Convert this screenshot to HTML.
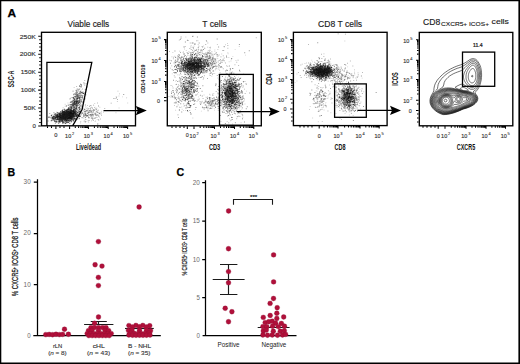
<!DOCTYPE html>
<html><head><meta charset="utf-8"><style>
html,body{margin:0;padding:0;background:#fff;width:520px;height:364px;overflow:hidden}
svg{display:block}
text{font-family:"Liberation Sans", sans-serif}
</style></head><body>
<svg width="520" height="364" viewBox="0 0 520 364" fill="#1a1a1a">
<rect width="520" height="364" fill="#fff"/>
<path fill="none" stroke="#000" stroke-width="1.3" d="M0 0.65H520M0.65 0V364"/>
<path fill="none" stroke="#000" stroke-width="1.6" d="M519.2 0V364M0 363.2H520"/>
<text x="7.50" y="16.50" font-size="10.6" stroke="#000" stroke-width="0.25" textLength="8.6" lengthAdjust="spacingAndGlyphs" font-weight="bold" fill="#000">A</text>
<text x="7.60" y="175.50" font-size="10.6" stroke="#000" stroke-width="0.25" font-weight="bold" fill="#000">B</text>
<text x="176.40" y="175.80" font-size="10.6" stroke="#000" stroke-width="0.25" font-weight="bold" fill="#000">C</text>
<path fill="#000" fill-opacity="0.2" d="M64.6 121.3h.9v.9h-.9zM76.2 95.0h.9v.9h-.9zM77.3 94.6h.9v.9h-.9zM78.0 93.0h.9v.9h-.9zM78.4 96.4h.9v.9h-.9zM69.2 115.0h.9v.9h-.9zM71.3 109.0h.9v.9h-.9zM80.4 102.3h.9v.9h-.9zM77.4 98.3h.9v.9h-.9zM68.7 114.4h.9v.9h-.9zM64.7 105.8h.9v.9h-.9zM77.1 103.2h.9v.9h-.9zM68.1 108.6h.9v.9h-.9zM68.5 114.8h.9v.9h-.9zM77.9 93.2h.9v.9h-.9zM70.3 112.4h.9v.9h-.9zM76.2 103.4h.9v.9h-.9zM82.3 98.1h.9v.9h-.9zM69.6 107.6h.9v.9h-.9zM74.8 114.2h.9v.9h-.9zM65.6 119.5h.9v.9h-.9zM73.1 102.4h.9v.9h-.9zM67.0 119.1h.9v.9h-.9zM63.0 115.9h.9v.9h-.9zM68.5 117.8h.9v.9h-.9zM62.6 113.9h.9v.9h-.9zM77.3 99.3h.9v.9h-.9zM72.9 104.5h.9v.9h-.9zM77.0 91.7h.9v.9h-.9zM70.9 103.8h.9v.9h-.9zM78.3 102.5h.9v.9h-.9zM72.9 106.6h.9v.9h-.9zM72.1 113.4h.9v.9h-.9zM81.9 96.5h.9v.9h-.9zM69.6 116.8h.9v.9h-.9zM74.5 100.7h.9v.9h-.9zM70.4 107.7h.9v.9h-.9zM77.4 99.7h.9v.9h-.9zM70.5 107.2h.9v.9h-.9zM74.8 107.6h.9v.9h-.9zM76.8 99.9h.9v.9h-.9zM71.2 109.0h.9v.9h-.9zM81.0 96.9h.9v.9h-.9zM78.7 100.4h.9v.9h-.9zM74.1 99.1h.9v.9h-.9zM70.4 113.2h.9v.9h-.9zM71.0 109.6h.9v.9h-.9zM71.1 110.3h.9v.9h-.9zM77.9 94.8h.9v.9h-.9zM64.7 103.8h.9v.9h-.9zM80.9 94.9h.9v.9h-.9zM73.1 93.5h.9v.9h-.9zM77.8 97.4h.9v.9h-.9zM72.9 113.1h.9v.9h-.9zM76.3 98.2h.9v.9h-.9zM76.5 99.5h.9v.9h-.9zM79.0 100.8h.9v.9h-.9zM74.3 106.2h.9v.9h-.9zM75.9 100.1h.9v.9h-.9zM74.3 105.6h.9v.9h-.9zM70.5 107.5h.9v.9h-.9zM81.0 96.4h.9v.9h-.9zM78.2 104.5h.9v.9h-.9zM80.7 89.6h.9v.9h-.9zM74.5 110.6h.9v.9h-.9zM71.7 106.5h.9v.9h-.9zM76.6 95.9h.9v.9h-.9zM70.6 105.3h.9v.9h-.9zM74.7 112.2h.9v.9h-.9zM80.0 93.1h.9v.9h-.9zM81.3 92.3h.9v.9h-.9zM72.9 105.9h.9v.9h-.9zM71.1 110.4h.9v.9h-.9zM67.8 114.8h.9v.9h-.9zM75.1 109.6h.9v.9h-.9zM76.9 94.5h.9v.9h-.9zM74.4 105.4h.9v.9h-.9zM70.1 109.4h.9v.9h-.9zM76.5 110.6h.9v.9h-.9zM67.3 108.8h.9v.9h-.9zM74.1 102.8h.9v.9h-.9zM73.1 115.0h.9v.9h-.9zM73.5 110.6h.9v.9h-.9zM79.6 98.6h.9v.9h-.9zM78.5 104.7h.9v.9h-.9zM68.9 112.5h.9v.9h-.9zM73.7 109.3h.9v.9h-.9zM75.4 106.1h.9v.9h-.9zM81.3 95.7h.9v.9h-.9zM83.8 82.4h.9v.9h-.9zM71.6 100.5h.9v.9h-.9zM76.8 94.0h.9v.9h-.9zM81.0 91.8h.9v.9h-.9zM82.1 92.3h.9v.9h-.9zM72.6 91.2h.9v.9h-.9zM77.2 90.5h.9v.9h-.9zM73.8 95.9h.9v.9h-.9zM81.7 95.1h.9v.9h-.9zM76.3 92.7h.9v.9h-.9zM79.9 91.9h.9v.9h-.9zM76.7 102.0h.9v.9h-.9zM77.7 100.4h.9v.9h-.9zM76.5 105.5h.9v.9h-.9zM77.6 94.2h.9v.9h-.9zM80.9 100.2h.9v.9h-.9zM81.7 99.0h.9v.9h-.9zM67.5 102.5h.9v.9h-.9zM77.9 106.7h.9v.9h-.9zM68.9 103.8h.9v.9h-.9zM79.4 93.0h.9v.9h-.9zM77.2 91.2h.9v.9h-.9zM80.7 94.8h.9v.9h-.9zM84.9 98.3h.9v.9h-.9zM79.9 95.6h.9v.9h-.9zM79.1 92.1h.9v.9h-.9zM83.1 101.2h.9v.9h-.9zM80.7 85.1h.9v.9h-.9zM79.5 88.2h.9v.9h-.9zM75.4 96.7h.9v.9h-.9zM78.0 100.4h.9v.9h-.9zM80.9 91.6h.9v.9h-.9zM76.7 97.4h.9v.9h-.9zM80.9 97.3h.9v.9h-.9zM78.9 97.1h.9v.9h-.9zM76.8 95.8h.9v.9h-.9zM71.9 103.9h.9v.9h-.9zM75.2 101.4h.9v.9h-.9zM76.5 100.9h.9v.9h-.9zM82.1 96.5h.9v.9h-.9zM81.6 95.2h.9v.9h-.9zM80.7 98.4h.9v.9h-.9zM78.5 109.1h.9v.9h-.9zM72.4 102.7h.9v.9h-.9zM87.0 115.1h.9v.9h-.9zM81.6 106.6h.9v.9h-.9zM94.7 106.7h.9v.9h-.9zM96.7 118.9h.9v.9h-.9zM98.2 114.4h.9v.9h-.9zM96.8 115.2h.9v.9h-.9zM88.0 115.6h.9v.9h-.9zM91.9 114.0h.9v.9h-.9zM91.3 109.8h.9v.9h-.9zM87.4 108.3h.9v.9h-.9zM87.9 112.4h.9v.9h-.9zM85.5 116.5h.9v.9h-.9zM88.2 121.8h.9v.9h-.9zM91.2 113.4h.9v.9h-.9zM96.2 114.5h.9v.9h-.9zM89.6 114.6h.9v.9h-.9zM75.5 110.1h.9v.9h-.9zM83.8 113.1h.9v.9h-.9zM90.5 113.8h.9v.9h-.9zM90.0 109.7h.9v.9h-.9zM86.1 109.8h.9v.9h-.9zM90.4 107.1h.9v.9h-.9zM73.0 111.7h.9v.9h-.9zM83.0 115.5h.9v.9h-.9zM87.3 107.4h.9v.9h-.9zM80.7 114.5h.9v.9h-.9zM92.5 116.8h.9v.9h-.9zM91.8 112.7h.9v.9h-.9zM84.3 111.8h.9v.9h-.9zM87.3 108.0h.9v.9h-.9zM86.7 115.8h.9v.9h-.9zM86.4 114.7h.9v.9h-.9zM80.3 102.3h.9v.9h-.9zM79.9 122.6h.9v.9h-.9zM99.4 106.8h.9v.9h-.9zM82.1 111.7h.9v.9h-.9zM90.9 116.8h.9v.9h-.9zM83.0 109.8h.9v.9h-.9zM97.1 114.1h.9v.9h-.9zM93.1 109.8h.9v.9h-.9zM96.1 109.7h.9v.9h-.9zM93.1 115.3h.9v.9h-.9zM84.5 113.7h.9v.9h-.9zM76.6 114.7h.9v.9h-.9zM90.0 108.7h.9v.9h-.9zM100.9 110.8h.9v.9h-.9zM81.7 112.6h.9v.9h-.9zM91.7 115.3h.9v.9h-.9zM92.6 116.2h.9v.9h-.9zM81.7 117.7h.9v.9h-.9zM98.3 123.5h.9v.9h-.9zM84.5 119.5h.9v.9h-.9zM91.9 108.1h.9v.9h-.9zM94.3 103.1h.9v.9h-.9zM89.4 110.1h.9v.9h-.9zM78.2 115.5h.9v.9h-.9zM85.8 108.0h.9v.9h-.9zM87.4 109.6h.9v.9h-.9zM82.2 107.5h.9v.9h-.9zM91.7 115.0h.9v.9h-.9zM95.0 120.4h.9v.9h-.9zM83.5 108.1h.9v.9h-.9zM98.6 114.6h.9v.9h-.9zM87.5 116.2h.9v.9h-.9zM94.3 113.7h.9v.9h-.9zM83.7 115.4h.9v.9h-.9zM92.4 119.1h.9v.9h-.9zM83.1 117.5h.9v.9h-.9zM82.4 112.5h.9v.9h-.9zM93.3 109.6h.9v.9h-.9zM91.0 113.9h.9v.9h-.9zM94.7 121.1h.9v.9h-.9zM83.5 115.0h.9v.9h-.9zM89.0 111.8h.9v.9h-.9zM96.6 117.0h.9v.9h-.9zM115.8 98.0h.9v.9h-.9zM115.6 96.4h.9v.9h-.9zM116.3 96.2h.9v.9h-.9zM115.0 98.2h.9v.9h-.9zM118.6 107.5h.9v.9h-.9zM115.5 112.3h.9v.9h-.9zM127.3 102.6h.9v.9h-.9zM122.0 96.4h.9v.9h-.9zM118.5 95.6h.9v.9h-.9z"/>
<path fill="#000" fill-opacity="0.3" d="M79.3 96.1h.9v.9h-.9zM75.7 100.4h.9v.9h-.9zM73.8 113.3h.9v.9h-.9zM66.8 111.5h.9v.9h-.9zM81.5 92.3h.9v.9h-.9zM71.6 101.3h.9v.9h-.9zM77.1 97.6h.9v.9h-.9zM67.8 105.0h.9v.9h-.9zM72.7 113.1h.9v.9h-.9zM77.6 96.1h.9v.9h-.9zM66.3 109.4h.9v.9h-.9zM80.7 100.8h.9v.9h-.9zM71.2 104.5h.9v.9h-.9zM71.7 105.0h.9v.9h-.9zM80.0 105.2h.9v.9h-.9zM67.0 110.4h.9v.9h-.9zM74.9 108.8h.9v.9h-.9zM75.7 100.9h.9v.9h-.9zM70.4 101.9h.9v.9h-.9zM67.8 108.1h.9v.9h-.9zM78.2 97.5h.9v.9h-.9zM70.6 101.0h.9v.9h-.9zM75.9 95.7h.9v.9h-.9zM78.8 101.7h.9v.9h-.9zM71.2 106.7h.9v.9h-.9zM73.5 97.6h.9v.9h-.9zM66.6 117.9h.9v.9h-.9zM75.1 101.7h.9v.9h-.9zM70.6 108.1h.9v.9h-.9zM72.1 113.6h.9v.9h-.9zM75.7 107.8h.9v.9h-.9zM74.1 99.6h.9v.9h-.9zM83.3 82.2h.9v.9h-.9zM72.9 110.4h.9v.9h-.9zM83.4 99.1h.9v.9h-.9zM82.2 91.9h.9v.9h-.9zM74.2 99.6h.9v.9h-.9zM77.1 98.6h.9v.9h-.9zM69.0 106.4h.9v.9h-.9zM76.8 103.2h.9v.9h-.9zM72.4 104.7h.9v.9h-.9zM70.1 109.5h.9v.9h-.9zM82.0 97.6h.9v.9h-.9zM73.7 86.9h.9v.9h-.9zM76.8 97.6h.9v.9h-.9zM79.1 104.0h.9v.9h-.9zM73.2 103.1h.9v.9h-.9zM79.5 100.0h.9v.9h-.9zM87.1 86.4h.9v.9h-.9zM77.8 103.1h.9v.9h-.9zM64.8 117.4h.9v.9h-.9zM72.3 105.6h.9v.9h-.9zM72.8 109.9h.9v.9h-.9zM76.0 102.1h.9v.9h-.9zM75.4 103.6h.9v.9h-.9zM72.9 105.2h.9v.9h-.9zM70.9 113.0h.9v.9h-.9zM65.4 109.5h.9v.9h-.9zM78.5 97.7h.9v.9h-.9zM69.3 110.3h.9v.9h-.9zM64.0 114.2h.9v.9h-.9zM74.0 100.3h.9v.9h-.9zM74.3 106.7h.9v.9h-.9zM71.6 110.6h.9v.9h-.9zM66.8 113.7h.9v.9h-.9zM78.7 96.7h.9v.9h-.9zM66.7 109.3h.9v.9h-.9zM72.8 104.3h.9v.9h-.9zM70.1 112.2h.9v.9h-.9zM74.1 98.3h.9v.9h-.9zM81.7 92.2h.9v.9h-.9zM73.2 104.8h.9v.9h-.9zM77.8 104.9h.9v.9h-.9zM77.2 104.9h.9v.9h-.9zM76.7 106.8h.9v.9h-.9zM77.0 95.1h.9v.9h-.9zM72.8 110.7h.9v.9h-.9zM75.2 102.9h.9v.9h-.9zM71.1 116.2h.9v.9h-.9zM72.1 105.5h.9v.9h-.9zM72.0 99.8h.9v.9h-.9zM80.8 84.0h.9v.9h-.9zM76.4 101.6h.9v.9h-.9zM76.2 108.0h.9v.9h-.9zM75.3 104.9h.9v.9h-.9zM75.4 100.7h.9v.9h-.9zM70.0 110.5h.9v.9h-.9zM69.5 113.0h.9v.9h-.9zM69.8 112.2h.9v.9h-.9zM69.0 104.6h.9v.9h-.9zM70.9 112.0h.9v.9h-.9zM70.5 110.5h.9v.9h-.9zM71.6 97.1h.9v.9h-.9zM78.6 102.8h.9v.9h-.9zM69.9 111.3h.9v.9h-.9zM71.6 101.1h.9v.9h-.9zM78.8 91.3h.9v.9h-.9zM81.9 101.5h.9v.9h-.9zM72.3 103.8h.9v.9h-.9zM74.6 109.0h.9v.9h-.9zM74.7 99.1h.9v.9h-.9zM81.0 84.3h.9v.9h-.9zM80.0 90.9h.9v.9h-.9zM82.2 96.7h.9v.9h-.9zM75.5 91.9h.9v.9h-.9zM78.0 93.4h.9v.9h-.9zM71.8 103.1h.9v.9h-.9zM83.3 93.0h.9v.9h-.9zM74.3 95.9h.9v.9h-.9zM80.0 83.6h.9v.9h-.9zM76.6 94.9h.9v.9h-.9zM84.1 99.0h.9v.9h-.9zM84.4 83.6h.9v.9h-.9zM75.7 103.2h.9v.9h-.9zM71.7 112.3h.9v.9h-.9zM78.8 92.9h.9v.9h-.9zM76.6 100.8h.9v.9h-.9zM82.5 91.0h.9v.9h-.9zM73.3 106.5h.9v.9h-.9zM72.6 90.5h.9v.9h-.9zM79.1 97.4h.9v.9h-.9zM81.1 84.9h.9v.9h-.9zM75.8 101.2h.9v.9h-.9zM73.9 97.6h.9v.9h-.9zM80.6 92.6h.9v.9h-.9zM69.9 97.8h.9v.9h-.9zM78.3 90.5h.9v.9h-.9zM85.5 89.1h.9v.9h-.9zM84.3 84.9h.9v.9h-.9zM78.0 97.4h.9v.9h-.9zM84.3 80.1h.9v.9h-.9zM76.1 99.4h.9v.9h-.9zM82.6 94.8h.9v.9h-.9zM77.8 113.6h.9v.9h-.9zM73.8 99.2h.9v.9h-.9zM79.7 91.8h.9v.9h-.9zM82.0 96.6h.9v.9h-.9zM77.8 101.2h.9v.9h-.9zM75.6 90.0h.9v.9h-.9zM79.8 94.2h.9v.9h-.9zM77.8 100.8h.9v.9h-.9zM78.9 94.6h.9v.9h-.9zM73.6 102.2h.9v.9h-.9zM80.0 96.9h.9v.9h-.9zM79.9 85.8h.9v.9h-.9zM83.2 91.9h.9v.9h-.9zM73.9 107.4h.9v.9h-.9zM82.0 88.6h.9v.9h-.9zM85.7 83.2h.9v.9h-.9zM77.8 96.1h.9v.9h-.9zM74.2 101.4h.9v.9h-.9zM76.4 90.5h.9v.9h-.9zM76.2 86.1h.9v.9h-.9zM76.2 92.1h.9v.9h-.9zM80.3 91.3h.9v.9h-.9zM76.6 102.1h.9v.9h-.9zM71.1 104.1h.9v.9h-.9zM75.2 98.8h.9v.9h-.9zM93.0 112.3h.9v.9h-.9zM88.2 112.6h.9v.9h-.9zM94.3 117.4h.9v.9h-.9zM88.0 116.8h.9v.9h-.9zM85.3 111.0h.9v.9h-.9zM91.1 120.4h.9v.9h-.9zM75.5 111.5h.9v.9h-.9zM92.3 118.6h.9v.9h-.9zM83.9 114.4h.9v.9h-.9zM95.6 111.8h.9v.9h-.9zM79.0 110.9h.9v.9h-.9zM85.4 121.0h.9v.9h-.9zM104.3 108.1h.9v.9h-.9zM97.9 119.2h.9v.9h-.9zM84.6 117.3h.9v.9h-.9zM91.8 112.0h.9v.9h-.9zM97.2 110.4h.9v.9h-.9zM85.7 115.9h.9v.9h-.9zM85.3 114.6h.9v.9h-.9zM89.9 108.1h.9v.9h-.9zM83.8 108.8h.9v.9h-.9zM95.1 117.2h.9v.9h-.9zM87.1 105.2h.9v.9h-.9zM93.1 111.0h.9v.9h-.9zM84.7 111.7h.9v.9h-.9zM88.7 120.1h.9v.9h-.9zM89.6 108.0h.9v.9h-.9zM89.9 114.0h.9v.9h-.9zM90.8 110.3h.9v.9h-.9zM80.3 108.2h.9v.9h-.9zM101.1 115.2h.9v.9h-.9zM78.9 113.4h.9v.9h-.9zM89.8 111.2h.9v.9h-.9zM83.7 114.5h.9v.9h-.9zM84.9 113.4h.9v.9h-.9zM84.8 109.6h.9v.9h-.9zM80.7 104.3h.9v.9h-.9zM85.3 118.9h.9v.9h-.9zM80.3 108.9h.9v.9h-.9zM95.8 114.9h.9v.9h-.9zM103.0 111.7h.9v.9h-.9zM87.0 109.8h.9v.9h-.9zM80.3 121.3h.9v.9h-.9zM99.9 118.5h.9v.9h-.9zM88.5 110.1h.9v.9h-.9zM85.8 114.7h.9v.9h-.9zM87.0 110.6h.9v.9h-.9zM97.1 102.5h.9v.9h-.9zM96.2 114.7h.9v.9h-.9zM99.1 113.2h.9v.9h-.9zM84.0 115.6h.9v.9h-.9zM88.5 117.2h.9v.9h-.9zM87.9 112.0h.9v.9h-.9zM86.1 115.8h.9v.9h-.9zM97.2 111.6h.9v.9h-.9zM85.5 119.2h.9v.9h-.9zM94.1 106.9h.9v.9h-.9zM79.7 115.8h.9v.9h-.9zM92.1 110.4h.9v.9h-.9zM85.6 112.8h.9v.9h-.9zM80.1 110.7h.9v.9h-.9zM92.6 109.6h.9v.9h-.9zM91.8 117.2h.9v.9h-.9zM85.4 106.5h.9v.9h-.9zM96.3 107.8h.9v.9h-.9zM90.1 110.7h.9v.9h-.9zM98.9 116.6h.9v.9h-.9zM100.0 118.7h.9v.9h-.9zM83.2 115.4h.9v.9h-.9zM90.2 115.8h.9v.9h-.9zM95.7 111.9h.9v.9h-.9zM87.2 115.5h.9v.9h-.9zM92.4 118.0h.9v.9h-.9zM96.3 116.7h.9v.9h-.9zM91.2 106.7h.9v.9h-.9zM100.6 113.8h.9v.9h-.9zM86.8 110.3h.9v.9h-.9zM117.5 90.7h.9v.9h-.9zM126.2 97.4h.9v.9h-.9zM119.0 93.4h.9v.9h-.9zM116.0 97.0h.9v.9h-.9zM116.9 100.9h.9v.9h-.9z"/>
<path fill="#000" fill-opacity="0.35" d="M65.8 119.3h.9v.9h-.9zM63.0 114.8h.9v.9h-.9zM66.0 113.6h.9v.9h-.9zM56.0 114.3h.9v.9h-.9zM65.3 116.3h.9v.9h-.9zM70.8 113.2h.9v.9h-.9zM66.1 116.1h.9v.9h-.9zM69.8 115.6h.9v.9h-.9zM65.9 117.4h.9v.9h-.9zM72.7 113.2h.9v.9h-.9zM66.1 113.0h.9v.9h-.9zM68.7 110.6h.9v.9h-.9zM63.9 115.3h.9v.9h-.9zM63.4 115.6h.9v.9h-.9zM63.8 118.9h.9v.9h-.9zM59.0 117.9h.9v.9h-.9zM61.3 115.1h.9v.9h-.9zM66.5 117.1h.9v.9h-.9zM54.9 119.8h.9v.9h-.9zM56.8 119.2h.9v.9h-.9zM66.2 112.1h.9v.9h-.9zM64.7 113.7h.9v.9h-.9zM71.0 113.8h.9v.9h-.9zM65.2 114.1h.9v.9h-.9zM71.8 114.6h.9v.9h-.9zM62.7 116.5h.9v.9h-.9zM63.6 115.5h.9v.9h-.9zM58.6 115.1h.9v.9h-.9zM73.8 113.0h.9v.9h-.9zM72.5 111.3h.9v.9h-.9zM64.5 114.6h.9v.9h-.9zM62.8 116.1h.9v.9h-.9zM72.2 113.7h.9v.9h-.9zM64.7 116.2h.9v.9h-.9zM63.2 120.1h.9v.9h-.9zM59.3 119.1h.9v.9h-.9zM68.0 117.8h.9v.9h-.9zM74.9 118.2h.9v.9h-.9zM65.4 118.1h.9v.9h-.9zM57.3 112.0h.9v.9h-.9zM66.8 115.9h.9v.9h-.9zM64.3 116.3h.9v.9h-.9zM60.6 115.1h.9v.9h-.9zM60.5 114.6h.9v.9h-.9zM67.3 116.6h.9v.9h-.9zM65.4 112.4h.9v.9h-.9zM64.0 119.1h.9v.9h-.9zM49.2 117.2h.9v.9h-.9zM60.3 118.1h.9v.9h-.9zM59.1 116.7h.9v.9h-.9zM65.5 112.7h.9v.9h-.9zM74.1 118.3h.9v.9h-.9zM63.2 118.3h.9v.9h-.9zM71.4 115.9h.9v.9h-.9zM65.5 119.8h.9v.9h-.9zM66.6 115.2h.9v.9h-.9zM65.2 114.6h.9v.9h-.9zM68.0 115.8h.9v.9h-.9zM63.8 113.5h.9v.9h-.9zM64.4 116.4h.9v.9h-.9zM57.5 116.7h.9v.9h-.9zM61.2 118.9h.9v.9h-.9zM62.5 116.9h.9v.9h-.9zM64.2 115.7h.9v.9h-.9zM60.3 117.6h.9v.9h-.9zM71.9 112.8h.9v.9h-.9zM68.0 120.2h.9v.9h-.9zM68.5 115.7h.9v.9h-.9zM55.8 114.0h.9v.9h-.9zM63.6 114.6h.9v.9h-.9zM68.7 121.1h.9v.9h-.9zM70.9 114.0h.9v.9h-.9zM66.6 118.3h.9v.9h-.9zM56.8 115.4h.9v.9h-.9zM63.6 118.8h.9v.9h-.9zM66.6 112.8h.9v.9h-.9zM72.2 116.4h.9v.9h-.9zM64.0 113.4h.9v.9h-.9zM78.2 113.6h.9v.9h-.9zM66.3 111.7h.9v.9h-.9zM63.6 118.7h.9v.9h-.9zM59.2 119.6h.9v.9h-.9zM57.9 117.2h.9v.9h-.9zM62.3 114.1h.9v.9h-.9zM69.8 114.0h.9v.9h-.9zM65.0 116.2h.9v.9h-.9zM65.3 111.8h.9v.9h-.9zM56.5 117.3h.9v.9h-.9zM60.1 115.0h.9v.9h-.9zM66.7 115.7h.9v.9h-.9zM66.3 116.0h.9v.9h-.9zM57.7 114.7h.9v.9h-.9zM58.8 118.9h.9v.9h-.9zM69.6 113.0h.9v.9h-.9zM72.5 107.9h.9v.9h-.9zM70.7 112.5h.9v.9h-.9zM64.1 112.5h.9v.9h-.9zM63.5 116.2h.9v.9h-.9zM65.1 115.8h.9v.9h-.9zM59.9 116.7h.9v.9h-.9zM74.8 114.2h.9v.9h-.9zM62.5 114.6h.9v.9h-.9zM68.5 115.3h.9v.9h-.9zM66.7 115.8h.9v.9h-.9zM58.8 115.5h.9v.9h-.9zM64.0 111.1h.9v.9h-.9zM66.0 116.3h.9v.9h-.9zM67.8 116.2h.9v.9h-.9zM62.2 115.9h.9v.9h-.9zM68.2 118.5h.9v.9h-.9zM57.7 119.6h.9v.9h-.9zM67.4 112.0h.9v.9h-.9zM66.9 120.1h.9v.9h-.9zM57.3 118.7h.9v.9h-.9zM57.0 116.4h.9v.9h-.9zM62.5 114.3h.9v.9h-.9zM54.2 116.9h.9v.9h-.9zM69.3 108.6h.9v.9h-.9zM70.0 120.1h.9v.9h-.9zM64.7 116.0h.9v.9h-.9zM70.7 111.4h.9v.9h-.9zM70.7 116.4h.9v.9h-.9zM66.8 113.5h.9v.9h-.9zM70.1 113.7h.9v.9h-.9zM63.3 119.3h.9v.9h-.9zM73.2 114.5h.9v.9h-.9zM57.3 113.7h.9v.9h-.9zM64.8 116.6h.9v.9h-.9zM71.2 115.1h.9v.9h-.9zM64.4 117.9h.9v.9h-.9zM57.5 114.7h.9v.9h-.9zM54.0 120.8h.9v.9h-.9zM66.8 118.6h.9v.9h-.9zM59.5 115.7h.9v.9h-.9zM65.9 111.0h.9v.9h-.9zM67.2 112.0h.9v.9h-.9zM67.0 115.5h.9v.9h-.9zM62.8 114.9h.9v.9h-.9zM65.2 115.9h.9v.9h-.9zM60.1 115.9h.9v.9h-.9zM65.9 114.6h.9v.9h-.9zM62.1 115.2h.9v.9h-.9zM67.1 119.7h.9v.9h-.9zM61.7 114.3h.9v.9h-.9zM69.0 115.2h.9v.9h-.9zM67.3 116.0h.9v.9h-.9zM67.5 116.7h.9v.9h-.9zM58.2 116.7h.9v.9h-.9zM68.3 113.8h.9v.9h-.9zM69.4 112.5h.9v.9h-.9zM69.5 116.8h.9v.9h-.9zM72.7 115.4h.9v.9h-.9zM70.2 113.8h.9v.9h-.9zM64.7 122.3h.9v.9h-.9zM65.1 116.9h.9v.9h-.9zM71.6 113.8h.9v.9h-.9zM72.1 115.8h.9v.9h-.9zM69.8 120.5h.9v.9h-.9zM64.1 116.5h.9v.9h-.9zM60.7 116.2h.9v.9h-.9zM71.2 120.9h.9v.9h-.9zM75.6 113.9h.9v.9h-.9zM69.2 115.7h.9v.9h-.9zM66.9 117.6h.9v.9h-.9zM70.7 114.1h.9v.9h-.9zM71.5 113.5h.9v.9h-.9zM60.0 120.0h.9v.9h-.9zM63.7 118.6h.9v.9h-.9zM71.5 114.0h.9v.9h-.9zM63.4 119.1h.9v.9h-.9zM74.8 118.8h.9v.9h-.9zM55.7 115.1h.9v.9h-.9zM68.8 117.4h.9v.9h-.9zM67.8 117.3h.9v.9h-.9zM54.2 119.3h.9v.9h-.9zM67.4 113.4h.9v.9h-.9zM67.8 113.6h.9v.9h-.9zM67.4 120.1h.9v.9h-.9zM70.3 113.6h.9v.9h-.9zM67.4 113.9h.9v.9h-.9zM61.9 116.0h.9v.9h-.9zM66.9 112.2h.9v.9h-.9zM56.8 114.7h.9v.9h-.9zM55.3 115.2h.9v.9h-.9zM67.0 115.0h.9v.9h-.9zM74.2 109.7h.9v.9h-.9zM64.0 118.4h.9v.9h-.9zM63.7 114.3h.9v.9h-.9zM61.1 115.7h.9v.9h-.9zM59.9 113.0h.9v.9h-.9zM62.0 111.0h.9v.9h-.9zM67.9 120.3h.9v.9h-.9zM60.0 116.2h.9v.9h-.9zM64.4 116.6h.9v.9h-.9zM65.5 114.2h.9v.9h-.9zM60.9 115.1h.9v.9h-.9zM62.1 121.6h.9v.9h-.9zM67.0 122.0h.9v.9h-.9zM69.4 115.9h.9v.9h-.9zM64.5 114.8h.9v.9h-.9zM64.4 114.8h.9v.9h-.9zM69.2 114.4h.9v.9h-.9zM67.3 117.0h.9v.9h-.9zM67.3 115.9h.9v.9h-.9zM64.9 115.3h.9v.9h-.9zM69.3 112.7h.9v.9h-.9zM72.2 115.0h.9v.9h-.9zM62.1 116.9h.9v.9h-.9zM65.3 118.7h.9v.9h-.9zM61.7 121.0h.9v.9h-.9zM67.7 118.3h.9v.9h-.9zM63.0 114.3h.9v.9h-.9zM65.7 117.2h.9v.9h-.9zM62.5 115.8h.9v.9h-.9zM63.8 116.8h.9v.9h-.9zM63.6 114.3h.9v.9h-.9zM64.8 114.0h.9v.9h-.9zM63.0 118.7h.9v.9h-.9zM58.7 117.6h.9v.9h-.9zM70.5 115.0h.9v.9h-.9zM68.5 119.9h.9v.9h-.9zM65.3 112.3h.9v.9h-.9zM61.2 113.1h.9v.9h-.9zM59.5 120.2h.9v.9h-.9zM68.8 118.6h.9v.9h-.9zM71.6 118.0h.9v.9h-.9zM57.8 116.9h.9v.9h-.9zM59.8 121.9h.9v.9h-.9zM62.3 117.3h.9v.9h-.9zM62.0 120.0h.9v.9h-.9zM66.3 112.2h.9v.9h-.9zM73.5 112.7h.9v.9h-.9zM66.8 113.5h.9v.9h-.9zM65.2 118.0h.9v.9h-.9zM57.6 120.0h.9v.9h-.9zM57.4 119.5h.9v.9h-.9zM66.9 118.0h.9v.9h-.9zM61.7 113.4h.9v.9h-.9zM63.0 111.8h.9v.9h-.9zM64.4 115.4h.9v.9h-.9zM74.0 113.8h.9v.9h-.9zM58.6 114.6h.9v.9h-.9zM64.1 118.1h.9v.9h-.9zM74.6 112.3h.9v.9h-.9zM72.8 118.8h.9v.9h-.9zM75.2 117.7h.9v.9h-.9zM65.3 119.0h.9v.9h-.9zM70.1 112.2h.9v.9h-.9zM64.1 112.9h.9v.9h-.9zM61.7 117.1h.9v.9h-.9zM61.0 113.8h.9v.9h-.9zM77.3 115.4h.9v.9h-.9zM63.8 118.2h.9v.9h-.9zM67.0 116.5h.9v.9h-.9zM64.8 113.7h.9v.9h-.9zM58.4 115.1h.9v.9h-.9zM63.8 119.9h.9v.9h-.9zM64.4 116.4h.9v.9h-.9zM67.8 116.2h.9v.9h-.9zM77.2 112.4h.9v.9h-.9zM60.8 118.1h.9v.9h-.9zM67.6 117.6h.9v.9h-.9zM62.0 115.0h.9v.9h-.9zM65.0 117.5h.9v.9h-.9zM56.0 120.0h.9v.9h-.9zM72.5 111.9h.9v.9h-.9zM68.9 115.2h.9v.9h-.9zM60.1 120.5h.9v.9h-.9zM65.2 119.2h.9v.9h-.9zM65.5 113.1h.9v.9h-.9zM69.6 114.1h.9v.9h-.9zM76.4 116.0h.9v.9h-.9zM67.6 113.5h.9v.9h-.9zM65.9 115.5h.9v.9h-.9zM63.5 115.6h.9v.9h-.9zM66.6 118.5h.9v.9h-.9zM60.3 114.0h.9v.9h-.9zM61.1 114.5h.9v.9h-.9zM66.1 116.9h.9v.9h-.9zM73.9 115.5h.9v.9h-.9zM60.8 117.4h.9v.9h-.9zM64.4 119.0h.9v.9h-.9zM63.5 115.0h.9v.9h-.9zM68.8 116.0h.9v.9h-.9zM75.8 114.9h.9v.9h-.9zM64.9 115.9h.9v.9h-.9zM64.3 110.8h.9v.9h-.9zM63.3 115.7h.9v.9h-.9zM67.0 116.1h.9v.9h-.9zM71.4 112.5h.9v.9h-.9zM63.2 118.3h.9v.9h-.9zM59.1 116.0h.9v.9h-.9zM60.5 116.8h.9v.9h-.9zM67.2 118.3h.9v.9h-.9zM72.7 115.3h.9v.9h-.9zM64.1 118.2h.9v.9h-.9zM68.7 113.6h.9v.9h-.9zM64.1 113.7h.9v.9h-.9zM69.6 118.2h.9v.9h-.9zM61.2 116.3h.9v.9h-.9zM70.4 113.6h.9v.9h-.9zM63.6 114.4h.9v.9h-.9zM71.3 116.9h.9v.9h-.9zM70.0 116.4h.9v.9h-.9zM70.7 113.8h.9v.9h-.9zM64.0 112.8h.9v.9h-.9zM58.9 114.2h.9v.9h-.9zM54.0 119.7h.9v.9h-.9zM59.6 114.3h.9v.9h-.9zM57.8 121.8h.9v.9h-.9zM66.5 119.3h.9v.9h-.9zM63.2 118.9h.9v.9h-.9zM75.0 115.3h.9v.9h-.9zM66.0 121.5h.9v.9h-.9zM71.1 118.1h.9v.9h-.9zM66.4 115.9h.9v.9h-.9zM60.6 118.2h.9v.9h-.9zM55.3 116.5h.9v.9h-.9zM62.2 113.1h.9v.9h-.9zM73.3 114.0h.9v.9h-.9zM60.1 119.4h.9v.9h-.9zM66.7 116.4h.9v.9h-.9zM64.3 121.2h.9v.9h-.9zM64.0 113.1h.9v.9h-.9zM70.2 112.8h.9v.9h-.9zM67.3 117.4h.9v.9h-.9zM68.5 116.9h.9v.9h-.9zM63.3 113.0h.9v.9h-.9zM72.9 115.5h.9v.9h-.9zM65.1 116.1h.9v.9h-.9zM71.1 115.4h.9v.9h-.9zM64.7 115.4h.9v.9h-.9zM67.2 113.5h.9v.9h-.9zM63.0 116.3h.9v.9h-.9zM62.7 116.1h.9v.9h-.9zM76.0 112.2h.9v.9h-.9zM74.6 113.8h.9v.9h-.9zM65.2 118.3h.9v.9h-.9zM66.2 115.6h.9v.9h-.9zM63.8 114.6h.9v.9h-.9zM63.6 114.4h.9v.9h-.9zM63.4 117.5h.9v.9h-.9zM60.7 116.4h.9v.9h-.9zM57.7 118.7h.9v.9h-.9zM66.9 115.4h.9v.9h-.9zM70.4 118.3h.9v.9h-.9zM61.8 113.6h.9v.9h-.9zM62.3 115.3h.9v.9h-.9zM70.1 113.6h.9v.9h-.9zM69.6 114.5h.9v.9h-.9zM69.1 116.6h.9v.9h-.9zM59.1 117.6h.9v.9h-.9zM64.7 113.9h.9v.9h-.9zM69.4 114.0h.9v.9h-.9zM63.0 113.0h.9v.9h-.9zM66.7 113.0h.9v.9h-.9zM72.1 117.7h.9v.9h-.9zM66.7 111.5h.9v.9h-.9zM60.3 119.2h.9v.9h-.9zM74.1 115.4h.9v.9h-.9zM71.7 113.5h.9v.9h-.9zM67.6 111.9h.9v.9h-.9zM59.8 113.5h.9v.9h-.9zM76.1 114.7h.9v.9h-.9zM63.2 120.5h.9v.9h-.9zM66.1 116.0h.9v.9h-.9zM58.6 121.7h.9v.9h-.9zM58.8 120.9h.9v.9h-.9zM68.5 114.6h.9v.9h-.9zM64.0 118.8h.9v.9h-.9zM62.6 117.8h.9v.9h-.9zM64.9 115.8h.9v.9h-.9zM65.4 117.5h.9v.9h-.9zM73.4 114.6h.9v.9h-.9zM71.4 117.5h.9v.9h-.9zM64.4 117.3h.9v.9h-.9zM69.0 108.5h.9v.9h-.9zM70.8 121.3h.9v.9h-.9zM62.9 116.6h.9v.9h-.9zM64.2 117.1h.9v.9h-.9zM60.8 117.4h.9v.9h-.9zM71.2 111.9h.9v.9h-.9zM69.8 116.7h.9v.9h-.9zM74.5 109.9h.9v.9h-.9zM62.0 114.6h.9v.9h-.9zM59.8 115.5h.9v.9h-.9zM65.5 115.6h.9v.9h-.9zM58.4 116.4h.9v.9h-.9zM63.9 112.2h.9v.9h-.9zM69.1 113.5h.9v.9h-.9zM60.4 114.0h.9v.9h-.9zM66.8 113.1h.9v.9h-.9zM64.1 115.6h.9v.9h-.9zM56.0 118.4h.9v.9h-.9zM69.0 110.4h.9v.9h-.9zM70.3 113.3h.9v.9h-.9zM62.0 114.8h.9v.9h-.9zM71.5 120.3h.9v.9h-.9zM67.2 114.0h.9v.9h-.9zM63.4 119.0h.9v.9h-.9zM60.9 120.3h.9v.9h-.9zM57.0 116.3h.9v.9h-.9zM63.2 115.1h.9v.9h-.9zM69.4 115.8h.9v.9h-.9zM59.7 120.2h.9v.9h-.9zM66.4 116.0h.9v.9h-.9zM62.7 107.4h.9v.9h-.9zM66.7 118.6h.9v.9h-.9zM66.9 114.8h.9v.9h-.9zM65.4 118.4h.9v.9h-.9zM64.2 116.4h.9v.9h-.9zM62.1 114.6h.9v.9h-.9zM73.8 114.0h.9v.9h-.9zM64.0 119.9h.9v.9h-.9zM63.5 122.1h.9v.9h-.9zM58.8 118.1h.9v.9h-.9zM63.9 112.6h.9v.9h-.9zM70.0 118.2h.9v.9h-.9zM64.6 118.5h.9v.9h-.9zM66.6 117.5h.9v.9h-.9zM72.7 112.2h.9v.9h-.9zM63.2 112.9h.9v.9h-.9zM69.3 112.4h.9v.9h-.9zM69.8 115.9h.9v.9h-.9zM64.0 116.0h.9v.9h-.9zM70.0 112.7h.9v.9h-.9zM57.2 114.9h.9v.9h-.9zM62.9 114.4h.9v.9h-.9zM61.7 116.5h.9v.9h-.9zM72.4 114.3h.9v.9h-.9zM66.9 118.7h.9v.9h-.9zM70.6 119.3h.9v.9h-.9zM67.0 116.3h.9v.9h-.9zM65.8 116.0h.9v.9h-.9zM73.8 119.3h.9v.9h-.9zM67.7 116.7h.9v.9h-.9zM58.2 114.5h.9v.9h-.9zM65.7 114.5h.9v.9h-.9zM66.3 116.0h.9v.9h-.9zM64.5 114.0h.9v.9h-.9zM57.7 118.6h.9v.9h-.9zM56.0 120.4h.9v.9h-.9zM62.7 122.3h.9v.9h-.9zM62.5 117.3h.9v.9h-.9zM68.5 112.8h.9v.9h-.9zM66.6 113.5h.9v.9h-.9zM70.8 116.3h.9v.9h-.9zM65.6 112.7h.9v.9h-.9zM66.1 114.0h.9v.9h-.9zM69.0 115.2h.9v.9h-.9zM61.4 118.9h.9v.9h-.9zM64.0 116.5h.9v.9h-.9zM73.0 114.2h.9v.9h-.9zM67.4 117.9h.9v.9h-.9zM66.7 112.8h.9v.9h-.9zM70.5 117.2h.9v.9h-.9zM74.0 114.6h.9v.9h-.9zM68.6 117.1h.9v.9h-.9zM67.4 114.2h.9v.9h-.9zM67.5 116.0h.9v.9h-.9zM69.7 112.2h.9v.9h-.9zM67.5 112.2h.9v.9h-.9zM65.2 117.1h.9v.9h-.9zM66.9 118.4h.9v.9h-.9zM66.7 116.9h.9v.9h-.9zM61.1 118.7h.9v.9h-.9zM69.1 116.8h.9v.9h-.9zM74.6 115.3h.9v.9h-.9zM71.6 112.5h.9v.9h-.9zM68.0 117.5h.9v.9h-.9zM69.5 123.2h.9v.9h-.9zM61.0 115.1h.9v.9h-.9zM60.0 115.2h.9v.9h-.9zM64.5 113.7h.9v.9h-.9zM63.8 117.9h.9v.9h-.9zM56.1 115.5h.9v.9h-.9zM69.2 115.6h.9v.9h-.9zM67.8 113.2h.9v.9h-.9zM75.0 113.1h.9v.9h-.9zM68.5 112.6h.9v.9h-.9zM71.4 113.1h.9v.9h-.9zM67.8 115.7h.9v.9h-.9zM64.1 113.1h.9v.9h-.9zM66.1 114.3h.9v.9h-.9zM68.0 115.1h.9v.9h-.9zM64.6 119.3h.9v.9h-.9zM69.5 117.1h.9v.9h-.9zM71.0 112.5h.9v.9h-.9zM57.6 115.5h.9v.9h-.9zM61.6 116.5h.9v.9h-.9zM70.7 113.6h.9v.9h-.9zM61.8 118.6h.9v.9h-.9zM73.3 111.9h.9v.9h-.9zM63.4 114.4h.9v.9h-.9zM65.2 115.5h.9v.9h-.9zM65.5 111.0h.9v.9h-.9zM72.5 115.4h.9v.9h-.9zM69.3 114.4h.9v.9h-.9zM72.9 117.4h.9v.9h-.9zM60.2 115.2h.9v.9h-.9zM56.0 119.2h.9v.9h-.9zM64.5 116.8h.9v.9h-.9zM65.0 115.9h.9v.9h-.9zM62.4 120.3h.9v.9h-.9zM69.5 112.6h.9v.9h-.9zM59.9 116.0h.9v.9h-.9zM71.3 115.9h.9v.9h-.9zM57.9 117.1h.9v.9h-.9zM65.9 114.2h.9v.9h-.9zM70.3 113.5h.9v.9h-.9zM70.4 115.1h.9v.9h-.9zM67.4 115.6h.9v.9h-.9zM72.8 117.2h.9v.9h-.9zM61.3 114.9h.9v.9h-.9zM72.3 115.7h.9v.9h-.9zM59.6 121.4h.9v.9h-.9zM66.8 112.3h.9v.9h-.9zM67.2 114.8h.9v.9h-.9zM56.3 111.8h.9v.9h-.9zM55.0 116.9h.9v.9h-.9zM61.4 113.6h.9v.9h-.9zM60.2 112.6h.9v.9h-.9zM66.8 111.3h.9v.9h-.9zM70.0 111.5h.9v.9h-.9zM72.2 111.6h.9v.9h-.9zM71.5 116.4h.9v.9h-.9zM59.1 116.5h.9v.9h-.9zM66.3 115.2h.9v.9h-.9zM67.3 116.0h.9v.9h-.9zM67.9 109.2h.9v.9h-.9zM71.4 114.2h.9v.9h-.9zM67.7 113.5h.9v.9h-.9zM74.1 110.5h.9v.9h-.9zM68.0 113.5h.9v.9h-.9zM72.7 113.0h.9v.9h-.9zM63.3 111.1h.9v.9h-.9zM75.0 110.9h.9v.9h-.9zM70.0 114.8h.9v.9h-.9zM68.4 113.0h.9v.9h-.9zM68.0 118.7h.9v.9h-.9zM77.3 108.5h.9v.9h-.9zM69.1 114.2h.9v.9h-.9zM64.8 117.5h.9v.9h-.9zM62.8 116.3h.9v.9h-.9zM78.4 111.8h.9v.9h-.9zM70.8 114.4h.9v.9h-.9zM70.2 117.6h.9v.9h-.9zM62.0 112.0h.9v.9h-.9zM73.7 109.6h.9v.9h-.9zM74.9 112.3h.9v.9h-.9zM66.8 115.9h.9v.9h-.9zM67.1 116.7h.9v.9h-.9zM68.1 117.0h.9v.9h-.9zM70.2 116.4h.9v.9h-.9zM69.2 115.2h.9v.9h-.9zM64.2 114.9h.9v.9h-.9zM63.4 110.5h.9v.9h-.9zM75.2 113.7h.9v.9h-.9zM71.2 114.1h.9v.9h-.9zM69.1 114.5h.9v.9h-.9zM65.4 114.9h.9v.9h-.9zM69.4 112.4h.9v.9h-.9zM70.4 116.0h.9v.9h-.9zM79.4 115.2h.9v.9h-.9zM68.7 111.4h.9v.9h-.9zM67.2 110.1h.9v.9h-.9zM74.1 108.2h.9v.9h-.9zM69.9 110.1h.9v.9h-.9zM72.9 120.2h.9v.9h-.9zM65.4 113.5h.9v.9h-.9zM67.4 116.1h.9v.9h-.9zM76.1 114.3h.9v.9h-.9zM73.2 109.7h.9v.9h-.9zM72.3 110.5h.9v.9h-.9zM69.3 117.6h.9v.9h-.9zM77.3 112.8h.9v.9h-.9zM73.5 112.0h.9v.9h-.9zM62.6 115.3h.9v.9h-.9zM70.2 109.4h.9v.9h-.9zM68.1 110.3h.9v.9h-.9zM60.6 115.1h.9v.9h-.9zM75.6 111.3h.9v.9h-.9zM77.1 113.9h.9v.9h-.9zM65.8 117.0h.9v.9h-.9zM70.4 117.8h.9v.9h-.9zM63.6 116.3h.9v.9h-.9zM65.7 113.4h.9v.9h-.9zM74.2 112.1h.9v.9h-.9zM72.5 114.4h.9v.9h-.9zM73.9 113.1h.9v.9h-.9zM66.5 117.3h.9v.9h-.9zM72.3 112.9h.9v.9h-.9zM68.8 114.9h.9v.9h-.9zM70.6 107.1h.9v.9h-.9zM72.8 107.4h.9v.9h-.9zM73.4 114.0h.9v.9h-.9zM63.5 111.5h.9v.9h-.9zM73.4 110.7h.9v.9h-.9zM69.3 113.7h.9v.9h-.9zM75.0 114.8h.9v.9h-.9zM70.3 115.4h.9v.9h-.9zM68.1 108.8h.9v.9h-.9zM68.1 111.0h.9v.9h-.9zM65.4 114.7h.9v.9h-.9zM63.1 113.6h.9v.9h-.9zM67.8 115.5h.9v.9h-.9zM69.6 112.6h.9v.9h-.9zM71.4 116.2h.9v.9h-.9zM69.3 116.7h.9v.9h-.9zM72.8 111.4h.9v.9h-.9zM75.8 113.9h.9v.9h-.9zM69.8 112.9h.9v.9h-.9zM65.9 109.8h.9v.9h-.9zM66.6 115.7h.9v.9h-.9zM71.4 111.3h.9v.9h-.9zM66.4 118.2h.9v.9h-.9zM69.6 111.7h.9v.9h-.9zM69.7 115.3h.9v.9h-.9zM74.5 113.3h.9v.9h-.9zM71.4 113.6h.9v.9h-.9zM66.4 120.3h.9v.9h-.9zM71.1 116.3h.9v.9h-.9zM67.3 118.3h.9v.9h-.9zM64.3 114.3h.9v.9h-.9zM65.1 114.8h.9v.9h-.9zM69.9 114.9h.9v.9h-.9zM68.4 115.1h.9v.9h-.9zM64.6 116.0h.9v.9h-.9zM67.2 114.5h.9v.9h-.9zM67.5 114.4h.9v.9h-.9zM63.3 112.4h.9v.9h-.9zM71.9 110.9h.9v.9h-.9zM76.1 103.7h.9v.9h-.9zM75.5 108.5h.9v.9h-.9zM73.7 101.6h.9v.9h-.9zM81.6 102.0h.9v.9h-.9zM77.4 102.1h.9v.9h-.9zM70.7 109.4h.9v.9h-.9zM72.9 104.5h.9v.9h-.9zM69.4 98.5h.9v.9h-.9zM80.2 96.1h.9v.9h-.9zM80.7 105.7h.9v.9h-.9zM77.2 97.7h.9v.9h-.9zM76.8 99.3h.9v.9h-.9zM75.5 101.5h.9v.9h-.9zM67.6 108.8h.9v.9h-.9zM80.8 99.1h.9v.9h-.9zM70.3 105.5h.9v.9h-.9zM75.4 104.3h.9v.9h-.9zM76.4 96.4h.9v.9h-.9zM68.9 116.5h.9v.9h-.9zM82.4 95.7h.9v.9h-.9zM77.0 101.3h.9v.9h-.9zM76.2 100.9h.9v.9h-.9zM73.4 97.4h.9v.9h-.9zM73.6 96.4h.9v.9h-.9zM71.8 104.8h.9v.9h-.9zM74.6 112.9h.9v.9h-.9zM74.5 101.0h.9v.9h-.9zM76.3 106.6h.9v.9h-.9zM69.1 111.3h.9v.9h-.9zM73.0 109.7h.9v.9h-.9zM71.5 117.6h.9v.9h-.9zM75.4 102.4h.9v.9h-.9zM78.6 103.8h.9v.9h-.9zM76.2 109.0h.9v.9h-.9zM76.7 101.8h.9v.9h-.9zM79.5 93.2h.9v.9h-.9zM78.0 101.4h.9v.9h-.9zM75.1 103.8h.9v.9h-.9zM69.9 112.2h.9v.9h-.9zM76.7 100.4h.9v.9h-.9zM80.1 95.6h.9v.9h-.9zM71.5 108.4h.9v.9h-.9zM69.6 98.6h.9v.9h-.9zM73.6 101.5h.9v.9h-.9zM76.4 101.0h.9v.9h-.9zM51.7 117.9h.9v.9h-.9zM57.0 115.1h.9v.9h-.9zM53.1 118.5h.9v.9h-.9zM49.3 113.0h.9v.9h-.9zM53.4 119.4h.9v.9h-.9zM58.7 118.4h.9v.9h-.9zM58.9 116.0h.9v.9h-.9zM57.7 118.1h.9v.9h-.9zM52.0 117.3h.9v.9h-.9zM53.4 116.2h.9v.9h-.9zM55.2 119.9h.9v.9h-.9zM54.0 117.8h.9v.9h-.9zM58.8 116.5h.9v.9h-.9zM56.5 114.0h.9v.9h-.9zM52.6 118.2h.9v.9h-.9zM54.0 117.2h.9v.9h-.9zM54.5 119.1h.9v.9h-.9zM50.8 115.1h.9v.9h-.9zM55.9 113.8h.9v.9h-.9zM54.9 116.9h.9v.9h-.9zM57.8 116.6h.9v.9h-.9zM53.5 119.4h.9v.9h-.9zM54.5 117.9h.9v.9h-.9zM61.6 118.6h.9v.9h-.9zM51.8 119.4h.9v.9h-.9zM60.7 120.5h.9v.9h-.9zM53.1 117.4h.9v.9h-.9zM51.8 120.1h.9v.9h-.9zM55.8 118.6h.9v.9h-.9zM56.3 116.3h.9v.9h-.9zM51.6 117.4h.9v.9h-.9zM57.6 115.1h.9v.9h-.9zM52.3 117.4h.9v.9h-.9zM54.8 118.9h.9v.9h-.9zM55.2 118.4h.9v.9h-.9zM55.9 120.9h.9v.9h-.9z"/>
<path fill="#000" fill-opacity="0.45" d="M75.6 104.6h.9v.9h-.9zM73.0 108.5h.9v.9h-.9zM74.0 101.3h.9v.9h-.9zM77.0 104.6h.9v.9h-.9zM66.6 120.0h.9v.9h-.9zM67.7 110.8h.9v.9h-.9zM72.1 101.1h.9v.9h-.9zM74.1 103.6h.9v.9h-.9zM77.3 102.8h.9v.9h-.9zM72.5 107.2h.9v.9h-.9zM69.0 109.7h.9v.9h-.9zM78.7 118.3h.9v.9h-.9zM77.0 100.5h.9v.9h-.9zM75.4 96.0h.9v.9h-.9zM67.8 104.5h.9v.9h-.9zM75.8 104.6h.9v.9h-.9zM75.4 103.4h.9v.9h-.9zM67.1 112.4h.9v.9h-.9zM70.0 112.0h.9v.9h-.9zM72.4 117.6h.9v.9h-.9zM72.3 111.2h.9v.9h-.9zM76.9 94.8h.9v.9h-.9zM74.8 96.1h.9v.9h-.9zM69.4 112.2h.9v.9h-.9zM76.4 97.0h.9v.9h-.9zM68.9 107.3h.9v.9h-.9zM76.3 95.1h.9v.9h-.9zM73.0 94.3h.9v.9h-.9zM68.1 113.2h.9v.9h-.9zM72.0 103.5h.9v.9h-.9zM76.1 102.1h.9v.9h-.9zM69.4 114.4h.9v.9h-.9zM79.3 95.2h.9v.9h-.9zM72.8 104.1h.9v.9h-.9zM75.8 98.1h.9v.9h-.9zM74.0 108.8h.9v.9h-.9zM76.4 106.2h.9v.9h-.9zM76.9 103.8h.9v.9h-.9zM68.2 110.0h.9v.9h-.9zM69.9 116.1h.9v.9h-.9zM79.2 101.2h.9v.9h-.9zM75.6 103.1h.9v.9h-.9zM69.9 106.4h.9v.9h-.9zM77.2 100.6h.9v.9h-.9zM75.1 104.4h.9v.9h-.9zM80.6 92.3h.9v.9h-.9zM75.8 99.8h.9v.9h-.9zM71.8 117.3h.9v.9h-.9zM73.9 100.5h.9v.9h-.9zM79.3 97.5h.9v.9h-.9zM79.4 108.9h.9v.9h-.9zM67.7 112.0h.9v.9h-.9zM78.8 101.8h.9v.9h-.9zM77.9 97.1h.9v.9h-.9zM71.4 113.0h.9v.9h-.9zM73.0 107.4h.9v.9h-.9zM72.6 107.8h.9v.9h-.9zM77.8 103.0h.9v.9h-.9zM60.1 116.9h.9v.9h-.9zM74.1 112.6h.9v.9h-.9zM72.5 103.6h.9v.9h-.9zM68.3 117.5h.9v.9h-.9zM73.4 104.9h.9v.9h-.9zM74.1 104.2h.9v.9h-.9zM81.2 92.0h.9v.9h-.9zM71.1 103.9h.9v.9h-.9zM69.1 116.9h.9v.9h-.9zM73.6 113.4h.9v.9h-.9zM72.8 111.2h.9v.9h-.9zM79.5 101.9h.9v.9h-.9zM78.0 97.8h.9v.9h-.9zM76.8 95.8h.9v.9h-.9zM74.5 105.5h.9v.9h-.9zM70.5 106.4h.9v.9h-.9zM70.8 110.2h.9v.9h-.9zM80.9 97.2h.9v.9h-.9zM75.9 100.3h.9v.9h-.9zM71.7 105.6h.9v.9h-.9zM75.3 94.3h.9v.9h-.9zM72.3 106.6h.9v.9h-.9zM69.7 117.9h.9v.9h-.9zM70.2 112.9h.9v.9h-.9zM75.9 99.0h.9v.9h-.9zM84.4 94.0h.9v.9h-.9zM73.0 106.3h.9v.9h-.9zM71.9 102.1h.9v.9h-.9zM75.5 93.2h.9v.9h-.9zM77.6 101.3h.9v.9h-.9zM72.7 112.6h.9v.9h-.9zM70.2 104.0h.9v.9h-.9zM72.3 110.5h.9v.9h-.9zM79.7 92.7h.9v.9h-.9zM75.0 97.3h.9v.9h-.9zM67.6 118.7h.9v.9h-.9zM74.4 93.0h.9v.9h-.9zM80.2 90.8h.9v.9h-.9zM64.3 111.5h.9v.9h-.9zM70.3 111.4h.9v.9h-.9zM69.8 120.3h.9v.9h-.9zM77.1 92.3h.9v.9h-.9zM69.8 102.2h.9v.9h-.9zM74.5 106.1h.9v.9h-.9zM68.2 108.6h.9v.9h-.9zM77.9 102.6h.9v.9h-.9zM81.9 92.2h.9v.9h-.9zM74.3 100.2h.9v.9h-.9zM73.0 97.5h.9v.9h-.9zM84.3 98.6h.9v.9h-.9zM72.3 100.7h.9v.9h-.9zM75.6 91.8h.9v.9h-.9zM76.2 104.8h.9v.9h-.9zM75.2 93.8h.9v.9h-.9zM78.0 96.7h.9v.9h-.9zM80.6 105.2h.9v.9h-.9zM78.9 100.0h.9v.9h-.9zM84.8 89.3h.9v.9h-.9zM81.5 95.0h.9v.9h-.9zM75.9 101.8h.9v.9h-.9zM80.6 94.4h.9v.9h-.9zM75.5 105.2h.9v.9h-.9zM70.1 106.4h.9v.9h-.9zM78.4 88.8h.9v.9h-.9zM76.4 93.1h.9v.9h-.9zM80.4 84.1h.9v.9h-.9zM75.9 99.7h.9v.9h-.9zM71.2 106.3h.9v.9h-.9zM73.2 100.5h.9v.9h-.9zM76.1 100.9h.9v.9h-.9zM79.7 85.9h.9v.9h-.9zM80.6 86.8h.9v.9h-.9zM76.5 98.4h.9v.9h-.9zM74.6 104.4h.9v.9h-.9zM80.0 103.3h.9v.9h-.9zM71.8 102.0h.9v.9h-.9zM81.0 85.8h.9v.9h-.9zM78.9 93.4h.9v.9h-.9zM76.9 96.5h.9v.9h-.9zM74.5 101.0h.9v.9h-.9zM79.7 99.2h.9v.9h-.9zM71.8 97.3h.9v.9h-.9zM79.1 101.6h.9v.9h-.9zM70.1 109.0h.9v.9h-.9zM74.1 94.2h.9v.9h-.9zM83.5 83.4h.9v.9h-.9zM85.5 94.4h.9v.9h-.9zM75.8 89.8h.9v.9h-.9zM76.9 100.3h.9v.9h-.9zM76.3 97.7h.9v.9h-.9zM70.8 101.6h.9v.9h-.9zM77.6 89.5h.9v.9h-.9zM76.8 88.6h.9v.9h-.9zM77.7 94.4h.9v.9h-.9zM79.4 95.0h.9v.9h-.9zM78.0 94.6h.9v.9h-.9zM76.7 97.0h.9v.9h-.9zM78.9 88.8h.9v.9h-.9zM78.5 102.0h.9v.9h-.9zM83.8 92.6h.9v.9h-.9zM76.1 91.2h.9v.9h-.9zM99.1 112.8h.9v.9h-.9zM91.9 113.8h.9v.9h-.9zM98.1 115.6h.9v.9h-.9zM89.2 105.8h.9v.9h-.9zM80.0 110.5h.9v.9h-.9zM84.7 112.8h.9v.9h-.9zM90.9 117.8h.9v.9h-.9zM95.2 114.5h.9v.9h-.9zM83.3 115.8h.9v.9h-.9zM92.8 120.2h.9v.9h-.9zM89.2 117.4h.9v.9h-.9zM84.8 114.3h.9v.9h-.9zM79.2 106.1h.9v.9h-.9zM94.7 114.2h.9v.9h-.9zM100.5 112.6h.9v.9h-.9zM93.2 104.7h.9v.9h-.9zM91.8 107.4h.9v.9h-.9zM91.2 114.8h.9v.9h-.9zM85.5 114.2h.9v.9h-.9zM83.7 120.7h.9v.9h-.9zM98.7 112.8h.9v.9h-.9zM98.3 119.7h.9v.9h-.9zM82.5 112.7h.9v.9h-.9zM96.8 114.7h.9v.9h-.9zM85.0 117.2h.9v.9h-.9zM88.5 114.1h.9v.9h-.9zM86.9 115.0h.9v.9h-.9zM83.0 113.9h.9v.9h-.9zM90.8 111.6h.9v.9h-.9zM84.8 121.6h.9v.9h-.9zM92.8 114.0h.9v.9h-.9zM90.4 114.1h.9v.9h-.9zM84.1 109.1h.9v.9h-.9zM94.5 118.1h.9v.9h-.9zM87.0 113.1h.9v.9h-.9zM93.1 109.6h.9v.9h-.9zM91.0 111.6h.9v.9h-.9zM94.0 109.8h.9v.9h-.9zM91.3 115.5h.9v.9h-.9zM87.9 111.4h.9v.9h-.9zM80.5 113.8h.9v.9h-.9zM90.4 105.1h.9v.9h-.9zM94.4 112.8h.9v.9h-.9zM80.5 106.3h.9v.9h-.9zM94.9 108.4h.9v.9h-.9zM85.9 115.1h.9v.9h-.9zM87.7 114.7h.9v.9h-.9zM98.0 105.6h.9v.9h-.9zM96.0 109.2h.9v.9h-.9zM88.1 108.4h.9v.9h-.9zM94.4 109.4h.9v.9h-.9zM80.4 112.7h.9v.9h-.9zM84.9 104.5h.9v.9h-.9zM90.4 111.9h.9v.9h-.9zM95.9 110.9h.9v.9h-.9zM87.5 112.4h.9v.9h-.9zM81.4 112.3h.9v.9h-.9zM80.8 109.2h.9v.9h-.9zM97.0 123.6h.9v.9h-.9zM81.7 113.2h.9v.9h-.9zM84.9 115.1h.9v.9h-.9zM88.1 117.4h.9v.9h-.9zM77.9 106.9h.9v.9h-.9zM88.7 111.5h.9v.9h-.9zM92.4 117.9h.9v.9h-.9zM92.7 114.6h.9v.9h-.9zM95.4 113.6h.9v.9h-.9zM85.8 110.5h.9v.9h-.9zM86.3 110.3h.9v.9h-.9zM89.4 110.1h.9v.9h-.9zM89.7 109.7h.9v.9h-.9zM97.4 112.1h.9v.9h-.9zM84.8 110.9h.9v.9h-.9zM91.3 110.9h.9v.9h-.9zM79.9 111.3h.9v.9h-.9zM84.8 113.5h.9v.9h-.9zM89.2 111.7h.9v.9h-.9zM84.3 109.4h.9v.9h-.9zM97.8 109.7h.9v.9h-.9zM89.6 115.0h.9v.9h-.9zM83.8 111.1h.9v.9h-.9zM94.9 112.9h.9v.9h-.9zM90.8 114.4h.9v.9h-.9zM87.7 120.4h.9v.9h-.9zM81.6 117.0h.9v.9h-.9zM91.4 115.1h.9v.9h-.9zM123.3 94.1h.9v.9h-.9zM110.7 102.7h.9v.9h-.9zM113.5 98.0h.9v.9h-.9zM117.0 99.2h.9v.9h-.9z"/>
<path fill="#000" fill-opacity="0.5" d="M64.1 114.0h.9v.9h-.9zM63.2 113.9h.9v.9h-.9zM67.9 116.5h.9v.9h-.9zM65.4 117.7h.9v.9h-.9zM56.3 116.9h.9v.9h-.9zM66.3 115.4h.9v.9h-.9zM65.3 118.2h.9v.9h-.9zM72.3 111.1h.9v.9h-.9zM69.3 112.4h.9v.9h-.9zM64.6 117.8h.9v.9h-.9zM65.2 117.7h.9v.9h-.9zM62.6 116.0h.9v.9h-.9zM71.8 116.7h.9v.9h-.9zM64.2 120.0h.9v.9h-.9zM64.5 113.4h.9v.9h-.9zM65.4 114.9h.9v.9h-.9zM71.3 116.7h.9v.9h-.9zM65.4 117.7h.9v.9h-.9zM57.1 112.3h.9v.9h-.9zM64.0 114.0h.9v.9h-.9zM60.3 116.6h.9v.9h-.9zM66.8 113.7h.9v.9h-.9zM64.9 111.1h.9v.9h-.9zM61.3 118.6h.9v.9h-.9zM62.4 113.3h.9v.9h-.9zM61.7 117.7h.9v.9h-.9zM68.7 114.8h.9v.9h-.9zM58.6 119.4h.9v.9h-.9zM70.3 114.9h.9v.9h-.9zM68.2 117.5h.9v.9h-.9zM59.8 112.7h.9v.9h-.9zM57.3 118.5h.9v.9h-.9zM65.2 117.1h.9v.9h-.9zM66.5 113.9h.9v.9h-.9zM75.6 111.0h.9v.9h-.9zM69.9 115.1h.9v.9h-.9zM63.2 118.2h.9v.9h-.9zM65.1 116.3h.9v.9h-.9zM65.4 110.6h.9v.9h-.9zM72.2 115.1h.9v.9h-.9zM65.7 118.0h.9v.9h-.9zM68.3 116.1h.9v.9h-.9zM65.9 113.3h.9v.9h-.9zM64.2 115.8h.9v.9h-.9zM62.7 115.5h.9v.9h-.9zM56.4 121.3h.9v.9h-.9zM70.3 117.5h.9v.9h-.9zM64.5 116.3h.9v.9h-.9zM62.3 120.5h.9v.9h-.9zM65.2 118.2h.9v.9h-.9zM63.5 115.7h.9v.9h-.9zM73.1 114.0h.9v.9h-.9zM65.5 113.5h.9v.9h-.9zM67.8 120.6h.9v.9h-.9zM70.9 118.9h.9v.9h-.9zM66.8 117.2h.9v.9h-.9zM65.7 119.6h.9v.9h-.9zM61.2 115.4h.9v.9h-.9zM67.0 115.3h.9v.9h-.9zM66.6 116.6h.9v.9h-.9zM64.0 116.1h.9v.9h-.9zM57.1 118.3h.9v.9h-.9zM69.8 117.1h.9v.9h-.9zM59.6 116.8h.9v.9h-.9zM64.6 113.3h.9v.9h-.9zM68.1 115.3h.9v.9h-.9zM63.6 115.5h.9v.9h-.9zM66.4 116.8h.9v.9h-.9zM72.2 114.0h.9v.9h-.9zM63.0 115.3h.9v.9h-.9zM61.4 115.9h.9v.9h-.9zM65.3 118.2h.9v.9h-.9zM65.3 113.3h.9v.9h-.9zM70.3 113.0h.9v.9h-.9zM59.9 117.8h.9v.9h-.9zM61.5 114.8h.9v.9h-.9zM67.7 113.3h.9v.9h-.9zM74.8 113.8h.9v.9h-.9zM75.0 111.9h.9v.9h-.9zM69.6 114.4h.9v.9h-.9zM61.1 112.0h.9v.9h-.9zM65.3 119.2h.9v.9h-.9zM66.8 115.4h.9v.9h-.9zM61.9 114.2h.9v.9h-.9zM64.3 114.8h.9v.9h-.9zM58.7 117.2h.9v.9h-.9zM63.6 113.9h.9v.9h-.9zM66.0 112.9h.9v.9h-.9zM66.7 116.2h.9v.9h-.9zM66.9 116.7h.9v.9h-.9zM66.5 112.1h.9v.9h-.9zM70.5 115.8h.9v.9h-.9zM64.3 113.1h.9v.9h-.9zM67.5 116.0h.9v.9h-.9zM67.5 114.9h.9v.9h-.9zM67.3 113.2h.9v.9h-.9zM70.0 116.2h.9v.9h-.9zM62.5 116.4h.9v.9h-.9zM64.9 117.4h.9v.9h-.9zM71.2 115.9h.9v.9h-.9zM62.8 116.3h.9v.9h-.9zM65.3 119.7h.9v.9h-.9zM60.9 117.5h.9v.9h-.9zM62.2 112.7h.9v.9h-.9zM68.0 114.4h.9v.9h-.9zM70.6 114.6h.9v.9h-.9zM71.0 112.9h.9v.9h-.9zM61.2 117.2h.9v.9h-.9zM76.7 119.2h.9v.9h-.9zM65.8 116.5h.9v.9h-.9zM60.6 117.1h.9v.9h-.9zM68.0 113.4h.9v.9h-.9zM63.7 113.7h.9v.9h-.9zM61.8 115.7h.9v.9h-.9zM64.3 115.3h.9v.9h-.9zM71.6 116.3h.9v.9h-.9zM75.1 118.7h.9v.9h-.9zM61.8 115.8h.9v.9h-.9zM62.5 115.6h.9v.9h-.9zM56.5 115.2h.9v.9h-.9zM63.9 116.1h.9v.9h-.9zM57.1 117.2h.9v.9h-.9zM76.9 114.0h.9v.9h-.9zM64.3 117.5h.9v.9h-.9zM66.8 116.1h.9v.9h-.9zM73.3 113.1h.9v.9h-.9zM73.0 110.0h.9v.9h-.9zM72.5 111.0h.9v.9h-.9zM69.3 114.7h.9v.9h-.9zM62.2 117.9h.9v.9h-.9zM60.9 111.6h.9v.9h-.9zM63.6 112.6h.9v.9h-.9zM64.5 112.4h.9v.9h-.9zM62.3 111.6h.9v.9h-.9zM64.2 116.7h.9v.9h-.9zM66.0 112.9h.9v.9h-.9zM66.0 114.3h.9v.9h-.9zM78.4 111.5h.9v.9h-.9zM63.2 114.3h.9v.9h-.9zM63.1 116.3h.9v.9h-.9zM58.3 116.1h.9v.9h-.9zM59.7 114.9h.9v.9h-.9zM69.3 114.2h.9v.9h-.9zM65.6 116.3h.9v.9h-.9zM69.6 112.6h.9v.9h-.9zM69.4 116.0h.9v.9h-.9zM64.8 113.3h.9v.9h-.9zM68.8 112.8h.9v.9h-.9zM66.4 113.2h.9v.9h-.9zM66.0 119.8h.9v.9h-.9zM58.9 119.6h.9v.9h-.9zM65.7 117.2h.9v.9h-.9zM62.0 116.1h.9v.9h-.9zM71.4 111.6h.9v.9h-.9zM65.0 112.9h.9v.9h-.9zM67.5 117.5h.9v.9h-.9zM63.0 116.6h.9v.9h-.9zM66.6 118.0h.9v.9h-.9zM76.9 112.2h.9v.9h-.9zM69.5 114.6h.9v.9h-.9zM69.2 115.2h.9v.9h-.9zM65.1 118.6h.9v.9h-.9zM65.4 117.3h.9v.9h-.9zM70.8 114.3h.9v.9h-.9zM64.3 115.8h.9v.9h-.9zM70.6 114.2h.9v.9h-.9zM67.3 116.7h.9v.9h-.9zM63.4 121.3h.9v.9h-.9zM63.6 117.4h.9v.9h-.9zM64.1 111.7h.9v.9h-.9zM64.4 110.7h.9v.9h-.9zM73.5 112.1h.9v.9h-.9zM68.8 112.1h.9v.9h-.9zM74.3 115.1h.9v.9h-.9zM69.7 115.2h.9v.9h-.9zM64.2 112.8h.9v.9h-.9zM66.1 122.0h.9v.9h-.9zM71.2 112.4h.9v.9h-.9zM69.8 114.4h.9v.9h-.9zM71.4 112.2h.9v.9h-.9zM65.0 112.1h.9v.9h-.9zM66.9 115.3h.9v.9h-.9zM69.5 116.2h.9v.9h-.9zM77.0 110.6h.9v.9h-.9zM61.8 115.4h.9v.9h-.9zM61.9 119.4h.9v.9h-.9zM61.6 111.0h.9v.9h-.9zM61.8 111.6h.9v.9h-.9zM67.3 117.3h.9v.9h-.9zM62.4 113.9h.9v.9h-.9zM57.3 115.0h.9v.9h-.9zM68.2 115.7h.9v.9h-.9zM65.1 111.4h.9v.9h-.9zM62.8 117.0h.9v.9h-.9zM68.7 117.7h.9v.9h-.9zM72.4 114.6h.9v.9h-.9zM65.4 118.2h.9v.9h-.9zM72.3 116.6h.9v.9h-.9zM67.1 114.8h.9v.9h-.9zM70.1 114.4h.9v.9h-.9zM70.1 117.9h.9v.9h-.9zM62.1 115.4h.9v.9h-.9zM63.2 113.3h.9v.9h-.9zM66.7 116.9h.9v.9h-.9zM72.5 115.9h.9v.9h-.9zM70.8 118.9h.9v.9h-.9zM59.6 113.4h.9v.9h-.9zM74.1 117.2h.9v.9h-.9zM62.8 116.3h.9v.9h-.9zM66.4 117.9h.9v.9h-.9zM62.5 118.0h.9v.9h-.9zM65.6 115.4h.9v.9h-.9zM79.0 115.7h.9v.9h-.9zM60.6 120.1h.9v.9h-.9zM67.6 116.6h.9v.9h-.9zM59.0 113.9h.9v.9h-.9zM58.8 113.0h.9v.9h-.9zM66.4 116.9h.9v.9h-.9zM67.2 116.5h.9v.9h-.9zM68.2 117.0h.9v.9h-.9zM62.3 118.0h.9v.9h-.9zM70.3 118.3h.9v.9h-.9zM59.7 118.5h.9v.9h-.9zM79.6 115.5h.9v.9h-.9zM73.3 114.7h.9v.9h-.9zM68.5 114.1h.9v.9h-.9zM63.5 112.0h.9v.9h-.9zM63.3 112.8h.9v.9h-.9zM74.0 116.8h.9v.9h-.9zM57.9 120.9h.9v.9h-.9zM78.8 117.8h.9v.9h-.9zM66.8 111.0h.9v.9h-.9zM63.1 118.2h.9v.9h-.9zM68.8 114.1h.9v.9h-.9zM65.0 118.6h.9v.9h-.9zM61.2 114.4h.9v.9h-.9zM63.4 118.2h.9v.9h-.9zM59.4 121.0h.9v.9h-.9zM68.0 120.0h.9v.9h-.9zM69.5 119.1h.9v.9h-.9zM64.3 118.0h.9v.9h-.9zM79.0 110.9h.9v.9h-.9zM71.9 113.3h.9v.9h-.9zM67.6 113.5h.9v.9h-.9zM75.6 117.4h.9v.9h-.9zM69.3 122.8h.9v.9h-.9zM60.0 115.7h.9v.9h-.9zM73.4 111.9h.9v.9h-.9zM66.1 119.8h.9v.9h-.9zM67.2 113.5h.9v.9h-.9zM62.5 121.4h.9v.9h-.9zM68.8 115.1h.9v.9h-.9zM67.4 118.8h.9v.9h-.9zM63.7 118.2h.9v.9h-.9zM64.0 115.1h.9v.9h-.9zM65.3 116.3h.9v.9h-.9zM61.8 116.9h.9v.9h-.9zM62.2 116.3h.9v.9h-.9zM69.9 113.2h.9v.9h-.9zM62.9 121.8h.9v.9h-.9zM62.7 116.0h.9v.9h-.9zM64.4 117.2h.9v.9h-.9zM59.1 114.7h.9v.9h-.9zM66.0 110.6h.9v.9h-.9zM59.7 113.5h.9v.9h-.9zM68.4 116.9h.9v.9h-.9zM60.5 114.8h.9v.9h-.9zM55.3 120.7h.9v.9h-.9zM67.2 118.3h.9v.9h-.9zM66.2 118.9h.9v.9h-.9zM65.9 113.6h.9v.9h-.9zM68.9 113.8h.9v.9h-.9zM69.9 110.7h.9v.9h-.9zM69.0 114.9h.9v.9h-.9zM69.5 113.1h.9v.9h-.9zM62.4 122.0h.9v.9h-.9zM61.4 114.9h.9v.9h-.9zM71.5 119.3h.9v.9h-.9zM58.6 113.6h.9v.9h-.9zM59.4 117.9h.9v.9h-.9zM66.2 113.2h.9v.9h-.9zM60.7 119.0h.9v.9h-.9zM63.7 117.2h.9v.9h-.9zM68.9 115.3h.9v.9h-.9zM61.2 117.3h.9v.9h-.9zM63.5 115.6h.9v.9h-.9zM59.6 117.8h.9v.9h-.9zM65.6 119.0h.9v.9h-.9zM68.0 116.6h.9v.9h-.9zM74.2 114.4h.9v.9h-.9zM70.4 115.0h.9v.9h-.9zM61.9 115.8h.9v.9h-.9zM76.3 114.8h.9v.9h-.9zM68.5 116.3h.9v.9h-.9zM60.4 116.7h.9v.9h-.9zM64.3 116.0h.9v.9h-.9zM62.4 121.4h.9v.9h-.9zM65.2 121.5h.9v.9h-.9zM67.0 116.5h.9v.9h-.9zM63.8 112.8h.9v.9h-.9zM68.1 119.3h.9v.9h-.9zM55.8 117.2h.9v.9h-.9zM60.3 118.5h.9v.9h-.9zM67.4 115.1h.9v.9h-.9zM73.2 118.3h.9v.9h-.9zM57.6 117.3h.9v.9h-.9zM65.1 117.6h.9v.9h-.9zM65.7 113.9h.9v.9h-.9zM74.2 116.2h.9v.9h-.9zM60.0 116.9h.9v.9h-.9zM62.8 116.2h.9v.9h-.9zM66.3 122.6h.9v.9h-.9zM63.7 117.1h.9v.9h-.9zM61.6 118.2h.9v.9h-.9zM64.6 116.2h.9v.9h-.9zM66.3 114.7h.9v.9h-.9zM61.7 116.8h.9v.9h-.9zM60.3 114.9h.9v.9h-.9zM69.8 117.3h.9v.9h-.9zM74.8 112.2h.9v.9h-.9zM63.8 117.6h.9v.9h-.9zM65.5 115.1h.9v.9h-.9zM59.7 119.5h.9v.9h-.9zM59.2 122.2h.9v.9h-.9zM61.8 111.1h.9v.9h-.9zM70.7 116.5h.9v.9h-.9zM64.0 116.4h.9v.9h-.9zM65.6 113.7h.9v.9h-.9zM71.6 111.6h.9v.9h-.9zM65.0 114.2h.9v.9h-.9zM69.2 116.1h.9v.9h-.9zM70.5 113.8h.9v.9h-.9zM66.7 111.9h.9v.9h-.9zM63.4 119.2h.9v.9h-.9zM65.7 112.4h.9v.9h-.9zM60.6 120.7h.9v.9h-.9zM71.3 116.9h.9v.9h-.9zM60.8 115.0h.9v.9h-.9zM63.2 116.2h.9v.9h-.9zM73.1 116.0h.9v.9h-.9zM71.9 114.4h.9v.9h-.9zM58.1 120.7h.9v.9h-.9zM74.8 116.1h.9v.9h-.9zM65.8 114.4h.9v.9h-.9zM66.0 119.4h.9v.9h-.9zM62.1 115.7h.9v.9h-.9zM58.6 113.6h.9v.9h-.9zM60.5 119.1h.9v.9h-.9zM62.0 121.3h.9v.9h-.9zM66.2 118.1h.9v.9h-.9zM58.5 116.8h.9v.9h-.9zM61.4 115.2h.9v.9h-.9zM64.8 111.4h.9v.9h-.9zM74.9 111.5h.9v.9h-.9zM60.2 114.8h.9v.9h-.9zM68.7 117.4h.9v.9h-.9zM71.4 114.1h.9v.9h-.9zM61.7 116.9h.9v.9h-.9zM57.5 114.9h.9v.9h-.9zM72.8 119.7h.9v.9h-.9zM68.8 118.4h.9v.9h-.9zM62.9 116.2h.9v.9h-.9zM63.9 113.6h.9v.9h-.9zM67.4 115.0h.9v.9h-.9zM63.4 116.7h.9v.9h-.9zM69.7 113.5h.9v.9h-.9zM61.5 115.7h.9v.9h-.9zM64.6 115.8h.9v.9h-.9zM62.8 115.0h.9v.9h-.9zM69.6 115.9h.9v.9h-.9zM67.5 117.1h.9v.9h-.9zM62.5 114.3h.9v.9h-.9zM66.4 115.3h.9v.9h-.9zM65.9 115.5h.9v.9h-.9zM68.1 114.6h.9v.9h-.9zM64.1 116.9h.9v.9h-.9zM68.9 116.5h.9v.9h-.9zM59.6 118.8h.9v.9h-.9zM63.2 113.7h.9v.9h-.9zM66.3 116.7h.9v.9h-.9zM64.2 114.3h.9v.9h-.9zM64.0 117.1h.9v.9h-.9zM67.4 109.3h.9v.9h-.9zM66.1 114.2h.9v.9h-.9zM61.6 116.1h.9v.9h-.9zM65.2 112.7h.9v.9h-.9zM64.4 118.1h.9v.9h-.9zM75.3 116.2h.9v.9h-.9zM70.9 114.9h.9v.9h-.9zM66.8 116.2h.9v.9h-.9zM61.6 111.4h.9v.9h-.9zM62.1 111.5h.9v.9h-.9zM57.1 119.0h.9v.9h-.9zM69.8 115.6h.9v.9h-.9zM59.5 119.5h.9v.9h-.9zM70.2 113.5h.9v.9h-.9zM62.5 114.4h.9v.9h-.9zM61.6 115.2h.9v.9h-.9zM70.2 115.1h.9v.9h-.9zM71.8 115.0h.9v.9h-.9zM66.0 113.0h.9v.9h-.9zM63.5 121.1h.9v.9h-.9zM60.2 111.2h.9v.9h-.9zM63.4 111.0h.9v.9h-.9zM67.7 115.2h.9v.9h-.9zM71.0 116.4h.9v.9h-.9zM75.7 113.5h.9v.9h-.9zM57.7 113.9h.9v.9h-.9zM63.0 115.1h.9v.9h-.9zM65.9 118.7h.9v.9h-.9zM69.1 114.0h.9v.9h-.9zM64.7 119.9h.9v.9h-.9zM67.0 121.8h.9v.9h-.9zM72.0 114.0h.9v.9h-.9zM69.5 117.8h.9v.9h-.9zM70.2 113.4h.9v.9h-.9zM67.3 115.3h.9v.9h-.9zM59.9 121.3h.9v.9h-.9zM57.9 117.7h.9v.9h-.9zM59.4 116.2h.9v.9h-.9zM62.3 113.6h.9v.9h-.9zM60.0 117.4h.9v.9h-.9zM65.7 115.0h.9v.9h-.9zM78.5 114.8h.9v.9h-.9zM58.5 120.6h.9v.9h-.9zM72.9 116.1h.9v.9h-.9zM66.6 116.2h.9v.9h-.9zM62.1 120.4h.9v.9h-.9zM67.4 118.3h.9v.9h-.9zM59.7 118.2h.9v.9h-.9zM70.3 116.8h.9v.9h-.9zM68.2 114.8h.9v.9h-.9zM69.4 117.2h.9v.9h-.9zM67.8 115.8h.9v.9h-.9zM70.6 117.8h.9v.9h-.9zM71.5 114.5h.9v.9h-.9zM60.3 117.5h.9v.9h-.9zM75.4 111.7h.9v.9h-.9zM68.9 112.3h.9v.9h-.9zM63.4 113.8h.9v.9h-.9zM57.0 113.9h.9v.9h-.9zM68.2 114.7h.9v.9h-.9zM59.8 115.6h.9v.9h-.9zM64.4 117.1h.9v.9h-.9zM68.3 116.1h.9v.9h-.9zM54.7 116.4h.9v.9h-.9zM60.7 115.1h.9v.9h-.9zM59.9 116.6h.9v.9h-.9zM71.3 118.5h.9v.9h-.9zM75.6 114.7h.9v.9h-.9zM64.2 115.6h.9v.9h-.9zM70.9 116.4h.9v.9h-.9zM61.9 118.7h.9v.9h-.9zM70.4 117.7h.9v.9h-.9zM52.5 114.4h.9v.9h-.9zM60.4 116.4h.9v.9h-.9zM68.6 115.2h.9v.9h-.9zM60.7 116.6h.9v.9h-.9zM62.3 123.1h.9v.9h-.9zM61.8 118.8h.9v.9h-.9zM58.8 114.1h.9v.9h-.9zM71.2 113.6h.9v.9h-.9zM70.8 115.8h.9v.9h-.9zM59.0 118.8h.9v.9h-.9zM70.4 116.1h.9v.9h-.9zM64.3 115.4h.9v.9h-.9zM61.3 114.2h.9v.9h-.9zM67.3 117.9h.9v.9h-.9zM66.3 114.7h.9v.9h-.9zM78.5 107.6h.9v.9h-.9zM70.1 114.7h.9v.9h-.9zM64.1 118.7h.9v.9h-.9zM69.8 114.0h.9v.9h-.9zM63.0 113.5h.9v.9h-.9zM68.4 117.9h.9v.9h-.9zM76.1 117.5h.9v.9h-.9zM64.3 119.1h.9v.9h-.9zM63.2 111.5h.9v.9h-.9zM69.8 112.3h.9v.9h-.9zM65.6 111.8h.9v.9h-.9zM65.4 121.1h.9v.9h-.9zM70.3 118.0h.9v.9h-.9zM59.0 119.6h.9v.9h-.9zM68.1 118.0h.9v.9h-.9zM57.5 117.9h.9v.9h-.9zM66.9 117.3h.9v.9h-.9zM62.8 116.1h.9v.9h-.9zM64.2 112.6h.9v.9h-.9zM63.1 121.4h.9v.9h-.9zM68.2 117.3h.9v.9h-.9zM66.8 114.4h.9v.9h-.9zM73.0 115.7h.9v.9h-.9zM68.5 110.8h.9v.9h-.9zM70.9 109.3h.9v.9h-.9zM76.9 115.0h.9v.9h-.9zM68.3 110.7h.9v.9h-.9zM71.5 111.7h.9v.9h-.9zM68.8 113.1h.9v.9h-.9zM72.5 110.9h.9v.9h-.9zM68.7 107.9h.9v.9h-.9zM76.1 112.4h.9v.9h-.9zM67.9 112.6h.9v.9h-.9zM69.7 110.0h.9v.9h-.9zM66.8 110.6h.9v.9h-.9zM70.9 115.7h.9v.9h-.9zM78.5 112.2h.9v.9h-.9zM73.5 111.5h.9v.9h-.9zM70.2 108.6h.9v.9h-.9zM72.5 110.7h.9v.9h-.9zM73.7 109.8h.9v.9h-.9zM62.9 112.2h.9v.9h-.9zM75.3 113.4h.9v.9h-.9zM73.9 116.7h.9v.9h-.9zM73.1 116.4h.9v.9h-.9zM69.2 110.9h.9v.9h-.9zM68.2 112.5h.9v.9h-.9zM76.5 109.1h.9v.9h-.9zM65.9 121.8h.9v.9h-.9zM65.4 113.2h.9v.9h-.9zM69.0 115.3h.9v.9h-.9zM75.2 109.6h.9v.9h-.9zM73.6 110.3h.9v.9h-.9zM73.5 110.8h.9v.9h-.9zM66.7 114.8h.9v.9h-.9zM66.6 109.2h.9v.9h-.9zM74.3 106.5h.9v.9h-.9zM60.2 117.8h.9v.9h-.9zM69.6 112.0h.9v.9h-.9zM71.4 114.0h.9v.9h-.9zM72.6 114.3h.9v.9h-.9zM64.7 116.2h.9v.9h-.9zM74.1 116.6h.9v.9h-.9zM65.9 114.9h.9v.9h-.9zM67.3 114.6h.9v.9h-.9zM73.0 115.9h.9v.9h-.9zM66.0 118.0h.9v.9h-.9zM68.1 111.0h.9v.9h-.9zM69.3 109.5h.9v.9h-.9zM70.0 114.3h.9v.9h-.9zM69.6 114.1h.9v.9h-.9zM66.2 113.0h.9v.9h-.9zM71.1 113.9h.9v.9h-.9zM70.0 113.1h.9v.9h-.9zM72.5 114.6h.9v.9h-.9zM71.3 115.1h.9v.9h-.9zM61.9 118.7h.9v.9h-.9zM71.1 110.4h.9v.9h-.9zM72.9 111.3h.9v.9h-.9zM73.8 116.5h.9v.9h-.9zM72.1 114.1h.9v.9h-.9zM68.7 118.8h.9v.9h-.9zM74.9 110.0h.9v.9h-.9zM70.5 111.0h.9v.9h-.9zM73.9 112.2h.9v.9h-.9zM71.4 117.9h.9v.9h-.9zM67.1 117.5h.9v.9h-.9zM68.3 115.2h.9v.9h-.9zM68.4 115.8h.9v.9h-.9zM74.1 111.4h.9v.9h-.9zM71.2 115.7h.9v.9h-.9zM67.8 117.2h.9v.9h-.9zM69.7 115.6h.9v.9h-.9zM71.0 116.4h.9v.9h-.9zM64.2 115.9h.9v.9h-.9zM70.9 120.2h.9v.9h-.9zM67.7 114.2h.9v.9h-.9zM63.4 108.9h.9v.9h-.9zM70.5 115.6h.9v.9h-.9zM68.5 117.7h.9v.9h-.9zM68.4 113.4h.9v.9h-.9zM67.7 108.4h.9v.9h-.9zM62.7 117.4h.9v.9h-.9zM66.9 116.3h.9v.9h-.9zM70.8 112.4h.9v.9h-.9zM64.8 113.2h.9v.9h-.9zM67.6 114.1h.9v.9h-.9zM75.4 110.4h.9v.9h-.9zM64.3 114.7h.9v.9h-.9zM71.8 110.1h.9v.9h-.9zM65.6 116.4h.9v.9h-.9zM68.0 115.1h.9v.9h-.9zM73.2 113.2h.9v.9h-.9zM64.7 114.4h.9v.9h-.9zM69.2 118.4h.9v.9h-.9zM70.7 111.7h.9v.9h-.9zM71.1 117.2h.9v.9h-.9zM71.3 108.3h.9v.9h-.9zM64.5 118.2h.9v.9h-.9zM71.2 109.9h.9v.9h-.9zM65.9 111.8h.9v.9h-.9zM70.9 107.6h.9v.9h-.9zM66.6 109.8h.9v.9h-.9zM72.1 111.5h.9v.9h-.9zM72.9 113.3h.9v.9h-.9zM69.7 109.9h.9v.9h-.9zM71.0 116.4h.9v.9h-.9zM73.9 114.7h.9v.9h-.9zM62.6 114.7h.9v.9h-.9zM71.7 114.1h.9v.9h-.9zM81.1 100.7h.9v.9h-.9zM76.2 106.3h.9v.9h-.9zM79.7 96.9h.9v.9h-.9zM73.2 103.5h.9v.9h-.9zM74.9 103.5h.9v.9h-.9zM76.2 105.1h.9v.9h-.9zM70.5 101.7h.9v.9h-.9zM74.9 100.2h.9v.9h-.9zM73.6 99.0h.9v.9h-.9zM70.1 104.4h.9v.9h-.9zM76.1 111.2h.9v.9h-.9zM73.7 109.6h.9v.9h-.9zM82.0 93.2h.9v.9h-.9zM73.8 103.6h.9v.9h-.9zM76.1 107.2h.9v.9h-.9zM68.2 112.8h.9v.9h-.9zM72.2 104.8h.9v.9h-.9zM75.1 103.3h.9v.9h-.9zM76.6 96.2h.9v.9h-.9zM74.2 102.9h.9v.9h-.9zM80.0 100.5h.9v.9h-.9zM82.0 96.7h.9v.9h-.9zM73.0 97.1h.9v.9h-.9zM79.3 102.2h.9v.9h-.9zM71.0 106.6h.9v.9h-.9zM76.7 105.5h.9v.9h-.9zM73.8 104.3h.9v.9h-.9zM73.1 105.3h.9v.9h-.9zM76.1 105.0h.9v.9h-.9zM75.8 102.3h.9v.9h-.9zM78.1 100.3h.9v.9h-.9zM79.0 99.6h.9v.9h-.9zM71.9 110.9h.9v.9h-.9zM75.8 103.0h.9v.9h-.9zM71.2 107.8h.9v.9h-.9zM74.2 101.6h.9v.9h-.9zM55.3 113.0h.9v.9h-.9zM53.5 112.3h.9v.9h-.9zM50.6 117.7h.9v.9h-.9zM57.8 115.4h.9v.9h-.9zM59.4 116.1h.9v.9h-.9zM57.6 117.7h.9v.9h-.9zM48.5 115.9h.9v.9h-.9zM49.6 116.8h.9v.9h-.9zM56.6 115.4h.9v.9h-.9zM52.9 115.5h.9v.9h-.9zM63.1 112.6h.9v.9h-.9zM47.6 120.5h.9v.9h-.9zM51.7 117.3h.9v.9h-.9zM50.9 115.0h.9v.9h-.9zM57.4 116.1h.9v.9h-.9zM56.4 116.6h.9v.9h-.9zM55.3 117.8h.9v.9h-.9zM60.1 116.4h.9v.9h-.9zM57.2 117.9h.9v.9h-.9zM58.6 112.4h.9v.9h-.9zM61.0 116.9h.9v.9h-.9zM51.2 117.7h.9v.9h-.9zM51.2 116.4h.9v.9h-.9zM61.4 116.8h.9v.9h-.9zM58.8 115.9h.9v.9h-.9zM52.5 119.7h.9v.9h-.9zM56.8 118.9h.9v.9h-.9zM53.1 117.9h.9v.9h-.9zM59.0 118.7h.9v.9h-.9zM53.7 115.9h.9v.9h-.9zM53.7 118.8h.9v.9h-.9zM54.9 116.5h.9v.9h-.9zM52.7 118.3h.9v.9h-.9zM58.0 119.0h.9v.9h-.9z"/>
<path fill="#000" fill-opacity="0.7" d="M65.5 116.7h.9v.9h-.9zM58.8 115.9h.9v.9h-.9zM59.2 117.7h.9v.9h-.9zM52.9 116.6h.9v.9h-.9zM57.8 116.0h.9v.9h-.9zM60.6 114.8h.9v.9h-.9zM62.6 116.2h.9v.9h-.9zM59.4 117.1h.9v.9h-.9zM62.3 121.5h.9v.9h-.9zM66.5 114.7h.9v.9h-.9zM70.0 118.1h.9v.9h-.9zM58.9 115.1h.9v.9h-.9zM63.2 116.1h.9v.9h-.9zM67.3 115.4h.9v.9h-.9zM65.5 117.5h.9v.9h-.9zM66.3 121.4h.9v.9h-.9zM64.6 115.6h.9v.9h-.9zM69.0 116.7h.9v.9h-.9zM65.7 113.4h.9v.9h-.9zM70.4 115.7h.9v.9h-.9zM65.9 114.5h.9v.9h-.9zM59.8 117.8h.9v.9h-.9zM71.7 118.6h.9v.9h-.9zM65.2 115.4h.9v.9h-.9zM70.3 115.3h.9v.9h-.9zM62.0 115.7h.9v.9h-.9zM60.2 117.7h.9v.9h-.9zM56.7 119.2h.9v.9h-.9zM65.4 116.2h.9v.9h-.9zM60.0 113.8h.9v.9h-.9zM67.0 115.7h.9v.9h-.9zM63.3 115.1h.9v.9h-.9zM71.4 116.8h.9v.9h-.9zM67.4 114.3h.9v.9h-.9zM69.7 117.6h.9v.9h-.9zM69.6 112.8h.9v.9h-.9zM61.2 112.9h.9v.9h-.9zM64.7 113.7h.9v.9h-.9zM62.0 111.7h.9v.9h-.9zM59.6 114.6h.9v.9h-.9zM71.2 115.5h.9v.9h-.9zM65.7 115.8h.9v.9h-.9zM62.1 119.2h.9v.9h-.9zM67.4 109.2h.9v.9h-.9zM66.8 115.7h.9v.9h-.9zM68.8 115.8h.9v.9h-.9zM73.1 116.2h.9v.9h-.9zM61.6 118.0h.9v.9h-.9zM59.3 114.2h.9v.9h-.9zM75.3 114.0h.9v.9h-.9zM62.5 113.1h.9v.9h-.9zM70.3 112.9h.9v.9h-.9zM66.5 115.6h.9v.9h-.9zM64.8 111.9h.9v.9h-.9zM66.6 113.9h.9v.9h-.9zM66.1 113.1h.9v.9h-.9zM71.1 117.8h.9v.9h-.9zM59.0 113.4h.9v.9h-.9zM69.5 114.9h.9v.9h-.9zM60.8 118.7h.9v.9h-.9zM67.8 110.9h.9v.9h-.9zM73.4 113.2h.9v.9h-.9zM67.2 113.1h.9v.9h-.9zM65.3 114.7h.9v.9h-.9zM60.4 113.6h.9v.9h-.9zM73.0 112.9h.9v.9h-.9zM67.4 115.1h.9v.9h-.9zM61.7 118.0h.9v.9h-.9zM64.7 117.6h.9v.9h-.9zM68.8 112.8h.9v.9h-.9zM71.0 111.4h.9v.9h-.9zM68.4 113.7h.9v.9h-.9zM59.4 112.4h.9v.9h-.9zM58.5 116.2h.9v.9h-.9zM68.1 112.9h.9v.9h-.9zM60.6 120.2h.9v.9h-.9zM61.7 116.4h.9v.9h-.9zM65.2 113.5h.9v.9h-.9zM64.7 115.1h.9v.9h-.9zM64.2 114.8h.9v.9h-.9zM64.8 115.0h.9v.9h-.9zM68.3 111.4h.9v.9h-.9zM68.7 116.6h.9v.9h-.9zM64.8 109.8h.9v.9h-.9zM59.0 115.4h.9v.9h-.9zM71.9 114.1h.9v.9h-.9zM73.5 114.5h.9v.9h-.9zM62.0 117.6h.9v.9h-.9zM70.5 113.3h.9v.9h-.9zM65.2 117.9h.9v.9h-.9zM68.4 118.2h.9v.9h-.9zM65.2 116.8h.9v.9h-.9zM68.9 119.7h.9v.9h-.9zM67.0 117.7h.9v.9h-.9zM66.5 119.2h.9v.9h-.9zM60.7 116.3h.9v.9h-.9zM64.5 118.1h.9v.9h-.9zM62.0 118.2h.9v.9h-.9zM65.9 115.1h.9v.9h-.9zM67.8 113.6h.9v.9h-.9zM68.8 113.6h.9v.9h-.9zM68.6 114.7h.9v.9h-.9zM63.6 122.6h.9v.9h-.9zM70.3 115.0h.9v.9h-.9zM69.1 120.5h.9v.9h-.9zM68.9 114.2h.9v.9h-.9zM68.3 117.3h.9v.9h-.9zM55.4 119.2h.9v.9h-.9zM64.5 117.2h.9v.9h-.9zM68.9 114.6h.9v.9h-.9zM57.0 118.2h.9v.9h-.9zM75.4 114.5h.9v.9h-.9zM74.7 119.5h.9v.9h-.9zM72.1 116.7h.9v.9h-.9zM62.1 120.1h.9v.9h-.9zM64.0 116.5h.9v.9h-.9zM63.3 116.1h.9v.9h-.9zM69.0 112.7h.9v.9h-.9zM64.5 118.4h.9v.9h-.9zM68.8 117.0h.9v.9h-.9zM62.3 117.4h.9v.9h-.9zM59.4 118.0h.9v.9h-.9zM68.7 115.6h.9v.9h-.9zM71.7 116.1h.9v.9h-.9zM58.7 121.1h.9v.9h-.9zM57.0 116.6h.9v.9h-.9zM65.1 114.3h.9v.9h-.9zM65.3 118.5h.9v.9h-.9zM60.6 114.4h.9v.9h-.9zM63.1 111.2h.9v.9h-.9zM66.2 115.4h.9v.9h-.9zM56.6 116.2h.9v.9h-.9zM65.1 113.9h.9v.9h-.9zM68.7 114.1h.9v.9h-.9zM71.3 113.9h.9v.9h-.9zM56.8 116.7h.9v.9h-.9zM66.3 120.3h.9v.9h-.9zM60.9 116.4h.9v.9h-.9zM67.8 117.5h.9v.9h-.9zM63.3 117.1h.9v.9h-.9zM65.4 118.2h.9v.9h-.9zM65.3 119.5h.9v.9h-.9zM66.4 114.2h.9v.9h-.9zM62.9 111.1h.9v.9h-.9zM70.0 117.0h.9v.9h-.9zM66.2 116.1h.9v.9h-.9zM62.3 117.4h.9v.9h-.9zM65.3 114.7h.9v.9h-.9zM65.6 114.6h.9v.9h-.9zM71.5 116.5h.9v.9h-.9zM60.3 119.2h.9v.9h-.9zM64.4 114.0h.9v.9h-.9zM60.9 112.8h.9v.9h-.9zM70.6 114.9h.9v.9h-.9zM70.7 115.2h.9v.9h-.9zM65.0 117.5h.9v.9h-.9zM65.9 113.7h.9v.9h-.9zM65.8 116.1h.9v.9h-.9zM65.2 117.5h.9v.9h-.9zM66.1 113.5h.9v.9h-.9zM68.4 114.9h.9v.9h-.9zM70.5 113.2h.9v.9h-.9zM62.0 118.7h.9v.9h-.9zM69.2 113.9h.9v.9h-.9zM69.8 118.2h.9v.9h-.9zM61.8 114.2h.9v.9h-.9zM72.9 108.9h.9v.9h-.9zM71.2 109.8h.9v.9h-.9zM66.2 116.4h.9v.9h-.9zM63.3 113.4h.9v.9h-.9zM65.3 113.8h.9v.9h-.9zM64.6 118.7h.9v.9h-.9zM68.7 112.2h.9v.9h-.9zM67.1 115.8h.9v.9h-.9zM70.8 121.3h.9v.9h-.9zM72.0 115.3h.9v.9h-.9zM65.8 113.6h.9v.9h-.9zM65.2 116.3h.9v.9h-.9zM77.2 112.1h.9v.9h-.9zM64.9 115.7h.9v.9h-.9zM60.4 115.9h.9v.9h-.9zM56.4 114.6h.9v.9h-.9zM73.6 109.3h.9v.9h-.9zM65.2 116.0h.9v.9h-.9zM71.4 117.9h.9v.9h-.9zM64.6 118.2h.9v.9h-.9zM62.8 115.5h.9v.9h-.9zM56.8 115.1h.9v.9h-.9zM64.6 114.1h.9v.9h-.9zM67.5 115.1h.9v.9h-.9zM66.6 112.1h.9v.9h-.9zM63.7 114.6h.9v.9h-.9zM63.8 117.0h.9v.9h-.9zM68.7 118.4h.9v.9h-.9zM60.9 120.3h.9v.9h-.9zM68.8 116.0h.9v.9h-.9zM67.2 109.6h.9v.9h-.9zM60.6 117.3h.9v.9h-.9zM71.5 113.9h.9v.9h-.9zM62.0 118.5h.9v.9h-.9zM63.1 114.1h.9v.9h-.9zM66.4 117.8h.9v.9h-.9zM65.0 123.1h.9v.9h-.9zM65.2 115.7h.9v.9h-.9zM69.1 117.7h.9v.9h-.9zM71.8 115.8h.9v.9h-.9zM62.5 115.1h.9v.9h-.9zM68.0 117.0h.9v.9h-.9zM71.7 116.5h.9v.9h-.9zM65.0 115.6h.9v.9h-.9zM65.9 116.4h.9v.9h-.9zM73.5 110.5h.9v.9h-.9zM66.4 109.4h.9v.9h-.9zM61.7 117.1h.9v.9h-.9zM73.3 115.5h.9v.9h-.9zM66.8 112.3h.9v.9h-.9zM72.7 119.4h.9v.9h-.9zM71.8 116.4h.9v.9h-.9zM59.3 116.4h.9v.9h-.9zM65.8 114.2h.9v.9h-.9zM75.5 110.7h.9v.9h-.9zM62.1 118.8h.9v.9h-.9zM59.7 113.6h.9v.9h-.9zM68.4 111.1h.9v.9h-.9zM63.9 117.3h.9v.9h-.9zM62.6 111.1h.9v.9h-.9zM73.4 109.3h.9v.9h-.9zM78.6 111.2h.9v.9h-.9zM70.4 115.6h.9v.9h-.9zM61.9 110.3h.9v.9h-.9zM59.5 116.5h.9v.9h-.9zM54.5 113.5h.9v.9h-.9zM66.0 113.5h.9v.9h-.9zM64.7 115.9h.9v.9h-.9zM61.6 115.8h.9v.9h-.9zM66.1 120.0h.9v.9h-.9zM59.3 120.6h.9v.9h-.9zM61.9 118.3h.9v.9h-.9zM66.0 117.0h.9v.9h-.9zM60.8 118.6h.9v.9h-.9zM62.2 109.6h.9v.9h-.9zM60.3 117.2h.9v.9h-.9zM58.1 115.5h.9v.9h-.9zM71.5 115.3h.9v.9h-.9zM59.2 120.3h.9v.9h-.9zM65.2 113.5h.9v.9h-.9zM63.8 115.0h.9v.9h-.9zM61.0 117.4h.9v.9h-.9zM78.8 116.0h.9v.9h-.9zM65.3 115.6h.9v.9h-.9zM60.5 115.8h.9v.9h-.9zM63.5 115.8h.9v.9h-.9zM71.4 119.3h.9v.9h-.9zM64.8 116.5h.9v.9h-.9zM67.8 112.0h.9v.9h-.9zM69.2 114.5h.9v.9h-.9zM67.6 111.4h.9v.9h-.9zM67.4 115.4h.9v.9h-.9zM66.3 119.6h.9v.9h-.9zM64.5 115.1h.9v.9h-.9zM66.1 114.8h.9v.9h-.9zM73.4 112.4h.9v.9h-.9zM70.0 112.1h.9v.9h-.9zM52.2 118.1h.9v.9h-.9zM70.3 115.2h.9v.9h-.9zM65.8 115.7h.9v.9h-.9zM63.0 118.2h.9v.9h-.9zM62.1 116.6h.9v.9h-.9zM56.9 114.0h.9v.9h-.9zM68.8 115.5h.9v.9h-.9zM55.4 117.1h.9v.9h-.9zM57.0 116.4h.9v.9h-.9zM59.7 118.5h.9v.9h-.9zM59.3 116.4h.9v.9h-.9zM72.2 113.2h.9v.9h-.9zM62.9 119.1h.9v.9h-.9zM54.2 115.7h.9v.9h-.9zM67.0 113.5h.9v.9h-.9zM63.0 116.9h.9v.9h-.9zM60.3 114.7h.9v.9h-.9zM72.7 115.6h.9v.9h-.9zM68.5 111.9h.9v.9h-.9zM69.9 114.4h.9v.9h-.9zM63.6 114.9h.9v.9h-.9zM61.3 116.5h.9v.9h-.9zM73.1 116.9h.9v.9h-.9zM58.2 112.8h.9v.9h-.9zM63.9 115.0h.9v.9h-.9zM68.0 112.1h.9v.9h-.9zM62.2 115.5h.9v.9h-.9zM60.9 117.8h.9v.9h-.9zM63.1 114.4h.9v.9h-.9zM71.7 114.8h.9v.9h-.9zM58.9 118.6h.9v.9h-.9zM67.2 116.4h.9v.9h-.9zM54.5 117.5h.9v.9h-.9zM66.0 110.0h.9v.9h-.9zM62.0 112.3h.9v.9h-.9zM71.4 117.8h.9v.9h-.9zM76.9 114.4h.9v.9h-.9zM62.3 118.5h.9v.9h-.9zM74.5 115.8h.9v.9h-.9zM72.4 113.7h.9v.9h-.9zM61.6 119.1h.9v.9h-.9zM67.0 116.0h.9v.9h-.9zM57.7 118.2h.9v.9h-.9zM60.2 111.5h.9v.9h-.9zM70.6 113.4h.9v.9h-.9zM61.8 119.4h.9v.9h-.9zM61.7 115.7h.9v.9h-.9zM67.3 113.7h.9v.9h-.9zM69.2 112.5h.9v.9h-.9zM62.6 114.9h.9v.9h-.9zM67.0 112.7h.9v.9h-.9zM68.4 115.1h.9v.9h-.9zM60.7 116.9h.9v.9h-.9zM70.8 117.7h.9v.9h-.9zM67.0 118.5h.9v.9h-.9zM69.7 117.1h.9v.9h-.9zM70.5 114.0h.9v.9h-.9zM74.5 112.9h.9v.9h-.9zM64.2 110.4h.9v.9h-.9zM70.6 118.7h.9v.9h-.9zM62.9 118.4h.9v.9h-.9zM72.1 116.1h.9v.9h-.9zM67.1 115.5h.9v.9h-.9zM72.6 114.9h.9v.9h-.9zM69.0 113.0h.9v.9h-.9zM71.8 112.3h.9v.9h-.9zM66.0 115.5h.9v.9h-.9zM60.0 114.9h.9v.9h-.9zM59.1 114.0h.9v.9h-.9zM74.6 118.0h.9v.9h-.9zM66.0 110.7h.9v.9h-.9zM62.1 116.8h.9v.9h-.9zM59.2 114.8h.9v.9h-.9zM57.4 117.1h.9v.9h-.9zM69.1 114.5h.9v.9h-.9zM70.2 118.5h.9v.9h-.9zM67.3 114.1h.9v.9h-.9zM53.6 119.9h.9v.9h-.9zM67.4 114.3h.9v.9h-.9zM68.1 116.8h.9v.9h-.9zM72.8 114.8h.9v.9h-.9zM64.2 112.8h.9v.9h-.9zM72.8 113.2h.9v.9h-.9zM61.8 113.6h.9v.9h-.9zM65.8 111.7h.9v.9h-.9zM62.2 114.0h.9v.9h-.9zM74.1 112.3h.9v.9h-.9zM67.2 120.7h.9v.9h-.9zM75.1 113.7h.9v.9h-.9zM69.3 115.8h.9v.9h-.9zM68.7 118.7h.9v.9h-.9zM67.8 117.1h.9v.9h-.9zM68.3 116.7h.9v.9h-.9zM64.1 113.8h.9v.9h-.9zM56.2 116.5h.9v.9h-.9zM62.1 117.8h.9v.9h-.9zM66.9 115.2h.9v.9h-.9zM61.0 117.1h.9v.9h-.9zM58.4 112.9h.9v.9h-.9zM61.5 118.8h.9v.9h-.9zM67.9 122.0h.9v.9h-.9zM67.2 114.3h.9v.9h-.9zM66.3 116.9h.9v.9h-.9zM72.9 120.5h.9v.9h-.9zM70.4 117.7h.9v.9h-.9zM64.7 116.3h.9v.9h-.9zM72.6 115.1h.9v.9h-.9zM73.3 112.2h.9v.9h-.9zM64.4 113.7h.9v.9h-.9zM66.9 113.1h.9v.9h-.9zM60.6 117.0h.9v.9h-.9zM70.6 115.2h.9v.9h-.9zM64.0 116.6h.9v.9h-.9zM64.6 114.5h.9v.9h-.9zM63.5 118.2h.9v.9h-.9zM68.7 118.7h.9v.9h-.9zM70.5 113.8h.9v.9h-.9zM71.1 114.6h.9v.9h-.9zM61.7 117.1h.9v.9h-.9zM66.0 111.2h.9v.9h-.9zM60.9 119.7h.9v.9h-.9zM64.6 117.3h.9v.9h-.9zM70.9 116.5h.9v.9h-.9zM64.6 112.6h.9v.9h-.9zM67.5 115.1h.9v.9h-.9zM59.6 113.3h.9v.9h-.9zM79.6 116.0h.9v.9h-.9zM48.2 117.2h.9v.9h-.9zM68.6 117.0h.9v.9h-.9zM73.6 118.0h.9v.9h-.9zM63.3 118.4h.9v.9h-.9zM63.5 112.6h.9v.9h-.9zM64.3 117.1h.9v.9h-.9zM63.3 117.1h.9v.9h-.9zM68.4 115.7h.9v.9h-.9zM68.2 121.7h.9v.9h-.9zM66.3 114.5h.9v.9h-.9zM61.7 116.3h.9v.9h-.9zM68.4 115.4h.9v.9h-.9zM67.4 111.0h.9v.9h-.9zM65.6 116.0h.9v.9h-.9zM69.0 114.3h.9v.9h-.9zM71.1 116.3h.9v.9h-.9zM68.1 118.1h.9v.9h-.9zM70.2 116.2h.9v.9h-.9zM69.9 115.6h.9v.9h-.9zM55.1 120.9h.9v.9h-.9zM76.0 115.6h.9v.9h-.9zM65.8 115.1h.9v.9h-.9zM67.6 119.8h.9v.9h-.9zM62.5 118.2h.9v.9h-.9zM62.9 112.0h.9v.9h-.9zM63.1 117.6h.9v.9h-.9zM71.3 114.4h.9v.9h-.9zM61.7 115.5h.9v.9h-.9zM73.6 114.6h.9v.9h-.9zM64.0 108.8h.9v.9h-.9zM63.7 118.9h.9v.9h-.9zM67.5 112.4h.9v.9h-.9zM61.4 117.7h.9v.9h-.9zM63.5 112.4h.9v.9h-.9zM66.2 117.9h.9v.9h-.9zM70.5 118.0h.9v.9h-.9zM66.1 115.5h.9v.9h-.9zM59.5 113.2h.9v.9h-.9zM76.1 115.9h.9v.9h-.9zM61.3 113.0h.9v.9h-.9zM68.8 116.7h.9v.9h-.9zM76.4 113.0h.9v.9h-.9zM64.9 118.3h.9v.9h-.9zM57.4 118.5h.9v.9h-.9zM59.6 114.9h.9v.9h-.9zM60.2 115.5h.9v.9h-.9zM58.4 113.7h.9v.9h-.9zM58.3 122.8h.9v.9h-.9zM59.7 117.8h.9v.9h-.9zM63.0 118.7h.9v.9h-.9zM63.0 114.3h.9v.9h-.9zM58.8 117.4h.9v.9h-.9zM66.2 116.8h.9v.9h-.9zM68.5 111.1h.9v.9h-.9zM73.6 116.1h.9v.9h-.9zM73.3 114.0h.9v.9h-.9zM62.6 119.8h.9v.9h-.9zM62.5 112.6h.9v.9h-.9zM59.6 115.7h.9v.9h-.9zM66.6 113.3h.9v.9h-.9zM60.4 116.9h.9v.9h-.9zM74.9 112.9h.9v.9h-.9zM73.0 112.8h.9v.9h-.9zM68.5 115.7h.9v.9h-.9zM61.9 114.0h.9v.9h-.9zM74.3 111.5h.9v.9h-.9zM66.6 115.1h.9v.9h-.9zM71.1 114.0h.9v.9h-.9zM62.0 116.9h.9v.9h-.9zM69.6 113.3h.9v.9h-.9zM60.5 115.7h.9v.9h-.9zM57.3 115.5h.9v.9h-.9zM63.6 114.6h.9v.9h-.9zM68.3 116.4h.9v.9h-.9zM61.3 120.9h.9v.9h-.9zM66.8 115.8h.9v.9h-.9zM65.1 117.4h.9v.9h-.9zM54.2 120.8h.9v.9h-.9zM68.6 119.9h.9v.9h-.9zM62.5 118.2h.9v.9h-.9zM66.5 116.8h.9v.9h-.9zM63.0 114.6h.9v.9h-.9zM69.2 111.2h.9v.9h-.9zM52.0 116.4h.9v.9h-.9zM68.9 111.4h.9v.9h-.9zM72.7 118.7h.9v.9h-.9zM67.3 113.5h.9v.9h-.9zM66.3 112.5h.9v.9h-.9zM61.6 115.0h.9v.9h-.9zM66.7 115.3h.9v.9h-.9zM63.6 115.6h.9v.9h-.9zM62.7 114.6h.9v.9h-.9zM69.1 115.3h.9v.9h-.9zM65.1 112.4h.9v.9h-.9zM67.0 116.7h.9v.9h-.9zM68.1 117.1h.9v.9h-.9zM66.2 115.4h.9v.9h-.9zM67.8 112.6h.9v.9h-.9zM65.3 115.4h.9v.9h-.9zM68.1 107.3h.9v.9h-.9zM71.2 114.5h.9v.9h-.9zM65.6 116.1h.9v.9h-.9zM79.2 107.0h.9v.9h-.9zM62.1 110.3h.9v.9h-.9zM73.4 109.3h.9v.9h-.9zM68.4 112.3h.9v.9h-.9zM71.7 113.8h.9v.9h-.9zM75.2 112.9h.9v.9h-.9zM59.0 114.1h.9v.9h-.9zM69.8 116.3h.9v.9h-.9zM68.2 112.2h.9v.9h-.9zM67.0 115.8h.9v.9h-.9zM74.8 115.4h.9v.9h-.9zM64.8 119.5h.9v.9h-.9zM71.8 117.1h.9v.9h-.9zM70.5 113.5h.9v.9h-.9zM72.6 114.4h.9v.9h-.9zM63.6 118.0h.9v.9h-.9zM76.9 114.6h.9v.9h-.9zM68.6 108.5h.9v.9h-.9zM70.6 114.9h.9v.9h-.9zM70.9 114.9h.9v.9h-.9zM69.9 116.9h.9v.9h-.9zM78.4 115.0h.9v.9h-.9zM67.6 113.6h.9v.9h-.9zM74.5 111.9h.9v.9h-.9zM70.9 116.6h.9v.9h-.9zM64.3 112.5h.9v.9h-.9zM69.6 115.3h.9v.9h-.9zM68.5 113.5h.9v.9h-.9zM71.3 112.4h.9v.9h-.9zM71.9 118.3h.9v.9h-.9zM70.3 117.0h.9v.9h-.9zM67.2 113.7h.9v.9h-.9zM69.1 116.1h.9v.9h-.9zM72.5 113.7h.9v.9h-.9zM63.4 116.0h.9v.9h-.9zM67.3 112.7h.9v.9h-.9zM65.4 113.3h.9v.9h-.9zM76.0 116.0h.9v.9h-.9zM68.1 113.3h.9v.9h-.9zM74.6 108.3h.9v.9h-.9zM73.7 108.9h.9v.9h-.9zM71.0 111.3h.9v.9h-.9zM70.1 119.8h.9v.9h-.9zM68.5 113.9h.9v.9h-.9zM72.7 110.6h.9v.9h-.9zM70.1 116.2h.9v.9h-.9zM68.6 114.7h.9v.9h-.9zM72.9 112.2h.9v.9h-.9zM73.0 110.2h.9v.9h-.9zM68.2 114.5h.9v.9h-.9zM76.5 115.1h.9v.9h-.9zM69.6 109.6h.9v.9h-.9zM66.6 113.3h.9v.9h-.9zM79.4 107.9h.9v.9h-.9zM69.4 111.3h.9v.9h-.9zM68.7 113.8h.9v.9h-.9zM66.6 113.0h.9v.9h-.9zM68.8 115.1h.9v.9h-.9zM71.4 115.7h.9v.9h-.9zM69.9 110.6h.9v.9h-.9zM72.5 113.5h.9v.9h-.9zM67.8 111.0h.9v.9h-.9zM72.0 114.3h.9v.9h-.9zM69.1 112.5h.9v.9h-.9zM79.1 109.3h.9v.9h-.9zM77.2 114.6h.9v.9h-.9zM70.4 116.1h.9v.9h-.9zM61.9 116.2h.9v.9h-.9zM67.5 113.4h.9v.9h-.9zM74.2 118.3h.9v.9h-.9zM72.4 114.5h.9v.9h-.9zM72.9 114.1h.9v.9h-.9zM76.2 108.2h.9v.9h-.9zM68.5 115.6h.9v.9h-.9zM71.4 115.2h.9v.9h-.9zM70.9 117.8h.9v.9h-.9zM73.7 113.8h.9v.9h-.9zM64.2 119.9h.9v.9h-.9zM71.7 115.0h.9v.9h-.9zM75.6 108.0h.9v.9h-.9zM69.5 113.6h.9v.9h-.9zM61.7 110.1h.9v.9h-.9zM64.4 113.4h.9v.9h-.9zM70.1 113.3h.9v.9h-.9zM65.0 120.7h.9v.9h-.9zM75.8 113.6h.9v.9h-.9zM66.7 114.3h.9v.9h-.9zM73.5 116.2h.9v.9h-.9zM66.4 116.5h.9v.9h-.9zM66.3 112.8h.9v.9h-.9zM68.2 115.1h.9v.9h-.9zM68.6 109.4h.9v.9h-.9zM73.9 106.9h.9v.9h-.9zM67.6 112.7h.9v.9h-.9zM74.5 111.7h.9v.9h-.9zM65.9 105.5h.9v.9h-.9zM64.2 111.6h.9v.9h-.9zM73.5 108.9h.9v.9h-.9zM65.4 111.8h.9v.9h-.9zM70.1 110.8h.9v.9h-.9zM71.1 118.4h.9v.9h-.9zM66.6 111.1h.9v.9h-.9zM71.5 114.6h.9v.9h-.9zM69.0 111.8h.9v.9h-.9zM69.8 111.8h.9v.9h-.9zM70.6 112.8h.9v.9h-.9zM72.0 115.1h.9v.9h-.9zM71.1 111.9h.9v.9h-.9zM73.2 111.6h.9v.9h-.9zM68.3 113.2h.9v.9h-.9zM70.9 110.4h.9v.9h-.9zM72.0 113.1h.9v.9h-.9zM70.9 111.0h.9v.9h-.9zM64.1 110.7h.9v.9h-.9zM75.1 111.7h.9v.9h-.9zM69.8 116.2h.9v.9h-.9zM71.1 112.9h.9v.9h-.9zM65.9 113.9h.9v.9h-.9zM73.0 116.1h.9v.9h-.9zM74.2 111.0h.9v.9h-.9zM72.8 115.2h.9v.9h-.9zM67.1 117.9h.9v.9h-.9zM71.9 110.6h.9v.9h-.9zM70.8 107.6h.9v.9h-.9zM71.4 115.0h.9v.9h-.9zM65.1 110.4h.9v.9h-.9zM72.0 112.7h.9v.9h-.9zM69.8 117.8h.9v.9h-.9zM81.4 100.7h.9v.9h-.9zM76.9 98.1h.9v.9h-.9zM76.7 104.6h.9v.9h-.9zM72.5 103.5h.9v.9h-.9zM78.6 104.7h.9v.9h-.9zM74.5 101.4h.9v.9h-.9zM68.2 116.2h.9v.9h-.9zM68.6 111.1h.9v.9h-.9zM78.3 110.3h.9v.9h-.9zM83.1 93.0h.9v.9h-.9zM78.7 107.6h.9v.9h-.9zM76.7 101.0h.9v.9h-.9zM70.4 107.4h.9v.9h-.9zM79.0 97.6h.9v.9h-.9zM73.9 98.7h.9v.9h-.9zM74.7 95.7h.9v.9h-.9zM78.3 95.5h.9v.9h-.9zM74.1 102.0h.9v.9h-.9zM73.1 100.3h.9v.9h-.9zM76.0 103.4h.9v.9h-.9zM79.3 101.3h.9v.9h-.9zM67.8 109.3h.9v.9h-.9zM73.6 103.1h.9v.9h-.9zM73.0 102.2h.9v.9h-.9zM72.1 113.1h.9v.9h-.9zM75.3 101.4h.9v.9h-.9zM79.0 85.6h.9v.9h-.9zM70.1 113.6h.9v.9h-.9zM75.7 94.2h.9v.9h-.9zM73.4 98.1h.9v.9h-.9zM74.3 104.2h.9v.9h-.9zM77.8 102.5h.9v.9h-.9zM76.8 93.9h.9v.9h-.9zM75.5 107.2h.9v.9h-.9zM69.7 106.4h.9v.9h-.9zM75.5 110.6h.9v.9h-.9zM76.5 101.4h.9v.9h-.9zM79.4 98.6h.9v.9h-.9zM58.6 118.9h.9v.9h-.9zM54.3 118.0h.9v.9h-.9zM55.0 114.4h.9v.9h-.9zM56.9 117.2h.9v.9h-.9zM55.7 118.9h.9v.9h-.9zM58.4 119.3h.9v.9h-.9zM56.4 116.3h.9v.9h-.9zM52.1 117.3h.9v.9h-.9zM51.0 114.7h.9v.9h-.9zM60.3 114.2h.9v.9h-.9zM56.2 114.8h.9v.9h-.9zM55.5 115.1h.9v.9h-.9zM55.1 117.1h.9v.9h-.9zM53.6 118.6h.9v.9h-.9zM54.9 122.5h.9v.9h-.9zM56.0 121.6h.9v.9h-.9zM56.4 121.3h.9v.9h-.9zM55.5 117.9h.9v.9h-.9zM55.3 117.8h.9v.9h-.9zM55.8 116.0h.9v.9h-.9zM52.5 118.9h.9v.9h-.9zM52.9 117.6h.9v.9h-.9zM56.8 116.0h.9v.9h-.9zM55.2 115.6h.9v.9h-.9zM58.9 114.2h.9v.9h-.9zM54.4 116.8h.9v.9h-.9zM56.8 113.5h.9v.9h-.9zM55.7 116.3h.9v.9h-.9zM53.2 115.9h.9v.9h-.9zM54.1 114.4h.9v.9h-.9zM54.8 114.0h.9v.9h-.9zM55.1 117.2h.9v.9h-.9zM50.8 120.3h.9v.9h-.9zM55.6 117.3h.9v.9h-.9zM60.5 115.0h.9v.9h-.9zM56.5 114.2h.9v.9h-.9zM53.4 116.6h.9v.9h-.9zM56.9 114.5h.9v.9h-.9zM50.9 119.8h.9v.9h-.9z"/>
<path fill="#000" fill-opacity="0.2" d="M211.2 54.3h.9v.9h-.9zM210.1 62.2h.9v.9h-.9zM200.8 58.3h.9v.9h-.9zM203.4 63.2h.9v.9h-.9zM217.8 61.9h.9v.9h-.9zM203.9 61.6h.9v.9h-.9zM205.2 57.2h.9v.9h-.9zM197.5 58.6h.9v.9h-.9zM192.9 51.6h.9v.9h-.9zM206.4 62.1h.9v.9h-.9zM205.8 57.0h.9v.9h-.9zM197.8 53.2h.9v.9h-.9zM198.8 60.0h.9v.9h-.9zM210.0 67.8h.9v.9h-.9zM214.5 53.9h.9v.9h-.9zM202.7 70.0h.9v.9h-.9zM211.2 59.0h.9v.9h-.9zM204.5 55.0h.9v.9h-.9zM213.5 63.5h.9v.9h-.9zM217.8 61.7h.9v.9h-.9zM203.0 62.5h.9v.9h-.9zM199.4 62.1h.9v.9h-.9zM201.9 63.0h.9v.9h-.9zM203.4 63.4h.9v.9h-.9zM214.5 58.7h.9v.9h-.9zM213.4 59.3h.9v.9h-.9zM204.1 60.1h.9v.9h-.9zM208.6 59.4h.9v.9h-.9zM208.4 63.7h.9v.9h-.9zM200.6 59.7h.9v.9h-.9zM203.6 64.0h.9v.9h-.9zM201.1 61.7h.9v.9h-.9zM206.7 59.3h.9v.9h-.9zM212.3 63.9h.9v.9h-.9zM198.9 67.5h.9v.9h-.9zM205.6 56.7h.9v.9h-.9zM206.5 59.0h.9v.9h-.9zM208.2 66.4h.9v.9h-.9zM205.0 56.9h.9v.9h-.9zM202.9 59.3h.9v.9h-.9zM219.7 60.1h.9v.9h-.9zM216.7 68.4h.9v.9h-.9zM205.9 62.8h.9v.9h-.9zM207.3 59.7h.9v.9h-.9zM197.3 62.9h.9v.9h-.9zM199.3 57.0h.9v.9h-.9zM220.2 66.6h.9v.9h-.9zM194.9 52.8h.9v.9h-.9zM206.4 63.4h.9v.9h-.9zM214.8 59.6h.9v.9h-.9zM199.2 61.0h.9v.9h-.9zM205.5 59.2h.9v.9h-.9zM205.0 60.1h.9v.9h-.9zM207.7 57.7h.9v.9h-.9zM204.7 59.5h.9v.9h-.9zM217.3 58.1h.9v.9h-.9zM215.0 61.3h.9v.9h-.9zM205.7 67.9h.9v.9h-.9zM208.4 53.2h.9v.9h-.9zM215.7 67.8h.9v.9h-.9zM206.7 55.9h.9v.9h-.9zM204.0 60.0h.9v.9h-.9zM211.6 58.3h.9v.9h-.9zM210.3 60.3h.9v.9h-.9zM206.1 57.5h.9v.9h-.9zM209.2 57.2h.9v.9h-.9zM217.7 60.9h.9v.9h-.9zM206.5 61.4h.9v.9h-.9zM211.3 69.1h.9v.9h-.9zM201.3 63.2h.9v.9h-.9zM213.1 60.8h.9v.9h-.9zM199.2 60.2h.9v.9h-.9zM200.6 57.8h.9v.9h-.9zM207.3 59.0h.9v.9h-.9zM208.7 54.8h.9v.9h-.9zM221.2 66.2h.9v.9h-.9zM211.4 55.7h.9v.9h-.9zM213.1 55.5h.9v.9h-.9zM218.4 55.1h.9v.9h-.9zM208.4 65.3h.9v.9h-.9zM215.1 61.4h.9v.9h-.9zM207.8 68.4h.9v.9h-.9zM201.7 63.2h.9v.9h-.9zM217.8 66.3h.9v.9h-.9zM209.0 57.4h.9v.9h-.9zM202.6 60.4h.9v.9h-.9zM198.1 58.0h.9v.9h-.9zM196.7 58.7h.9v.9h-.9zM228.7 61.3h.9v.9h-.9zM204.9 58.6h.9v.9h-.9zM199.6 53.4h.9v.9h-.9zM191.8 62.1h.9v.9h-.9zM197.3 58.1h.9v.9h-.9zM178.5 74.4h.9v.9h-.9zM187.9 72.0h.9v.9h-.9zM197.9 76.8h.9v.9h-.9zM195.8 67.2h.9v.9h-.9zM192.4 71.0h.9v.9h-.9zM189.1 57.8h.9v.9h-.9zM193.3 64.5h.9v.9h-.9zM174.3 73.1h.9v.9h-.9zM212.5 65.5h.9v.9h-.9zM216.0 62.6h.9v.9h-.9zM195.9 57.5h.9v.9h-.9zM196.2 62.1h.9v.9h-.9zM221.3 53.5h.9v.9h-.9zM191.8 66.5h.9v.9h-.9zM209.4 53.1h.9v.9h-.9zM200.8 48.9h.9v.9h-.9zM170.4 60.2h.9v.9h-.9zM176.1 61.0h.9v.9h-.9zM193.0 64.0h.9v.9h-.9zM207.3 52.9h.9v.9h-.9zM196.4 60.7h.9v.9h-.9zM191.1 63.3h.9v.9h-.9zM201.4 65.0h.9v.9h-.9zM185.4 68.4h.9v.9h-.9zM203.6 61.5h.9v.9h-.9zM175.1 59.3h.9v.9h-.9zM183.7 72.0h.9v.9h-.9zM216.3 59.7h.9v.9h-.9zM205.5 69.5h.9v.9h-.9zM191.1 59.7h.9v.9h-.9zM175.4 64.9h.9v.9h-.9zM189.4 62.5h.9v.9h-.9zM183.0 58.0h.9v.9h-.9zM204.1 72.6h.9v.9h-.9zM198.4 65.4h.9v.9h-.9zM196.0 49.7h.9v.9h-.9zM176.7 65.9h.9v.9h-.9zM207.5 60.1h.9v.9h-.9zM193.8 60.6h.9v.9h-.9zM192.3 63.2h.9v.9h-.9zM199.7 59.0h.9v.9h-.9zM187.0 65.6h.9v.9h-.9zM198.9 58.2h.9v.9h-.9zM200.2 68.7h.9v.9h-.9zM206.0 63.4h.9v.9h-.9zM192.0 60.7h.9v.9h-.9zM199.8 63.1h.9v.9h-.9zM189.9 66.8h.9v.9h-.9zM171.8 73.4h.9v.9h-.9zM204.4 53.0h.9v.9h-.9zM200.3 55.0h.9v.9h-.9zM195.7 56.7h.9v.9h-.9zM220.4 61.0h.9v.9h-.9zM204.2 69.3h.9v.9h-.9zM203.1 60.9h.9v.9h-.9zM209.6 62.2h.9v.9h-.9zM189.3 61.4h.9v.9h-.9zM194.3 63.1h.9v.9h-.9zM191.7 61.5h.9v.9h-.9zM225.4 71.6h.9v.9h-.9zM197.6 64.7h.9v.9h-.9zM191.6 56.8h.9v.9h-.9zM205.3 72.3h.9v.9h-.9zM200.7 54.4h.9v.9h-.9zM219.2 70.1h.9v.9h-.9zM205.0 71.3h.9v.9h-.9zM181.2 59.9h.9v.9h-.9zM179.4 65.2h.9v.9h-.9zM192.5 65.6h.9v.9h-.9zM187.2 64.8h.9v.9h-.9zM209.8 47.8h.9v.9h-.9zM184.0 56.1h.9v.9h-.9zM180.6 73.9h.9v.9h-.9zM174.3 55.8h.9v.9h-.9zM185.8 50.0h.9v.9h-.9zM194.9 61.7h.9v.9h-.9zM204.9 64.0h.9v.9h-.9zM174.6 56.0h.9v.9h-.9zM190.5 58.3h.9v.9h-.9zM184.1 48.7h.9v.9h-.9zM192.5 73.9h.9v.9h-.9zM202.1 57.2h.9v.9h-.9zM183.4 76.7h.9v.9h-.9zM187.5 66.4h.9v.9h-.9zM191.8 57.4h.9v.9h-.9zM213.5 64.4h.9v.9h-.9zM184.2 53.6h.9v.9h-.9zM202.4 65.2h.9v.9h-.9zM189.7 64.2h.9v.9h-.9zM211.3 57.3h.9v.9h-.9zM215.5 57.9h.9v.9h-.9zM210.8 64.8h.9v.9h-.9zM201.8 58.7h.9v.9h-.9zM186.5 82.0h.9v.9h-.9zM196.8 64.4h.9v.9h-.9zM191.8 51.8h.9v.9h-.9zM176.7 64.0h.9v.9h-.9zM194.0 43.6h.9v.9h-.9zM194.2 66.2h.9v.9h-.9zM180.2 66.1h.9v.9h-.9zM193.3 68.9h.9v.9h-.9zM181.1 58.1h.9v.9h-.9zM204.1 62.9h.9v.9h-.9zM218.5 64.7h.9v.9h-.9zM200.3 60.8h.9v.9h-.9zM189.5 82.1h.9v.9h-.9zM196.3 54.7h.9v.9h-.9zM185.0 59.2h.9v.9h-.9zM197.1 56.1h.9v.9h-.9zM208.9 65.1h.9v.9h-.9zM194.6 65.9h.9v.9h-.9zM207.7 63.6h.9v.9h-.9zM204.2 70.5h.9v.9h-.9zM189.7 63.6h.9v.9h-.9zM197.4 61.2h.9v.9h-.9zM208.6 61.2h.9v.9h-.9zM199.5 59.9h.9v.9h-.9zM198.9 65.3h.9v.9h-.9zM192.8 57.4h.9v.9h-.9zM195.4 62.2h.9v.9h-.9zM217.6 61.2h.9v.9h-.9zM188.7 78.2h.9v.9h-.9zM182.2 59.1h.9v.9h-.9zM191.9 72.2h.9v.9h-.9zM197.9 63.2h.9v.9h-.9zM185.5 68.8h.9v.9h-.9zM200.9 58.7h.9v.9h-.9zM179.1 57.1h.9v.9h-.9zM190.2 54.1h.9v.9h-.9zM186.2 56.1h.9v.9h-.9zM198.3 49.0h.9v.9h-.9zM193.1 64.2h.9v.9h-.9zM198.3 69.6h.9v.9h-.9zM214.7 60.1h.9v.9h-.9zM207.7 64.1h.9v.9h-.9zM192.4 60.6h.9v.9h-.9zM206.7 63.9h.9v.9h-.9zM201.1 53.7h.9v.9h-.9zM195.3 70.6h.9v.9h-.9zM189.0 57.8h.9v.9h-.9zM191.6 70.5h.9v.9h-.9zM211.8 59.0h.9v.9h-.9zM188.9 60.2h.9v.9h-.9zM196.6 54.9h.9v.9h-.9zM198.0 47.1h.9v.9h-.9zM189.3 51.8h.9v.9h-.9zM197.7 40.4h.9v.9h-.9zM182.9 51.2h.9v.9h-.9zM190.7 45.0h.9v.9h-.9zM203.2 45.5h.9v.9h-.9zM198.1 47.7h.9v.9h-.9zM179.1 54.6h.9v.9h-.9zM196.5 48.7h.9v.9h-.9zM209.9 49.8h.9v.9h-.9zM184.0 48.4h.9v.9h-.9zM196.3 40.6h.9v.9h-.9zM185.4 36.5h.9v.9h-.9zM172.4 52.1h.9v.9h-.9zM191.1 82.6h.9v.9h-.9zM183.0 110.2h.9v.9h-.9zM194.9 109.1h.9v.9h-.9zM188.4 86.4h.9v.9h-.9zM181.7 87.6h.9v.9h-.9zM189.7 98.3h.9v.9h-.9zM185.1 99.0h.9v.9h-.9zM186.1 76.8h.9v.9h-.9zM188.0 95.5h.9v.9h-.9zM190.9 81.6h.9v.9h-.9zM187.5 88.9h.9v.9h-.9zM178.2 97.3h.9v.9h-.9zM176.3 102.8h.9v.9h-.9zM187.2 91.3h.9v.9h-.9zM191.0 95.3h.9v.9h-.9zM190.3 79.0h.9v.9h-.9zM194.9 90.7h.9v.9h-.9zM187.4 87.7h.9v.9h-.9zM180.5 86.9h.9v.9h-.9zM183.0 93.0h.9v.9h-.9zM192.2 97.8h.9v.9h-.9zM185.3 110.0h.9v.9h-.9zM181.9 90.3h.9v.9h-.9zM178.5 98.7h.9v.9h-.9zM185.9 74.3h.9v.9h-.9zM181.7 108.8h.9v.9h-.9zM190.9 92.1h.9v.9h-.9zM191.8 75.1h.9v.9h-.9zM181.7 77.8h.9v.9h-.9zM189.7 101.0h.9v.9h-.9zM192.4 117.6h.9v.9h-.9zM181.3 95.6h.9v.9h-.9zM173.0 91.8h.9v.9h-.9zM180.4 92.6h.9v.9h-.9zM183.9 93.9h.9v.9h-.9zM184.4 79.3h.9v.9h-.9zM171.7 69.3h.9v.9h-.9zM182.5 84.9h.9v.9h-.9zM176.9 74.4h.9v.9h-.9zM176.2 96.9h.9v.9h-.9zM181.0 95.9h.9v.9h-.9zM185.5 90.3h.9v.9h-.9zM188.6 85.5h.9v.9h-.9zM181.5 83.2h.9v.9h-.9zM191.4 86.9h.9v.9h-.9zM193.8 103.7h.9v.9h-.9zM178.3 88.7h.9v.9h-.9zM180.7 87.7h.9v.9h-.9zM198.0 96.4h.9v.9h-.9zM184.5 85.5h.9v.9h-.9zM178.7 85.1h.9v.9h-.9zM183.6 92.9h.9v.9h-.9zM184.5 71.8h.9v.9h-.9zM189.0 72.5h.9v.9h-.9zM183.5 91.3h.9v.9h-.9zM187.1 91.0h.9v.9h-.9zM175.9 91.4h.9v.9h-.9zM185.0 94.4h.9v.9h-.9zM178.7 80.2h.9v.9h-.9zM174.2 96.3h.9v.9h-.9zM185.6 81.3h.9v.9h-.9zM181.2 97.0h.9v.9h-.9zM185.3 85.1h.9v.9h-.9zM182.3 91.4h.9v.9h-.9zM190.3 85.1h.9v.9h-.9zM191.7 97.2h.9v.9h-.9zM202.7 79.1h.9v.9h-.9zM179.3 74.6h.9v.9h-.9zM192.1 80.2h.9v.9h-.9zM186.6 87.6h.9v.9h-.9zM176.6 105.8h.9v.9h-.9zM175.9 66.4h.9v.9h-.9zM175.1 80.7h.9v.9h-.9zM175.2 90.1h.9v.9h-.9zM179.2 99.3h.9v.9h-.9zM176.1 83.7h.9v.9h-.9zM180.6 80.6h.9v.9h-.9zM181.8 83.8h.9v.9h-.9zM181.3 106.5h.9v.9h-.9zM177.7 104.7h.9v.9h-.9zM168.7 89.4h.9v.9h-.9zM179.3 88.5h.9v.9h-.9zM180.0 84.0h.9v.9h-.9zM173.7 102.5h.9v.9h-.9zM176.4 92.5h.9v.9h-.9zM177.4 86.9h.9v.9h-.9zM175.2 97.8h.9v.9h-.9zM177.7 104.0h.9v.9h-.9zM180.1 106.9h.9v.9h-.9zM170.2 96.7h.9v.9h-.9zM180.4 99.8h.9v.9h-.9zM172.1 85.8h.9v.9h-.9zM175.2 109.8h.9v.9h-.9zM244.5 103.6h.9v.9h-.9zM226.9 106.7h.9v.9h-.9zM235.7 86.8h.9v.9h-.9zM237.3 89.3h.9v.9h-.9zM220.1 91.6h.9v.9h-.9zM231.0 102.8h.9v.9h-.9zM223.4 101.8h.9v.9h-.9zM217.1 89.2h.9v.9h-.9zM220.3 99.0h.9v.9h-.9zM241.4 91.8h.9v.9h-.9zM236.4 83.3h.9v.9h-.9zM226.2 105.2h.9v.9h-.9zM228.5 96.0h.9v.9h-.9zM236.8 99.3h.9v.9h-.9zM231.3 101.0h.9v.9h-.9zM232.2 96.0h.9v.9h-.9zM238.6 84.9h.9v.9h-.9zM246.1 90.7h.9v.9h-.9zM225.2 105.5h.9v.9h-.9zM238.9 110.7h.9v.9h-.9zM231.9 91.0h.9v.9h-.9zM242.4 116.9h.9v.9h-.9zM228.8 78.5h.9v.9h-.9zM243.2 73.6h.9v.9h-.9zM224.4 81.2h.9v.9h-.9zM241.8 104.3h.9v.9h-.9zM228.2 105.5h.9v.9h-.9zM226.0 94.3h.9v.9h-.9zM228.6 81.2h.9v.9h-.9zM235.0 89.9h.9v.9h-.9zM226.3 69.0h.9v.9h-.9zM233.6 97.9h.9v.9h-.9zM228.8 93.6h.9v.9h-.9zM235.7 107.0h.9v.9h-.9zM227.8 104.0h.9v.9h-.9zM232.0 123.6h.9v.9h-.9zM237.5 102.4h.9v.9h-.9zM231.9 91.8h.9v.9h-.9zM226.3 80.8h.9v.9h-.9zM237.0 102.0h.9v.9h-.9zM233.4 110.8h.9v.9h-.9zM240.6 122.3h.9v.9h-.9zM226.3 92.4h.9v.9h-.9zM244.1 100.4h.9v.9h-.9zM236.7 104.1h.9v.9h-.9zM228.3 108.5h.9v.9h-.9zM221.0 105.5h.9v.9h-.9zM225.6 100.9h.9v.9h-.9zM236.9 87.9h.9v.9h-.9zM227.2 103.3h.9v.9h-.9zM242.1 119.2h.9v.9h-.9zM235.7 89.1h.9v.9h-.9zM230.9 108.1h.9v.9h-.9zM237.1 90.7h.9v.9h-.9zM232.8 90.6h.9v.9h-.9zM232.9 88.9h.9v.9h-.9zM237.1 113.3h.9v.9h-.9zM236.2 74.7h.9v.9h-.9zM233.7 96.1h.9v.9h-.9zM229.2 104.5h.9v.9h-.9zM231.4 91.5h.9v.9h-.9zM240.2 98.1h.9v.9h-.9zM219.5 86.6h.9v.9h-.9zM235.2 102.7h.9v.9h-.9zM233.9 100.7h.9v.9h-.9zM224.8 88.7h.9v.9h-.9zM226.6 88.6h.9v.9h-.9zM229.4 114.2h.9v.9h-.9zM238.0 82.3h.9v.9h-.9zM225.9 73.6h.9v.9h-.9zM232.2 100.0h.9v.9h-.9zM232.7 84.6h.9v.9h-.9zM231.1 98.9h.9v.9h-.9zM231.8 86.8h.9v.9h-.9zM234.4 104.1h.9v.9h-.9zM232.4 109.4h.9v.9h-.9zM236.8 100.9h.9v.9h-.9zM239.4 83.4h.9v.9h-.9zM237.2 92.1h.9v.9h-.9zM221.7 109.4h.9v.9h-.9zM228.3 110.2h.9v.9h-.9zM236.8 107.4h.9v.9h-.9zM231.4 77.0h.9v.9h-.9zM233.4 93.3h.9v.9h-.9zM238.0 76.7h.9v.9h-.9zM232.1 92.4h.9v.9h-.9zM236.1 95.7h.9v.9h-.9zM233.2 110.3h.9v.9h-.9zM232.9 93.0h.9v.9h-.9zM231.2 97.2h.9v.9h-.9zM230.8 96.7h.9v.9h-.9zM227.2 98.9h.9v.9h-.9zM231.4 79.4h.9v.9h-.9zM236.3 86.5h.9v.9h-.9zM229.5 94.0h.9v.9h-.9zM238.5 100.8h.9v.9h-.9zM228.2 100.0h.9v.9h-.9zM229.8 95.1h.9v.9h-.9zM242.9 95.2h.9v.9h-.9zM222.1 98.4h.9v.9h-.9zM233.9 91.6h.9v.9h-.9zM228.8 95.1h.9v.9h-.9zM231.1 116.8h.9v.9h-.9zM223.8 91.6h.9v.9h-.9zM238.9 105.8h.9v.9h-.9zM227.3 116.1h.9v.9h-.9zM217.3 77.5h.9v.9h-.9zM237.2 98.7h.9v.9h-.9zM213.3 92.9h.9v.9h-.9zM220.0 91.5h.9v.9h-.9zM226.3 94.1h.9v.9h-.9zM237.2 87.7h.9v.9h-.9zM231.2 104.1h.9v.9h-.9zM234.9 113.5h.9v.9h-.9zM228.4 103.7h.9v.9h-.9zM231.6 88.7h.9v.9h-.9zM228.6 111.1h.9v.9h-.9zM226.2 90.3h.9v.9h-.9zM237.0 89.1h.9v.9h-.9zM233.4 94.9h.9v.9h-.9zM238.9 89.3h.9v.9h-.9zM230.1 89.7h.9v.9h-.9zM228.8 103.9h.9v.9h-.9zM238.5 97.6h.9v.9h-.9zM242.7 95.4h.9v.9h-.9zM239.8 98.7h.9v.9h-.9zM245.5 83.1h.9v.9h-.9zM235.0 96.9h.9v.9h-.9zM230.8 106.4h.9v.9h-.9zM227.7 109.8h.9v.9h-.9zM236.0 98.9h.9v.9h-.9zM236.8 99.0h.9v.9h-.9zM235.4 101.8h.9v.9h-.9zM231.0 116.8h.9v.9h-.9zM239.8 102.5h.9v.9h-.9zM238.4 115.2h.9v.9h-.9zM229.7 102.7h.9v.9h-.9zM230.0 120.3h.9v.9h-.9zM239.4 83.8h.9v.9h-.9zM239.5 112.0h.9v.9h-.9zM235.8 108.7h.9v.9h-.9zM234.3 99.3h.9v.9h-.9zM229.8 103.4h.9v.9h-.9zM228.8 82.8h.9v.9h-.9zM240.0 95.0h.9v.9h-.9zM239.2 104.6h.9v.9h-.9zM236.4 80.6h.9v.9h-.9zM220.0 82.0h.9v.9h-.9zM233.9 81.6h.9v.9h-.9zM237.1 107.0h.9v.9h-.9zM230.6 90.9h.9v.9h-.9zM238.6 104.3h.9v.9h-.9zM241.3 108.7h.9v.9h-.9zM232.0 87.0h.9v.9h-.9zM210.3 107.9h.9v.9h-.9zM220.2 102.4h.9v.9h-.9zM214.8 102.7h.9v.9h-.9zM206.8 98.5h.9v.9h-.9zM214.1 97.2h.9v.9h-.9zM209.3 101.7h.9v.9h-.9zM205.4 104.5h.9v.9h-.9zM214.0 109.7h.9v.9h-.9zM218.0 100.5h.9v.9h-.9zM200.9 110.7h.9v.9h-.9zM211.2 102.7h.9v.9h-.9zM214.3 105.3h.9v.9h-.9zM219.7 99.1h.9v.9h-.9zM213.7 107.9h.9v.9h-.9zM216.0 97.1h.9v.9h-.9zM217.9 106.9h.9v.9h-.9zM209.1 97.6h.9v.9h-.9zM221.7 105.6h.9v.9h-.9zM205.5 107.5h.9v.9h-.9zM207.5 101.5h.9v.9h-.9zM205.3 104.0h.9v.9h-.9zM216.1 100.9h.9v.9h-.9zM218.5 99.9h.9v.9h-.9zM205.4 101.8h.9v.9h-.9zM205.2 100.9h.9v.9h-.9zM221.3 102.2h.9v.9h-.9zM203.6 94.5h.9v.9h-.9zM210.7 99.9h.9v.9h-.9zM210.5 101.0h.9v.9h-.9zM205.4 96.7h.9v.9h-.9zM208.4 102.3h.9v.9h-.9zM217.6 93.5h.9v.9h-.9zM213.1 97.6h.9v.9h-.9zM218.7 101.6h.9v.9h-.9zM209.1 108.2h.9v.9h-.9zM208.9 99.4h.9v.9h-.9zM211.6 100.5h.9v.9h-.9zM208.0 107.3h.9v.9h-.9zM210.7 102.4h.9v.9h-.9zM201.8 100.7h.9v.9h-.9zM211.3 101.9h.9v.9h-.9zM209.0 93.8h.9v.9h-.9zM222.8 106.5h.9v.9h-.9zM203.2 107.0h.9v.9h-.9zM212.1 105.6h.9v.9h-.9zM208.9 103.0h.9v.9h-.9zM214.1 104.1h.9v.9h-.9zM208.5 100.3h.9v.9h-.9zM216.9 97.3h.9v.9h-.9zM201.9 107.0h.9v.9h-.9zM213.2 97.0h.9v.9h-.9zM217.8 95.3h.9v.9h-.9zM221.4 100.1h.9v.9h-.9zM212.7 105.3h.9v.9h-.9zM214.7 103.9h.9v.9h-.9zM209.7 94.5h.9v.9h-.9zM218.1 102.8h.9v.9h-.9zM199.7 103.1h.9v.9h-.9zM219.6 101.1h.9v.9h-.9zM205.9 100.6h.9v.9h-.9zM215.2 103.7h.9v.9h-.9zM208.6 101.4h.9v.9h-.9zM209.0 108.4h.9v.9h-.9zM206.1 106.6h.9v.9h-.9zM208.6 101.8h.9v.9h-.9zM205.1 101.6h.9v.9h-.9zM216.9 100.6h.9v.9h-.9zM216.9 97.7h.9v.9h-.9zM206.9 95.9h.9v.9h-.9zM205.5 101.8h.9v.9h-.9zM209.7 105.0h.9v.9h-.9zM226.4 57.0h.9v.9h-.9zM224.8 61.9h.9v.9h-.9zM214.3 73.0h.9v.9h-.9zM215.4 85.4h.9v.9h-.9zM225.1 62.8h.9v.9h-.9zM232.0 68.0h.9v.9h-.9zM219.1 65.9h.9v.9h-.9zM235.5 60.0h.9v.9h-.9zM229.4 68.3h.9v.9h-.9zM245.0 54.7h.9v.9h-.9zM218.7 54.3h.9v.9h-.9zM223.5 59.9h.9v.9h-.9zM227.0 43.0h.9v.9h-.9zM214.4 49.5h.9v.9h-.9zM216.6 56.3h.9v.9h-.9zM228.4 57.1h.9v.9h-.9zM232.4 55.9h.9v.9h-.9zM238.8 46.0h.9v.9h-.9zM227.7 53.4h.9v.9h-.9zM231.8 71.2h.9v.9h-.9zM231.7 72.1h.9v.9h-.9zM227.3 66.0h.9v.9h-.9zM214.4 50.9h.9v.9h-.9zM230.5 60.6h.9v.9h-.9zM218.5 69.0h.9v.9h-.9zM234.7 48.9h.9v.9h-.9zM225.1 44.3h.9v.9h-.9zM230.6 76.4h.9v.9h-.9zM238.9 79.3h.9v.9h-.9zM173.3 62.6h.9v.9h-.9zM187.7 92.9h.9v.9h-.9z"/>
<path fill="#000" fill-opacity="0.3" d="M207.3 69.1h.9v.9h-.9zM199.9 61.2h.9v.9h-.9zM190.2 63.8h.9v.9h-.9zM205.8 61.0h.9v.9h-.9zM193.0 64.0h.9v.9h-.9zM201.2 67.3h.9v.9h-.9zM200.6 64.5h.9v.9h-.9zM194.1 67.3h.9v.9h-.9zM210.7 63.1h.9v.9h-.9zM207.0 60.2h.9v.9h-.9zM214.8 64.9h.9v.9h-.9zM204.2 66.2h.9v.9h-.9zM210.3 64.6h.9v.9h-.9zM211.6 61.6h.9v.9h-.9zM207.8 65.5h.9v.9h-.9zM207.6 52.1h.9v.9h-.9zM202.1 65.9h.9v.9h-.9zM210.1 64.2h.9v.9h-.9zM212.1 64.3h.9v.9h-.9zM207.9 58.5h.9v.9h-.9zM210.4 63.6h.9v.9h-.9zM209.2 49.8h.9v.9h-.9zM211.4 61.5h.9v.9h-.9zM195.4 63.8h.9v.9h-.9zM202.9 59.0h.9v.9h-.9zM211.5 63.5h.9v.9h-.9zM198.2 54.4h.9v.9h-.9zM198.7 54.5h.9v.9h-.9zM202.9 61.0h.9v.9h-.9zM210.5 59.8h.9v.9h-.9zM212.4 57.7h.9v.9h-.9zM204.2 56.4h.9v.9h-.9zM205.8 61.0h.9v.9h-.9zM207.9 65.9h.9v.9h-.9zM197.9 59.0h.9v.9h-.9zM207.5 62.1h.9v.9h-.9zM200.2 65.4h.9v.9h-.9zM196.4 52.8h.9v.9h-.9zM210.5 66.9h.9v.9h-.9zM206.8 68.3h.9v.9h-.9zM210.6 53.3h.9v.9h-.9zM199.9 63.3h.9v.9h-.9zM198.2 66.6h.9v.9h-.9zM204.2 63.2h.9v.9h-.9zM206.1 63.8h.9v.9h-.9zM211.1 63.8h.9v.9h-.9zM197.9 63.0h.9v.9h-.9zM206.9 54.5h.9v.9h-.9zM208.1 61.7h.9v.9h-.9zM199.7 60.4h.9v.9h-.9zM214.6 62.8h.9v.9h-.9zM207.5 60.9h.9v.9h-.9zM205.6 64.2h.9v.9h-.9zM206.7 58.0h.9v.9h-.9zM201.3 58.1h.9v.9h-.9zM204.5 59.2h.9v.9h-.9zM212.1 61.9h.9v.9h-.9zM212.2 65.8h.9v.9h-.9zM203.8 63.6h.9v.9h-.9zM215.3 53.2h.9v.9h-.9zM193.8 57.5h.9v.9h-.9zM205.6 70.1h.9v.9h-.9zM207.1 66.0h.9v.9h-.9zM209.0 58.3h.9v.9h-.9zM197.1 63.2h.9v.9h-.9zM190.3 68.5h.9v.9h-.9zM204.3 64.0h.9v.9h-.9zM200.6 70.2h.9v.9h-.9zM204.9 60.9h.9v.9h-.9zM208.9 60.0h.9v.9h-.9zM210.2 64.4h.9v.9h-.9zM198.4 59.5h.9v.9h-.9zM216.1 54.3h.9v.9h-.9zM209.7 66.5h.9v.9h-.9zM197.1 63.1h.9v.9h-.9zM190.6 49.2h.9v.9h-.9zM175.3 59.9h.9v.9h-.9zM199.9 64.6h.9v.9h-.9zM212.1 74.1h.9v.9h-.9zM179.1 54.8h.9v.9h-.9zM173.8 75.3h.9v.9h-.9zM193.1 63.2h.9v.9h-.9zM171.8 68.9h.9v.9h-.9zM186.3 59.0h.9v.9h-.9zM195.0 70.8h.9v.9h-.9zM191.2 63.5h.9v.9h-.9zM170.1 67.7h.9v.9h-.9zM191.8 55.0h.9v.9h-.9zM192.9 48.3h.9v.9h-.9zM192.2 72.5h.9v.9h-.9zM198.0 49.5h.9v.9h-.9zM214.8 69.4h.9v.9h-.9zM187.9 53.0h.9v.9h-.9zM183.8 70.9h.9v.9h-.9zM184.1 80.3h.9v.9h-.9zM193.5 54.8h.9v.9h-.9zM202.1 49.8h.9v.9h-.9zM190.7 64.4h.9v.9h-.9zM201.3 56.9h.9v.9h-.9zM205.7 70.2h.9v.9h-.9zM210.1 73.1h.9v.9h-.9zM185.7 69.4h.9v.9h-.9zM198.2 64.4h.9v.9h-.9zM194.0 54.8h.9v.9h-.9zM200.3 59.6h.9v.9h-.9zM190.4 72.1h.9v.9h-.9zM176.8 58.4h.9v.9h-.9zM201.6 68.3h.9v.9h-.9zM196.1 59.8h.9v.9h-.9zM205.4 62.2h.9v.9h-.9zM217.5 56.2h.9v.9h-.9zM196.4 60.6h.9v.9h-.9zM201.8 69.4h.9v.9h-.9zM171.5 56.4h.9v.9h-.9zM212.0 53.8h.9v.9h-.9zM215.5 68.3h.9v.9h-.9zM191.4 54.8h.9v.9h-.9zM207.3 63.0h.9v.9h-.9zM197.9 59.5h.9v.9h-.9zM185.1 58.6h.9v.9h-.9zM192.5 58.3h.9v.9h-.9zM186.2 62.4h.9v.9h-.9zM175.4 72.4h.9v.9h-.9zM174.4 61.6h.9v.9h-.9zM185.2 73.7h.9v.9h-.9zM197.2 60.1h.9v.9h-.9zM208.0 62.7h.9v.9h-.9zM218.1 73.9h.9v.9h-.9zM197.3 63.2h.9v.9h-.9zM189.6 63.9h.9v.9h-.9zM177.8 68.5h.9v.9h-.9zM210.7 53.1h.9v.9h-.9zM183.5 68.1h.9v.9h-.9zM194.8 57.4h.9v.9h-.9zM195.4 60.7h.9v.9h-.9zM205.6 63.1h.9v.9h-.9zM190.6 56.3h.9v.9h-.9zM189.5 60.5h.9v.9h-.9zM169.0 51.1h.9v.9h-.9zM186.7 72.4h.9v.9h-.9zM192.7 64.9h.9v.9h-.9zM190.5 63.8h.9v.9h-.9zM197.3 66.0h.9v.9h-.9zM189.1 70.3h.9v.9h-.9zM190.6 75.1h.9v.9h-.9zM197.7 53.0h.9v.9h-.9zM196.6 66.4h.9v.9h-.9zM202.7 56.4h.9v.9h-.9zM187.6 73.9h.9v.9h-.9zM199.6 56.8h.9v.9h-.9zM195.1 59.6h.9v.9h-.9zM186.4 68.8h.9v.9h-.9zM183.1 57.8h.9v.9h-.9zM210.4 72.5h.9v.9h-.9zM202.0 65.4h.9v.9h-.9zM201.9 51.6h.9v.9h-.9zM192.8 66.0h.9v.9h-.9zM212.3 58.8h.9v.9h-.9zM195.2 72.4h.9v.9h-.9zM187.0 64.7h.9v.9h-.9zM188.1 58.7h.9v.9h-.9zM172.9 58.3h.9v.9h-.9zM209.3 47.2h.9v.9h-.9zM184.5 55.0h.9v.9h-.9zM194.6 43.1h.9v.9h-.9zM205.8 56.3h.9v.9h-.9zM186.1 62.4h.9v.9h-.9zM169.3 59.8h.9v.9h-.9zM191.3 58.5h.9v.9h-.9zM186.8 60.0h.9v.9h-.9zM190.2 58.7h.9v.9h-.9zM207.9 62.8h.9v.9h-.9zM206.6 65.5h.9v.9h-.9zM179.7 57.1h.9v.9h-.9zM204.8 53.7h.9v.9h-.9zM203.3 67.9h.9v.9h-.9zM196.5 66.5h.9v.9h-.9zM189.1 76.6h.9v.9h-.9zM195.5 60.7h.9v.9h-.9zM182.1 70.0h.9v.9h-.9zM209.6 68.0h.9v.9h-.9zM193.0 52.9h.9v.9h-.9zM215.7 66.1h.9v.9h-.9zM192.0 50.1h.9v.9h-.9zM192.8 52.0h.9v.9h-.9zM190.4 52.2h.9v.9h-.9zM206.9 63.2h.9v.9h-.9zM191.8 52.0h.9v.9h-.9zM193.7 51.0h.9v.9h-.9zM193.4 66.0h.9v.9h-.9zM191.0 61.1h.9v.9h-.9zM179.3 50.7h.9v.9h-.9zM191.5 53.9h.9v.9h-.9zM215.6 64.8h.9v.9h-.9zM187.9 67.5h.9v.9h-.9zM190.2 53.5h.9v.9h-.9zM181.2 56.0h.9v.9h-.9zM207.8 50.2h.9v.9h-.9zM192.4 64.8h.9v.9h-.9zM183.5 63.8h.9v.9h-.9zM208.5 52.3h.9v.9h-.9zM207.1 59.1h.9v.9h-.9zM211.7 55.2h.9v.9h-.9zM188.9 61.5h.9v.9h-.9zM196.9 51.2h.9v.9h-.9zM216.8 54.2h.9v.9h-.9zM200.4 72.0h.9v.9h-.9zM182.4 66.7h.9v.9h-.9zM202.1 55.5h.9v.9h-.9zM184.8 67.6h.9v.9h-.9zM191.7 63.6h.9v.9h-.9zM205.2 63.7h.9v.9h-.9zM194.2 58.1h.9v.9h-.9zM173.2 56.8h.9v.9h-.9zM183.5 46.4h.9v.9h-.9zM191.3 49.2h.9v.9h-.9zM185.0 46.2h.9v.9h-.9zM191.7 46.8h.9v.9h-.9zM178.8 39.7h.9v.9h-.9zM189.8 42.5h.9v.9h-.9zM207.0 56.3h.9v.9h-.9zM188.3 51.4h.9v.9h-.9zM197.7 52.6h.9v.9h-.9zM209.9 46.8h.9v.9h-.9zM201.5 46.2h.9v.9h-.9zM200.7 50.1h.9v.9h-.9zM193.5 45.7h.9v.9h-.9zM208.9 50.9h.9v.9h-.9zM206.3 41.0h.9v.9h-.9zM197.7 43.9h.9v.9h-.9zM195.5 54.2h.9v.9h-.9zM197.6 46.9h.9v.9h-.9zM207.9 52.8h.9v.9h-.9zM216.9 44.2h.9v.9h-.9zM190.3 46.6h.9v.9h-.9zM196.5 39.9h.9v.9h-.9zM207.4 42.6h.9v.9h-.9zM217.4 48.9h.9v.9h-.9zM207.3 46.7h.9v.9h-.9zM185.7 79.7h.9v.9h-.9zM179.0 97.8h.9v.9h-.9zM191.5 83.6h.9v.9h-.9zM175.9 101.8h.9v.9h-.9zM168.5 96.1h.9v.9h-.9zM188.2 60.1h.9v.9h-.9zM187.4 89.8h.9v.9h-.9zM191.6 100.1h.9v.9h-.9zM180.6 97.2h.9v.9h-.9zM197.2 93.5h.9v.9h-.9zM196.6 101.2h.9v.9h-.9zM187.9 94.5h.9v.9h-.9zM184.6 90.5h.9v.9h-.9zM192.9 95.7h.9v.9h-.9zM186.3 107.6h.9v.9h-.9zM191.6 86.7h.9v.9h-.9zM182.4 83.9h.9v.9h-.9zM187.2 96.2h.9v.9h-.9zM185.0 65.4h.9v.9h-.9zM176.8 87.0h.9v.9h-.9zM198.1 91.9h.9v.9h-.9zM186.7 83.4h.9v.9h-.9zM178.9 88.7h.9v.9h-.9zM181.7 87.2h.9v.9h-.9zM183.6 90.8h.9v.9h-.9zM184.9 95.0h.9v.9h-.9zM193.9 79.9h.9v.9h-.9zM193.4 82.6h.9v.9h-.9zM180.4 86.0h.9v.9h-.9zM181.6 96.9h.9v.9h-.9zM187.5 95.1h.9v.9h-.9zM181.1 86.0h.9v.9h-.9zM181.8 95.9h.9v.9h-.9zM189.9 88.8h.9v.9h-.9zM189.7 105.1h.9v.9h-.9zM183.4 91.1h.9v.9h-.9zM185.7 79.3h.9v.9h-.9zM186.3 78.3h.9v.9h-.9zM189.7 79.6h.9v.9h-.9zM179.7 88.5h.9v.9h-.9zM188.3 82.1h.9v.9h-.9zM186.4 88.0h.9v.9h-.9zM182.1 90.3h.9v.9h-.9zM189.6 90.8h.9v.9h-.9zM180.9 89.1h.9v.9h-.9zM185.4 88.5h.9v.9h-.9zM192.5 97.8h.9v.9h-.9zM188.4 88.5h.9v.9h-.9zM183.3 84.7h.9v.9h-.9zM182.5 86.0h.9v.9h-.9zM175.9 79.9h.9v.9h-.9zM172.6 87.6h.9v.9h-.9zM174.3 102.2h.9v.9h-.9zM174.2 95.7h.9v.9h-.9zM177.2 94.7h.9v.9h-.9zM178.4 80.9h.9v.9h-.9zM176.1 99.6h.9v.9h-.9zM179.2 106.8h.9v.9h-.9zM181.7 87.5h.9v.9h-.9zM170.6 85.1h.9v.9h-.9zM174.5 97.1h.9v.9h-.9zM187.6 102.6h.9v.9h-.9zM182.9 95.5h.9v.9h-.9zM171.2 96.4h.9v.9h-.9zM174.8 102.9h.9v.9h-.9zM177.0 90.4h.9v.9h-.9zM178.3 96.2h.9v.9h-.9zM174.3 98.4h.9v.9h-.9zM180.1 97.2h.9v.9h-.9zM183.4 95.1h.9v.9h-.9zM178.7 91.7h.9v.9h-.9zM176.5 91.6h.9v.9h-.9zM177.4 101.2h.9v.9h-.9zM174.2 94.0h.9v.9h-.9zM177.9 84.3h.9v.9h-.9zM172.9 96.7h.9v.9h-.9zM170.8 95.3h.9v.9h-.9zM176.0 89.4h.9v.9h-.9zM174.0 93.1h.9v.9h-.9zM174.1 104.9h.9v.9h-.9zM236.5 104.1h.9v.9h-.9zM230.3 106.2h.9v.9h-.9zM232.9 105.5h.9v.9h-.9zM227.1 112.7h.9v.9h-.9zM238.0 88.9h.9v.9h-.9zM226.1 81.1h.9v.9h-.9zM228.6 86.6h.9v.9h-.9zM240.6 96.3h.9v.9h-.9zM239.9 84.2h.9v.9h-.9zM226.1 96.6h.9v.9h-.9zM229.3 105.1h.9v.9h-.9zM227.8 84.1h.9v.9h-.9zM235.9 100.8h.9v.9h-.9zM236.6 97.3h.9v.9h-.9zM231.9 90.8h.9v.9h-.9zM233.3 101.5h.9v.9h-.9zM224.1 109.3h.9v.9h-.9zM221.0 99.9h.9v.9h-.9zM236.2 110.3h.9v.9h-.9zM231.1 91.8h.9v.9h-.9zM229.2 99.6h.9v.9h-.9zM232.1 109.8h.9v.9h-.9zM222.5 96.1h.9v.9h-.9zM231.9 86.0h.9v.9h-.9zM219.6 104.2h.9v.9h-.9zM237.8 94.5h.9v.9h-.9zM229.9 98.6h.9v.9h-.9zM232.4 93.4h.9v.9h-.9zM237.8 112.2h.9v.9h-.9zM234.2 87.5h.9v.9h-.9zM239.4 116.0h.9v.9h-.9zM229.2 91.8h.9v.9h-.9zM237.5 90.9h.9v.9h-.9zM223.1 88.5h.9v.9h-.9zM219.1 115.6h.9v.9h-.9zM226.1 101.1h.9v.9h-.9zM227.6 102.1h.9v.9h-.9zM233.2 77.5h.9v.9h-.9zM227.0 110.8h.9v.9h-.9zM242.6 101.4h.9v.9h-.9zM237.2 92.1h.9v.9h-.9zM230.4 87.9h.9v.9h-.9zM229.1 118.4h.9v.9h-.9zM238.2 115.9h.9v.9h-.9zM234.1 106.6h.9v.9h-.9zM224.5 102.3h.9v.9h-.9zM231.4 95.3h.9v.9h-.9zM231.3 112.0h.9v.9h-.9zM227.0 107.7h.9v.9h-.9zM231.0 106.9h.9v.9h-.9zM240.5 91.2h.9v.9h-.9zM231.0 105.3h.9v.9h-.9zM232.1 81.3h.9v.9h-.9zM234.0 91.1h.9v.9h-.9zM234.2 101.9h.9v.9h-.9zM234.9 82.8h.9v.9h-.9zM229.2 87.7h.9v.9h-.9zM232.0 101.9h.9v.9h-.9zM232.3 88.9h.9v.9h-.9zM234.8 81.7h.9v.9h-.9zM229.9 86.9h.9v.9h-.9zM230.2 95.2h.9v.9h-.9zM227.2 109.3h.9v.9h-.9zM241.5 101.0h.9v.9h-.9zM230.6 102.5h.9v.9h-.9zM220.5 88.7h.9v.9h-.9zM220.5 120.9h.9v.9h-.9zM234.0 82.3h.9v.9h-.9zM231.8 91.8h.9v.9h-.9zM223.8 91.8h.9v.9h-.9zM224.8 106.5h.9v.9h-.9zM236.3 118.3h.9v.9h-.9zM229.2 92.4h.9v.9h-.9zM229.9 80.7h.9v.9h-.9zM226.0 94.8h.9v.9h-.9zM236.4 97.8h.9v.9h-.9zM237.3 91.2h.9v.9h-.9zM239.8 103.3h.9v.9h-.9zM241.4 113.7h.9v.9h-.9zM223.9 100.4h.9v.9h-.9zM229.2 79.5h.9v.9h-.9zM221.8 89.1h.9v.9h-.9zM228.8 100.0h.9v.9h-.9zM238.6 108.4h.9v.9h-.9zM232.5 108.1h.9v.9h-.9zM221.2 82.2h.9v.9h-.9zM244.5 81.1h.9v.9h-.9zM235.7 100.3h.9v.9h-.9zM240.3 77.6h.9v.9h-.9zM235.3 108.7h.9v.9h-.9zM222.8 111.8h.9v.9h-.9zM236.5 89.6h.9v.9h-.9zM234.3 85.4h.9v.9h-.9zM235.7 98.1h.9v.9h-.9zM233.2 81.9h.9v.9h-.9zM232.0 93.3h.9v.9h-.9zM244.0 98.5h.9v.9h-.9zM240.3 112.3h.9v.9h-.9zM226.7 121.2h.9v.9h-.9zM227.6 89.6h.9v.9h-.9zM231.5 104.8h.9v.9h-.9zM227.9 82.6h.9v.9h-.9zM233.6 91.5h.9v.9h-.9zM227.2 101.8h.9v.9h-.9zM229.4 101.0h.9v.9h-.9zM232.1 100.2h.9v.9h-.9zM236.5 98.4h.9v.9h-.9zM229.5 90.7h.9v.9h-.9zM234.1 96.9h.9v.9h-.9zM231.9 99.3h.9v.9h-.9zM227.7 115.1h.9v.9h-.9zM236.0 105.9h.9v.9h-.9zM223.5 104.3h.9v.9h-.9zM234.7 107.8h.9v.9h-.9zM242.9 100.7h.9v.9h-.9zM238.3 100.7h.9v.9h-.9zM226.2 91.0h.9v.9h-.9zM230.9 98.8h.9v.9h-.9zM237.1 116.1h.9v.9h-.9zM242.4 87.2h.9v.9h-.9zM228.6 78.9h.9v.9h-.9zM231.7 92.6h.9v.9h-.9zM242.6 97.6h.9v.9h-.9zM224.9 100.7h.9v.9h-.9zM233.9 104.2h.9v.9h-.9zM233.7 86.9h.9v.9h-.9zM231.3 105.4h.9v.9h-.9zM230.8 119.5h.9v.9h-.9zM225.1 93.1h.9v.9h-.9zM234.6 113.1h.9v.9h-.9zM225.4 92.7h.9v.9h-.9zM224.4 84.3h.9v.9h-.9zM237.9 111.3h.9v.9h-.9zM226.7 83.9h.9v.9h-.9zM238.2 102.5h.9v.9h-.9zM241.2 96.9h.9v.9h-.9zM239.5 102.7h.9v.9h-.9zM233.0 93.1h.9v.9h-.9zM205.3 99.2h.9v.9h-.9zM206.6 107.7h.9v.9h-.9zM209.5 99.7h.9v.9h-.9zM204.9 100.3h.9v.9h-.9zM213.1 105.5h.9v.9h-.9zM205.7 106.9h.9v.9h-.9zM207.0 103.2h.9v.9h-.9zM210.7 102.0h.9v.9h-.9zM198.8 98.6h.9v.9h-.9zM213.2 100.8h.9v.9h-.9zM210.0 103.8h.9v.9h-.9zM212.6 101.2h.9v.9h-.9zM220.5 105.1h.9v.9h-.9zM213.7 103.4h.9v.9h-.9zM223.6 104.7h.9v.9h-.9zM210.5 103.7h.9v.9h-.9zM206.4 104.9h.9v.9h-.9zM217.5 106.1h.9v.9h-.9zM219.3 109.1h.9v.9h-.9zM212.5 100.4h.9v.9h-.9zM216.8 103.6h.9v.9h-.9zM204.6 100.8h.9v.9h-.9zM194.3 103.3h.9v.9h-.9zM220.2 100.7h.9v.9h-.9zM211.3 103.5h.9v.9h-.9zM206.4 101.1h.9v.9h-.9zM211.7 99.4h.9v.9h-.9zM215.4 98.9h.9v.9h-.9zM205.0 100.8h.9v.9h-.9zM215.8 104.2h.9v.9h-.9zM209.8 101.5h.9v.9h-.9zM210.4 100.8h.9v.9h-.9zM208.1 105.3h.9v.9h-.9zM219.1 102.1h.9v.9h-.9zM214.4 100.6h.9v.9h-.9zM205.0 101.1h.9v.9h-.9zM216.3 99.1h.9v.9h-.9zM205.4 99.4h.9v.9h-.9zM218.3 97.9h.9v.9h-.9zM206.4 102.2h.9v.9h-.9zM212.0 100.9h.9v.9h-.9zM211.6 107.6h.9v.9h-.9zM218.8 104.7h.9v.9h-.9zM217.6 93.1h.9v.9h-.9zM211.3 105.3h.9v.9h-.9zM211.6 106.0h.9v.9h-.9zM210.5 101.3h.9v.9h-.9zM202.0 106.6h.9v.9h-.9zM217.3 103.6h.9v.9h-.9zM207.8 103.1h.9v.9h-.9zM212.4 100.0h.9v.9h-.9zM211.8 100.0h.9v.9h-.9zM211.4 103.9h.9v.9h-.9zM210.1 107.4h.9v.9h-.9zM207.4 108.5h.9v.9h-.9zM212.2 101.7h.9v.9h-.9zM211.7 99.5h.9v.9h-.9zM209.4 97.0h.9v.9h-.9zM207.9 101.0h.9v.9h-.9zM204.1 107.1h.9v.9h-.9zM209.1 96.9h.9v.9h-.9zM217.0 101.3h.9v.9h-.9zM211.1 105.4h.9v.9h-.9zM214.3 99.8h.9v.9h-.9zM209.8 102.7h.9v.9h-.9zM215.0 103.0h.9v.9h-.9zM216.5 98.9h.9v.9h-.9zM214.0 98.3h.9v.9h-.9zM206.8 103.2h.9v.9h-.9zM214.2 105.1h.9v.9h-.9zM220.5 61.9h.9v.9h-.9zM229.6 70.3h.9v.9h-.9zM229.7 72.3h.9v.9h-.9zM219.6 71.9h.9v.9h-.9zM222.8 68.3h.9v.9h-.9zM218.9 63.1h.9v.9h-.9zM222.3 50.1h.9v.9h-.9zM223.8 57.5h.9v.9h-.9zM212.5 70.9h.9v.9h-.9zM214.3 61.8h.9v.9h-.9zM227.4 52.4h.9v.9h-.9zM211.4 75.7h.9v.9h-.9zM230.2 73.7h.9v.9h-.9zM236.3 61.8h.9v.9h-.9zM231.1 58.5h.9v.9h-.9zM220.1 81.0h.9v.9h-.9zM234.5 64.3h.9v.9h-.9zM227.4 47.8h.9v.9h-.9zM212.9 63.0h.9v.9h-.9zM221.5 67.1h.9v.9h-.9zM238.2 65.0h.9v.9h-.9zM226.0 56.6h.9v.9h-.9zM216.2 61.8h.9v.9h-.9zM213.2 70.8h.9v.9h-.9zM219.9 66.7h.9v.9h-.9zM236.7 116.3h.9v.9h-.9zM185.4 95.3h.9v.9h-.9zM233.4 109.6h.9v.9h-.9zM215.5 83.0h.9v.9h-.9zM255.8 37.3h.9v.9h-.9z"/>
<path fill="#000" fill-opacity="0.35" d="M198.9 60.1h.9v.9h-.9zM183.6 63.2h.9v.9h-.9zM194.5 72.2h.9v.9h-.9zM183.4 57.6h.9v.9h-.9zM186.3 62.3h.9v.9h-.9zM192.8 71.4h.9v.9h-.9zM201.2 72.0h.9v.9h-.9zM193.9 68.5h.9v.9h-.9zM191.4 63.5h.9v.9h-.9zM200.6 69.1h.9v.9h-.9zM179.2 57.6h.9v.9h-.9zM194.8 60.2h.9v.9h-.9zM190.4 63.6h.9v.9h-.9zM196.8 60.6h.9v.9h-.9zM190.2 68.8h.9v.9h-.9zM199.8 60.6h.9v.9h-.9zM194.3 61.1h.9v.9h-.9zM192.7 64.9h.9v.9h-.9zM194.5 63.8h.9v.9h-.9zM192.0 68.3h.9v.9h-.9zM199.6 71.3h.9v.9h-.9zM205.3 61.1h.9v.9h-.9zM190.0 60.1h.9v.9h-.9zM201.5 69.3h.9v.9h-.9zM182.3 63.5h.9v.9h-.9zM194.9 66.1h.9v.9h-.9zM189.5 64.8h.9v.9h-.9zM191.5 69.8h.9v.9h-.9zM193.4 68.7h.9v.9h-.9zM203.8 62.7h.9v.9h-.9zM193.4 64.1h.9v.9h-.9zM191.5 63.7h.9v.9h-.9zM186.9 63.8h.9v.9h-.9zM196.1 73.3h.9v.9h-.9zM194.8 57.5h.9v.9h-.9zM193.1 73.1h.9v.9h-.9zM200.0 59.1h.9v.9h-.9zM188.6 61.8h.9v.9h-.9zM201.1 65.1h.9v.9h-.9zM187.3 67.7h.9v.9h-.9zM182.5 69.3h.9v.9h-.9zM185.3 69.6h.9v.9h-.9zM194.1 64.3h.9v.9h-.9zM188.0 64.4h.9v.9h-.9zM189.8 59.4h.9v.9h-.9zM191.9 66.9h.9v.9h-.9zM200.0 59.5h.9v.9h-.9zM194.7 65.7h.9v.9h-.9zM182.7 52.2h.9v.9h-.9zM196.8 71.0h.9v.9h-.9zM201.1 67.6h.9v.9h-.9zM184.8 67.6h.9v.9h-.9zM196.6 64.5h.9v.9h-.9zM193.1 67.2h.9v.9h-.9zM180.6 60.2h.9v.9h-.9zM194.8 73.2h.9v.9h-.9zM191.7 58.1h.9v.9h-.9zM191.5 69.4h.9v.9h-.9zM197.2 67.8h.9v.9h-.9zM185.8 59.5h.9v.9h-.9zM193.3 63.0h.9v.9h-.9zM193.4 63.7h.9v.9h-.9zM205.8 63.0h.9v.9h-.9zM192.3 65.2h.9v.9h-.9zM192.0 64.3h.9v.9h-.9zM189.2 59.0h.9v.9h-.9zM192.0 62.3h.9v.9h-.9zM186.3 64.1h.9v.9h-.9zM194.5 67.2h.9v.9h-.9zM182.6 67.8h.9v.9h-.9zM192.4 66.0h.9v.9h-.9zM174.7 64.6h.9v.9h-.9zM187.5 59.5h.9v.9h-.9zM186.7 65.1h.9v.9h-.9zM184.8 55.0h.9v.9h-.9zM192.3 61.7h.9v.9h-.9zM200.3 71.9h.9v.9h-.9zM198.1 63.3h.9v.9h-.9zM202.9 70.1h.9v.9h-.9zM183.5 69.0h.9v.9h-.9zM189.5 70.4h.9v.9h-.9zM197.2 62.4h.9v.9h-.9zM183.8 67.1h.9v.9h-.9zM187.1 70.6h.9v.9h-.9zM185.8 65.8h.9v.9h-.9zM179.3 67.6h.9v.9h-.9zM189.7 60.8h.9v.9h-.9zM192.3 61.5h.9v.9h-.9zM194.8 70.8h.9v.9h-.9zM190.0 72.9h.9v.9h-.9zM204.3 69.6h.9v.9h-.9zM200.5 69.7h.9v.9h-.9zM191.5 62.8h.9v.9h-.9zM186.4 64.8h.9v.9h-.9zM182.6 64.6h.9v.9h-.9zM190.3 66.8h.9v.9h-.9zM186.0 65.5h.9v.9h-.9zM187.0 66.1h.9v.9h-.9zM187.0 68.0h.9v.9h-.9zM201.1 61.4h.9v.9h-.9zM186.8 73.2h.9v.9h-.9zM196.0 62.7h.9v.9h-.9zM187.0 67.1h.9v.9h-.9zM205.4 66.1h.9v.9h-.9zM195.4 62.7h.9v.9h-.9zM194.9 66.1h.9v.9h-.9zM193.2 61.9h.9v.9h-.9zM180.1 73.0h.9v.9h-.9zM196.9 65.2h.9v.9h-.9zM193.4 60.7h.9v.9h-.9zM204.5 66.0h.9v.9h-.9zM207.7 69.1h.9v.9h-.9zM208.8 62.1h.9v.9h-.9zM198.5 65.4h.9v.9h-.9zM186.5 63.9h.9v.9h-.9zM190.0 64.4h.9v.9h-.9zM192.2 62.0h.9v.9h-.9zM203.2 68.3h.9v.9h-.9zM188.1 58.7h.9v.9h-.9zM189.6 57.1h.9v.9h-.9zM194.8 62.9h.9v.9h-.9zM206.2 63.5h.9v.9h-.9zM188.6 63.8h.9v.9h-.9zM184.3 64.1h.9v.9h-.9zM187.7 58.1h.9v.9h-.9zM183.4 60.5h.9v.9h-.9zM195.6 61.5h.9v.9h-.9zM185.8 69.3h.9v.9h-.9zM195.9 71.1h.9v.9h-.9zM174.5 62.5h.9v.9h-.9zM185.3 65.2h.9v.9h-.9zM193.7 59.7h.9v.9h-.9zM184.7 63.6h.9v.9h-.9zM192.9 66.3h.9v.9h-.9zM187.0 70.6h.9v.9h-.9zM196.8 63.3h.9v.9h-.9zM182.3 56.4h.9v.9h-.9zM206.8 66.6h.9v.9h-.9zM200.5 63.2h.9v.9h-.9zM182.5 67.0h.9v.9h-.9zM183.7 68.6h.9v.9h-.9zM198.0 63.1h.9v.9h-.9zM180.1 58.0h.9v.9h-.9zM200.5 68.8h.9v.9h-.9zM196.7 64.0h.9v.9h-.9zM186.9 73.0h.9v.9h-.9zM184.6 66.8h.9v.9h-.9zM176.5 69.0h.9v.9h-.9zM176.4 61.5h.9v.9h-.9zM203.0 62.3h.9v.9h-.9zM182.1 60.2h.9v.9h-.9zM196.4 63.5h.9v.9h-.9zM207.5 65.0h.9v.9h-.9zM201.1 61.1h.9v.9h-.9zM201.3 62.4h.9v.9h-.9zM196.8 70.4h.9v.9h-.9zM205.3 70.7h.9v.9h-.9zM199.3 68.8h.9v.9h-.9zM200.7 69.3h.9v.9h-.9zM198.4 59.1h.9v.9h-.9zM183.1 67.5h.9v.9h-.9zM193.2 70.0h.9v.9h-.9zM197.1 62.9h.9v.9h-.9zM199.0 70.8h.9v.9h-.9zM195.8 71.1h.9v.9h-.9zM189.6 57.1h.9v.9h-.9zM194.3 70.5h.9v.9h-.9zM207.9 63.0h.9v.9h-.9zM195.5 62.8h.9v.9h-.9zM188.6 57.4h.9v.9h-.9zM178.6 61.5h.9v.9h-.9zM198.1 68.6h.9v.9h-.9zM196.4 64.1h.9v.9h-.9zM192.5 63.8h.9v.9h-.9zM190.3 64.9h.9v.9h-.9zM188.0 61.8h.9v.9h-.9zM186.5 62.3h.9v.9h-.9zM189.7 64.3h.9v.9h-.9zM191.3 65.5h.9v.9h-.9zM212.7 70.1h.9v.9h-.9zM200.8 63.6h.9v.9h-.9zM202.4 68.2h.9v.9h-.9zM194.0 71.2h.9v.9h-.9zM189.5 69.1h.9v.9h-.9zM184.6 67.1h.9v.9h-.9zM183.9 65.7h.9v.9h-.9zM193.6 62.6h.9v.9h-.9zM191.7 69.2h.9v.9h-.9zM217.3 65.7h.9v.9h-.9zM197.6 64.3h.9v.9h-.9zM201.8 57.6h.9v.9h-.9zM188.6 69.5h.9v.9h-.9zM192.9 69.3h.9v.9h-.9zM195.0 66.4h.9v.9h-.9zM197.9 61.6h.9v.9h-.9zM192.4 62.1h.9v.9h-.9zM196.4 68.9h.9v.9h-.9zM188.0 66.1h.9v.9h-.9zM177.8 66.3h.9v.9h-.9zM201.8 64.9h.9v.9h-.9zM187.9 63.0h.9v.9h-.9zM203.4 71.8h.9v.9h-.9zM203.9 75.3h.9v.9h-.9zM196.5 63.8h.9v.9h-.9zM187.5 55.2h.9v.9h-.9zM197.7 69.3h.9v.9h-.9zM194.5 64.1h.9v.9h-.9zM192.1 57.4h.9v.9h-.9zM190.5 62.1h.9v.9h-.9zM186.4 64.3h.9v.9h-.9zM185.0 66.5h.9v.9h-.9zM196.4 69.9h.9v.9h-.9zM192.4 67.8h.9v.9h-.9zM201.8 65.9h.9v.9h-.9zM193.0 64.5h.9v.9h-.9zM189.8 69.1h.9v.9h-.9zM185.1 70.4h.9v.9h-.9zM212.5 73.0h.9v.9h-.9zM186.7 65.4h.9v.9h-.9zM187.2 70.9h.9v.9h-.9zM193.2 57.8h.9v.9h-.9zM186.4 58.6h.9v.9h-.9zM202.4 57.8h.9v.9h-.9zM191.1 57.5h.9v.9h-.9zM195.6 73.9h.9v.9h-.9zM182.3 61.6h.9v.9h-.9zM180.0 62.9h.9v.9h-.9zM183.2 65.1h.9v.9h-.9zM191.8 56.6h.9v.9h-.9zM198.2 68.4h.9v.9h-.9zM198.1 63.9h.9v.9h-.9zM200.7 66.0h.9v.9h-.9zM189.7 61.5h.9v.9h-.9zM190.2 62.4h.9v.9h-.9zM188.4 58.9h.9v.9h-.9zM196.5 63.4h.9v.9h-.9zM175.7 65.3h.9v.9h-.9zM189.6 62.9h.9v.9h-.9zM208.9 73.4h.9v.9h-.9zM187.8 60.4h.9v.9h-.9zM181.5 56.9h.9v.9h-.9zM181.1 65.5h.9v.9h-.9zM192.4 60.0h.9v.9h-.9zM199.8 67.1h.9v.9h-.9zM185.5 65.6h.9v.9h-.9zM191.8 72.0h.9v.9h-.9zM181.5 63.8h.9v.9h-.9zM191.6 78.8h.9v.9h-.9zM189.8 73.4h.9v.9h-.9zM190.0 64.4h.9v.9h-.9zM184.0 62.9h.9v.9h-.9zM201.5 65.6h.9v.9h-.9zM178.8 66.7h.9v.9h-.9zM171.3 65.4h.9v.9h-.9zM189.8 58.6h.9v.9h-.9zM202.6 64.5h.9v.9h-.9zM183.8 62.9h.9v.9h-.9zM185.6 57.8h.9v.9h-.9zM204.8 64.9h.9v.9h-.9zM202.9 66.6h.9v.9h-.9zM189.2 63.0h.9v.9h-.9zM188.2 60.6h.9v.9h-.9zM193.4 60.7h.9v.9h-.9zM205.7 63.1h.9v.9h-.9zM193.5 68.3h.9v.9h-.9zM186.9 67.2h.9v.9h-.9zM190.0 62.1h.9v.9h-.9zM186.2 72.0h.9v.9h-.9zM196.2 65.4h.9v.9h-.9zM198.3 65.0h.9v.9h-.9zM193.9 65.8h.9v.9h-.9zM191.9 70.7h.9v.9h-.9zM186.4 65.8h.9v.9h-.9zM193.1 59.2h.9v.9h-.9zM196.8 65.3h.9v.9h-.9zM189.3 66.5h.9v.9h-.9zM188.3 60.2h.9v.9h-.9zM194.8 60.8h.9v.9h-.9zM190.4 58.4h.9v.9h-.9zM188.4 64.9h.9v.9h-.9zM193.5 61.9h.9v.9h-.9zM203.4 69.0h.9v.9h-.9zM197.3 66.5h.9v.9h-.9zM198.3 61.3h.9v.9h-.9zM191.2 59.3h.9v.9h-.9zM196.6 66.4h.9v.9h-.9zM192.0 64.4h.9v.9h-.9zM193.9 68.3h.9v.9h-.9zM187.1 65.3h.9v.9h-.9zM192.3 63.5h.9v.9h-.9zM193.1 64.7h.9v.9h-.9zM194.5 68.9h.9v.9h-.9zM196.7 62.3h.9v.9h-.9zM197.8 68.6h.9v.9h-.9zM194.5 70.2h.9v.9h-.9zM197.3 63.4h.9v.9h-.9zM193.3 67.6h.9v.9h-.9zM194.6 66.1h.9v.9h-.9zM191.5 62.6h.9v.9h-.9zM191.1 68.1h.9v.9h-.9zM197.9 70.8h.9v.9h-.9zM190.0 62.9h.9v.9h-.9zM189.7 67.3h.9v.9h-.9zM192.4 64.1h.9v.9h-.9zM196.3 60.9h.9v.9h-.9zM188.9 67.4h.9v.9h-.9zM182.9 63.6h.9v.9h-.9zM194.6 63.7h.9v.9h-.9zM196.1 65.6h.9v.9h-.9zM196.4 63.5h.9v.9h-.9zM193.1 62.3h.9v.9h-.9zM187.1 69.6h.9v.9h-.9zM188.3 71.3h.9v.9h-.9zM187.5 65.7h.9v.9h-.9zM191.6 60.1h.9v.9h-.9zM198.9 70.9h.9v.9h-.9zM188.8 68.3h.9v.9h-.9zM197.3 68.9h.9v.9h-.9zM186.1 60.1h.9v.9h-.9zM192.4 65.3h.9v.9h-.9zM194.9 65.7h.9v.9h-.9zM196.3 64.3h.9v.9h-.9zM193.4 67.5h.9v.9h-.9zM192.3 60.1h.9v.9h-.9zM194.9 64.7h.9v.9h-.9zM201.0 62.9h.9v.9h-.9zM196.0 64.5h.9v.9h-.9zM189.1 65.0h.9v.9h-.9zM187.5 65.8h.9v.9h-.9zM200.6 64.7h.9v.9h-.9zM192.7 62.6h.9v.9h-.9zM198.9 66.0h.9v.9h-.9zM198.9 58.6h.9v.9h-.9zM185.5 66.2h.9v.9h-.9zM196.3 66.5h.9v.9h-.9zM195.3 71.7h.9v.9h-.9zM192.8 67.7h.9v.9h-.9zM195.6 69.4h.9v.9h-.9zM196.1 66.7h.9v.9h-.9zM188.5 67.4h.9v.9h-.9zM192.7 64.2h.9v.9h-.9zM194.0 61.4h.9v.9h-.9zM196.6 65.1h.9v.9h-.9zM199.2 66.7h.9v.9h-.9zM193.3 69.6h.9v.9h-.9zM189.4 69.7h.9v.9h-.9zM195.3 70.5h.9v.9h-.9zM191.6 62.7h.9v.9h-.9zM197.6 67.8h.9v.9h-.9zM192.0 70.4h.9v.9h-.9zM194.0 60.2h.9v.9h-.9zM201.4 66.4h.9v.9h-.9zM192.0 67.1h.9v.9h-.9zM186.0 59.5h.9v.9h-.9zM190.4 71.7h.9v.9h-.9zM193.0 69.3h.9v.9h-.9zM187.7 62.7h.9v.9h-.9zM187.3 64.6h.9v.9h-.9zM192.1 67.7h.9v.9h-.9zM189.4 64.9h.9v.9h-.9zM196.2 66.4h.9v.9h-.9zM198.5 68.2h.9v.9h-.9zM192.7 67.2h.9v.9h-.9zM184.4 64.2h.9v.9h-.9zM187.5 67.2h.9v.9h-.9zM195.5 71.3h.9v.9h-.9zM195.7 62.1h.9v.9h-.9zM190.6 63.4h.9v.9h-.9zM194.1 70.7h.9v.9h-.9zM195.9 60.6h.9v.9h-.9zM199.5 60.4h.9v.9h-.9zM187.3 63.4h.9v.9h-.9zM187.0 65.9h.9v.9h-.9zM197.5 66.3h.9v.9h-.9zM197.8 66.9h.9v.9h-.9zM185.7 88.9h.9v.9h-.9zM186.1 86.0h.9v.9h-.9zM188.9 94.3h.9v.9h-.9zM185.0 86.7h.9v.9h-.9zM179.2 77.1h.9v.9h-.9zM181.8 91.3h.9v.9h-.9zM191.7 73.8h.9v.9h-.9zM191.5 95.2h.9v.9h-.9zM191.6 70.8h.9v.9h-.9zM180.3 93.8h.9v.9h-.9zM185.5 81.8h.9v.9h-.9zM186.7 81.6h.9v.9h-.9zM182.4 92.8h.9v.9h-.9zM189.2 90.4h.9v.9h-.9zM190.0 70.5h.9v.9h-.9zM194.3 100.9h.9v.9h-.9zM186.3 92.3h.9v.9h-.9zM186.1 99.1h.9v.9h-.9zM188.1 96.3h.9v.9h-.9zM195.0 69.9h.9v.9h-.9zM186.6 71.2h.9v.9h-.9zM192.3 98.0h.9v.9h-.9zM183.4 85.5h.9v.9h-.9zM186.3 94.0h.9v.9h-.9zM184.3 99.9h.9v.9h-.9zM195.3 89.7h.9v.9h-.9zM189.9 82.1h.9v.9h-.9zM187.1 99.5h.9v.9h-.9zM185.0 89.9h.9v.9h-.9zM186.8 82.6h.9v.9h-.9zM186.0 92.6h.9v.9h-.9zM193.7 97.8h.9v.9h-.9zM188.8 88.1h.9v.9h-.9zM189.2 95.9h.9v.9h-.9zM193.2 87.2h.9v.9h-.9zM185.9 83.6h.9v.9h-.9zM193.3 88.9h.9v.9h-.9zM187.8 86.8h.9v.9h-.9zM194.9 76.4h.9v.9h-.9zM197.3 84.4h.9v.9h-.9zM184.7 84.0h.9v.9h-.9zM187.1 102.7h.9v.9h-.9zM189.2 97.5h.9v.9h-.9zM184.2 94.9h.9v.9h-.9zM190.2 86.5h.9v.9h-.9zM188.5 91.7h.9v.9h-.9zM188.9 91.0h.9v.9h-.9zM192.4 85.7h.9v.9h-.9zM189.8 82.1h.9v.9h-.9zM186.4 82.1h.9v.9h-.9zM183.4 77.3h.9v.9h-.9zM189.3 110.1h.9v.9h-.9zM190.2 88.1h.9v.9h-.9zM189.4 96.5h.9v.9h-.9zM186.6 77.2h.9v.9h-.9zM190.3 74.0h.9v.9h-.9zM188.4 87.1h.9v.9h-.9zM181.6 79.4h.9v.9h-.9zM179.6 80.4h.9v.9h-.9zM177.1 81.1h.9v.9h-.9zM184.2 81.1h.9v.9h-.9zM198.3 85.8h.9v.9h-.9zM187.4 97.8h.9v.9h-.9zM187.2 80.6h.9v.9h-.9zM196.1 82.3h.9v.9h-.9zM195.6 94.1h.9v.9h-.9zM184.6 77.9h.9v.9h-.9zM188.6 96.1h.9v.9h-.9zM189.2 89.0h.9v.9h-.9zM188.9 84.4h.9v.9h-.9zM190.6 98.0h.9v.9h-.9zM185.9 90.8h.9v.9h-.9zM189.2 78.2h.9v.9h-.9zM186.4 84.9h.9v.9h-.9zM187.9 107.2h.9v.9h-.9zM184.8 82.5h.9v.9h-.9zM184.4 86.0h.9v.9h-.9zM193.8 90.9h.9v.9h-.9zM180.4 100.3h.9v.9h-.9zM193.2 81.7h.9v.9h-.9zM185.1 89.6h.9v.9h-.9zM193.2 87.0h.9v.9h-.9zM188.3 96.8h.9v.9h-.9zM192.2 96.2h.9v.9h-.9zM189.8 92.4h.9v.9h-.9zM185.3 92.9h.9v.9h-.9zM187.8 87.2h.9v.9h-.9zM188.8 88.3h.9v.9h-.9zM186.8 77.7h.9v.9h-.9zM183.3 85.5h.9v.9h-.9zM191.0 86.3h.9v.9h-.9zM184.5 105.1h.9v.9h-.9zM181.3 101.0h.9v.9h-.9zM184.2 73.6h.9v.9h-.9zM185.5 88.4h.9v.9h-.9zM181.2 93.9h.9v.9h-.9zM182.9 91.8h.9v.9h-.9zM186.7 84.7h.9v.9h-.9zM188.1 107.0h.9v.9h-.9zM188.9 97.6h.9v.9h-.9zM186.5 77.0h.9v.9h-.9zM184.8 82.0h.9v.9h-.9zM181.7 98.4h.9v.9h-.9zM189.6 96.4h.9v.9h-.9zM185.4 77.6h.9v.9h-.9zM184.7 82.5h.9v.9h-.9zM182.5 90.1h.9v.9h-.9zM192.7 99.8h.9v.9h-.9zM188.0 84.8h.9v.9h-.9zM187.7 86.4h.9v.9h-.9zM182.5 89.1h.9v.9h-.9zM191.1 82.3h.9v.9h-.9zM183.6 105.7h.9v.9h-.9zM190.7 76.6h.9v.9h-.9zM190.2 86.1h.9v.9h-.9zM188.0 95.0h.9v.9h-.9zM195.3 77.2h.9v.9h-.9zM180.4 79.7h.9v.9h-.9zM187.0 88.2h.9v.9h-.9zM179.0 77.7h.9v.9h-.9zM185.1 86.2h.9v.9h-.9zM186.7 95.6h.9v.9h-.9zM189.9 96.9h.9v.9h-.9zM229.0 86.7h.9v.9h-.9zM229.8 83.5h.9v.9h-.9zM234.3 99.0h.9v.9h-.9zM230.6 88.1h.9v.9h-.9zM236.9 79.1h.9v.9h-.9zM224.5 88.7h.9v.9h-.9zM235.2 107.3h.9v.9h-.9zM235.3 92.6h.9v.9h-.9zM238.6 91.5h.9v.9h-.9zM229.5 100.1h.9v.9h-.9zM225.5 87.8h.9v.9h-.9zM230.9 103.1h.9v.9h-.9zM239.1 96.5h.9v.9h-.9zM234.5 103.8h.9v.9h-.9zM226.6 88.9h.9v.9h-.9zM225.0 107.9h.9v.9h-.9zM229.6 101.6h.9v.9h-.9zM227.7 82.0h.9v.9h-.9zM226.8 92.4h.9v.9h-.9zM228.5 91.1h.9v.9h-.9zM233.8 78.2h.9v.9h-.9zM233.7 98.0h.9v.9h-.9zM230.5 93.6h.9v.9h-.9zM230.8 86.9h.9v.9h-.9zM231.4 89.4h.9v.9h-.9zM228.5 79.4h.9v.9h-.9zM231.1 96.4h.9v.9h-.9zM233.5 92.7h.9v.9h-.9zM226.9 105.5h.9v.9h-.9zM230.8 87.5h.9v.9h-.9zM233.4 92.3h.9v.9h-.9zM229.0 94.7h.9v.9h-.9zM228.3 99.6h.9v.9h-.9zM221.4 97.3h.9v.9h-.9zM235.8 96.3h.9v.9h-.9zM234.6 95.8h.9v.9h-.9zM230.7 87.6h.9v.9h-.9zM219.2 97.6h.9v.9h-.9zM230.0 107.2h.9v.9h-.9zM222.0 99.0h.9v.9h-.9zM230.4 99.3h.9v.9h-.9zM231.1 96.5h.9v.9h-.9zM236.0 96.7h.9v.9h-.9zM229.1 88.3h.9v.9h-.9zM217.7 98.0h.9v.9h-.9zM234.3 92.4h.9v.9h-.9zM230.7 94.2h.9v.9h-.9zM240.0 92.3h.9v.9h-.9zM228.1 92.3h.9v.9h-.9zM230.7 93.1h.9v.9h-.9zM228.1 92.6h.9v.9h-.9zM227.8 92.1h.9v.9h-.9zM233.6 101.0h.9v.9h-.9zM230.4 106.7h.9v.9h-.9zM230.7 83.4h.9v.9h-.9zM233.8 92.8h.9v.9h-.9zM228.3 105.6h.9v.9h-.9zM227.6 95.4h.9v.9h-.9zM228.7 82.9h.9v.9h-.9zM230.4 91.1h.9v.9h-.9zM236.0 93.2h.9v.9h-.9zM229.5 99.7h.9v.9h-.9zM229.3 99.4h.9v.9h-.9zM222.5 96.7h.9v.9h-.9zM229.8 109.4h.9v.9h-.9zM233.5 96.5h.9v.9h-.9zM228.5 92.3h.9v.9h-.9zM234.9 84.7h.9v.9h-.9zM232.6 98.5h.9v.9h-.9zM231.8 95.5h.9v.9h-.9zM232.8 98.4h.9v.9h-.9zM241.1 90.0h.9v.9h-.9zM238.0 100.9h.9v.9h-.9zM225.4 85.6h.9v.9h-.9zM223.7 92.6h.9v.9h-.9zM235.8 81.3h.9v.9h-.9zM227.1 99.5h.9v.9h-.9zM229.5 82.2h.9v.9h-.9zM229.2 90.1h.9v.9h-.9zM228.0 92.6h.9v.9h-.9zM229.6 81.7h.9v.9h-.9zM227.9 100.4h.9v.9h-.9zM236.9 92.2h.9v.9h-.9zM228.3 103.0h.9v.9h-.9zM229.8 84.5h.9v.9h-.9zM235.5 95.0h.9v.9h-.9zM231.7 85.9h.9v.9h-.9zM229.1 90.7h.9v.9h-.9zM231.6 83.5h.9v.9h-.9zM230.7 82.2h.9v.9h-.9zM234.3 90.6h.9v.9h-.9zM228.2 101.9h.9v.9h-.9zM233.4 100.3h.9v.9h-.9zM234.4 97.3h.9v.9h-.9zM234.8 86.9h.9v.9h-.9zM227.1 85.7h.9v.9h-.9zM231.1 101.2h.9v.9h-.9zM237.8 98.6h.9v.9h-.9zM230.6 98.8h.9v.9h-.9zM233.3 92.8h.9v.9h-.9zM231.2 77.4h.9v.9h-.9zM231.9 114.1h.9v.9h-.9zM227.1 96.0h.9v.9h-.9zM229.4 93.0h.9v.9h-.9zM227.4 87.0h.9v.9h-.9zM232.9 96.5h.9v.9h-.9zM233.9 87.9h.9v.9h-.9zM218.1 96.5h.9v.9h-.9zM230.4 109.4h.9v.9h-.9zM229.8 98.1h.9v.9h-.9zM234.7 93.1h.9v.9h-.9zM229.7 93.9h.9v.9h-.9zM225.5 96.6h.9v.9h-.9zM227.1 97.6h.9v.9h-.9zM227.3 94.4h.9v.9h-.9zM228.3 91.2h.9v.9h-.9zM228.6 85.6h.9v.9h-.9zM229.9 99.0h.9v.9h-.9zM235.3 102.1h.9v.9h-.9zM233.6 89.5h.9v.9h-.9zM227.5 101.8h.9v.9h-.9zM224.4 97.8h.9v.9h-.9zM234.6 97.3h.9v.9h-.9zM222.7 106.9h.9v.9h-.9zM233.9 100.0h.9v.9h-.9zM224.5 84.2h.9v.9h-.9zM230.2 96.6h.9v.9h-.9zM227.3 77.5h.9v.9h-.9zM232.1 95.0h.9v.9h-.9zM228.8 89.9h.9v.9h-.9zM231.3 92.5h.9v.9h-.9zM232.7 104.6h.9v.9h-.9zM227.8 90.5h.9v.9h-.9zM221.5 86.8h.9v.9h-.9zM230.9 96.0h.9v.9h-.9zM226.5 96.9h.9v.9h-.9zM234.3 79.9h.9v.9h-.9zM227.8 95.2h.9v.9h-.9zM229.3 88.0h.9v.9h-.9zM225.0 96.3h.9v.9h-.9zM240.6 104.7h.9v.9h-.9zM226.6 82.8h.9v.9h-.9zM228.8 93.0h.9v.9h-.9zM232.7 83.4h.9v.9h-.9zM229.6 88.2h.9v.9h-.9zM227.9 83.4h.9v.9h-.9zM235.3 99.9h.9v.9h-.9zM229.3 89.4h.9v.9h-.9zM230.4 81.2h.9v.9h-.9zM228.6 79.3h.9v.9h-.9zM227.8 87.9h.9v.9h-.9zM232.7 89.9h.9v.9h-.9zM234.1 87.2h.9v.9h-.9zM226.8 88.6h.9v.9h-.9zM223.9 86.9h.9v.9h-.9zM233.6 98.2h.9v.9h-.9zM229.2 88.3h.9v.9h-.9zM229.2 97.0h.9v.9h-.9zM228.4 108.1h.9v.9h-.9zM224.0 111.8h.9v.9h-.9zM224.3 90.5h.9v.9h-.9zM234.9 101.4h.9v.9h-.9zM230.8 88.4h.9v.9h-.9zM225.2 98.1h.9v.9h-.9zM232.7 94.6h.9v.9h-.9zM229.9 76.5h.9v.9h-.9zM229.8 91.0h.9v.9h-.9zM233.4 96.2h.9v.9h-.9zM224.5 103.5h.9v.9h-.9zM228.0 96.6h.9v.9h-.9zM230.5 98.6h.9v.9h-.9zM233.1 97.2h.9v.9h-.9zM231.6 95.4h.9v.9h-.9zM230.4 95.5h.9v.9h-.9zM229.4 87.2h.9v.9h-.9zM229.0 102.2h.9v.9h-.9zM231.5 102.6h.9v.9h-.9zM232.5 92.5h.9v.9h-.9zM239.2 93.4h.9v.9h-.9zM222.2 90.4h.9v.9h-.9zM223.3 101.5h.9v.9h-.9zM231.2 96.6h.9v.9h-.9zM230.8 84.6h.9v.9h-.9zM227.2 87.7h.9v.9h-.9zM232.7 92.5h.9v.9h-.9zM227.5 93.2h.9v.9h-.9zM217.6 92.2h.9v.9h-.9zM228.3 86.8h.9v.9h-.9zM228.9 80.5h.9v.9h-.9zM230.9 93.0h.9v.9h-.9zM232.0 98.5h.9v.9h-.9zM234.0 100.3h.9v.9h-.9zM225.8 86.9h.9v.9h-.9zM233.2 82.9h.9v.9h-.9zM233.7 94.9h.9v.9h-.9zM235.2 90.6h.9v.9h-.9zM219.0 97.4h.9v.9h-.9zM231.8 86.7h.9v.9h-.9zM225.2 95.1h.9v.9h-.9zM227.8 94.5h.9v.9h-.9zM233.9 94.8h.9v.9h-.9zM217.9 93.6h.9v.9h-.9zM232.8 88.2h.9v.9h-.9zM223.0 86.8h.9v.9h-.9zM223.0 109.6h.9v.9h-.9zM217.8 109.8h.9v.9h-.9zM230.1 93.4h.9v.9h-.9zM232.2 92.3h.9v.9h-.9zM233.0 95.8h.9v.9h-.9zM223.2 88.8h.9v.9h-.9zM228.4 94.2h.9v.9h-.9zM239.2 87.6h.9v.9h-.9zM232.5 98.6h.9v.9h-.9zM223.8 93.3h.9v.9h-.9zM234.2 104.9h.9v.9h-.9zM228.1 94.5h.9v.9h-.9zM228.8 91.6h.9v.9h-.9zM231.8 84.7h.9v.9h-.9zM234.6 91.4h.9v.9h-.9zM237.3 93.1h.9v.9h-.9zM235.2 102.6h.9v.9h-.9zM234.2 82.6h.9v.9h-.9zM233.3 95.3h.9v.9h-.9zM236.1 88.4h.9v.9h-.9zM234.3 95.9h.9v.9h-.9zM239.5 70.8h.9v.9h-.9zM234.8 86.8h.9v.9h-.9zM234.4 87.7h.9v.9h-.9zM237.5 85.4h.9v.9h-.9zM226.2 93.7h.9v.9h-.9zM225.9 96.4h.9v.9h-.9zM231.4 91.3h.9v.9h-.9zM228.5 99.0h.9v.9h-.9zM236.5 92.4h.9v.9h-.9zM234.2 89.9h.9v.9h-.9zM224.7 85.9h.9v.9h-.9zM233.0 92.0h.9v.9h-.9zM233.8 103.4h.9v.9h-.9zM227.8 97.1h.9v.9h-.9zM231.0 86.1h.9v.9h-.9zM229.5 96.1h.9v.9h-.9zM226.9 93.7h.9v.9h-.9zM233.2 95.4h.9v.9h-.9zM225.8 105.9h.9v.9h-.9zM226.5 83.1h.9v.9h-.9zM229.3 93.5h.9v.9h-.9zM225.2 84.2h.9v.9h-.9zM222.7 83.6h.9v.9h-.9zM235.0 98.4h.9v.9h-.9zM221.8 90.4h.9v.9h-.9zM233.1 102.4h.9v.9h-.9zM230.1 96.4h.9v.9h-.9zM238.3 102.7h.9v.9h-.9zM231.9 91.5h.9v.9h-.9zM222.3 95.6h.9v.9h-.9zM227.3 91.6h.9v.9h-.9zM234.3 92.1h.9v.9h-.9zM231.1 83.3h.9v.9h-.9zM235.6 96.1h.9v.9h-.9zM231.9 86.7h.9v.9h-.9zM226.2 92.8h.9v.9h-.9zM236.5 79.4h.9v.9h-.9zM225.2 76.5h.9v.9h-.9zM234.5 101.2h.9v.9h-.9zM232.7 102.4h.9v.9h-.9zM231.1 90.7h.9v.9h-.9zM226.7 93.9h.9v.9h-.9zM222.6 91.8h.9v.9h-.9zM227.4 96.1h.9v.9h-.9zM231.2 111.3h.9v.9h-.9zM229.6 92.6h.9v.9h-.9zM237.7 86.4h.9v.9h-.9zM226.9 93.7h.9v.9h-.9zM221.6 93.8h.9v.9h-.9zM238.2 96.1h.9v.9h-.9zM228.6 85.3h.9v.9h-.9zM228.0 100.0h.9v.9h-.9zM231.4 86.9h.9v.9h-.9zM232.5 95.2h.9v.9h-.9zM235.7 88.9h.9v.9h-.9zM231.0 100.3h.9v.9h-.9zM234.4 98.3h.9v.9h-.9zM220.3 88.2h.9v.9h-.9zM225.7 99.2h.9v.9h-.9zM228.9 98.4h.9v.9h-.9zM234.9 97.4h.9v.9h-.9zM232.1 94.7h.9v.9h-.9zM238.3 86.3h.9v.9h-.9zM229.7 90.6h.9v.9h-.9zM231.3 94.8h.9v.9h-.9zM238.2 91.9h.9v.9h-.9zM231.1 99.5h.9v.9h-.9zM231.5 89.2h.9v.9h-.9zM227.7 99.1h.9v.9h-.9zM232.3 100.8h.9v.9h-.9zM236.4 97.2h.9v.9h-.9zM236.4 102.5h.9v.9h-.9zM226.8 90.8h.9v.9h-.9zM230.8 93.2h.9v.9h-.9zM229.7 99.1h.9v.9h-.9zM228.5 111.9h.9v.9h-.9zM235.6 86.3h.9v.9h-.9zM219.5 102.4h.9v.9h-.9zM222.3 112.1h.9v.9h-.9zM237.7 89.0h.9v.9h-.9zM225.9 93.4h.9v.9h-.9zM230.6 94.0h.9v.9h-.9zM233.3 105.9h.9v.9h-.9zM227.9 92.5h.9v.9h-.9zM229.1 91.2h.9v.9h-.9zM237.6 90.9h.9v.9h-.9zM230.0 94.3h.9v.9h-.9zM228.7 90.2h.9v.9h-.9zM227.9 91.9h.9v.9h-.9zM229.7 79.5h.9v.9h-.9zM231.0 86.9h.9v.9h-.9zM222.1 91.9h.9v.9h-.9zM228.7 98.6h.9v.9h-.9zM230.9 105.0h.9v.9h-.9zM233.1 84.7h.9v.9h-.9zM230.5 88.8h.9v.9h-.9zM239.5 78.0h.9v.9h-.9zM230.1 87.6h.9v.9h-.9zM236.7 93.7h.9v.9h-.9zM235.4 90.5h.9v.9h-.9zM230.7 96.8h.9v.9h-.9zM224.9 94.7h.9v.9h-.9zM228.9 106.4h.9v.9h-.9zM229.9 86.6h.9v.9h-.9zM233.1 83.6h.9v.9h-.9zM228.2 95.6h.9v.9h-.9zM238.7 85.6h.9v.9h-.9zM236.8 87.9h.9v.9h-.9zM226.3 94.7h.9v.9h-.9zM227.3 91.1h.9v.9h-.9zM232.1 89.9h.9v.9h-.9zM235.7 87.9h.9v.9h-.9zM234.0 81.6h.9v.9h-.9zM230.3 93.3h.9v.9h-.9zM235.1 93.8h.9v.9h-.9zM230.9 90.6h.9v.9h-.9zM236.0 96.4h.9v.9h-.9zM235.6 106.0h.9v.9h-.9zM234.2 88.5h.9v.9h-.9zM235.5 83.4h.9v.9h-.9zM231.4 96.0h.9v.9h-.9zM238.1 79.6h.9v.9h-.9zM230.7 86.9h.9v.9h-.9zM230.1 91.0h.9v.9h-.9zM232.9 92.8h.9v.9h-.9zM234.4 97.3h.9v.9h-.9zM235.7 97.7h.9v.9h-.9zM242.3 115.4h.9v.9h-.9zM230.3 99.1h.9v.9h-.9zM238.1 93.6h.9v.9h-.9zM231.6 89.8h.9v.9h-.9zM233.7 100.7h.9v.9h-.9zM230.9 97.7h.9v.9h-.9zM228.4 87.3h.9v.9h-.9zM232.3 97.0h.9v.9h-.9zM234.6 91.8h.9v.9h-.9zM225.9 92.0h.9v.9h-.9zM230.2 81.2h.9v.9h-.9zM228.3 86.4h.9v.9h-.9zM244.1 88.7h.9v.9h-.9zM231.8 90.0h.9v.9h-.9z"/>
<path fill="#000" fill-opacity="0.45" d="M203.7 65.2h.9v.9h-.9zM218.6 59.9h.9v.9h-.9zM209.7 52.2h.9v.9h-.9zM196.0 62.0h.9v.9h-.9zM192.0 57.0h.9v.9h-.9zM215.7 66.4h.9v.9h-.9zM213.1 61.0h.9v.9h-.9zM208.6 63.8h.9v.9h-.9zM203.1 64.2h.9v.9h-.9zM211.9 62.7h.9v.9h-.9zM206.8 53.2h.9v.9h-.9zM203.5 61.9h.9v.9h-.9zM202.6 61.0h.9v.9h-.9zM212.6 62.0h.9v.9h-.9zM201.2 64.8h.9v.9h-.9zM206.7 64.7h.9v.9h-.9zM212.4 58.7h.9v.9h-.9zM210.0 57.8h.9v.9h-.9zM203.9 62.8h.9v.9h-.9zM205.3 65.1h.9v.9h-.9zM221.5 60.2h.9v.9h-.9zM206.6 61.7h.9v.9h-.9zM205.7 62.5h.9v.9h-.9zM203.3 61.5h.9v.9h-.9zM207.2 56.5h.9v.9h-.9zM203.9 69.4h.9v.9h-.9zM212.6 56.7h.9v.9h-.9zM202.5 53.1h.9v.9h-.9zM208.7 55.7h.9v.9h-.9zM203.3 68.4h.9v.9h-.9zM203.2 66.2h.9v.9h-.9zM199.8 60.1h.9v.9h-.9zM203.5 58.4h.9v.9h-.9zM196.5 63.2h.9v.9h-.9zM203.8 66.0h.9v.9h-.9zM204.8 61.9h.9v.9h-.9zM204.5 66.2h.9v.9h-.9zM204.6 65.6h.9v.9h-.9zM211.7 63.5h.9v.9h-.9zM214.8 60.4h.9v.9h-.9zM199.3 63.3h.9v.9h-.9zM199.4 57.9h.9v.9h-.9zM210.9 60.9h.9v.9h-.9zM203.8 61.2h.9v.9h-.9zM200.1 65.3h.9v.9h-.9zM198.6 67.2h.9v.9h-.9zM206.6 62.7h.9v.9h-.9zM222.8 55.4h.9v.9h-.9zM214.7 58.6h.9v.9h-.9zM208.7 64.6h.9v.9h-.9zM210.4 62.7h.9v.9h-.9zM202.1 65.5h.9v.9h-.9zM199.7 61.3h.9v.9h-.9zM200.0 62.8h.9v.9h-.9zM214.8 63.4h.9v.9h-.9zM212.4 60.4h.9v.9h-.9zM213.6 60.7h.9v.9h-.9zM209.5 62.6h.9v.9h-.9zM203.4 64.1h.9v.9h-.9zM199.2 61.5h.9v.9h-.9zM207.7 62.6h.9v.9h-.9zM202.9 62.8h.9v.9h-.9zM200.7 65.7h.9v.9h-.9zM207.0 66.2h.9v.9h-.9zM204.0 61.2h.9v.9h-.9zM210.1 56.9h.9v.9h-.9zM211.4 59.8h.9v.9h-.9zM201.3 68.3h.9v.9h-.9zM202.6 58.3h.9v.9h-.9zM204.3 60.4h.9v.9h-.9zM198.8 59.2h.9v.9h-.9zM214.0 58.4h.9v.9h-.9zM207.7 59.8h.9v.9h-.9zM210.1 55.8h.9v.9h-.9zM200.9 67.5h.9v.9h-.9zM198.1 59.9h.9v.9h-.9zM207.1 60.5h.9v.9h-.9zM215.0 58.9h.9v.9h-.9zM214.4 66.0h.9v.9h-.9zM199.8 60.5h.9v.9h-.9zM205.3 60.5h.9v.9h-.9zM208.9 66.4h.9v.9h-.9zM206.7 59.9h.9v.9h-.9zM195.0 63.7h.9v.9h-.9zM172.8 70.2h.9v.9h-.9zM208.2 58.1h.9v.9h-.9zM188.5 70.8h.9v.9h-.9zM199.2 61.2h.9v.9h-.9zM198.3 63.0h.9v.9h-.9zM209.4 57.5h.9v.9h-.9zM197.5 64.3h.9v.9h-.9zM186.7 51.9h.9v.9h-.9zM202.7 56.1h.9v.9h-.9zM213.7 53.8h.9v.9h-.9zM202.7 60.7h.9v.9h-.9zM183.8 61.9h.9v.9h-.9zM208.7 58.1h.9v.9h-.9zM182.7 68.9h.9v.9h-.9zM205.8 67.9h.9v.9h-.9zM194.0 80.0h.9v.9h-.9zM195.5 55.9h.9v.9h-.9zM190.6 66.7h.9v.9h-.9zM202.1 76.2h.9v.9h-.9zM200.6 59.1h.9v.9h-.9zM192.3 58.2h.9v.9h-.9zM180.3 59.3h.9v.9h-.9zM195.2 62.2h.9v.9h-.9zM177.0 68.0h.9v.9h-.9zM190.0 71.1h.9v.9h-.9zM199.2 52.1h.9v.9h-.9zM202.1 55.0h.9v.9h-.9zM198.7 71.1h.9v.9h-.9zM221.6 61.8h.9v.9h-.9zM204.1 64.5h.9v.9h-.9zM205.3 43.9h.9v.9h-.9zM189.7 55.6h.9v.9h-.9zM187.9 63.2h.9v.9h-.9zM189.8 63.9h.9v.9h-.9zM191.6 56.1h.9v.9h-.9zM181.4 59.3h.9v.9h-.9zM194.1 65.8h.9v.9h-.9zM196.4 65.2h.9v.9h-.9zM192.2 71.3h.9v.9h-.9zM198.2 64.6h.9v.9h-.9zM199.9 67.2h.9v.9h-.9zM187.5 65.6h.9v.9h-.9zM206.4 54.0h.9v.9h-.9zM185.9 58.6h.9v.9h-.9zM205.2 59.3h.9v.9h-.9zM213.0 60.5h.9v.9h-.9zM201.3 61.1h.9v.9h-.9zM220.1 62.8h.9v.9h-.9zM200.4 50.7h.9v.9h-.9zM199.8 59.0h.9v.9h-.9zM186.4 63.8h.9v.9h-.9zM187.3 53.3h.9v.9h-.9zM180.7 62.2h.9v.9h-.9zM179.8 39.1h.9v.9h-.9zM210.0 70.5h.9v.9h-.9zM177.6 57.2h.9v.9h-.9zM197.9 60.6h.9v.9h-.9zM199.4 65.1h.9v.9h-.9zM198.5 71.1h.9v.9h-.9zM181.8 61.7h.9v.9h-.9zM197.1 58.7h.9v.9h-.9zM188.2 71.2h.9v.9h-.9zM186.8 58.8h.9v.9h-.9zM197.3 60.7h.9v.9h-.9zM201.1 71.8h.9v.9h-.9zM186.2 56.7h.9v.9h-.9zM203.8 63.9h.9v.9h-.9zM197.0 72.9h.9v.9h-.9zM217.2 54.6h.9v.9h-.9zM191.9 64.3h.9v.9h-.9zM193.1 69.9h.9v.9h-.9zM206.6 55.0h.9v.9h-.9zM195.1 50.2h.9v.9h-.9zM193.7 64.1h.9v.9h-.9zM194.7 63.1h.9v.9h-.9zM181.0 65.4h.9v.9h-.9zM209.0 54.9h.9v.9h-.9zM208.8 64.8h.9v.9h-.9zM178.3 54.3h.9v.9h-.9zM192.9 47.3h.9v.9h-.9zM196.7 54.6h.9v.9h-.9zM199.3 54.1h.9v.9h-.9zM191.3 58.2h.9v.9h-.9zM213.4 66.1h.9v.9h-.9zM177.5 59.5h.9v.9h-.9zM213.2 66.6h.9v.9h-.9zM191.9 56.3h.9v.9h-.9zM201.4 59.9h.9v.9h-.9zM206.1 59.0h.9v.9h-.9zM178.3 56.0h.9v.9h-.9zM209.5 53.3h.9v.9h-.9zM218.4 67.4h.9v.9h-.9zM193.0 67.6h.9v.9h-.9zM182.5 68.2h.9v.9h-.9zM189.4 62.8h.9v.9h-.9zM181.8 62.0h.9v.9h-.9zM204.1 64.1h.9v.9h-.9zM209.1 70.2h.9v.9h-.9zM197.9 59.9h.9v.9h-.9zM196.8 58.9h.9v.9h-.9zM207.5 63.9h.9v.9h-.9zM171.0 60.4h.9v.9h-.9zM195.4 56.5h.9v.9h-.9zM205.5 52.6h.9v.9h-.9zM186.1 59.2h.9v.9h-.9zM182.9 65.2h.9v.9h-.9zM204.3 47.8h.9v.9h-.9zM196.4 65.9h.9v.9h-.9zM197.1 67.7h.9v.9h-.9zM174.8 60.6h.9v.9h-.9zM196.1 67.3h.9v.9h-.9zM201.7 68.2h.9v.9h-.9zM203.6 65.0h.9v.9h-.9zM203.8 61.5h.9v.9h-.9zM180.1 51.9h.9v.9h-.9zM181.6 61.6h.9v.9h-.9zM194.4 54.1h.9v.9h-.9zM190.9 58.6h.9v.9h-.9zM199.9 72.3h.9v.9h-.9zM205.7 54.0h.9v.9h-.9zM201.0 57.9h.9v.9h-.9zM210.4 59.2h.9v.9h-.9zM198.8 59.0h.9v.9h-.9zM189.0 69.6h.9v.9h-.9zM197.6 51.5h.9v.9h-.9zM195.6 60.3h.9v.9h-.9zM186.5 58.2h.9v.9h-.9zM218.6 78.7h.9v.9h-.9zM199.9 71.6h.9v.9h-.9zM203.2 77.5h.9v.9h-.9zM188.0 63.5h.9v.9h-.9zM190.0 56.9h.9v.9h-.9zM198.0 70.5h.9v.9h-.9zM187.6 74.6h.9v.9h-.9zM185.3 70.3h.9v.9h-.9zM192.1 67.2h.9v.9h-.9zM190.1 76.8h.9v.9h-.9zM221.6 61.9h.9v.9h-.9zM203.0 49.0h.9v.9h-.9zM211.9 68.0h.9v.9h-.9zM208.6 56.8h.9v.9h-.9zM190.5 61.6h.9v.9h-.9zM191.7 57.6h.9v.9h-.9zM174.5 50.5h.9v.9h-.9zM186.9 60.4h.9v.9h-.9zM207.0 78.2h.9v.9h-.9zM200.6 63.7h.9v.9h-.9zM200.8 57.8h.9v.9h-.9zM197.6 62.7h.9v.9h-.9zM183.8 55.9h.9v.9h-.9zM210.0 67.9h.9v.9h-.9zM185.7 62.1h.9v.9h-.9zM197.9 67.1h.9v.9h-.9zM205.9 64.5h.9v.9h-.9zM195.7 71.2h.9v.9h-.9zM183.2 63.4h.9v.9h-.9zM186.3 59.0h.9v.9h-.9zM177.3 55.6h.9v.9h-.9zM212.8 57.8h.9v.9h-.9zM188.1 62.8h.9v.9h-.9zM190.5 65.8h.9v.9h-.9zM211.4 51.4h.9v.9h-.9zM208.0 57.9h.9v.9h-.9zM205.9 39.9h.9v.9h-.9zM192.2 36.1h.9v.9h-.9zM184.9 41.6h.9v.9h-.9zM194.5 49.8h.9v.9h-.9zM192.5 35.8h.9v.9h-.9zM193.3 59.0h.9v.9h-.9zM196.9 36.6h.9v.9h-.9zM187.7 40.2h.9v.9h-.9zM200.4 52.2h.9v.9h-.9zM186.9 39.8h.9v.9h-.9zM189.4 48.2h.9v.9h-.9zM191.7 42.5h.9v.9h-.9zM196.2 49.6h.9v.9h-.9zM192.6 42.5h.9v.9h-.9zM215.8 52.3h.9v.9h-.9zM202.2 46.5h.9v.9h-.9zM223.7 46.0h.9v.9h-.9zM190.5 52.5h.9v.9h-.9zM194.5 44.0h.9v.9h-.9zM216.7 38.5h.9v.9h-.9zM198.4 45.7h.9v.9h-.9zM180.6 36.6h.9v.9h-.9zM183.7 46.5h.9v.9h-.9zM180.5 37.9h.9v.9h-.9zM200.6 49.6h.9v.9h-.9zM198.7 42.6h.9v.9h-.9zM218.2 46.5h.9v.9h-.9zM192.5 100.2h.9v.9h-.9zM185.8 92.5h.9v.9h-.9zM171.9 96.6h.9v.9h-.9zM182.4 94.7h.9v.9h-.9zM181.8 89.5h.9v.9h-.9zM194.7 82.0h.9v.9h-.9zM178.1 101.6h.9v.9h-.9zM193.0 91.4h.9v.9h-.9zM189.8 85.0h.9v.9h-.9zM190.8 94.0h.9v.9h-.9zM181.8 93.8h.9v.9h-.9zM183.6 89.8h.9v.9h-.9zM191.9 94.5h.9v.9h-.9zM201.6 90.8h.9v.9h-.9zM185.9 103.7h.9v.9h-.9zM183.3 86.1h.9v.9h-.9zM178.1 93.3h.9v.9h-.9zM185.4 91.6h.9v.9h-.9zM192.7 98.7h.9v.9h-.9zM194.1 89.5h.9v.9h-.9zM187.4 110.9h.9v.9h-.9zM189.0 93.4h.9v.9h-.9zM186.8 106.8h.9v.9h-.9zM178.3 62.3h.9v.9h-.9zM195.5 95.2h.9v.9h-.9zM189.9 112.1h.9v.9h-.9zM188.6 81.6h.9v.9h-.9zM180.7 77.7h.9v.9h-.9zM195.5 107.1h.9v.9h-.9zM191.9 87.6h.9v.9h-.9zM179.6 81.4h.9v.9h-.9zM189.6 82.7h.9v.9h-.9zM193.3 99.0h.9v.9h-.9zM181.8 91.8h.9v.9h-.9zM174.6 97.3h.9v.9h-.9zM187.7 98.0h.9v.9h-.9zM192.7 71.9h.9v.9h-.9zM174.6 76.7h.9v.9h-.9zM192.0 81.3h.9v.9h-.9zM184.8 95.4h.9v.9h-.9zM186.3 95.1h.9v.9h-.9zM173.3 72.2h.9v.9h-.9zM186.8 91.9h.9v.9h-.9zM189.5 85.1h.9v.9h-.9zM190.6 96.8h.9v.9h-.9zM181.2 68.4h.9v.9h-.9zM190.8 97.2h.9v.9h-.9zM202.4 85.3h.9v.9h-.9zM188.9 83.8h.9v.9h-.9zM191.5 80.6h.9v.9h-.9zM183.2 77.4h.9v.9h-.9zM194.8 88.6h.9v.9h-.9zM178.5 88.1h.9v.9h-.9zM177.8 101.1h.9v.9h-.9zM187.7 88.3h.9v.9h-.9zM190.5 83.1h.9v.9h-.9zM188.0 101.6h.9v.9h-.9zM183.9 90.3h.9v.9h-.9zM189.9 87.3h.9v.9h-.9zM186.1 105.3h.9v.9h-.9zM187.8 89.6h.9v.9h-.9zM193.9 91.8h.9v.9h-.9zM177.6 97.5h.9v.9h-.9zM175.8 88.3h.9v.9h-.9zM177.6 86.0h.9v.9h-.9zM192.6 99.0h.9v.9h-.9zM183.9 92.9h.9v.9h-.9zM183.0 86.3h.9v.9h-.9zM185.3 107.6h.9v.9h-.9zM189.0 86.0h.9v.9h-.9zM187.5 96.6h.9v.9h-.9zM180.1 82.6h.9v.9h-.9zM187.6 99.1h.9v.9h-.9zM184.6 91.9h.9v.9h-.9zM185.5 99.4h.9v.9h-.9zM183.3 84.4h.9v.9h-.9zM183.3 103.4h.9v.9h-.9zM187.5 86.4h.9v.9h-.9zM193.1 84.4h.9v.9h-.9zM185.8 88.8h.9v.9h-.9zM173.1 79.8h.9v.9h-.9zM179.4 99.7h.9v.9h-.9zM175.9 98.9h.9v.9h-.9zM176.6 89.2h.9v.9h-.9zM183.3 96.9h.9v.9h-.9zM173.5 94.7h.9v.9h-.9zM175.7 84.0h.9v.9h-.9zM180.3 103.3h.9v.9h-.9zM175.3 101.8h.9v.9h-.9zM174.9 97.8h.9v.9h-.9zM176.2 91.7h.9v.9h-.9zM177.0 70.3h.9v.9h-.9zM177.5 114.4h.9v.9h-.9zM171.0 93.0h.9v.9h-.9zM171.2 91.5h.9v.9h-.9zM179.1 91.9h.9v.9h-.9zM176.8 89.8h.9v.9h-.9zM172.9 90.3h.9v.9h-.9zM172.1 95.8h.9v.9h-.9zM177.8 97.9h.9v.9h-.9zM172.8 91.9h.9v.9h-.9zM172.3 90.0h.9v.9h-.9zM176.4 106.4h.9v.9h-.9zM181.3 111.5h.9v.9h-.9zM178.1 117.2h.9v.9h-.9zM224.9 123.0h.9v.9h-.9zM235.1 82.2h.9v.9h-.9zM246.8 106.3h.9v.9h-.9zM226.9 94.2h.9v.9h-.9zM234.1 110.9h.9v.9h-.9zM232.0 117.2h.9v.9h-.9zM227.6 97.3h.9v.9h-.9zM228.3 95.4h.9v.9h-.9zM236.7 99.3h.9v.9h-.9zM232.2 94.3h.9v.9h-.9zM231.8 119.1h.9v.9h-.9zM224.7 93.6h.9v.9h-.9zM244.0 121.6h.9v.9h-.9zM236.5 90.1h.9v.9h-.9zM238.7 102.4h.9v.9h-.9zM236.9 97.2h.9v.9h-.9zM225.4 82.4h.9v.9h-.9zM227.8 83.2h.9v.9h-.9zM229.1 88.4h.9v.9h-.9zM222.6 106.8h.9v.9h-.9zM217.9 106.1h.9v.9h-.9zM229.9 95.9h.9v.9h-.9zM241.4 102.2h.9v.9h-.9zM232.4 101.1h.9v.9h-.9zM232.0 94.4h.9v.9h-.9zM227.6 91.3h.9v.9h-.9zM231.1 106.4h.9v.9h-.9zM232.2 94.5h.9v.9h-.9zM227.9 115.1h.9v.9h-.9zM231.6 93.5h.9v.9h-.9zM241.7 110.9h.9v.9h-.9zM242.3 104.4h.9v.9h-.9zM234.7 97.5h.9v.9h-.9zM235.2 77.4h.9v.9h-.9zM240.6 102.6h.9v.9h-.9zM245.8 108.3h.9v.9h-.9zM220.1 95.0h.9v.9h-.9zM231.1 98.4h.9v.9h-.9zM239.3 96.4h.9v.9h-.9zM242.1 117.9h.9v.9h-.9zM228.2 87.5h.9v.9h-.9zM225.5 113.2h.9v.9h-.9zM233.8 106.9h.9v.9h-.9zM224.5 92.0h.9v.9h-.9zM227.5 107.4h.9v.9h-.9zM235.7 111.2h.9v.9h-.9zM226.4 101.6h.9v.9h-.9zM227.0 98.9h.9v.9h-.9zM221.5 96.6h.9v.9h-.9zM236.3 101.1h.9v.9h-.9zM236.3 102.4h.9v.9h-.9zM232.8 84.3h.9v.9h-.9zM233.4 72.8h.9v.9h-.9zM240.6 106.3h.9v.9h-.9zM236.3 94.5h.9v.9h-.9zM240.4 98.8h.9v.9h-.9zM241.0 99.4h.9v.9h-.9zM228.4 91.6h.9v.9h-.9zM233.5 99.9h.9v.9h-.9zM228.3 122.4h.9v.9h-.9zM233.5 96.5h.9v.9h-.9zM226.7 96.8h.9v.9h-.9zM238.7 84.3h.9v.9h-.9zM229.6 82.6h.9v.9h-.9zM239.2 83.7h.9v.9h-.9zM230.5 104.9h.9v.9h-.9zM226.1 103.3h.9v.9h-.9zM224.3 99.0h.9v.9h-.9zM224.7 94.8h.9v.9h-.9zM235.8 110.4h.9v.9h-.9zM225.7 110.1h.9v.9h-.9zM226.4 104.6h.9v.9h-.9zM228.7 81.3h.9v.9h-.9zM236.6 105.9h.9v.9h-.9zM240.5 85.9h.9v.9h-.9zM242.0 107.4h.9v.9h-.9zM242.7 85.6h.9v.9h-.9zM235.9 87.9h.9v.9h-.9zM231.7 77.6h.9v.9h-.9zM227.8 95.8h.9v.9h-.9zM231.1 102.5h.9v.9h-.9zM226.3 80.6h.9v.9h-.9zM227.4 100.1h.9v.9h-.9zM224.3 92.9h.9v.9h-.9zM236.5 101.1h.9v.9h-.9zM235.2 81.7h.9v.9h-.9zM233.1 101.7h.9v.9h-.9zM238.6 91.2h.9v.9h-.9zM229.6 114.6h.9v.9h-.9zM239.7 103.1h.9v.9h-.9zM231.2 97.1h.9v.9h-.9zM236.0 88.2h.9v.9h-.9zM239.2 93.1h.9v.9h-.9zM225.1 91.6h.9v.9h-.9zM242.7 98.0h.9v.9h-.9zM236.1 96.0h.9v.9h-.9zM232.6 106.6h.9v.9h-.9zM229.7 104.2h.9v.9h-.9zM227.6 100.7h.9v.9h-.9zM231.3 87.2h.9v.9h-.9zM234.2 82.2h.9v.9h-.9zM233.8 112.5h.9v.9h-.9zM225.3 100.6h.9v.9h-.9zM239.9 110.6h.9v.9h-.9zM231.2 117.1h.9v.9h-.9zM225.3 89.0h.9v.9h-.9zM230.2 110.1h.9v.9h-.9zM238.8 105.3h.9v.9h-.9zM229.4 110.8h.9v.9h-.9zM239.2 100.7h.9v.9h-.9zM227.1 91.3h.9v.9h-.9zM230.3 106.3h.9v.9h-.9zM241.5 98.5h.9v.9h-.9zM222.9 98.0h.9v.9h-.9zM228.9 112.8h.9v.9h-.9zM234.8 107.1h.9v.9h-.9zM218.3 96.8h.9v.9h-.9zM229.3 110.1h.9v.9h-.9zM221.9 110.9h.9v.9h-.9zM239.2 95.6h.9v.9h-.9zM231.5 81.9h.9v.9h-.9zM228.8 98.6h.9v.9h-.9zM238.5 112.8h.9v.9h-.9zM222.7 101.9h.9v.9h-.9zM226.2 95.9h.9v.9h-.9zM231.0 89.0h.9v.9h-.9zM238.0 111.7h.9v.9h-.9zM219.9 115.0h.9v.9h-.9zM234.9 122.3h.9v.9h-.9zM218.4 90.0h.9v.9h-.9zM236.3 95.6h.9v.9h-.9zM242.0 103.8h.9v.9h-.9zM233.1 84.1h.9v.9h-.9zM239.1 95.6h.9v.9h-.9zM226.7 87.9h.9v.9h-.9zM244.7 93.2h.9v.9h-.9zM231.2 108.1h.9v.9h-.9zM234.3 98.2h.9v.9h-.9zM231.6 108.1h.9v.9h-.9zM227.8 99.0h.9v.9h-.9zM233.7 86.2h.9v.9h-.9zM225.0 104.7h.9v.9h-.9zM236.6 99.1h.9v.9h-.9zM222.4 94.6h.9v.9h-.9zM217.8 108.1h.9v.9h-.9zM226.7 102.2h.9v.9h-.9zM227.6 103.5h.9v.9h-.9zM226.3 101.9h.9v.9h-.9zM241.4 91.8h.9v.9h-.9zM230.9 79.3h.9v.9h-.9zM231.2 80.8h.9v.9h-.9zM245.8 83.8h.9v.9h-.9zM237.3 96.8h.9v.9h-.9zM225.5 97.7h.9v.9h-.9zM231.0 78.7h.9v.9h-.9zM234.5 96.2h.9v.9h-.9zM216.1 96.5h.9v.9h-.9zM213.2 99.8h.9v.9h-.9zM221.4 103.8h.9v.9h-.9zM218.3 99.1h.9v.9h-.9zM207.0 102.3h.9v.9h-.9zM201.5 101.4h.9v.9h-.9zM215.3 103.3h.9v.9h-.9zM214.1 99.7h.9v.9h-.9zM209.5 99.1h.9v.9h-.9zM212.4 100.9h.9v.9h-.9zM221.8 103.6h.9v.9h-.9zM210.5 97.7h.9v.9h-.9zM215.5 103.5h.9v.9h-.9zM208.8 97.2h.9v.9h-.9zM211.2 103.2h.9v.9h-.9zM215.5 101.6h.9v.9h-.9zM208.3 101.1h.9v.9h-.9zM208.7 97.4h.9v.9h-.9zM221.9 98.3h.9v.9h-.9zM216.8 103.3h.9v.9h-.9zM219.0 99.0h.9v.9h-.9zM212.8 103.4h.9v.9h-.9zM212.4 94.9h.9v.9h-.9zM210.4 104.6h.9v.9h-.9zM211.8 100.7h.9v.9h-.9zM215.1 107.0h.9v.9h-.9zM211.4 103.9h.9v.9h-.9zM223.5 106.5h.9v.9h-.9zM212.6 102.4h.9v.9h-.9zM204.2 102.3h.9v.9h-.9zM210.2 105.2h.9v.9h-.9zM209.5 97.4h.9v.9h-.9zM203.3 102.6h.9v.9h-.9zM209.1 103.5h.9v.9h-.9zM208.3 103.6h.9v.9h-.9zM207.2 106.7h.9v.9h-.9zM208.7 102.0h.9v.9h-.9zM200.7 102.5h.9v.9h-.9zM221.4 96.1h.9v.9h-.9zM223.0 98.9h.9v.9h-.9zM210.7 107.9h.9v.9h-.9zM202.5 107.4h.9v.9h-.9zM217.6 99.7h.9v.9h-.9zM220.7 102.6h.9v.9h-.9zM207.6 110.3h.9v.9h-.9zM218.6 101.9h.9v.9h-.9zM215.1 102.4h.9v.9h-.9zM229.4 100.4h.9v.9h-.9zM201.8 95.5h.9v.9h-.9zM218.1 100.1h.9v.9h-.9zM221.5 100.5h.9v.9h-.9zM205.8 107.0h.9v.9h-.9zM206.0 106.4h.9v.9h-.9zM215.7 91.2h.9v.9h-.9zM207.1 98.1h.9v.9h-.9zM216.9 104.4h.9v.9h-.9zM214.5 106.2h.9v.9h-.9zM209.1 98.3h.9v.9h-.9zM206.6 97.2h.9v.9h-.9zM212.2 102.2h.9v.9h-.9zM212.3 98.1h.9v.9h-.9zM219.1 107.7h.9v.9h-.9zM208.6 103.3h.9v.9h-.9zM217.0 100.3h.9v.9h-.9zM202.6 98.2h.9v.9h-.9zM200.2 104.1h.9v.9h-.9zM207.2 101.5h.9v.9h-.9zM212.5 100.0h.9v.9h-.9zM216.6 99.1h.9v.9h-.9zM220.7 94.2h.9v.9h-.9zM212.4 102.9h.9v.9h-.9zM217.9 102.1h.9v.9h-.9zM204.8 104.5h.9v.9h-.9zM210.5 100.5h.9v.9h-.9zM203.7 108.5h.9v.9h-.9zM212.3 93.7h.9v.9h-.9zM209.7 107.8h.9v.9h-.9zM209.6 105.3h.9v.9h-.9zM218.4 103.3h.9v.9h-.9zM226.9 73.6h.9v.9h-.9zM223.8 46.4h.9v.9h-.9zM211.8 67.4h.9v.9h-.9zM226.3 65.4h.9v.9h-.9zM244.3 52.3h.9v.9h-.9zM222.7 58.7h.9v.9h-.9zM231.1 71.9h.9v.9h-.9zM231.3 58.0h.9v.9h-.9zM215.5 84.1h.9v.9h-.9zM227.4 44.9h.9v.9h-.9zM228.9 65.5h.9v.9h-.9zM237.6 59.7h.9v.9h-.9zM223.7 60.4h.9v.9h-.9zM212.1 57.5h.9v.9h-.9zM214.1 63.1h.9v.9h-.9zM207.4 51.8h.9v.9h-.9zM220.5 66.6h.9v.9h-.9zM218.8 65.2h.9v.9h-.9zM219.9 58.9h.9v.9h-.9zM238.9 44.0h.9v.9h-.9zM232.4 68.1h.9v.9h-.9zM220.5 56.4h.9v.9h-.9zM225.0 70.4h.9v.9h-.9zM226.1 55.6h.9v.9h-.9zM220.7 66.0h.9v.9h-.9zM218.2 64.3h.9v.9h-.9zM223.3 49.9h.9v.9h-.9zM222.5 59.7h.9v.9h-.9zM197.9 71.0h.9v.9h-.9zM199.9 94.8h.9v.9h-.9zM187.2 72.6h.9v.9h-.9zM215.2 84.9h.9v.9h-.9zM192.2 96.1h.9v.9h-.9zM242.0 114.4h.9v.9h-.9zM231.8 88.0h.9v.9h-.9zM199.6 101.3h.9v.9h-.9zM204.6 58.9h.9v.9h-.9zM249.3 92.5h.9v.9h-.9zM248.8 50.3h.9v.9h-.9z"/>
<path fill="#000" fill-opacity="0.5" d="M199.8 77.0h.9v.9h-.9zM187.8 62.7h.9v.9h-.9zM192.4 62.9h.9v.9h-.9zM192.6 65.1h.9v.9h-.9zM197.0 61.5h.9v.9h-.9zM201.3 63.0h.9v.9h-.9zM204.0 62.2h.9v.9h-.9zM183.0 65.8h.9v.9h-.9zM196.0 65.6h.9v.9h-.9zM197.6 73.1h.9v.9h-.9zM186.3 67.4h.9v.9h-.9zM203.6 53.8h.9v.9h-.9zM203.4 65.1h.9v.9h-.9zM179.0 67.9h.9v.9h-.9zM200.5 70.4h.9v.9h-.9zM192.5 66.6h.9v.9h-.9zM189.2 65.0h.9v.9h-.9zM209.7 74.9h.9v.9h-.9zM198.7 63.5h.9v.9h-.9zM200.3 68.7h.9v.9h-.9zM184.5 63.3h.9v.9h-.9zM179.0 65.8h.9v.9h-.9zM203.7 71.6h.9v.9h-.9zM200.8 71.0h.9v.9h-.9zM197.6 69.3h.9v.9h-.9zM181.2 67.5h.9v.9h-.9zM195.4 59.2h.9v.9h-.9zM198.4 58.5h.9v.9h-.9zM198.1 70.4h.9v.9h-.9zM187.8 68.0h.9v.9h-.9zM192.0 68.8h.9v.9h-.9zM191.4 69.4h.9v.9h-.9zM194.3 57.7h.9v.9h-.9zM181.3 70.7h.9v.9h-.9zM186.3 59.5h.9v.9h-.9zM186.6 70.5h.9v.9h-.9zM183.6 67.1h.9v.9h-.9zM185.9 62.0h.9v.9h-.9zM190.3 59.8h.9v.9h-.9zM180.4 60.3h.9v.9h-.9zM190.3 63.5h.9v.9h-.9zM189.9 61.7h.9v.9h-.9zM185.9 67.9h.9v.9h-.9zM181.5 67.2h.9v.9h-.9zM197.2 71.8h.9v.9h-.9zM177.3 65.3h.9v.9h-.9zM186.7 63.0h.9v.9h-.9zM182.0 64.9h.9v.9h-.9zM185.5 62.3h.9v.9h-.9zM191.6 64.8h.9v.9h-.9zM181.9 61.3h.9v.9h-.9zM197.1 70.3h.9v.9h-.9zM199.5 63.0h.9v.9h-.9zM195.2 53.1h.9v.9h-.9zM189.0 65.2h.9v.9h-.9zM195.3 66.1h.9v.9h-.9zM202.6 65.8h.9v.9h-.9zM181.4 63.1h.9v.9h-.9zM201.7 67.3h.9v.9h-.9zM189.2 67.1h.9v.9h-.9zM197.1 63.7h.9v.9h-.9zM176.8 70.1h.9v.9h-.9zM183.4 69.6h.9v.9h-.9zM204.5 63.4h.9v.9h-.9zM196.8 64.9h.9v.9h-.9zM195.3 60.9h.9v.9h-.9zM180.8 60.5h.9v.9h-.9zM197.0 62.0h.9v.9h-.9zM177.9 64.6h.9v.9h-.9zM193.2 60.6h.9v.9h-.9zM195.3 59.9h.9v.9h-.9zM188.0 65.1h.9v.9h-.9zM191.8 70.6h.9v.9h-.9zM199.9 67.2h.9v.9h-.9zM195.4 66.4h.9v.9h-.9zM192.1 65.7h.9v.9h-.9zM196.4 63.2h.9v.9h-.9zM204.1 66.2h.9v.9h-.9zM192.7 65.8h.9v.9h-.9zM198.5 64.6h.9v.9h-.9zM185.3 66.8h.9v.9h-.9zM189.1 68.8h.9v.9h-.9zM189.9 68.6h.9v.9h-.9zM195.8 59.7h.9v.9h-.9zM185.8 67.8h.9v.9h-.9zM194.3 67.5h.9v.9h-.9zM185.9 62.0h.9v.9h-.9zM190.6 63.1h.9v.9h-.9zM209.3 70.3h.9v.9h-.9zM198.2 61.2h.9v.9h-.9zM196.3 63.4h.9v.9h-.9zM194.3 56.8h.9v.9h-.9zM198.5 60.5h.9v.9h-.9zM196.6 59.5h.9v.9h-.9zM199.4 62.8h.9v.9h-.9zM196.8 66.0h.9v.9h-.9zM187.5 71.7h.9v.9h-.9zM198.5 62.7h.9v.9h-.9zM199.1 66.6h.9v.9h-.9zM199.6 57.8h.9v.9h-.9zM201.0 65.6h.9v.9h-.9zM191.8 65.6h.9v.9h-.9zM195.7 65.2h.9v.9h-.9zM196.6 60.4h.9v.9h-.9zM189.6 68.0h.9v.9h-.9zM195.7 58.4h.9v.9h-.9zM191.2 64.5h.9v.9h-.9zM198.7 68.3h.9v.9h-.9zM189.7 62.8h.9v.9h-.9zM197.6 71.9h.9v.9h-.9zM184.7 67.5h.9v.9h-.9zM185.4 63.3h.9v.9h-.9zM186.7 65.0h.9v.9h-.9zM188.8 61.5h.9v.9h-.9zM198.9 64.8h.9v.9h-.9zM193.9 61.3h.9v.9h-.9zM184.4 70.5h.9v.9h-.9zM197.8 64.0h.9v.9h-.9zM182.5 68.5h.9v.9h-.9zM193.6 65.4h.9v.9h-.9zM192.6 66.1h.9v.9h-.9zM198.4 65.1h.9v.9h-.9zM202.6 68.4h.9v.9h-.9zM196.6 72.9h.9v.9h-.9zM192.8 63.5h.9v.9h-.9zM188.4 63.6h.9v.9h-.9zM181.3 71.0h.9v.9h-.9zM184.9 61.9h.9v.9h-.9zM199.5 69.2h.9v.9h-.9zM184.0 62.3h.9v.9h-.9zM181.4 67.8h.9v.9h-.9zM197.0 61.9h.9v.9h-.9zM194.7 64.9h.9v.9h-.9zM199.3 67.0h.9v.9h-.9zM207.2 60.5h.9v.9h-.9zM186.4 63.4h.9v.9h-.9zM198.5 67.7h.9v.9h-.9zM192.3 70.8h.9v.9h-.9zM213.2 66.4h.9v.9h-.9zM191.6 53.7h.9v.9h-.9zM200.0 65.3h.9v.9h-.9zM185.6 64.6h.9v.9h-.9zM200.5 69.9h.9v.9h-.9zM196.3 63.9h.9v.9h-.9zM179.0 70.0h.9v.9h-.9zM192.0 59.6h.9v.9h-.9zM203.9 62.6h.9v.9h-.9zM196.7 72.0h.9v.9h-.9zM199.6 62.3h.9v.9h-.9zM199.6 67.4h.9v.9h-.9zM190.7 61.1h.9v.9h-.9zM194.9 63.2h.9v.9h-.9zM200.1 68.4h.9v.9h-.9zM202.1 71.7h.9v.9h-.9zM200.4 64.4h.9v.9h-.9zM199.8 58.1h.9v.9h-.9zM170.1 62.8h.9v.9h-.9zM185.4 66.7h.9v.9h-.9zM187.6 61.0h.9v.9h-.9zM207.7 65.3h.9v.9h-.9zM200.2 69.0h.9v.9h-.9zM196.7 69.6h.9v.9h-.9zM188.8 64.5h.9v.9h-.9zM191.4 55.6h.9v.9h-.9zM191.2 61.2h.9v.9h-.9zM182.8 68.4h.9v.9h-.9zM203.4 66.2h.9v.9h-.9zM192.6 68.6h.9v.9h-.9zM196.4 60.3h.9v.9h-.9zM194.7 62.3h.9v.9h-.9zM204.0 59.3h.9v.9h-.9zM202.9 66.2h.9v.9h-.9zM189.2 64.9h.9v.9h-.9zM194.2 70.5h.9v.9h-.9zM189.4 64.3h.9v.9h-.9zM192.4 64.9h.9v.9h-.9zM204.8 65.6h.9v.9h-.9zM192.8 75.3h.9v.9h-.9zM192.1 62.7h.9v.9h-.9zM191.5 68.3h.9v.9h-.9zM197.5 62.1h.9v.9h-.9zM193.6 60.6h.9v.9h-.9zM196.3 64.4h.9v.9h-.9zM186.9 71.2h.9v.9h-.9zM196.3 69.9h.9v.9h-.9zM204.7 66.5h.9v.9h-.9zM196.8 62.5h.9v.9h-.9zM212.4 67.0h.9v.9h-.9zM189.7 65.0h.9v.9h-.9zM187.5 65.1h.9v.9h-.9zM190.4 67.4h.9v.9h-.9zM191.1 64.5h.9v.9h-.9zM198.1 65.9h.9v.9h-.9zM187.2 61.9h.9v.9h-.9zM208.1 64.4h.9v.9h-.9zM191.1 65.8h.9v.9h-.9zM200.4 60.2h.9v.9h-.9zM195.3 65.1h.9v.9h-.9zM189.4 61.3h.9v.9h-.9zM205.2 63.7h.9v.9h-.9zM189.5 70.9h.9v.9h-.9zM185.2 68.3h.9v.9h-.9zM181.2 63.0h.9v.9h-.9zM192.8 64.7h.9v.9h-.9zM194.1 70.6h.9v.9h-.9zM190.7 63.7h.9v.9h-.9zM199.7 67.3h.9v.9h-.9zM198.6 62.9h.9v.9h-.9zM208.9 68.7h.9v.9h-.9zM199.9 67.5h.9v.9h-.9zM193.7 69.8h.9v.9h-.9zM199.5 67.0h.9v.9h-.9zM188.6 66.5h.9v.9h-.9zM187.0 63.9h.9v.9h-.9zM202.3 68.8h.9v.9h-.9zM183.1 58.7h.9v.9h-.9zM193.0 65.6h.9v.9h-.9zM194.3 68.2h.9v.9h-.9zM185.1 63.4h.9v.9h-.9zM187.6 59.9h.9v.9h-.9zM191.8 69.0h.9v.9h-.9zM185.3 62.1h.9v.9h-.9zM191.4 74.0h.9v.9h-.9zM182.6 66.0h.9v.9h-.9zM192.9 64.6h.9v.9h-.9zM183.7 67.1h.9v.9h-.9zM198.6 62.2h.9v.9h-.9zM188.9 63.9h.9v.9h-.9zM178.2 68.0h.9v.9h-.9zM196.3 66.0h.9v.9h-.9zM188.0 73.5h.9v.9h-.9zM206.1 62.7h.9v.9h-.9zM193.7 61.5h.9v.9h-.9zM193.4 68.2h.9v.9h-.9zM193.6 58.7h.9v.9h-.9zM199.4 62.4h.9v.9h-.9zM177.0 71.0h.9v.9h-.9zM196.4 62.0h.9v.9h-.9zM194.9 67.6h.9v.9h-.9zM191.1 61.5h.9v.9h-.9zM199.2 61.1h.9v.9h-.9zM199.5 58.0h.9v.9h-.9zM194.6 74.5h.9v.9h-.9zM191.7 59.1h.9v.9h-.9zM186.3 61.2h.9v.9h-.9zM200.6 67.1h.9v.9h-.9zM194.5 59.4h.9v.9h-.9zM200.6 68.5h.9v.9h-.9zM199.1 66.0h.9v.9h-.9zM191.8 67.1h.9v.9h-.9zM198.6 66.2h.9v.9h-.9zM201.6 62.7h.9v.9h-.9zM195.9 63.6h.9v.9h-.9zM175.1 65.3h.9v.9h-.9zM197.6 64.9h.9v.9h-.9zM189.8 60.1h.9v.9h-.9zM195.2 67.4h.9v.9h-.9zM186.8 65.7h.9v.9h-.9zM196.8 63.5h.9v.9h-.9zM197.2 65.0h.9v.9h-.9zM193.5 59.2h.9v.9h-.9zM182.4 64.3h.9v.9h-.9zM198.2 60.7h.9v.9h-.9zM209.4 69.0h.9v.9h-.9zM198.2 69.4h.9v.9h-.9zM208.8 56.2h.9v.9h-.9zM183.2 67.6h.9v.9h-.9zM207.2 71.4h.9v.9h-.9zM188.2 61.1h.9v.9h-.9zM190.6 72.7h.9v.9h-.9zM193.3 66.1h.9v.9h-.9zM197.4 63.7h.9v.9h-.9zM188.1 68.1h.9v.9h-.9zM190.8 63.8h.9v.9h-.9zM190.3 62.9h.9v.9h-.9zM194.2 68.5h.9v.9h-.9zM191.6 64.4h.9v.9h-.9zM195.0 64.9h.9v.9h-.9zM196.0 63.4h.9v.9h-.9zM198.1 60.0h.9v.9h-.9zM192.2 64.8h.9v.9h-.9zM196.8 63.5h.9v.9h-.9zM194.3 70.0h.9v.9h-.9zM190.0 63.3h.9v.9h-.9zM193.6 63.9h.9v.9h-.9zM194.6 65.6h.9v.9h-.9zM191.3 65.8h.9v.9h-.9zM185.3 66.0h.9v.9h-.9zM187.4 66.5h.9v.9h-.9zM194.0 69.1h.9v.9h-.9zM195.9 68.6h.9v.9h-.9zM193.5 62.0h.9v.9h-.9zM198.9 69.7h.9v.9h-.9zM189.5 70.8h.9v.9h-.9zM185.5 67.3h.9v.9h-.9zM199.2 67.6h.9v.9h-.9zM187.0 63.1h.9v.9h-.9zM196.3 71.4h.9v.9h-.9zM183.8 65.7h.9v.9h-.9zM191.9 60.6h.9v.9h-.9zM194.9 68.2h.9v.9h-.9zM196.9 62.3h.9v.9h-.9zM205.6 70.8h.9v.9h-.9zM205.7 70.0h.9v.9h-.9zM193.8 66.5h.9v.9h-.9zM193.9 58.3h.9v.9h-.9zM200.1 60.8h.9v.9h-.9zM189.4 71.5h.9v.9h-.9zM193.0 70.3h.9v.9h-.9zM189.9 67.1h.9v.9h-.9zM194.1 63.4h.9v.9h-.9zM192.3 64.4h.9v.9h-.9zM192.3 62.8h.9v.9h-.9zM190.9 68.7h.9v.9h-.9zM193.1 64.1h.9v.9h-.9zM193.7 61.9h.9v.9h-.9zM189.6 58.8h.9v.9h-.9zM197.0 63.6h.9v.9h-.9zM196.8 67.1h.9v.9h-.9zM200.3 65.8h.9v.9h-.9zM193.4 70.5h.9v.9h-.9zM184.0 63.9h.9v.9h-.9zM187.0 67.7h.9v.9h-.9zM189.4 66.6h.9v.9h-.9zM197.1 68.7h.9v.9h-.9zM184.0 65.7h.9v.9h-.9zM195.7 67.4h.9v.9h-.9zM201.0 68.8h.9v.9h-.9zM200.1 66.1h.9v.9h-.9zM187.6 65.4h.9v.9h-.9zM183.8 64.6h.9v.9h-.9zM197.3 67.8h.9v.9h-.9zM189.9 63.5h.9v.9h-.9zM194.9 67.1h.9v.9h-.9zM199.8 68.8h.9v.9h-.9zM183.8 63.8h.9v.9h-.9zM189.6 63.0h.9v.9h-.9zM196.5 66.1h.9v.9h-.9zM189.2 64.7h.9v.9h-.9zM191.8 65.9h.9v.9h-.9zM190.1 67.6h.9v.9h-.9zM192.0 60.5h.9v.9h-.9zM193.8 64.8h.9v.9h-.9zM191.4 73.3h.9v.9h-.9zM198.3 69.2h.9v.9h-.9zM193.9 66.5h.9v.9h-.9zM194.8 65.1h.9v.9h-.9zM186.2 66.8h.9v.9h-.9zM193.9 62.8h.9v.9h-.9zM202.1 61.5h.9v.9h-.9zM194.8 65.1h.9v.9h-.9zM191.2 68.7h.9v.9h-.9zM191.6 66.6h.9v.9h-.9zM193.4 64.8h.9v.9h-.9zM187.9 62.4h.9v.9h-.9zM189.1 63.5h.9v.9h-.9zM197.9 70.4h.9v.9h-.9zM186.0 60.1h.9v.9h-.9zM193.5 69.3h.9v.9h-.9zM197.5 66.8h.9v.9h-.9zM196.0 67.1h.9v.9h-.9zM192.9 62.3h.9v.9h-.9zM190.8 60.8h.9v.9h-.9zM187.5 71.4h.9v.9h-.9zM197.7 69.0h.9v.9h-.9zM190.0 71.2h.9v.9h-.9zM191.4 71.5h.9v.9h-.9zM190.9 71.6h.9v.9h-.9zM197.4 65.7h.9v.9h-.9zM193.8 66.5h.9v.9h-.9zM190.0 64.3h.9v.9h-.9zM195.0 62.9h.9v.9h-.9zM196.1 65.5h.9v.9h-.9zM195.5 63.1h.9v.9h-.9zM191.8 68.1h.9v.9h-.9zM192.8 68.8h.9v.9h-.9zM199.4 59.2h.9v.9h-.9zM193.1 72.6h.9v.9h-.9zM195.2 59.1h.9v.9h-.9zM194.6 63.2h.9v.9h-.9zM186.8 61.9h.9v.9h-.9zM192.4 64.1h.9v.9h-.9zM191.2 66.5h.9v.9h-.9zM193.2 61.9h.9v.9h-.9zM196.5 61.7h.9v.9h-.9zM193.5 85.4h.9v.9h-.9zM183.8 92.8h.9v.9h-.9zM189.1 94.9h.9v.9h-.9zM184.7 72.2h.9v.9h-.9zM189.3 92.6h.9v.9h-.9zM185.3 88.2h.9v.9h-.9zM189.3 107.0h.9v.9h-.9zM185.2 79.5h.9v.9h-.9zM183.8 97.3h.9v.9h-.9zM191.2 80.9h.9v.9h-.9zM185.2 91.9h.9v.9h-.9zM183.1 97.5h.9v.9h-.9zM191.6 87.8h.9v.9h-.9zM181.0 82.6h.9v.9h-.9zM197.0 88.2h.9v.9h-.9zM191.4 84.8h.9v.9h-.9zM186.7 67.9h.9v.9h-.9zM191.1 74.7h.9v.9h-.9zM187.9 77.3h.9v.9h-.9zM182.4 82.8h.9v.9h-.9zM187.0 91.3h.9v.9h-.9zM183.7 77.1h.9v.9h-.9zM189.9 86.5h.9v.9h-.9zM178.7 101.8h.9v.9h-.9zM190.4 84.1h.9v.9h-.9zM190.8 89.8h.9v.9h-.9zM193.6 89.7h.9v.9h-.9zM191.6 88.4h.9v.9h-.9zM185.6 79.7h.9v.9h-.9zM187.3 92.7h.9v.9h-.9zM182.6 89.0h.9v.9h-.9zM188.5 93.6h.9v.9h-.9zM189.1 103.5h.9v.9h-.9zM179.2 69.1h.9v.9h-.9zM191.7 94.7h.9v.9h-.9zM184.4 88.4h.9v.9h-.9zM190.6 74.3h.9v.9h-.9zM187.9 94.1h.9v.9h-.9zM182.3 99.3h.9v.9h-.9zM187.9 80.3h.9v.9h-.9zM185.0 88.6h.9v.9h-.9zM190.3 84.1h.9v.9h-.9zM181.3 92.4h.9v.9h-.9zM188.8 91.0h.9v.9h-.9zM191.2 91.5h.9v.9h-.9zM190.8 86.8h.9v.9h-.9zM192.0 80.6h.9v.9h-.9zM181.6 76.0h.9v.9h-.9zM185.4 97.8h.9v.9h-.9zM191.1 95.8h.9v.9h-.9zM190.8 83.2h.9v.9h-.9zM186.1 88.0h.9v.9h-.9zM187.6 97.5h.9v.9h-.9zM191.5 63.0h.9v.9h-.9zM189.6 73.3h.9v.9h-.9zM190.7 79.2h.9v.9h-.9zM191.0 89.2h.9v.9h-.9zM193.1 90.6h.9v.9h-.9zM184.8 100.7h.9v.9h-.9zM182.5 82.4h.9v.9h-.9zM184.8 89.2h.9v.9h-.9zM192.3 83.2h.9v.9h-.9zM187.3 89.6h.9v.9h-.9zM187.1 93.6h.9v.9h-.9zM186.4 88.5h.9v.9h-.9zM182.6 96.4h.9v.9h-.9zM187.6 78.4h.9v.9h-.9zM183.5 83.1h.9v.9h-.9zM185.2 92.1h.9v.9h-.9zM191.8 75.7h.9v.9h-.9zM190.8 89.5h.9v.9h-.9zM184.7 74.1h.9v.9h-.9zM196.1 91.2h.9v.9h-.9zM193.8 100.6h.9v.9h-.9zM190.3 93.0h.9v.9h-.9zM185.0 87.3h.9v.9h-.9zM191.6 87.4h.9v.9h-.9zM190.3 72.3h.9v.9h-.9zM186.7 87.9h.9v.9h-.9zM197.6 99.6h.9v.9h-.9zM193.4 87.3h.9v.9h-.9zM191.3 91.1h.9v.9h-.9zM185.8 77.3h.9v.9h-.9zM192.3 79.5h.9v.9h-.9zM190.5 85.6h.9v.9h-.9zM183.3 90.8h.9v.9h-.9zM193.7 78.1h.9v.9h-.9zM190.5 96.0h.9v.9h-.9zM193.7 77.1h.9v.9h-.9zM184.6 79.4h.9v.9h-.9zM191.6 66.2h.9v.9h-.9zM187.8 95.3h.9v.9h-.9zM189.6 84.0h.9v.9h-.9zM189.7 82.6h.9v.9h-.9zM187.1 85.9h.9v.9h-.9zM193.3 104.0h.9v.9h-.9zM193.9 91.6h.9v.9h-.9zM194.0 82.9h.9v.9h-.9zM191.7 85.6h.9v.9h-.9zM184.4 90.3h.9v.9h-.9zM188.4 91.9h.9v.9h-.9zM184.6 86.6h.9v.9h-.9zM188.1 94.1h.9v.9h-.9zM227.5 94.6h.9v.9h-.9zM237.3 88.7h.9v.9h-.9zM231.8 89.9h.9v.9h-.9zM235.9 84.5h.9v.9h-.9zM228.3 96.3h.9v.9h-.9zM230.9 88.1h.9v.9h-.9zM231.2 102.6h.9v.9h-.9zM228.6 96.4h.9v.9h-.9zM228.7 92.2h.9v.9h-.9zM234.1 86.0h.9v.9h-.9zM230.3 88.2h.9v.9h-.9zM224.5 85.8h.9v.9h-.9zM230.3 83.2h.9v.9h-.9zM221.3 84.5h.9v.9h-.9zM234.7 93.3h.9v.9h-.9zM235.2 87.2h.9v.9h-.9zM230.4 95.8h.9v.9h-.9zM223.0 104.2h.9v.9h-.9zM229.7 100.5h.9v.9h-.9zM232.2 81.9h.9v.9h-.9zM234.8 89.6h.9v.9h-.9zM242.3 95.8h.9v.9h-.9zM224.3 96.5h.9v.9h-.9zM226.9 101.9h.9v.9h-.9zM229.6 98.0h.9v.9h-.9zM228.8 86.5h.9v.9h-.9zM234.4 94.2h.9v.9h-.9zM231.3 101.6h.9v.9h-.9zM224.4 102.4h.9v.9h-.9zM229.9 107.4h.9v.9h-.9zM231.7 90.5h.9v.9h-.9zM228.6 86.1h.9v.9h-.9zM228.5 80.5h.9v.9h-.9zM226.5 93.0h.9v.9h-.9zM232.5 84.5h.9v.9h-.9zM236.7 108.4h.9v.9h-.9zM231.9 90.5h.9v.9h-.9zM232.5 98.1h.9v.9h-.9zM238.6 104.5h.9v.9h-.9zM232.5 95.0h.9v.9h-.9zM228.4 94.0h.9v.9h-.9zM230.9 89.8h.9v.9h-.9zM234.5 86.3h.9v.9h-.9zM230.3 89.3h.9v.9h-.9zM229.0 81.1h.9v.9h-.9zM226.2 86.6h.9v.9h-.9zM229.4 85.7h.9v.9h-.9zM238.7 103.9h.9v.9h-.9zM225.1 96.7h.9v.9h-.9zM230.6 99.1h.9v.9h-.9zM231.6 92.4h.9v.9h-.9zM226.4 107.1h.9v.9h-.9zM229.5 73.4h.9v.9h-.9zM229.0 94.2h.9v.9h-.9zM235.8 90.1h.9v.9h-.9zM229.6 94.9h.9v.9h-.9zM231.5 89.6h.9v.9h-.9zM235.1 99.0h.9v.9h-.9zM237.6 95.7h.9v.9h-.9zM229.5 83.3h.9v.9h-.9zM236.9 98.2h.9v.9h-.9zM231.8 92.8h.9v.9h-.9zM229.5 94.1h.9v.9h-.9zM232.9 102.0h.9v.9h-.9zM237.4 89.5h.9v.9h-.9zM231.1 93.9h.9v.9h-.9zM228.2 88.9h.9v.9h-.9zM232.1 88.2h.9v.9h-.9zM228.2 74.8h.9v.9h-.9zM224.6 83.4h.9v.9h-.9zM229.8 94.3h.9v.9h-.9zM230.6 87.4h.9v.9h-.9zM226.1 89.9h.9v.9h-.9zM234.2 85.8h.9v.9h-.9zM227.7 97.2h.9v.9h-.9zM234.6 82.2h.9v.9h-.9zM225.5 102.3h.9v.9h-.9zM232.3 88.6h.9v.9h-.9zM231.8 99.0h.9v.9h-.9zM230.4 99.4h.9v.9h-.9zM234.2 87.0h.9v.9h-.9zM234.3 97.6h.9v.9h-.9zM224.1 96.3h.9v.9h-.9zM230.0 91.1h.9v.9h-.9zM234.1 101.7h.9v.9h-.9zM229.6 91.4h.9v.9h-.9zM232.8 88.0h.9v.9h-.9zM232.9 95.4h.9v.9h-.9zM227.2 94.1h.9v.9h-.9zM228.9 75.8h.9v.9h-.9zM226.6 97.8h.9v.9h-.9zM230.5 87.4h.9v.9h-.9zM221.8 101.2h.9v.9h-.9zM231.2 102.1h.9v.9h-.9zM229.5 100.3h.9v.9h-.9zM231.4 99.6h.9v.9h-.9zM235.5 95.3h.9v.9h-.9zM235.4 85.9h.9v.9h-.9zM237.4 98.5h.9v.9h-.9zM231.1 87.6h.9v.9h-.9zM227.1 97.5h.9v.9h-.9zM227.3 85.3h.9v.9h-.9zM226.2 81.6h.9v.9h-.9zM229.8 93.2h.9v.9h-.9zM232.4 91.5h.9v.9h-.9zM234.2 108.5h.9v.9h-.9zM231.0 97.5h.9v.9h-.9zM226.6 99.9h.9v.9h-.9zM237.6 79.9h.9v.9h-.9zM230.2 109.3h.9v.9h-.9zM228.0 90.2h.9v.9h-.9zM226.9 87.2h.9v.9h-.9zM231.4 93.4h.9v.9h-.9zM232.7 93.3h.9v.9h-.9zM231.7 88.9h.9v.9h-.9zM229.4 95.5h.9v.9h-.9zM230.9 92.2h.9v.9h-.9zM225.7 91.9h.9v.9h-.9zM232.7 99.5h.9v.9h-.9zM222.3 92.0h.9v.9h-.9zM225.6 94.0h.9v.9h-.9zM241.9 98.9h.9v.9h-.9zM231.6 96.5h.9v.9h-.9zM234.8 93.8h.9v.9h-.9zM241.6 90.9h.9v.9h-.9zM227.7 104.1h.9v.9h-.9zM229.6 91.3h.9v.9h-.9zM229.2 107.9h.9v.9h-.9zM229.5 86.5h.9v.9h-.9zM236.8 93.9h.9v.9h-.9zM231.9 94.2h.9v.9h-.9zM235.8 98.1h.9v.9h-.9zM229.5 87.5h.9v.9h-.9zM230.7 98.0h.9v.9h-.9zM224.3 105.5h.9v.9h-.9zM224.1 87.7h.9v.9h-.9zM230.8 96.1h.9v.9h-.9zM226.2 85.4h.9v.9h-.9zM229.1 88.0h.9v.9h-.9zM232.2 91.9h.9v.9h-.9zM228.2 106.3h.9v.9h-.9zM228.2 93.5h.9v.9h-.9zM228.5 93.2h.9v.9h-.9zM235.0 86.4h.9v.9h-.9zM237.7 97.0h.9v.9h-.9zM230.8 97.2h.9v.9h-.9zM234.9 80.1h.9v.9h-.9zM229.0 84.5h.9v.9h-.9zM223.6 83.9h.9v.9h-.9zM231.8 102.1h.9v.9h-.9zM235.5 90.3h.9v.9h-.9zM224.6 95.4h.9v.9h-.9zM236.6 108.7h.9v.9h-.9zM233.7 104.7h.9v.9h-.9zM239.3 105.1h.9v.9h-.9zM226.3 101.1h.9v.9h-.9zM230.0 101.0h.9v.9h-.9zM227.6 93.1h.9v.9h-.9zM230.3 90.8h.9v.9h-.9zM231.1 95.2h.9v.9h-.9zM230.3 92.5h.9v.9h-.9zM226.2 107.3h.9v.9h-.9zM235.6 99.9h.9v.9h-.9zM237.6 99.6h.9v.9h-.9zM227.1 98.5h.9v.9h-.9zM231.8 87.4h.9v.9h-.9zM232.0 91.5h.9v.9h-.9zM230.9 105.0h.9v.9h-.9zM230.0 86.0h.9v.9h-.9zM231.4 86.2h.9v.9h-.9zM226.0 95.8h.9v.9h-.9zM235.0 93.4h.9v.9h-.9zM223.9 103.8h.9v.9h-.9zM227.0 90.0h.9v.9h-.9zM233.1 80.2h.9v.9h-.9zM230.0 91.7h.9v.9h-.9zM230.8 104.2h.9v.9h-.9zM238.1 104.9h.9v.9h-.9zM227.7 87.4h.9v.9h-.9zM238.6 83.7h.9v.9h-.9zM234.1 81.9h.9v.9h-.9zM236.8 104.8h.9v.9h-.9zM232.2 83.9h.9v.9h-.9zM237.8 95.7h.9v.9h-.9zM224.7 93.3h.9v.9h-.9zM229.5 96.2h.9v.9h-.9zM234.7 78.0h.9v.9h-.9zM225.1 107.3h.9v.9h-.9zM227.3 98.7h.9v.9h-.9zM231.4 96.5h.9v.9h-.9zM235.3 85.5h.9v.9h-.9zM225.1 87.3h.9v.9h-.9zM239.1 69.8h.9v.9h-.9zM234.3 104.6h.9v.9h-.9zM228.4 95.2h.9v.9h-.9zM227.5 93.6h.9v.9h-.9zM233.5 82.6h.9v.9h-.9zM234.2 75.9h.9v.9h-.9zM225.5 102.8h.9v.9h-.9zM225.4 99.1h.9v.9h-.9zM227.7 90.5h.9v.9h-.9zM229.9 106.1h.9v.9h-.9zM233.3 102.0h.9v.9h-.9zM231.3 92.0h.9v.9h-.9zM227.1 85.3h.9v.9h-.9zM233.0 90.0h.9v.9h-.9zM226.2 98.7h.9v.9h-.9zM234.0 100.0h.9v.9h-.9zM228.8 93.4h.9v.9h-.9zM232.9 92.4h.9v.9h-.9zM227.0 96.2h.9v.9h-.9zM231.2 93.7h.9v.9h-.9zM229.3 86.9h.9v.9h-.9zM232.1 83.5h.9v.9h-.9zM228.6 87.8h.9v.9h-.9zM220.9 86.8h.9v.9h-.9zM231.6 85.1h.9v.9h-.9zM229.2 93.9h.9v.9h-.9zM225.2 79.7h.9v.9h-.9zM228.8 100.3h.9v.9h-.9zM233.9 79.0h.9v.9h-.9zM221.7 91.3h.9v.9h-.9zM228.2 95.1h.9v.9h-.9zM229.9 91.4h.9v.9h-.9zM230.5 84.0h.9v.9h-.9zM234.0 92.7h.9v.9h-.9zM229.3 95.9h.9v.9h-.9zM239.0 88.3h.9v.9h-.9zM241.3 90.6h.9v.9h-.9zM231.8 95.8h.9v.9h-.9zM233.2 96.9h.9v.9h-.9zM228.0 81.7h.9v.9h-.9zM233.7 85.9h.9v.9h-.9zM226.6 89.1h.9v.9h-.9zM235.0 103.2h.9v.9h-.9zM237.8 94.2h.9v.9h-.9zM239.5 87.3h.9v.9h-.9zM235.8 87.6h.9v.9h-.9zM236.3 98.2h.9v.9h-.9zM229.5 108.0h.9v.9h-.9zM226.3 91.2h.9v.9h-.9zM232.6 94.5h.9v.9h-.9zM241.2 84.6h.9v.9h-.9zM229.3 87.7h.9v.9h-.9zM238.8 89.1h.9v.9h-.9zM230.8 91.1h.9v.9h-.9zM229.3 98.1h.9v.9h-.9zM233.1 99.1h.9v.9h-.9zM232.9 92.8h.9v.9h-.9zM236.7 92.5h.9v.9h-.9zM231.8 100.1h.9v.9h-.9zM225.5 80.7h.9v.9h-.9zM228.4 85.6h.9v.9h-.9zM225.5 104.7h.9v.9h-.9zM229.9 95.0h.9v.9h-.9zM238.9 90.9h.9v.9h-.9zM231.8 96.4h.9v.9h-.9zM233.7 104.7h.9v.9h-.9zM229.2 89.9h.9v.9h-.9zM230.9 96.0h.9v.9h-.9zM232.9 107.5h.9v.9h-.9zM232.1 96.7h.9v.9h-.9zM229.0 84.9h.9v.9h-.9zM238.3 99.6h.9v.9h-.9zM228.5 96.9h.9v.9h-.9zM227.6 89.0h.9v.9h-.9zM235.6 96.9h.9v.9h-.9zM232.4 100.3h.9v.9h-.9zM235.2 89.8h.9v.9h-.9zM230.0 89.0h.9v.9h-.9zM231.9 97.9h.9v.9h-.9zM216.8 75.2h.9v.9h-.9zM233.9 91.6h.9v.9h-.9zM227.0 100.2h.9v.9h-.9zM240.4 103.0h.9v.9h-.9zM229.0 89.4h.9v.9h-.9zM225.3 103.7h.9v.9h-.9zM229.0 87.7h.9v.9h-.9zM228.1 93.2h.9v.9h-.9zM231.3 103.0h.9v.9h-.9zM230.4 101.3h.9v.9h-.9zM228.4 96.7h.9v.9h-.9zM229.6 93.1h.9v.9h-.9zM227.8 90.2h.9v.9h-.9zM232.2 87.5h.9v.9h-.9zM230.2 89.9h.9v.9h-.9zM234.5 100.6h.9v.9h-.9zM226.9 96.4h.9v.9h-.9zM232.9 86.1h.9v.9h-.9zM234.7 91.6h.9v.9h-.9zM231.3 87.3h.9v.9h-.9zM228.1 98.3h.9v.9h-.9zM234.5 98.4h.9v.9h-.9zM231.9 92.0h.9v.9h-.9zM227.3 99.0h.9v.9h-.9zM226.8 92.7h.9v.9h-.9zM230.4 94.9h.9v.9h-.9zM231.7 93.7h.9v.9h-.9zM226.7 89.7h.9v.9h-.9zM236.4 100.4h.9v.9h-.9zM220.1 102.4h.9v.9h-.9zM235.0 105.2h.9v.9h-.9zM224.3 98.4h.9v.9h-.9zM226.2 83.9h.9v.9h-.9zM230.6 83.4h.9v.9h-.9zM229.4 104.1h.9v.9h-.9zM237.9 101.1h.9v.9h-.9zM224.5 88.4h.9v.9h-.9zM229.8 95.7h.9v.9h-.9zM225.3 93.1h.9v.9h-.9zM225.2 84.2h.9v.9h-.9zM226.8 79.7h.9v.9h-.9zM220.1 99.8h.9v.9h-.9zM232.7 93.9h.9v.9h-.9zM232.3 87.4h.9v.9h-.9zM231.0 94.5h.9v.9h-.9zM225.9 104.1h.9v.9h-.9zM233.0 87.3h.9v.9h-.9zM226.5 91.1h.9v.9h-.9zM227.7 104.2h.9v.9h-.9zM232.4 95.1h.9v.9h-.9zM241.7 92.9h.9v.9h-.9zM224.1 83.7h.9v.9h-.9zM225.0 87.9h.9v.9h-.9zM237.1 91.1h.9v.9h-.9zM235.1 87.6h.9v.9h-.9zM227.3 94.4h.9v.9h-.9zM227.0 108.3h.9v.9h-.9zM237.3 93.5h.9v.9h-.9zM228.2 98.1h.9v.9h-.9zM231.9 102.6h.9v.9h-.9zM231.3 87.8h.9v.9h-.9zM224.5 88.7h.9v.9h-.9zM227.9 95.9h.9v.9h-.9zM226.4 99.8h.9v.9h-.9zM231.5 90.1h.9v.9h-.9zM230.5 100.5h.9v.9h-.9zM232.5 92.9h.9v.9h-.9zM230.0 94.6h.9v.9h-.9zM225.8 73.6h.9v.9h-.9zM230.0 91.2h.9v.9h-.9zM233.0 101.2h.9v.9h-.9zM220.1 105.0h.9v.9h-.9zM236.7 84.6h.9v.9h-.9zM232.1 97.1h.9v.9h-.9zM237.0 78.7h.9v.9h-.9zM225.4 79.9h.9v.9h-.9zM229.5 92.7h.9v.9h-.9zM231.3 89.9h.9v.9h-.9zM236.7 89.5h.9v.9h-.9zM224.9 91.9h.9v.9h-.9zM233.7 87.0h.9v.9h-.9zM233.0 101.2h.9v.9h-.9zM235.4 88.1h.9v.9h-.9zM232.6 102.6h.9v.9h-.9zM222.7 95.4h.9v.9h-.9zM233.3 93.9h.9v.9h-.9zM235.7 85.4h.9v.9h-.9zM230.0 106.1h.9v.9h-.9zM232.5 103.3h.9v.9h-.9zM239.3 101.5h.9v.9h-.9zM234.7 84.7h.9v.9h-.9zM221.5 91.9h.9v.9h-.9zM234.5 104.0h.9v.9h-.9z"/>
<path fill="#000" fill-opacity="0.7" d="M210.2 62.7h.9v.9h-.9zM183.5 66.6h.9v.9h-.9zM190.5 66.5h.9v.9h-.9zM195.4 69.7h.9v.9h-.9zM181.8 60.9h.9v.9h-.9zM191.8 68.5h.9v.9h-.9zM196.3 63.1h.9v.9h-.9zM185.3 68.5h.9v.9h-.9zM191.5 72.0h.9v.9h-.9zM183.9 62.2h.9v.9h-.9zM197.6 64.6h.9v.9h-.9zM195.1 65.6h.9v.9h-.9zM181.1 62.6h.9v.9h-.9zM188.7 60.6h.9v.9h-.9zM195.8 63.2h.9v.9h-.9zM181.4 57.2h.9v.9h-.9zM185.9 64.2h.9v.9h-.9zM208.3 65.6h.9v.9h-.9zM201.6 65.0h.9v.9h-.9zM187.3 62.7h.9v.9h-.9zM199.2 66.5h.9v.9h-.9zM184.3 62.1h.9v.9h-.9zM183.2 59.4h.9v.9h-.9zM185.1 63.4h.9v.9h-.9zM196.3 67.0h.9v.9h-.9zM194.4 62.1h.9v.9h-.9zM185.1 70.5h.9v.9h-.9zM184.2 69.8h.9v.9h-.9zM192.6 61.7h.9v.9h-.9zM196.9 58.8h.9v.9h-.9zM183.5 53.5h.9v.9h-.9zM188.2 63.7h.9v.9h-.9zM199.5 62.9h.9v.9h-.9zM195.4 62.5h.9v.9h-.9zM193.5 68.1h.9v.9h-.9zM190.5 66.9h.9v.9h-.9zM178.6 64.1h.9v.9h-.9zM198.8 59.2h.9v.9h-.9zM196.4 55.3h.9v.9h-.9zM191.8 68.1h.9v.9h-.9zM180.2 69.8h.9v.9h-.9zM194.4 61.8h.9v.9h-.9zM190.3 65.9h.9v.9h-.9zM197.4 59.2h.9v.9h-.9zM193.4 59.3h.9v.9h-.9zM188.6 63.3h.9v.9h-.9zM203.4 59.9h.9v.9h-.9zM180.9 62.8h.9v.9h-.9zM189.2 61.6h.9v.9h-.9zM193.7 70.4h.9v.9h-.9zM199.8 62.5h.9v.9h-.9zM179.2 62.4h.9v.9h-.9zM185.3 66.1h.9v.9h-.9zM187.8 65.0h.9v.9h-.9zM199.9 61.8h.9v.9h-.9zM197.2 64.9h.9v.9h-.9zM186.0 66.3h.9v.9h-.9zM202.7 67.5h.9v.9h-.9zM184.3 64.6h.9v.9h-.9zM196.4 57.0h.9v.9h-.9zM193.2 60.2h.9v.9h-.9zM196.3 61.8h.9v.9h-.9zM192.3 64.8h.9v.9h-.9zM194.5 68.8h.9v.9h-.9zM191.9 66.4h.9v.9h-.9zM195.3 62.7h.9v.9h-.9zM199.9 60.1h.9v.9h-.9zM180.3 71.0h.9v.9h-.9zM190.0 65.5h.9v.9h-.9zM188.2 61.7h.9v.9h-.9zM193.1 65.2h.9v.9h-.9zM185.1 65.2h.9v.9h-.9zM211.0 65.4h.9v.9h-.9zM185.5 65.8h.9v.9h-.9zM180.5 69.1h.9v.9h-.9zM180.7 66.3h.9v.9h-.9zM191.8 70.4h.9v.9h-.9zM191.3 63.5h.9v.9h-.9zM190.3 54.7h.9v.9h-.9zM195.6 62.6h.9v.9h-.9zM185.4 61.6h.9v.9h-.9zM175.7 72.3h.9v.9h-.9zM197.5 67.6h.9v.9h-.9zM190.7 64.6h.9v.9h-.9zM197.3 67.3h.9v.9h-.9zM195.5 71.7h.9v.9h-.9zM188.8 61.2h.9v.9h-.9zM192.4 61.9h.9v.9h-.9zM196.1 64.5h.9v.9h-.9zM194.8 66.4h.9v.9h-.9zM191.4 66.3h.9v.9h-.9zM195.8 67.8h.9v.9h-.9zM188.5 77.5h.9v.9h-.9zM190.9 65.3h.9v.9h-.9zM190.5 61.0h.9v.9h-.9zM188.5 63.9h.9v.9h-.9zM198.3 68.2h.9v.9h-.9zM197.5 67.4h.9v.9h-.9zM178.1 65.6h.9v.9h-.9zM195.9 65.2h.9v.9h-.9zM193.1 65.7h.9v.9h-.9zM189.4 67.5h.9v.9h-.9zM197.5 61.6h.9v.9h-.9zM189.7 62.6h.9v.9h-.9zM180.9 61.7h.9v.9h-.9zM200.1 59.4h.9v.9h-.9zM198.6 66.1h.9v.9h-.9zM191.0 65.6h.9v.9h-.9zM192.4 62.1h.9v.9h-.9zM194.2 67.5h.9v.9h-.9zM192.0 62.4h.9v.9h-.9zM191.4 64.4h.9v.9h-.9zM193.0 64.5h.9v.9h-.9zM183.9 63.2h.9v.9h-.9zM189.7 65.1h.9v.9h-.9zM196.2 62.0h.9v.9h-.9zM175.2 62.2h.9v.9h-.9zM200.4 66.1h.9v.9h-.9zM177.5 64.6h.9v.9h-.9zM194.3 60.0h.9v.9h-.9zM198.6 61.9h.9v.9h-.9zM183.6 70.3h.9v.9h-.9zM180.3 71.4h.9v.9h-.9zM203.2 60.0h.9v.9h-.9zM191.5 64.6h.9v.9h-.9zM191.1 70.9h.9v.9h-.9zM194.1 57.3h.9v.9h-.9zM195.8 66.1h.9v.9h-.9zM187.7 70.6h.9v.9h-.9zM190.8 69.2h.9v.9h-.9zM202.5 72.6h.9v.9h-.9zM197.2 65.8h.9v.9h-.9zM205.9 71.7h.9v.9h-.9zM191.5 63.2h.9v.9h-.9zM202.9 62.9h.9v.9h-.9zM202.4 62.1h.9v.9h-.9zM194.4 59.0h.9v.9h-.9zM197.0 58.2h.9v.9h-.9zM190.8 60.4h.9v.9h-.9zM202.8 65.5h.9v.9h-.9zM187.8 61.0h.9v.9h-.9zM197.1 71.5h.9v.9h-.9zM180.5 67.5h.9v.9h-.9zM194.1 74.6h.9v.9h-.9zM192.1 63.1h.9v.9h-.9zM188.0 68.5h.9v.9h-.9zM186.6 69.3h.9v.9h-.9zM196.8 72.5h.9v.9h-.9zM192.4 63.2h.9v.9h-.9zM197.6 63.0h.9v.9h-.9zM186.9 67.6h.9v.9h-.9zM188.5 67.7h.9v.9h-.9zM200.9 61.5h.9v.9h-.9zM199.5 59.5h.9v.9h-.9zM177.2 60.7h.9v.9h-.9zM194.4 61.8h.9v.9h-.9zM191.0 76.3h.9v.9h-.9zM201.9 59.4h.9v.9h-.9zM180.4 65.4h.9v.9h-.9zM210.7 72.4h.9v.9h-.9zM193.3 63.4h.9v.9h-.9zM194.5 69.6h.9v.9h-.9zM204.8 66.4h.9v.9h-.9zM203.4 69.1h.9v.9h-.9zM174.6 69.0h.9v.9h-.9zM195.9 62.7h.9v.9h-.9zM201.1 71.0h.9v.9h-.9zM192.3 63.0h.9v.9h-.9zM202.2 67.8h.9v.9h-.9zM189.5 65.3h.9v.9h-.9zM197.6 70.6h.9v.9h-.9zM189.1 68.3h.9v.9h-.9zM188.1 66.6h.9v.9h-.9zM184.8 64.2h.9v.9h-.9zM190.3 64.4h.9v.9h-.9zM194.0 64.2h.9v.9h-.9zM200.5 61.2h.9v.9h-.9zM197.6 59.8h.9v.9h-.9zM202.7 70.6h.9v.9h-.9zM193.6 62.7h.9v.9h-.9zM201.1 71.0h.9v.9h-.9zM185.3 68.9h.9v.9h-.9zM194.9 69.1h.9v.9h-.9zM195.1 70.1h.9v.9h-.9zM193.5 60.0h.9v.9h-.9zM199.8 72.8h.9v.9h-.9zM189.4 69.1h.9v.9h-.9zM196.5 68.1h.9v.9h-.9zM194.1 68.4h.9v.9h-.9zM195.2 68.2h.9v.9h-.9zM200.6 66.4h.9v.9h-.9zM207.3 65.4h.9v.9h-.9zM193.2 62.4h.9v.9h-.9zM195.1 62.7h.9v.9h-.9zM186.6 64.7h.9v.9h-.9zM187.3 70.8h.9v.9h-.9zM184.7 64.6h.9v.9h-.9zM188.2 58.9h.9v.9h-.9zM205.5 56.3h.9v.9h-.9zM193.9 75.2h.9v.9h-.9zM177.6 58.6h.9v.9h-.9zM186.2 65.5h.9v.9h-.9zM204.3 63.8h.9v.9h-.9zM188.5 63.3h.9v.9h-.9zM207.0 64.1h.9v.9h-.9zM189.7 57.9h.9v.9h-.9zM207.3 64.1h.9v.9h-.9zM199.2 69.5h.9v.9h-.9zM205.4 59.8h.9v.9h-.9zM190.4 63.6h.9v.9h-.9zM176.1 66.9h.9v.9h-.9zM193.7 61.0h.9v.9h-.9zM196.1 63.5h.9v.9h-.9zM205.8 62.0h.9v.9h-.9zM192.3 65.5h.9v.9h-.9zM194.1 64.3h.9v.9h-.9zM199.8 65.8h.9v.9h-.9zM200.2 66.8h.9v.9h-.9zM197.6 75.1h.9v.9h-.9zM192.3 62.5h.9v.9h-.9zM196.2 69.8h.9v.9h-.9zM184.3 60.1h.9v.9h-.9zM198.1 66.0h.9v.9h-.9zM175.6 68.8h.9v.9h-.9zM182.6 63.1h.9v.9h-.9zM198.2 65.4h.9v.9h-.9zM191.3 59.3h.9v.9h-.9zM190.8 67.4h.9v.9h-.9zM198.7 74.5h.9v.9h-.9zM188.6 67.8h.9v.9h-.9zM194.0 66.9h.9v.9h-.9zM188.8 63.1h.9v.9h-.9zM195.4 67.6h.9v.9h-.9zM197.8 69.6h.9v.9h-.9zM189.4 64.3h.9v.9h-.9zM198.6 64.8h.9v.9h-.9zM203.4 67.0h.9v.9h-.9zM186.4 64.9h.9v.9h-.9zM174.1 66.3h.9v.9h-.9zM200.2 65.7h.9v.9h-.9zM191.6 69.8h.9v.9h-.9zM181.6 63.6h.9v.9h-.9zM203.6 67.6h.9v.9h-.9zM197.3 71.3h.9v.9h-.9zM180.1 67.8h.9v.9h-.9zM196.4 67.4h.9v.9h-.9zM193.4 59.9h.9v.9h-.9zM201.5 63.2h.9v.9h-.9zM186.8 67.0h.9v.9h-.9zM186.1 66.5h.9v.9h-.9zM188.4 57.9h.9v.9h-.9zM190.0 69.3h.9v.9h-.9zM197.8 74.1h.9v.9h-.9zM199.1 69.7h.9v.9h-.9zM184.8 57.9h.9v.9h-.9zM183.7 65.4h.9v.9h-.9zM174.5 72.0h.9v.9h-.9zM182.3 65.2h.9v.9h-.9zM188.4 66.3h.9v.9h-.9zM197.8 65.8h.9v.9h-.9zM195.0 66.3h.9v.9h-.9zM188.9 64.0h.9v.9h-.9zM181.2 63.2h.9v.9h-.9zM187.6 63.8h.9v.9h-.9zM198.3 66.8h.9v.9h-.9zM176.0 66.4h.9v.9h-.9zM201.3 69.7h.9v.9h-.9zM199.7 73.0h.9v.9h-.9zM193.7 65.8h.9v.9h-.9zM194.7 62.9h.9v.9h-.9zM187.3 66.4h.9v.9h-.9zM200.5 63.8h.9v.9h-.9zM199.6 61.4h.9v.9h-.9zM201.5 66.1h.9v.9h-.9zM189.0 63.7h.9v.9h-.9zM201.3 64.6h.9v.9h-.9zM192.0 64.3h.9v.9h-.9zM194.1 54.2h.9v.9h-.9zM194.7 70.8h.9v.9h-.9zM181.6 69.6h.9v.9h-.9zM184.8 67.6h.9v.9h-.9zM206.2 68.0h.9v.9h-.9zM197.9 57.3h.9v.9h-.9zM186.7 63.4h.9v.9h-.9zM190.6 63.7h.9v.9h-.9zM195.1 62.1h.9v.9h-.9zM197.8 69.3h.9v.9h-.9zM195.6 67.1h.9v.9h-.9zM185.5 67.8h.9v.9h-.9zM199.0 66.0h.9v.9h-.9zM183.0 65.3h.9v.9h-.9zM194.4 65.7h.9v.9h-.9zM192.3 64.9h.9v.9h-.9zM194.2 71.8h.9v.9h-.9zM192.2 63.9h.9v.9h-.9zM201.4 61.3h.9v.9h-.9zM194.9 61.5h.9v.9h-.9zM191.2 64.4h.9v.9h-.9zM191.9 54.1h.9v.9h-.9zM194.3 66.5h.9v.9h-.9zM189.3 63.0h.9v.9h-.9zM206.8 69.9h.9v.9h-.9zM189.2 67.3h.9v.9h-.9zM201.9 55.8h.9v.9h-.9zM175.2 57.2h.9v.9h-.9zM188.8 65.3h.9v.9h-.9zM195.5 66.8h.9v.9h-.9zM201.2 68.2h.9v.9h-.9zM195.4 57.3h.9v.9h-.9zM188.0 64.3h.9v.9h-.9zM190.2 65.5h.9v.9h-.9zM187.1 64.2h.9v.9h-.9zM182.5 67.5h.9v.9h-.9zM189.7 63.4h.9v.9h-.9zM193.4 63.5h.9v.9h-.9zM207.6 63.4h.9v.9h-.9zM194.0 63.8h.9v.9h-.9zM193.8 67.2h.9v.9h-.9zM201.2 76.7h.9v.9h-.9zM191.7 65.0h.9v.9h-.9zM193.1 62.8h.9v.9h-.9zM197.5 59.1h.9v.9h-.9zM193.1 64.8h.9v.9h-.9zM189.3 63.5h.9v.9h-.9zM190.8 67.1h.9v.9h-.9zM193.6 65.9h.9v.9h-.9zM186.0 64.6h.9v.9h-.9zM199.3 64.7h.9v.9h-.9zM188.7 62.2h.9v.9h-.9zM190.6 69.4h.9v.9h-.9zM191.9 65.3h.9v.9h-.9zM194.1 67.5h.9v.9h-.9zM188.0 68.5h.9v.9h-.9zM188.0 60.9h.9v.9h-.9zM188.5 69.5h.9v.9h-.9zM193.4 67.8h.9v.9h-.9zM190.9 65.7h.9v.9h-.9zM190.9 68.3h.9v.9h-.9zM190.0 61.4h.9v.9h-.9zM195.1 68.7h.9v.9h-.9zM188.8 64.6h.9v.9h-.9zM197.4 68.3h.9v.9h-.9zM201.4 67.3h.9v.9h-.9zM198.5 68.0h.9v.9h-.9zM189.6 67.3h.9v.9h-.9zM193.1 67.4h.9v.9h-.9zM195.4 63.3h.9v.9h-.9zM191.0 64.5h.9v.9h-.9zM187.6 67.7h.9v.9h-.9zM201.1 61.9h.9v.9h-.9zM190.1 64.2h.9v.9h-.9zM188.0 62.8h.9v.9h-.9zM193.1 68.2h.9v.9h-.9zM201.0 58.4h.9v.9h-.9zM190.9 60.0h.9v.9h-.9zM190.3 70.5h.9v.9h-.9zM195.3 66.9h.9v.9h-.9zM189.4 64.0h.9v.9h-.9zM195.2 66.6h.9v.9h-.9zM195.1 66.1h.9v.9h-.9zM196.2 69.1h.9v.9h-.9zM189.5 66.4h.9v.9h-.9zM193.0 63.9h.9v.9h-.9zM196.3 65.9h.9v.9h-.9zM190.0 64.2h.9v.9h-.9zM193.6 67.8h.9v.9h-.9zM191.4 66.2h.9v.9h-.9zM188.9 69.2h.9v.9h-.9zM194.2 65.1h.9v.9h-.9zM186.6 64.1h.9v.9h-.9zM198.6 67.3h.9v.9h-.9zM186.4 66.4h.9v.9h-.9zM177.1 64.4h.9v.9h-.9zM195.4 62.7h.9v.9h-.9zM194.9 66.3h.9v.9h-.9zM204.3 67.2h.9v.9h-.9zM188.8 67.3h.9v.9h-.9zM183.3 70.9h.9v.9h-.9zM193.0 64.2h.9v.9h-.9zM187.5 70.4h.9v.9h-.9zM198.3 67.8h.9v.9h-.9zM199.8 63.7h.9v.9h-.9zM189.5 65.7h.9v.9h-.9zM194.7 65.1h.9v.9h-.9zM193.1 67.5h.9v.9h-.9zM193.9 64.3h.9v.9h-.9zM194.0 63.4h.9v.9h-.9zM191.2 66.1h.9v.9h-.9zM192.8 63.7h.9v.9h-.9zM198.3 65.1h.9v.9h-.9zM184.5 61.0h.9v.9h-.9zM197.2 63.9h.9v.9h-.9zM197.3 62.9h.9v.9h-.9zM180.9 63.6h.9v.9h-.9zM195.5 61.7h.9v.9h-.9zM191.5 70.6h.9v.9h-.9zM194.2 67.5h.9v.9h-.9zM193.9 69.1h.9v.9h-.9zM186.5 65.6h.9v.9h-.9zM183.0 69.5h.9v.9h-.9zM187.1 67.8h.9v.9h-.9zM197.7 64.0h.9v.9h-.9zM193.0 66.9h.9v.9h-.9zM187.4 70.4h.9v.9h-.9zM194.4 67.3h.9v.9h-.9zM184.5 65.3h.9v.9h-.9zM198.4 62.1h.9v.9h-.9zM191.5 71.1h.9v.9h-.9zM193.4 63.7h.9v.9h-.9zM191.9 62.4h.9v.9h-.9zM200.6 63.7h.9v.9h-.9zM188.8 72.1h.9v.9h-.9zM188.6 65.6h.9v.9h-.9zM201.0 66.1h.9v.9h-.9zM194.5 65.7h.9v.9h-.9zM194.0 61.4h.9v.9h-.9zM199.2 73.9h.9v.9h-.9zM189.8 65.8h.9v.9h-.9zM197.8 62.0h.9v.9h-.9zM187.2 69.0h.9v.9h-.9zM202.3 67.7h.9v.9h-.9zM191.4 61.6h.9v.9h-.9zM197.8 63.3h.9v.9h-.9zM196.4 68.9h.9v.9h-.9zM188.2 69.9h.9v.9h-.9zM190.3 66.9h.9v.9h-.9zM191.2 62.5h.9v.9h-.9zM187.1 66.4h.9v.9h-.9zM198.5 67.2h.9v.9h-.9zM194.4 67.6h.9v.9h-.9zM190.8 66.4h.9v.9h-.9zM189.3 64.7h.9v.9h-.9zM196.1 64.8h.9v.9h-.9zM188.0 63.2h.9v.9h-.9zM201.0 61.4h.9v.9h-.9zM190.1 69.3h.9v.9h-.9zM192.0 68.2h.9v.9h-.9zM190.3 64.6h.9v.9h-.9zM191.2 67.2h.9v.9h-.9zM190.1 68.1h.9v.9h-.9zM197.2 88.4h.9v.9h-.9zM187.0 98.9h.9v.9h-.9zM182.9 80.9h.9v.9h-.9zM188.7 82.2h.9v.9h-.9zM191.0 96.6h.9v.9h-.9zM188.7 83.1h.9v.9h-.9zM181.5 84.8h.9v.9h-.9zM194.6 72.0h.9v.9h-.9zM187.0 110.0h.9v.9h-.9zM188.0 81.2h.9v.9h-.9zM195.0 80.9h.9v.9h-.9zM182.1 79.2h.9v.9h-.9zM189.3 74.7h.9v.9h-.9zM190.7 98.2h.9v.9h-.9zM191.6 69.2h.9v.9h-.9zM188.8 104.7h.9v.9h-.9zM191.1 88.9h.9v.9h-.9zM192.7 80.1h.9v.9h-.9zM182.2 88.1h.9v.9h-.9zM185.9 89.3h.9v.9h-.9zM186.8 88.5h.9v.9h-.9zM192.1 95.3h.9v.9h-.9zM184.8 76.2h.9v.9h-.9zM178.9 109.5h.9v.9h-.9zM190.9 86.9h.9v.9h-.9zM180.7 90.8h.9v.9h-.9zM192.6 83.0h.9v.9h-.9zM192.4 92.6h.9v.9h-.9zM187.3 88.3h.9v.9h-.9zM190.4 105.0h.9v.9h-.9zM196.8 90.6h.9v.9h-.9zM188.3 86.4h.9v.9h-.9zM195.4 85.0h.9v.9h-.9zM196.4 85.7h.9v.9h-.9zM186.1 86.6h.9v.9h-.9zM187.5 102.4h.9v.9h-.9zM197.0 82.8h.9v.9h-.9zM199.8 87.9h.9v.9h-.9zM185.3 70.8h.9v.9h-.9zM189.8 91.3h.9v.9h-.9zM185.9 94.4h.9v.9h-.9zM183.3 96.6h.9v.9h-.9zM184.1 88.0h.9v.9h-.9zM196.3 88.6h.9v.9h-.9zM182.3 92.5h.9v.9h-.9zM188.2 89.9h.9v.9h-.9zM189.7 100.5h.9v.9h-.9zM181.8 69.6h.9v.9h-.9zM190.0 105.3h.9v.9h-.9zM183.1 83.1h.9v.9h-.9zM190.5 81.6h.9v.9h-.9zM184.5 89.0h.9v.9h-.9zM188.2 100.8h.9v.9h-.9zM194.6 99.9h.9v.9h-.9zM186.0 90.6h.9v.9h-.9zM190.5 78.7h.9v.9h-.9zM182.5 87.1h.9v.9h-.9zM193.8 81.6h.9v.9h-.9zM187.4 82.8h.9v.9h-.9zM190.9 77.8h.9v.9h-.9zM184.6 98.1h.9v.9h-.9zM186.6 90.1h.9v.9h-.9zM183.5 81.2h.9v.9h-.9zM187.6 103.6h.9v.9h-.9zM192.2 83.8h.9v.9h-.9zM193.6 91.6h.9v.9h-.9zM192.6 77.5h.9v.9h-.9zM191.2 81.7h.9v.9h-.9zM190.3 93.8h.9v.9h-.9zM193.0 89.5h.9v.9h-.9zM188.9 76.0h.9v.9h-.9zM189.3 82.1h.9v.9h-.9zM185.9 97.0h.9v.9h-.9zM183.5 86.3h.9v.9h-.9zM179.2 71.2h.9v.9h-.9zM190.5 88.9h.9v.9h-.9zM185.7 91.0h.9v.9h-.9zM188.9 80.2h.9v.9h-.9zM195.8 77.8h.9v.9h-.9zM189.5 106.8h.9v.9h-.9zM185.1 99.5h.9v.9h-.9zM188.4 83.2h.9v.9h-.9zM190.2 78.6h.9v.9h-.9zM186.4 80.0h.9v.9h-.9zM180.4 85.5h.9v.9h-.9zM182.1 99.2h.9v.9h-.9zM190.2 105.6h.9v.9h-.9zM190.8 96.4h.9v.9h-.9zM191.1 84.3h.9v.9h-.9zM186.3 71.8h.9v.9h-.9zM183.6 99.7h.9v.9h-.9zM193.9 84.8h.9v.9h-.9zM183.7 84.8h.9v.9h-.9zM188.0 86.4h.9v.9h-.9zM189.2 90.5h.9v.9h-.9zM187.1 83.2h.9v.9h-.9zM185.1 99.0h.9v.9h-.9zM191.1 87.1h.9v.9h-.9zM192.3 71.4h.9v.9h-.9zM188.3 103.1h.9v.9h-.9zM188.4 92.2h.9v.9h-.9zM185.3 82.7h.9v.9h-.9zM186.6 91.0h.9v.9h-.9zM188.7 98.2h.9v.9h-.9zM194.8 90.3h.9v.9h-.9zM179.8 78.6h.9v.9h-.9zM189.3 94.2h.9v.9h-.9zM187.7 84.7h.9v.9h-.9zM183.8 83.4h.9v.9h-.9zM192.6 86.0h.9v.9h-.9zM192.4 87.0h.9v.9h-.9zM187.8 73.8h.9v.9h-.9zM188.1 90.4h.9v.9h-.9zM184.8 95.2h.9v.9h-.9zM193.8 83.7h.9v.9h-.9zM185.3 90.0h.9v.9h-.9zM193.8 86.5h.9v.9h-.9zM192.7 84.0h.9v.9h-.9zM188.9 81.0h.9v.9h-.9zM181.9 90.6h.9v.9h-.9zM185.9 93.5h.9v.9h-.9zM184.2 87.0h.9v.9h-.9zM190.5 113.6h.9v.9h-.9zM188.5 97.7h.9v.9h-.9zM229.4 83.0h.9v.9h-.9zM234.4 89.8h.9v.9h-.9zM230.6 73.7h.9v.9h-.9zM230.0 68.6h.9v.9h-.9zM234.4 96.1h.9v.9h-.9zM233.4 96.3h.9v.9h-.9zM220.7 80.1h.9v.9h-.9zM232.0 102.3h.9v.9h-.9zM238.1 98.0h.9v.9h-.9zM231.2 96.9h.9v.9h-.9zM231.3 80.6h.9v.9h-.9zM235.1 93.7h.9v.9h-.9zM225.7 91.5h.9v.9h-.9zM231.6 90.1h.9v.9h-.9zM229.0 102.1h.9v.9h-.9zM231.2 99.9h.9v.9h-.9zM232.1 93.2h.9v.9h-.9zM229.7 100.1h.9v.9h-.9zM235.9 102.2h.9v.9h-.9zM224.5 91.8h.9v.9h-.9zM220.9 85.4h.9v.9h-.9zM231.9 98.8h.9v.9h-.9zM233.8 92.8h.9v.9h-.9zM226.7 95.5h.9v.9h-.9zM229.9 101.9h.9v.9h-.9zM230.0 96.0h.9v.9h-.9zM225.6 98.3h.9v.9h-.9zM238.3 83.6h.9v.9h-.9zM230.3 93.8h.9v.9h-.9zM229.6 100.4h.9v.9h-.9zM228.6 88.7h.9v.9h-.9zM231.4 91.2h.9v.9h-.9zM228.1 103.9h.9v.9h-.9zM234.8 86.9h.9v.9h-.9zM222.5 86.1h.9v.9h-.9zM233.6 93.6h.9v.9h-.9zM238.5 102.5h.9v.9h-.9zM223.5 100.8h.9v.9h-.9zM233.3 98.8h.9v.9h-.9zM226.3 106.6h.9v.9h-.9zM229.9 105.8h.9v.9h-.9zM228.0 91.2h.9v.9h-.9zM229.5 101.4h.9v.9h-.9zM228.7 96.1h.9v.9h-.9zM223.8 89.7h.9v.9h-.9zM232.5 79.1h.9v.9h-.9zM221.7 95.0h.9v.9h-.9zM226.7 95.0h.9v.9h-.9zM229.5 94.5h.9v.9h-.9zM235.2 84.4h.9v.9h-.9zM225.5 89.6h.9v.9h-.9zM238.2 83.4h.9v.9h-.9zM227.7 86.7h.9v.9h-.9zM225.7 93.2h.9v.9h-.9zM221.4 97.2h.9v.9h-.9zM226.5 101.4h.9v.9h-.9zM230.0 98.2h.9v.9h-.9zM232.9 90.7h.9v.9h-.9zM214.8 99.3h.9v.9h-.9zM230.5 91.6h.9v.9h-.9zM229.0 93.3h.9v.9h-.9zM229.9 83.7h.9v.9h-.9zM232.1 102.7h.9v.9h-.9zM226.8 87.3h.9v.9h-.9zM233.2 85.9h.9v.9h-.9zM234.5 104.0h.9v.9h-.9zM226.1 91.1h.9v.9h-.9zM234.6 91.5h.9v.9h-.9zM231.6 95.8h.9v.9h-.9zM234.5 95.8h.9v.9h-.9zM232.1 91.3h.9v.9h-.9zM232.1 90.7h.9v.9h-.9zM237.7 95.1h.9v.9h-.9zM224.2 100.7h.9v.9h-.9zM229.1 106.3h.9v.9h-.9zM238.4 84.0h.9v.9h-.9zM233.9 87.3h.9v.9h-.9zM235.7 79.9h.9v.9h-.9zM233.0 98.3h.9v.9h-.9zM228.0 101.0h.9v.9h-.9zM234.5 83.7h.9v.9h-.9zM227.4 97.3h.9v.9h-.9zM221.9 96.1h.9v.9h-.9zM227.3 80.6h.9v.9h-.9zM229.1 104.1h.9v.9h-.9zM226.5 90.1h.9v.9h-.9zM224.9 90.0h.9v.9h-.9zM235.6 84.3h.9v.9h-.9zM232.4 95.6h.9v.9h-.9zM238.2 91.3h.9v.9h-.9zM229.9 85.8h.9v.9h-.9zM224.6 98.9h.9v.9h-.9zM229.5 90.2h.9v.9h-.9zM239.7 77.9h.9v.9h-.9zM236.4 107.6h.9v.9h-.9zM222.0 88.4h.9v.9h-.9zM231.6 99.5h.9v.9h-.9zM232.2 91.9h.9v.9h-.9zM224.6 103.5h.9v.9h-.9zM229.5 89.0h.9v.9h-.9zM228.5 92.5h.9v.9h-.9zM230.6 83.1h.9v.9h-.9zM235.6 82.2h.9v.9h-.9zM231.7 100.3h.9v.9h-.9zM234.6 84.8h.9v.9h-.9zM233.1 96.5h.9v.9h-.9zM238.5 111.6h.9v.9h-.9zM231.1 87.9h.9v.9h-.9zM225.2 98.6h.9v.9h-.9zM234.0 101.0h.9v.9h-.9zM229.2 93.0h.9v.9h-.9zM227.4 94.7h.9v.9h-.9zM225.8 94.1h.9v.9h-.9zM230.7 86.5h.9v.9h-.9zM232.0 91.6h.9v.9h-.9zM233.2 89.6h.9v.9h-.9zM231.4 98.9h.9v.9h-.9zM223.3 90.1h.9v.9h-.9zM231.3 72.9h.9v.9h-.9zM233.2 100.2h.9v.9h-.9zM233.7 84.7h.9v.9h-.9zM231.6 101.6h.9v.9h-.9zM230.3 88.2h.9v.9h-.9zM224.2 93.7h.9v.9h-.9zM236.1 86.1h.9v.9h-.9zM227.0 89.9h.9v.9h-.9zM229.5 92.7h.9v.9h-.9zM225.9 94.3h.9v.9h-.9zM239.2 99.6h.9v.9h-.9zM232.3 91.6h.9v.9h-.9zM232.5 86.4h.9v.9h-.9zM230.2 90.1h.9v.9h-.9zM221.8 93.0h.9v.9h-.9zM238.4 106.8h.9v.9h-.9zM235.0 103.7h.9v.9h-.9zM229.8 101.1h.9v.9h-.9zM227.6 100.2h.9v.9h-.9zM237.1 86.0h.9v.9h-.9zM231.2 85.1h.9v.9h-.9zM222.6 99.8h.9v.9h-.9zM230.4 100.4h.9v.9h-.9zM223.5 84.0h.9v.9h-.9zM230.1 88.1h.9v.9h-.9zM236.2 90.6h.9v.9h-.9zM231.5 90.1h.9v.9h-.9zM231.4 84.5h.9v.9h-.9zM225.9 83.5h.9v.9h-.9zM230.1 101.3h.9v.9h-.9zM234.2 96.1h.9v.9h-.9zM227.5 79.0h.9v.9h-.9zM225.3 100.5h.9v.9h-.9zM230.6 85.1h.9v.9h-.9zM225.0 94.4h.9v.9h-.9zM233.6 105.9h.9v.9h-.9zM226.0 102.5h.9v.9h-.9zM231.0 100.4h.9v.9h-.9zM238.2 97.8h.9v.9h-.9zM231.3 88.7h.9v.9h-.9zM228.5 104.7h.9v.9h-.9zM232.1 94.8h.9v.9h-.9zM223.5 80.4h.9v.9h-.9zM221.9 76.2h.9v.9h-.9zM230.5 95.5h.9v.9h-.9zM226.6 96.3h.9v.9h-.9zM236.7 88.7h.9v.9h-.9zM232.0 82.6h.9v.9h-.9zM230.6 96.3h.9v.9h-.9zM221.3 88.4h.9v.9h-.9zM229.1 81.6h.9v.9h-.9zM233.3 93.0h.9v.9h-.9zM223.5 85.3h.9v.9h-.9zM226.6 70.1h.9v.9h-.9zM227.8 101.4h.9v.9h-.9zM229.0 100.6h.9v.9h-.9zM227.5 92.3h.9v.9h-.9zM227.3 111.5h.9v.9h-.9zM231.7 100.6h.9v.9h-.9zM221.7 97.1h.9v.9h-.9zM230.4 93.1h.9v.9h-.9zM227.3 89.6h.9v.9h-.9zM231.7 103.1h.9v.9h-.9zM229.7 85.4h.9v.9h-.9zM230.6 91.1h.9v.9h-.9zM232.6 95.2h.9v.9h-.9zM227.7 91.8h.9v.9h-.9zM228.6 75.9h.9v.9h-.9zM231.7 91.2h.9v.9h-.9zM232.7 93.6h.9v.9h-.9zM229.2 96.7h.9v.9h-.9zM230.6 88.5h.9v.9h-.9zM234.8 85.2h.9v.9h-.9zM221.6 91.9h.9v.9h-.9zM235.6 89.5h.9v.9h-.9zM234.4 103.6h.9v.9h-.9zM224.1 92.5h.9v.9h-.9zM233.2 86.6h.9v.9h-.9zM231.9 99.6h.9v.9h-.9zM230.0 85.5h.9v.9h-.9zM235.5 95.2h.9v.9h-.9zM227.0 86.6h.9v.9h-.9zM225.4 88.2h.9v.9h-.9zM236.7 101.8h.9v.9h-.9zM229.6 88.2h.9v.9h-.9zM233.1 99.5h.9v.9h-.9zM235.2 96.1h.9v.9h-.9zM237.0 84.7h.9v.9h-.9zM233.0 95.3h.9v.9h-.9zM232.6 98.1h.9v.9h-.9zM239.5 86.3h.9v.9h-.9zM235.3 85.6h.9v.9h-.9zM225.4 99.0h.9v.9h-.9zM220.8 94.3h.9v.9h-.9zM228.0 85.8h.9v.9h-.9zM229.2 96.5h.9v.9h-.9zM222.9 86.5h.9v.9h-.9zM227.2 95.8h.9v.9h-.9zM231.2 92.7h.9v.9h-.9zM228.8 87.6h.9v.9h-.9zM231.7 100.8h.9v.9h-.9zM225.0 92.1h.9v.9h-.9zM224.1 87.8h.9v.9h-.9zM231.8 92.2h.9v.9h-.9zM226.7 87.2h.9v.9h-.9zM228.9 85.9h.9v.9h-.9zM229.0 104.8h.9v.9h-.9zM226.2 89.5h.9v.9h-.9zM225.3 92.8h.9v.9h-.9zM231.4 91.2h.9v.9h-.9zM226.7 83.2h.9v.9h-.9zM228.3 84.9h.9v.9h-.9zM236.5 96.4h.9v.9h-.9zM230.6 91.1h.9v.9h-.9zM229.8 78.3h.9v.9h-.9zM228.5 88.5h.9v.9h-.9zM235.0 94.7h.9v.9h-.9zM228.1 91.3h.9v.9h-.9zM229.4 91.2h.9v.9h-.9zM223.8 105.9h.9v.9h-.9zM236.0 104.3h.9v.9h-.9zM229.9 93.9h.9v.9h-.9zM226.0 92.5h.9v.9h-.9zM227.5 105.7h.9v.9h-.9zM228.9 93.4h.9v.9h-.9zM230.2 100.5h.9v.9h-.9zM232.1 92.0h.9v.9h-.9zM233.6 93.5h.9v.9h-.9zM234.2 93.5h.9v.9h-.9zM239.4 95.5h.9v.9h-.9zM229.6 88.6h.9v.9h-.9zM235.3 92.9h.9v.9h-.9zM235.2 88.0h.9v.9h-.9zM224.2 93.4h.9v.9h-.9zM231.8 105.5h.9v.9h-.9zM218.5 86.1h.9v.9h-.9zM232.9 83.8h.9v.9h-.9zM220.7 90.2h.9v.9h-.9zM230.7 94.2h.9v.9h-.9zM240.1 97.1h.9v.9h-.9zM229.7 87.9h.9v.9h-.9zM234.9 97.8h.9v.9h-.9zM217.7 88.7h.9v.9h-.9zM231.2 85.4h.9v.9h-.9zM229.6 89.5h.9v.9h-.9zM233.1 79.3h.9v.9h-.9zM226.6 98.2h.9v.9h-.9zM233.5 92.1h.9v.9h-.9zM234.7 84.4h.9v.9h-.9zM226.4 88.6h.9v.9h-.9zM229.0 88.2h.9v.9h-.9zM232.8 98.6h.9v.9h-.9zM227.7 94.5h.9v.9h-.9zM225.0 95.2h.9v.9h-.9zM227.4 89.9h.9v.9h-.9zM237.7 97.7h.9v.9h-.9zM228.8 96.7h.9v.9h-.9zM229.9 88.5h.9v.9h-.9zM234.7 84.2h.9v.9h-.9zM227.5 92.5h.9v.9h-.9zM235.4 100.0h.9v.9h-.9zM227.3 99.1h.9v.9h-.9zM229.1 90.2h.9v.9h-.9zM231.7 102.3h.9v.9h-.9zM232.3 96.3h.9v.9h-.9zM224.4 78.8h.9v.9h-.9zM229.2 81.2h.9v.9h-.9zM233.6 94.9h.9v.9h-.9zM229.8 77.5h.9v.9h-.9zM232.7 103.2h.9v.9h-.9zM230.2 92.8h.9v.9h-.9zM231.5 100.9h.9v.9h-.9zM240.9 83.2h.9v.9h-.9zM229.4 93.3h.9v.9h-.9zM235.0 107.8h.9v.9h-.9zM236.0 92.8h.9v.9h-.9zM226.6 104.4h.9v.9h-.9zM227.4 98.1h.9v.9h-.9zM231.5 85.0h.9v.9h-.9zM226.2 82.4h.9v.9h-.9zM238.9 79.4h.9v.9h-.9zM233.6 98.3h.9v.9h-.9zM232.4 101.3h.9v.9h-.9zM222.6 108.1h.9v.9h-.9zM230.3 83.3h.9v.9h-.9zM228.8 88.2h.9v.9h-.9zM230.9 95.4h.9v.9h-.9zM238.2 85.3h.9v.9h-.9zM237.1 102.4h.9v.9h-.9zM226.0 110.7h.9v.9h-.9zM235.5 97.7h.9v.9h-.9zM227.3 88.8h.9v.9h-.9zM231.9 83.6h.9v.9h-.9zM236.8 92.6h.9v.9h-.9zM231.5 95.1h.9v.9h-.9zM229.9 86.6h.9v.9h-.9zM231.8 99.1h.9v.9h-.9zM225.6 98.4h.9v.9h-.9zM242.9 81.3h.9v.9h-.9zM229.4 103.3h.9v.9h-.9zM223.1 83.2h.9v.9h-.9zM231.4 80.0h.9v.9h-.9zM228.8 110.6h.9v.9h-.9zM224.9 93.9h.9v.9h-.9zM231.8 94.0h.9v.9h-.9zM242.4 96.7h.9v.9h-.9zM225.9 94.8h.9v.9h-.9zM231.8 102.5h.9v.9h-.9zM231.2 108.3h.9v.9h-.9zM225.9 89.8h.9v.9h-.9zM232.3 89.3h.9v.9h-.9zM227.1 100.4h.9v.9h-.9zM228.1 96.1h.9v.9h-.9zM228.2 91.6h.9v.9h-.9zM242.0 102.6h.9v.9h-.9zM236.9 99.7h.9v.9h-.9zM228.2 96.4h.9v.9h-.9zM227.2 89.7h.9v.9h-.9zM234.2 95.6h.9v.9h-.9zM222.2 99.1h.9v.9h-.9zM228.6 90.0h.9v.9h-.9zM228.8 75.3h.9v.9h-.9zM225.5 97.3h.9v.9h-.9zM237.2 90.0h.9v.9h-.9zM230.0 86.7h.9v.9h-.9zM229.4 103.8h.9v.9h-.9zM224.4 93.3h.9v.9h-.9zM227.3 92.0h.9v.9h-.9zM232.6 89.7h.9v.9h-.9zM229.3 100.7h.9v.9h-.9zM232.5 92.4h.9v.9h-.9zM225.6 94.2h.9v.9h-.9zM241.7 91.7h.9v.9h-.9zM230.0 80.7h.9v.9h-.9zM225.9 102.7h.9v.9h-.9zM232.8 77.9h.9v.9h-.9zM223.0 90.1h.9v.9h-.9zM234.5 92.2h.9v.9h-.9zM223.9 101.1h.9v.9h-.9zM229.7 96.5h.9v.9h-.9zM228.0 97.5h.9v.9h-.9zM228.6 83.8h.9v.9h-.9zM229.1 97.6h.9v.9h-.9zM227.5 90.8h.9v.9h-.9zM230.0 85.9h.9v.9h-.9zM223.6 101.9h.9v.9h-.9zM237.2 92.6h.9v.9h-.9zM232.6 99.6h.9v.9h-.9zM230.7 92.2h.9v.9h-.9zM229.5 94.7h.9v.9h-.9zM228.7 97.4h.9v.9h-.9zM224.8 91.2h.9v.9h-.9z"/>
<path fill="#000" fill-opacity="0.2" d="M323.5 69.4h.9v.9h-.9zM326.7 69.6h.9v.9h-.9zM329.0 84.5h.9v.9h-.9zM317.8 69.4h.9v.9h-.9zM314.4 69.4h.9v.9h-.9zM323.6 78.1h.9v.9h-.9zM341.2 72.9h.9v.9h-.9zM322.1 67.2h.9v.9h-.9zM325.8 74.5h.9v.9h-.9zM320.6 69.6h.9v.9h-.9zM322.6 65.7h.9v.9h-.9zM315.2 63.1h.9v.9h-.9zM336.6 68.9h.9v.9h-.9zM327.0 59.9h.9v.9h-.9zM339.2 73.7h.9v.9h-.9zM304.5 63.0h.9v.9h-.9zM318.3 70.4h.9v.9h-.9zM345.5 64.8h.9v.9h-.9zM328.1 67.2h.9v.9h-.9zM313.0 65.2h.9v.9h-.9zM311.3 69.7h.9v.9h-.9zM315.3 72.9h.9v.9h-.9zM330.4 63.2h.9v.9h-.9zM313.2 68.4h.9v.9h-.9zM326.2 70.4h.9v.9h-.9zM326.5 71.0h.9v.9h-.9zM327.1 72.5h.9v.9h-.9zM328.4 64.9h.9v.9h-.9zM346.9 70.6h.9v.9h-.9zM311.1 69.9h.9v.9h-.9zM318.7 73.8h.9v.9h-.9zM305.0 70.9h.9v.9h-.9zM332.8 72.5h.9v.9h-.9zM320.8 74.2h.9v.9h-.9zM310.9 67.8h.9v.9h-.9zM314.7 72.6h.9v.9h-.9zM313.3 76.1h.9v.9h-.9zM316.2 63.5h.9v.9h-.9zM336.0 75.4h.9v.9h-.9zM319.2 57.4h.9v.9h-.9zM316.6 69.6h.9v.9h-.9zM341.3 73.3h.9v.9h-.9zM341.1 74.1h.9v.9h-.9zM317.4 72.5h.9v.9h-.9zM320.5 65.6h.9v.9h-.9zM330.1 77.1h.9v.9h-.9zM336.8 70.9h.9v.9h-.9zM345.0 78.8h.9v.9h-.9zM323.1 74.9h.9v.9h-.9zM337.1 81.8h.9v.9h-.9zM327.1 75.8h.9v.9h-.9zM320.4 64.8h.9v.9h-.9zM339.2 67.5h.9v.9h-.9zM327.4 74.7h.9v.9h-.9zM322.2 71.8h.9v.9h-.9zM326.5 68.1h.9v.9h-.9zM317.2 75.3h.9v.9h-.9zM339.5 69.6h.9v.9h-.9zM325.0 65.7h.9v.9h-.9zM337.2 77.1h.9v.9h-.9zM326.9 61.8h.9v.9h-.9zM310.3 71.1h.9v.9h-.9zM309.0 69.5h.9v.9h-.9zM313.7 75.3h.9v.9h-.9zM327.6 78.1h.9v.9h-.9zM320.5 76.0h.9v.9h-.9zM318.9 72.0h.9v.9h-.9zM314.1 66.9h.9v.9h-.9zM335.0 79.4h.9v.9h-.9zM316.6 71.8h.9v.9h-.9zM324.3 59.0h.9v.9h-.9zM316.8 69.0h.9v.9h-.9zM339.6 73.1h.9v.9h-.9zM345.6 74.2h.9v.9h-.9zM333.5 69.9h.9v.9h-.9zM326.6 74.6h.9v.9h-.9zM296.5 80.5h.9v.9h-.9zM334.7 70.6h.9v.9h-.9zM306.8 67.0h.9v.9h-.9zM337.4 66.9h.9v.9h-.9zM311.3 59.7h.9v.9h-.9zM318.9 70.4h.9v.9h-.9zM314.8 67.5h.9v.9h-.9zM328.8 66.6h.9v.9h-.9zM306.0 62.6h.9v.9h-.9zM312.1 66.1h.9v.9h-.9zM319.5 78.3h.9v.9h-.9zM324.1 72.1h.9v.9h-.9zM318.9 61.4h.9v.9h-.9zM329.0 77.2h.9v.9h-.9zM328.3 71.1h.9v.9h-.9zM334.8 67.5h.9v.9h-.9zM294.7 82.2h.9v.9h-.9zM333.6 70.6h.9v.9h-.9zM312.1 61.4h.9v.9h-.9zM332.8 67.9h.9v.9h-.9zM334.6 70.7h.9v.9h-.9zM340.6 69.5h.9v.9h-.9zM334.2 67.8h.9v.9h-.9zM327.9 75.5h.9v.9h-.9zM329.3 70.8h.9v.9h-.9zM336.3 75.8h.9v.9h-.9zM328.8 71.3h.9v.9h-.9zM317.7 65.3h.9v.9h-.9zM312.7 65.8h.9v.9h-.9zM330.2 73.9h.9v.9h-.9zM313.4 74.6h.9v.9h-.9zM313.6 71.9h.9v.9h-.9zM343.2 75.0h.9v.9h-.9zM332.3 73.5h.9v.9h-.9zM318.0 67.8h.9v.9h-.9zM329.4 69.9h.9v.9h-.9zM335.3 75.8h.9v.9h-.9zM324.9 65.4h.9v.9h-.9zM328.1 77.6h.9v.9h-.9zM313.3 73.0h.9v.9h-.9zM326.6 65.5h.9v.9h-.9zM326.2 70.7h.9v.9h-.9zM330.0 68.6h.9v.9h-.9zM317.6 77.4h.9v.9h-.9zM311.1 67.6h.9v.9h-.9zM326.1 71.5h.9v.9h-.9zM336.2 68.3h.9v.9h-.9zM324.1 71.4h.9v.9h-.9zM323.7 72.9h.9v.9h-.9zM347.7 74.9h.9v.9h-.9zM317.2 68.1h.9v.9h-.9zM328.2 74.2h.9v.9h-.9zM323.0 65.3h.9v.9h-.9zM319.2 69.3h.9v.9h-.9zM319.2 74.6h.9v.9h-.9zM330.2 77.5h.9v.9h-.9zM313.4 75.2h.9v.9h-.9zM320.8 74.4h.9v.9h-.9zM313.0 70.9h.9v.9h-.9zM313.3 66.3h.9v.9h-.9zM318.6 67.1h.9v.9h-.9zM318.8 59.2h.9v.9h-.9zM337.4 75.4h.9v.9h-.9zM329.6 69.1h.9v.9h-.9zM302.7 69.8h.9v.9h-.9zM313.2 68.7h.9v.9h-.9zM296.5 73.6h.9v.9h-.9zM306.6 71.3h.9v.9h-.9zM308.9 65.4h.9v.9h-.9zM313.7 70.5h.9v.9h-.9zM318.5 64.7h.9v.9h-.9zM337.0 64.3h.9v.9h-.9zM330.7 80.2h.9v.9h-.9zM327.0 75.6h.9v.9h-.9zM313.0 68.9h.9v.9h-.9zM318.0 66.0h.9v.9h-.9zM316.6 73.4h.9v.9h-.9zM327.4 73.6h.9v.9h-.9zM322.6 70.5h.9v.9h-.9zM332.1 69.3h.9v.9h-.9zM346.6 76.1h.9v.9h-.9zM323.1 78.1h.9v.9h-.9zM328.7 60.5h.9v.9h-.9zM335.4 81.3h.9v.9h-.9zM309.9 75.7h.9v.9h-.9zM307.6 67.3h.9v.9h-.9zM325.0 64.2h.9v.9h-.9zM348.2 81.8h.9v.9h-.9zM324.2 69.5h.9v.9h-.9zM342.5 79.9h.9v.9h-.9zM339.8 75.7h.9v.9h-.9zM331.8 81.6h.9v.9h-.9zM331.8 75.6h.9v.9h-.9zM349.5 84.9h.9v.9h-.9zM346.2 72.8h.9v.9h-.9zM332.9 75.7h.9v.9h-.9zM344.0 76.1h.9v.9h-.9zM357.7 75.8h.9v.9h-.9zM352.9 74.9h.9v.9h-.9zM337.9 73.6h.9v.9h-.9zM319.6 78.1h.9v.9h-.9zM341.5 75.0h.9v.9h-.9zM352.6 77.3h.9v.9h-.9zM344.0 74.7h.9v.9h-.9zM326.5 78.4h.9v.9h-.9zM361.7 77.7h.9v.9h-.9zM347.2 66.4h.9v.9h-.9zM334.6 73.4h.9v.9h-.9zM342.2 82.8h.9v.9h-.9zM338.5 72.8h.9v.9h-.9zM334.4 75.3h.9v.9h-.9zM349.4 76.5h.9v.9h-.9zM339.8 81.7h.9v.9h-.9zM339.5 78.2h.9v.9h-.9zM345.4 78.7h.9v.9h-.9zM354.3 74.6h.9v.9h-.9zM351.5 75.6h.9v.9h-.9zM344.9 75.0h.9v.9h-.9zM343.9 79.8h.9v.9h-.9zM349.9 74.4h.9v.9h-.9zM339.6 68.8h.9v.9h-.9zM332.2 73.8h.9v.9h-.9zM338.7 81.3h.9v.9h-.9zM339.4 77.9h.9v.9h-.9zM344.1 74.5h.9v.9h-.9zM357.1 77.0h.9v.9h-.9zM350.6 83.5h.9v.9h-.9zM340.3 79.5h.9v.9h-.9zM346.2 81.3h.9v.9h-.9zM354.2 73.1h.9v.9h-.9zM343.6 78.4h.9v.9h-.9zM343.7 79.5h.9v.9h-.9zM334.0 75.3h.9v.9h-.9zM358.2 96.6h.9v.9h-.9zM350.6 96.4h.9v.9h-.9zM344.1 92.5h.9v.9h-.9zM345.9 97.0h.9v.9h-.9zM351.6 102.1h.9v.9h-.9zM349.2 101.7h.9v.9h-.9zM347.7 94.2h.9v.9h-.9zM345.6 101.4h.9v.9h-.9zM345.5 97.3h.9v.9h-.9zM353.3 102.1h.9v.9h-.9zM354.6 108.1h.9v.9h-.9zM350.7 91.0h.9v.9h-.9zM360.5 101.5h.9v.9h-.9zM351.4 100.5h.9v.9h-.9zM352.7 94.2h.9v.9h-.9zM347.7 91.4h.9v.9h-.9zM350.3 85.2h.9v.9h-.9zM348.1 95.5h.9v.9h-.9zM348.7 92.7h.9v.9h-.9zM347.5 105.8h.9v.9h-.9zM348.0 102.3h.9v.9h-.9zM346.8 91.5h.9v.9h-.9zM338.3 87.9h.9v.9h-.9zM349.6 102.5h.9v.9h-.9zM344.9 92.5h.9v.9h-.9zM358.7 99.1h.9v.9h-.9zM341.8 85.7h.9v.9h-.9zM347.0 97.6h.9v.9h-.9zM332.2 86.6h.9v.9h-.9zM351.4 98.3h.9v.9h-.9zM350.2 93.6h.9v.9h-.9zM357.6 105.0h.9v.9h-.9zM355.5 109.2h.9v.9h-.9zM346.5 87.0h.9v.9h-.9zM348.6 106.5h.9v.9h-.9zM352.8 105.4h.9v.9h-.9zM343.6 92.6h.9v.9h-.9zM343.1 103.2h.9v.9h-.9zM354.7 103.0h.9v.9h-.9zM343.5 96.9h.9v.9h-.9zM342.5 95.2h.9v.9h-.9zM345.2 98.9h.9v.9h-.9zM345.4 103.2h.9v.9h-.9zM348.8 99.1h.9v.9h-.9zM358.6 96.7h.9v.9h-.9zM344.3 97.8h.9v.9h-.9zM345.3 94.3h.9v.9h-.9zM335.3 105.0h.9v.9h-.9zM346.1 88.7h.9v.9h-.9zM346.3 99.5h.9v.9h-.9zM349.3 87.0h.9v.9h-.9zM342.7 98.5h.9v.9h-.9zM350.7 90.6h.9v.9h-.9zM339.0 100.5h.9v.9h-.9zM349.2 99.7h.9v.9h-.9zM345.8 104.9h.9v.9h-.9zM340.9 102.8h.9v.9h-.9zM344.2 84.9h.9v.9h-.9zM349.1 95.0h.9v.9h-.9zM346.3 99.0h.9v.9h-.9zM352.7 91.4h.9v.9h-.9zM348.3 96.6h.9v.9h-.9zM358.8 100.3h.9v.9h-.9zM339.5 105.1h.9v.9h-.9zM353.4 95.8h.9v.9h-.9zM336.1 93.6h.9v.9h-.9zM348.7 111.5h.9v.9h-.9zM349.1 107.2h.9v.9h-.9zM346.2 103.2h.9v.9h-.9zM348.8 93.0h.9v.9h-.9zM350.9 104.2h.9v.9h-.9zM350.4 103.4h.9v.9h-.9zM343.7 89.3h.9v.9h-.9zM347.9 109.0h.9v.9h-.9zM351.6 100.2h.9v.9h-.9zM348.5 88.6h.9v.9h-.9zM348.9 114.6h.9v.9h-.9zM347.4 100.6h.9v.9h-.9zM360.2 108.5h.9v.9h-.9zM349.7 89.1h.9v.9h-.9zM343.0 93.5h.9v.9h-.9zM344.0 93.3h.9v.9h-.9zM350.4 109.9h.9v.9h-.9zM335.5 113.1h.9v.9h-.9zM351.2 108.7h.9v.9h-.9zM349.4 99.4h.9v.9h-.9zM340.7 107.7h.9v.9h-.9zM343.8 91.7h.9v.9h-.9zM338.2 101.3h.9v.9h-.9zM344.5 106.3h.9v.9h-.9zM337.1 99.3h.9v.9h-.9zM356.1 99.8h.9v.9h-.9zM333.9 92.8h.9v.9h-.9zM337.9 106.3h.9v.9h-.9zM349.9 94.4h.9v.9h-.9zM351.3 106.9h.9v.9h-.9zM350.7 106.5h.9v.9h-.9zM349.8 92.9h.9v.9h-.9zM348.6 84.6h.9v.9h-.9zM345.3 96.6h.9v.9h-.9zM346.2 102.9h.9v.9h-.9zM349.4 104.9h.9v.9h-.9zM360.2 102.7h.9v.9h-.9zM352.3 106.2h.9v.9h-.9zM346.0 88.6h.9v.9h-.9zM338.8 89.4h.9v.9h-.9zM344.3 92.5h.9v.9h-.9zM356.4 88.6h.9v.9h-.9zM341.8 92.7h.9v.9h-.9zM345.0 109.8h.9v.9h-.9zM346.6 102.9h.9v.9h-.9zM345.5 98.8h.9v.9h-.9zM342.3 89.6h.9v.9h-.9zM347.7 99.1h.9v.9h-.9zM348.3 103.3h.9v.9h-.9zM341.1 91.1h.9v.9h-.9zM353.6 94.8h.9v.9h-.9zM339.5 96.8h.9v.9h-.9zM342.8 94.0h.9v.9h-.9zM358.9 93.4h.9v.9h-.9zM348.8 99.5h.9v.9h-.9zM352.2 109.3h.9v.9h-.9zM350.3 87.4h.9v.9h-.9zM348.7 95.9h.9v.9h-.9zM346.5 93.7h.9v.9h-.9zM346.7 98.1h.9v.9h-.9zM345.2 96.5h.9v.9h-.9zM342.1 91.7h.9v.9h-.9zM349.1 94.0h.9v.9h-.9zM351.3 104.3h.9v.9h-.9zM363.3 91.3h.9v.9h-.9zM356.4 98.6h.9v.9h-.9zM347.2 98.3h.9v.9h-.9zM356.8 89.9h.9v.9h-.9zM350.7 97.6h.9v.9h-.9zM341.9 93.4h.9v.9h-.9zM343.8 100.5h.9v.9h-.9zM350.8 102.4h.9v.9h-.9zM345.2 88.5h.9v.9h-.9zM345.1 96.1h.9v.9h-.9zM354.4 102.0h.9v.9h-.9zM348.5 94.8h.9v.9h-.9zM358.4 93.8h.9v.9h-.9zM346.3 97.6h.9v.9h-.9zM349.6 76.9h.9v.9h-.9zM352.3 101.6h.9v.9h-.9zM346.8 97.6h.9v.9h-.9zM338.4 88.3h.9v.9h-.9zM336.6 104.6h.9v.9h-.9zM352.1 93.4h.9v.9h-.9zM339.7 100.7h.9v.9h-.9zM344.4 92.2h.9v.9h-.9zM352.8 76.0h.9v.9h-.9zM357.7 99.0h.9v.9h-.9zM344.6 98.5h.9v.9h-.9zM354.6 106.4h.9v.9h-.9zM344.9 102.6h.9v.9h-.9zM354.4 92.6h.9v.9h-.9zM349.1 94.1h.9v.9h-.9zM351.0 89.1h.9v.9h-.9zM346.1 97.9h.9v.9h-.9zM345.3 91.9h.9v.9h-.9zM342.0 106.2h.9v.9h-.9zM354.5 102.3h.9v.9h-.9zM359.4 89.0h.9v.9h-.9zM350.2 100.9h.9v.9h-.9zM354.6 88.8h.9v.9h-.9zM353.2 101.2h.9v.9h-.9zM339.5 94.0h.9v.9h-.9zM348.7 105.7h.9v.9h-.9zM339.5 118.0h.9v.9h-.9zM356.2 100.4h.9v.9h-.9zM341.2 94.1h.9v.9h-.9zM348.7 87.7h.9v.9h-.9zM351.1 106.7h.9v.9h-.9zM342.2 94.1h.9v.9h-.9zM351.7 98.6h.9v.9h-.9zM344.0 95.1h.9v.9h-.9zM353.9 101.7h.9v.9h-.9zM336.1 90.8h.9v.9h-.9zM342.5 96.0h.9v.9h-.9zM348.0 92.8h.9v.9h-.9zM347.7 100.6h.9v.9h-.9zM351.9 94.3h.9v.9h-.9zM345.2 91.7h.9v.9h-.9zM338.4 103.7h.9v.9h-.9zM355.6 99.9h.9v.9h-.9zM349.9 107.1h.9v.9h-.9zM341.6 96.1h.9v.9h-.9zM354.4 100.1h.9v.9h-.9zM352.5 100.7h.9v.9h-.9zM346.9 97.6h.9v.9h-.9zM343.0 98.3h.9v.9h-.9zM356.0 89.8h.9v.9h-.9zM348.6 97.0h.9v.9h-.9zM343.3 103.6h.9v.9h-.9zM339.6 99.9h.9v.9h-.9zM351.4 91.4h.9v.9h-.9zM350.1 94.7h.9v.9h-.9zM353.1 102.0h.9v.9h-.9zM340.6 93.8h.9v.9h-.9zM353.3 91.1h.9v.9h-.9zM350.2 91.6h.9v.9h-.9zM346.4 103.4h.9v.9h-.9zM351.4 96.8h.9v.9h-.9zM346.4 97.5h.9v.9h-.9zM345.2 100.5h.9v.9h-.9zM346.2 103.6h.9v.9h-.9zM346.3 101.7h.9v.9h-.9zM349.7 99.1h.9v.9h-.9zM351.5 94.7h.9v.9h-.9zM346.0 101.6h.9v.9h-.9zM351.4 103.5h.9v.9h-.9zM345.6 92.5h.9v.9h-.9zM346.5 98.0h.9v.9h-.9zM356.5 87.2h.9v.9h-.9zM346.2 83.1h.9v.9h-.9zM347.3 89.6h.9v.9h-.9zM350.7 107.1h.9v.9h-.9zM352.1 88.7h.9v.9h-.9zM346.9 105.4h.9v.9h-.9zM346.6 90.1h.9v.9h-.9zM351.9 91.3h.9v.9h-.9zM344.1 90.2h.9v.9h-.9zM350.1 100.8h.9v.9h-.9zM355.1 95.7h.9v.9h-.9zM356.5 102.3h.9v.9h-.9zM337.8 90.5h.9v.9h-.9zM343.4 102.6h.9v.9h-.9zM347.5 92.3h.9v.9h-.9zM355.1 98.0h.9v.9h-.9zM345.6 96.1h.9v.9h-.9zM344.9 102.2h.9v.9h-.9zM348.6 104.5h.9v.9h-.9zM350.9 92.9h.9v.9h-.9zM347.3 99.9h.9v.9h-.9zM346.6 92.4h.9v.9h-.9zM350.6 103.9h.9v.9h-.9zM347.1 86.1h.9v.9h-.9zM347.6 90.8h.9v.9h-.9zM348.4 103.5h.9v.9h-.9zM353.7 83.3h.9v.9h-.9zM348.1 103.8h.9v.9h-.9zM353.7 88.5h.9v.9h-.9zM351.5 102.1h.9v.9h-.9zM344.5 84.6h.9v.9h-.9zM351.3 99.2h.9v.9h-.9zM348.5 88.9h.9v.9h-.9zM349.5 93.6h.9v.9h-.9zM343.8 93.8h.9v.9h-.9zM344.5 88.7h.9v.9h-.9zM347.8 77.9h.9v.9h-.9zM342.2 109.2h.9v.9h-.9zM353.3 96.1h.9v.9h-.9zM342.8 81.2h.9v.9h-.9zM347.6 89.8h.9v.9h-.9zM351.3 93.5h.9v.9h-.9zM345.0 109.7h.9v.9h-.9zM343.0 93.0h.9v.9h-.9zM354.6 103.8h.9v.9h-.9zM341.1 109.1h.9v.9h-.9zM346.4 101.3h.9v.9h-.9zM343.2 93.9h.9v.9h-.9zM354.4 92.3h.9v.9h-.9zM352.1 95.6h.9v.9h-.9zM354.5 83.9h.9v.9h-.9zM333.3 86.4h.9v.9h-.9zM339.2 96.3h.9v.9h-.9zM341.9 99.1h.9v.9h-.9zM335.9 86.5h.9v.9h-.9zM346.3 91.8h.9v.9h-.9zM350.0 86.9h.9v.9h-.9zM347.7 103.4h.9v.9h-.9zM356.0 97.9h.9v.9h-.9zM344.2 89.3h.9v.9h-.9zM344.2 96.6h.9v.9h-.9zM348.1 89.8h.9v.9h-.9zM347.5 92.6h.9v.9h-.9zM346.2 89.2h.9v.9h-.9zM344.7 94.2h.9v.9h-.9zM347.2 107.3h.9v.9h-.9zM355.0 86.2h.9v.9h-.9zM344.6 113.0h.9v.9h-.9zM345.5 107.9h.9v.9h-.9zM345.4 97.3h.9v.9h-.9zM350.2 96.7h.9v.9h-.9zM352.5 97.0h.9v.9h-.9zM323.2 95.6h.9v.9h-.9zM316.0 102.8h.9v.9h-.9zM319.1 101.1h.9v.9h-.9zM318.8 93.6h.9v.9h-.9zM321.5 103.7h.9v.9h-.9zM318.1 106.1h.9v.9h-.9zM309.7 106.0h.9v.9h-.9zM317.4 99.0h.9v.9h-.9zM314.2 100.8h.9v.9h-.9zM322.8 98.7h.9v.9h-.9zM326.6 98.0h.9v.9h-.9zM317.7 97.5h.9v.9h-.9zM320.8 105.0h.9v.9h-.9zM324.4 94.9h.9v.9h-.9zM323.6 109.6h.9v.9h-.9zM323.3 96.2h.9v.9h-.9zM319.5 100.4h.9v.9h-.9zM312.2 117.6h.9v.9h-.9zM322.0 100.2h.9v.9h-.9zM324.9 99.1h.9v.9h-.9zM321.9 102.2h.9v.9h-.9zM321.0 98.3h.9v.9h-.9zM320.1 96.4h.9v.9h-.9zM323.2 100.9h.9v.9h-.9zM317.8 121.3h.9v.9h-.9zM312.6 103.2h.9v.9h-.9zM320.1 108.9h.9v.9h-.9zM309.1 109.1h.9v.9h-.9zM315.5 93.7h.9v.9h-.9zM316.0 94.7h.9v.9h-.9zM317.0 87.3h.9v.9h-.9zM325.4 102.3h.9v.9h-.9zM324.8 83.8h.9v.9h-.9zM315.7 90.4h.9v.9h-.9zM317.1 101.7h.9v.9h-.9zM324.9 103.7h.9v.9h-.9zM329.6 91.6h.9v.9h-.9zM320.9 96.0h.9v.9h-.9zM320.1 100.4h.9v.9h-.9zM317.7 111.1h.9v.9h-.9zM318.1 87.9h.9v.9h-.9zM321.5 100.3h.9v.9h-.9zM322.8 94.4h.9v.9h-.9zM318.1 109.4h.9v.9h-.9zM325.1 96.0h.9v.9h-.9zM316.5 97.0h.9v.9h-.9zM319.1 105.8h.9v.9h-.9zM327.6 97.5h.9v.9h-.9zM316.7 90.7h.9v.9h-.9zM319.0 93.9h.9v.9h-.9zM325.8 87.1h.9v.9h-.9zM323.6 99.2h.9v.9h-.9zM320.4 97.7h.9v.9h-.9zM318.8 101.1h.9v.9h-.9zM319.2 95.8h.9v.9h-.9zM314.8 106.5h.9v.9h-.9zM321.0 101.8h.9v.9h-.9zM316.4 98.9h.9v.9h-.9zM320.2 90.1h.9v.9h-.9zM322.0 104.4h.9v.9h-.9zM319.1 105.2h.9v.9h-.9zM322.4 100.8h.9v.9h-.9zM319.1 91.6h.9v.9h-.9zM321.4 95.4h.9v.9h-.9zM317.1 102.8h.9v.9h-.9zM322.1 102.0h.9v.9h-.9zM322.6 93.0h.9v.9h-.9zM323.7 95.4h.9v.9h-.9zM321.8 97.8h.9v.9h-.9zM323.1 94.7h.9v.9h-.9zM325.4 87.3h.9v.9h-.9zM320.1 90.8h.9v.9h-.9zM319.9 93.9h.9v.9h-.9zM321.8 87.7h.9v.9h-.9zM320.7 114.9h.9v.9h-.9zM344.4 40.6h.9v.9h-.9zM330.4 112.3h.9v.9h-.9zM336.5 107.1h.9v.9h-.9z"/>
<path fill="#000" fill-opacity="0.3" d="M324.5 79.8h.9v.9h-.9zM331.4 71.2h.9v.9h-.9zM308.1 62.6h.9v.9h-.9zM324.0 80.8h.9v.9h-.9zM325.6 76.3h.9v.9h-.9zM319.9 70.1h.9v.9h-.9zM347.1 62.8h.9v.9h-.9zM321.4 75.2h.9v.9h-.9zM330.6 73.9h.9v.9h-.9zM326.9 65.7h.9v.9h-.9zM323.1 72.7h.9v.9h-.9zM338.4 77.2h.9v.9h-.9zM336.4 68.7h.9v.9h-.9zM311.6 74.3h.9v.9h-.9zM307.1 67.8h.9v.9h-.9zM321.2 67.1h.9v.9h-.9zM322.6 75.5h.9v.9h-.9zM346.4 71.9h.9v.9h-.9zM323.3 76.8h.9v.9h-.9zM314.2 61.8h.9v.9h-.9zM324.9 72.5h.9v.9h-.9zM324.7 70.8h.9v.9h-.9zM334.6 77.3h.9v.9h-.9zM338.0 71.2h.9v.9h-.9zM329.4 69.0h.9v.9h-.9zM316.6 64.0h.9v.9h-.9zM333.5 79.9h.9v.9h-.9zM306.9 72.0h.9v.9h-.9zM320.0 70.7h.9v.9h-.9zM341.3 73.6h.9v.9h-.9zM324.9 76.8h.9v.9h-.9zM340.1 71.1h.9v.9h-.9zM306.3 73.7h.9v.9h-.9zM337.5 67.9h.9v.9h-.9zM318.3 71.5h.9v.9h-.9zM330.2 80.9h.9v.9h-.9zM328.6 75.9h.9v.9h-.9zM338.8 74.8h.9v.9h-.9zM312.7 64.4h.9v.9h-.9zM319.3 68.3h.9v.9h-.9zM336.2 81.6h.9v.9h-.9zM323.9 69.2h.9v.9h-.9zM297.9 72.0h.9v.9h-.9zM318.3 75.2h.9v.9h-.9zM327.3 68.2h.9v.9h-.9zM324.0 66.4h.9v.9h-.9zM328.2 60.8h.9v.9h-.9zM344.1 69.8h.9v.9h-.9zM326.0 72.0h.9v.9h-.9zM340.6 66.5h.9v.9h-.9zM307.6 73.9h.9v.9h-.9zM317.4 64.8h.9v.9h-.9zM332.0 75.9h.9v.9h-.9zM337.5 81.4h.9v.9h-.9zM315.2 68.2h.9v.9h-.9zM322.8 67.7h.9v.9h-.9zM313.7 71.2h.9v.9h-.9zM332.6 78.4h.9v.9h-.9zM311.1 68.8h.9v.9h-.9zM324.2 79.1h.9v.9h-.9zM331.4 77.9h.9v.9h-.9zM329.1 68.2h.9v.9h-.9zM322.9 79.8h.9v.9h-.9zM326.3 72.7h.9v.9h-.9zM315.8 69.2h.9v.9h-.9zM330.2 64.9h.9v.9h-.9zM314.5 61.9h.9v.9h-.9zM325.2 78.9h.9v.9h-.9zM309.6 63.4h.9v.9h-.9zM318.7 64.8h.9v.9h-.9zM331.1 71.5h.9v.9h-.9zM333.4 65.3h.9v.9h-.9zM339.1 71.9h.9v.9h-.9zM315.8 73.8h.9v.9h-.9zM305.8 65.9h.9v.9h-.9zM306.2 74.9h.9v.9h-.9zM307.9 76.3h.9v.9h-.9zM316.2 67.1h.9v.9h-.9zM335.7 67.9h.9v.9h-.9zM321.6 67.4h.9v.9h-.9zM319.4 71.4h.9v.9h-.9zM336.7 67.8h.9v.9h-.9zM339.5 70.6h.9v.9h-.9zM327.2 70.5h.9v.9h-.9zM335.7 64.2h.9v.9h-.9zM325.0 75.2h.9v.9h-.9zM317.2 77.7h.9v.9h-.9zM328.9 77.6h.9v.9h-.9zM329.2 67.6h.9v.9h-.9zM326.2 78.5h.9v.9h-.9zM316.7 63.5h.9v.9h-.9zM318.8 72.8h.9v.9h-.9zM327.6 73.7h.9v.9h-.9zM341.3 74.0h.9v.9h-.9zM318.2 77.6h.9v.9h-.9zM334.2 71.2h.9v.9h-.9zM320.0 66.3h.9v.9h-.9zM324.3 73.3h.9v.9h-.9zM309.3 77.5h.9v.9h-.9zM322.2 79.4h.9v.9h-.9zM325.2 79.2h.9v.9h-.9zM345.1 64.4h.9v.9h-.9zM327.5 69.5h.9v.9h-.9zM320.5 61.1h.9v.9h-.9zM334.7 64.2h.9v.9h-.9zM313.2 76.1h.9v.9h-.9zM333.0 72.1h.9v.9h-.9zM323.5 53.4h.9v.9h-.9zM334.6 73.5h.9v.9h-.9zM337.4 69.6h.9v.9h-.9zM305.1 72.2h.9v.9h-.9zM327.6 75.2h.9v.9h-.9zM362.1 72.0h.9v.9h-.9zM314.5 69.8h.9v.9h-.9zM322.7 73.5h.9v.9h-.9zM322.1 75.1h.9v.9h-.9zM321.6 78.9h.9v.9h-.9zM319.5 77.0h.9v.9h-.9zM326.2 72.9h.9v.9h-.9zM340.2 81.5h.9v.9h-.9zM334.7 83.5h.9v.9h-.9zM317.6 73.0h.9v.9h-.9zM320.5 65.4h.9v.9h-.9zM322.7 69.7h.9v.9h-.9zM315.3 70.5h.9v.9h-.9zM309.9 71.5h.9v.9h-.9zM337.6 77.0h.9v.9h-.9zM329.6 71.5h.9v.9h-.9zM325.6 71.9h.9v.9h-.9zM336.6 65.6h.9v.9h-.9zM300.4 64.6h.9v.9h-.9zM333.4 64.5h.9v.9h-.9zM323.4 56.1h.9v.9h-.9zM306.4 66.2h.9v.9h-.9zM318.6 71.8h.9v.9h-.9zM330.3 69.1h.9v.9h-.9zM338.1 79.0h.9v.9h-.9zM310.4 71.8h.9v.9h-.9zM325.3 65.4h.9v.9h-.9zM326.3 68.7h.9v.9h-.9zM329.9 75.4h.9v.9h-.9zM321.5 60.9h.9v.9h-.9zM333.6 77.1h.9v.9h-.9zM312.8 69.4h.9v.9h-.9zM330.1 58.5h.9v.9h-.9zM333.5 75.5h.9v.9h-.9zM333.9 79.7h.9v.9h-.9zM349.9 60.6h.9v.9h-.9zM328.3 72.1h.9v.9h-.9zM316.9 71.6h.9v.9h-.9zM329.4 64.5h.9v.9h-.9zM310.6 63.5h.9v.9h-.9zM318.1 67.1h.9v.9h-.9zM348.6 78.1h.9v.9h-.9zM324.8 63.6h.9v.9h-.9zM299.8 75.0h.9v.9h-.9zM316.8 79.3h.9v.9h-.9zM325.0 70.3h.9v.9h-.9zM324.1 73.2h.9v.9h-.9zM339.6 68.9h.9v.9h-.9zM316.4 60.0h.9v.9h-.9zM337.3 73.7h.9v.9h-.9zM327.8 73.4h.9v.9h-.9zM342.4 70.1h.9v.9h-.9zM320.9 67.9h.9v.9h-.9zM318.8 80.3h.9v.9h-.9zM343.8 80.2h.9v.9h-.9zM306.1 71.0h.9v.9h-.9zM351.1 75.0h.9v.9h-.9zM321.7 68.3h.9v.9h-.9zM313.2 69.6h.9v.9h-.9zM332.5 71.8h.9v.9h-.9zM337.1 65.3h.9v.9h-.9zM321.1 53.8h.9v.9h-.9zM301.8 63.7h.9v.9h-.9zM314.3 71.6h.9v.9h-.9zM330.4 69.8h.9v.9h-.9zM317.5 67.3h.9v.9h-.9zM334.1 76.6h.9v.9h-.9zM342.0 68.9h.9v.9h-.9zM322.3 80.1h.9v.9h-.9zM316.6 76.8h.9v.9h-.9zM332.7 74.6h.9v.9h-.9zM345.1 76.1h.9v.9h-.9zM355.5 77.6h.9v.9h-.9zM336.6 74.6h.9v.9h-.9zM357.8 74.3h.9v.9h-.9zM351.8 75.0h.9v.9h-.9zM352.4 65.5h.9v.9h-.9zM350.6 73.9h.9v.9h-.9zM357.6 72.4h.9v.9h-.9zM353.1 75.2h.9v.9h-.9zM350.5 73.3h.9v.9h-.9zM354.0 69.4h.9v.9h-.9zM341.0 76.6h.9v.9h-.9zM342.2 76.2h.9v.9h-.9zM352.8 76.7h.9v.9h-.9zM340.2 70.7h.9v.9h-.9zM339.7 79.0h.9v.9h-.9zM339.5 81.2h.9v.9h-.9zM348.0 77.0h.9v.9h-.9zM351.4 73.5h.9v.9h-.9zM340.9 77.6h.9v.9h-.9zM335.8 78.1h.9v.9h-.9zM348.7 72.4h.9v.9h-.9zM335.4 81.1h.9v.9h-.9zM340.8 78.1h.9v.9h-.9zM341.0 79.0h.9v.9h-.9zM330.7 80.0h.9v.9h-.9zM331.1 73.6h.9v.9h-.9zM343.7 76.5h.9v.9h-.9zM345.0 74.7h.9v.9h-.9zM345.8 75.4h.9v.9h-.9zM348.1 77.4h.9v.9h-.9zM332.5 84.1h.9v.9h-.9zM341.1 67.8h.9v.9h-.9zM353.3 80.0h.9v.9h-.9zM354.1 71.7h.9v.9h-.9zM341.8 77.7h.9v.9h-.9zM327.7 80.7h.9v.9h-.9zM340.6 78.0h.9v.9h-.9zM347.4 86.8h.9v.9h-.9zM353.9 104.0h.9v.9h-.9zM349.3 101.8h.9v.9h-.9zM342.3 95.1h.9v.9h-.9zM360.4 96.0h.9v.9h-.9zM359.2 105.3h.9v.9h-.9zM343.2 97.8h.9v.9h-.9zM349.1 101.3h.9v.9h-.9zM347.6 90.3h.9v.9h-.9zM352.0 91.3h.9v.9h-.9zM350.3 97.2h.9v.9h-.9zM346.9 83.1h.9v.9h-.9zM343.9 87.7h.9v.9h-.9zM341.5 92.7h.9v.9h-.9zM343.6 90.5h.9v.9h-.9zM352.4 103.9h.9v.9h-.9zM343.3 101.9h.9v.9h-.9zM343.2 96.8h.9v.9h-.9zM353.0 96.1h.9v.9h-.9zM341.8 85.6h.9v.9h-.9zM345.4 96.8h.9v.9h-.9zM339.4 101.4h.9v.9h-.9zM352.8 90.6h.9v.9h-.9zM353.0 91.2h.9v.9h-.9zM341.2 84.2h.9v.9h-.9zM340.7 91.1h.9v.9h-.9zM354.9 104.1h.9v.9h-.9zM346.7 98.2h.9v.9h-.9zM344.0 99.6h.9v.9h-.9zM347.2 104.0h.9v.9h-.9zM352.4 98.5h.9v.9h-.9zM341.3 97.7h.9v.9h-.9zM355.7 90.2h.9v.9h-.9zM337.8 106.1h.9v.9h-.9zM350.5 91.6h.9v.9h-.9zM344.4 98.1h.9v.9h-.9zM343.5 103.3h.9v.9h-.9zM347.9 83.9h.9v.9h-.9zM331.5 102.5h.9v.9h-.9zM347.8 109.1h.9v.9h-.9zM340.7 92.2h.9v.9h-.9zM341.8 99.5h.9v.9h-.9zM354.6 101.1h.9v.9h-.9zM339.0 105.0h.9v.9h-.9zM353.6 93.0h.9v.9h-.9zM353.0 99.8h.9v.9h-.9zM355.0 106.0h.9v.9h-.9zM347.3 97.2h.9v.9h-.9zM354.4 99.9h.9v.9h-.9zM352.3 97.3h.9v.9h-.9zM346.2 92.7h.9v.9h-.9zM349.0 96.6h.9v.9h-.9zM353.8 104.6h.9v.9h-.9zM343.2 94.2h.9v.9h-.9zM351.1 97.6h.9v.9h-.9zM339.8 102.6h.9v.9h-.9zM340.9 88.9h.9v.9h-.9zM348.9 109.2h.9v.9h-.9zM343.3 99.4h.9v.9h-.9zM352.0 88.3h.9v.9h-.9zM337.2 100.0h.9v.9h-.9zM347.0 78.3h.9v.9h-.9zM346.7 108.0h.9v.9h-.9zM342.5 103.0h.9v.9h-.9zM350.8 101.1h.9v.9h-.9zM343.5 100.7h.9v.9h-.9zM348.7 86.1h.9v.9h-.9zM349.5 97.5h.9v.9h-.9zM347.7 104.5h.9v.9h-.9zM354.9 101.5h.9v.9h-.9zM337.1 82.6h.9v.9h-.9zM336.0 89.7h.9v.9h-.9zM344.5 84.8h.9v.9h-.9zM346.6 102.6h.9v.9h-.9zM350.6 97.6h.9v.9h-.9zM345.8 99.6h.9v.9h-.9zM351.6 88.5h.9v.9h-.9zM356.9 104.2h.9v.9h-.9zM350.2 100.8h.9v.9h-.9zM339.8 102.5h.9v.9h-.9zM344.2 103.2h.9v.9h-.9zM340.7 90.8h.9v.9h-.9zM336.6 92.0h.9v.9h-.9zM349.5 96.5h.9v.9h-.9zM348.5 100.1h.9v.9h-.9zM347.2 96.0h.9v.9h-.9zM357.0 111.0h.9v.9h-.9zM344.0 101.7h.9v.9h-.9zM349.2 101.6h.9v.9h-.9zM344.2 105.8h.9v.9h-.9zM340.3 90.5h.9v.9h-.9zM341.7 99.7h.9v.9h-.9zM344.2 104.6h.9v.9h-.9zM341.9 95.2h.9v.9h-.9zM340.6 95.2h.9v.9h-.9zM337.2 105.2h.9v.9h-.9zM348.2 87.5h.9v.9h-.9zM347.0 102.7h.9v.9h-.9zM345.5 97.5h.9v.9h-.9zM342.3 101.5h.9v.9h-.9zM350.7 98.3h.9v.9h-.9zM339.9 103.7h.9v.9h-.9zM350.2 100.6h.9v.9h-.9zM347.9 101.9h.9v.9h-.9zM343.0 85.9h.9v.9h-.9zM345.1 99.7h.9v.9h-.9zM354.9 98.0h.9v.9h-.9zM343.6 85.3h.9v.9h-.9zM349.4 93.9h.9v.9h-.9zM347.2 99.0h.9v.9h-.9zM356.4 89.6h.9v.9h-.9zM352.4 97.0h.9v.9h-.9zM338.9 107.4h.9v.9h-.9zM342.0 99.1h.9v.9h-.9zM342.9 90.8h.9v.9h-.9zM341.5 92.0h.9v.9h-.9zM343.5 105.4h.9v.9h-.9zM356.8 96.6h.9v.9h-.9zM353.4 104.3h.9v.9h-.9zM354.7 101.4h.9v.9h-.9zM346.4 100.8h.9v.9h-.9zM351.2 90.1h.9v.9h-.9zM349.4 102.7h.9v.9h-.9zM346.4 105.2h.9v.9h-.9zM354.1 88.4h.9v.9h-.9zM354.5 104.2h.9v.9h-.9zM343.0 103.0h.9v.9h-.9zM345.1 94.3h.9v.9h-.9zM338.5 83.7h.9v.9h-.9zM350.3 97.5h.9v.9h-.9zM353.7 100.4h.9v.9h-.9zM345.0 96.4h.9v.9h-.9zM348.8 94.3h.9v.9h-.9zM344.4 97.0h.9v.9h-.9zM335.2 99.9h.9v.9h-.9zM343.0 87.1h.9v.9h-.9zM354.5 110.3h.9v.9h-.9zM345.7 104.3h.9v.9h-.9zM345.2 105.4h.9v.9h-.9zM353.4 98.9h.9v.9h-.9zM342.2 92.6h.9v.9h-.9zM346.5 91.1h.9v.9h-.9zM340.8 96.7h.9v.9h-.9zM347.5 104.9h.9v.9h-.9zM337.8 97.2h.9v.9h-.9zM345.0 92.7h.9v.9h-.9zM355.1 97.7h.9v.9h-.9zM343.4 92.5h.9v.9h-.9zM356.3 102.2h.9v.9h-.9zM344.7 93.2h.9v.9h-.9zM353.7 101.6h.9v.9h-.9zM351.0 96.2h.9v.9h-.9zM343.8 87.7h.9v.9h-.9zM348.6 96.6h.9v.9h-.9zM348.5 87.3h.9v.9h-.9zM351.3 101.1h.9v.9h-.9zM349.6 99.2h.9v.9h-.9zM358.6 99.5h.9v.9h-.9zM351.0 92.1h.9v.9h-.9zM347.0 93.2h.9v.9h-.9zM349.6 104.6h.9v.9h-.9zM347.2 101.3h.9v.9h-.9zM350.9 113.0h.9v.9h-.9zM341.6 93.4h.9v.9h-.9zM342.3 90.8h.9v.9h-.9zM340.1 102.5h.9v.9h-.9zM336.0 100.6h.9v.9h-.9zM335.2 91.4h.9v.9h-.9zM351.9 106.8h.9v.9h-.9zM354.2 88.9h.9v.9h-.9zM344.3 97.7h.9v.9h-.9zM343.6 99.1h.9v.9h-.9zM342.5 96.8h.9v.9h-.9zM354.2 102.8h.9v.9h-.9zM344.4 96.1h.9v.9h-.9zM336.7 95.1h.9v.9h-.9zM346.6 94.6h.9v.9h-.9zM359.3 103.0h.9v.9h-.9zM346.9 91.4h.9v.9h-.9zM348.6 84.2h.9v.9h-.9zM352.7 115.2h.9v.9h-.9zM355.7 83.1h.9v.9h-.9zM348.2 110.2h.9v.9h-.9zM346.0 97.0h.9v.9h-.9zM344.6 103.9h.9v.9h-.9zM344.4 91.3h.9v.9h-.9zM347.5 106.9h.9v.9h-.9zM357.8 98.8h.9v.9h-.9zM349.0 95.5h.9v.9h-.9zM357.0 91.9h.9v.9h-.9zM351.0 98.1h.9v.9h-.9zM354.0 98.4h.9v.9h-.9zM338.6 96.5h.9v.9h-.9zM346.4 91.4h.9v.9h-.9zM358.8 97.6h.9v.9h-.9zM348.0 103.9h.9v.9h-.9zM347.8 100.0h.9v.9h-.9zM348.6 104.1h.9v.9h-.9zM348.8 101.2h.9v.9h-.9zM355.5 98.7h.9v.9h-.9zM343.2 87.3h.9v.9h-.9zM338.3 103.8h.9v.9h-.9zM346.8 96.8h.9v.9h-.9zM346.7 92.8h.9v.9h-.9zM351.2 101.7h.9v.9h-.9zM341.8 91.9h.9v.9h-.9zM348.2 82.8h.9v.9h-.9zM346.9 107.1h.9v.9h-.9zM335.8 103.3h.9v.9h-.9zM349.2 89.6h.9v.9h-.9zM349.4 85.9h.9v.9h-.9zM345.0 97.7h.9v.9h-.9zM350.2 103.9h.9v.9h-.9zM344.1 97.5h.9v.9h-.9zM350.6 92.4h.9v.9h-.9zM351.8 108.5h.9v.9h-.9zM343.0 99.0h.9v.9h-.9zM344.0 94.8h.9v.9h-.9zM354.7 93.5h.9v.9h-.9zM343.4 92.0h.9v.9h-.9zM344.7 100.2h.9v.9h-.9zM352.6 93.3h.9v.9h-.9zM354.8 96.0h.9v.9h-.9zM347.5 93.8h.9v.9h-.9zM345.8 102.3h.9v.9h-.9zM345.3 102.3h.9v.9h-.9zM342.7 91.5h.9v.9h-.9zM352.9 96.3h.9v.9h-.9zM338.4 85.6h.9v.9h-.9zM348.7 93.5h.9v.9h-.9zM356.5 99.6h.9v.9h-.9zM356.0 97.2h.9v.9h-.9zM353.6 99.7h.9v.9h-.9zM344.4 103.4h.9v.9h-.9zM341.2 92.3h.9v.9h-.9zM346.2 100.1h.9v.9h-.9zM350.4 89.7h.9v.9h-.9zM339.0 97.3h.9v.9h-.9zM343.5 102.1h.9v.9h-.9zM348.8 98.2h.9v.9h-.9zM338.4 106.1h.9v.9h-.9zM341.3 97.8h.9v.9h-.9zM341.0 98.4h.9v.9h-.9zM344.3 91.0h.9v.9h-.9zM343.9 101.6h.9v.9h-.9zM345.2 98.7h.9v.9h-.9zM342.9 84.5h.9v.9h-.9zM350.6 93.9h.9v.9h-.9zM339.0 91.0h.9v.9h-.9zM345.8 92.5h.9v.9h-.9zM345.9 100.4h.9v.9h-.9zM342.0 82.7h.9v.9h-.9zM342.0 90.7h.9v.9h-.9zM342.7 99.0h.9v.9h-.9zM347.9 95.3h.9v.9h-.9zM350.0 92.2h.9v.9h-.9zM358.4 90.9h.9v.9h-.9zM354.5 92.6h.9v.9h-.9zM348.7 93.7h.9v.9h-.9zM336.1 98.7h.9v.9h-.9zM342.8 97.1h.9v.9h-.9zM351.6 97.2h.9v.9h-.9zM352.2 101.1h.9v.9h-.9zM343.0 104.0h.9v.9h-.9zM348.0 98.0h.9v.9h-.9zM347.6 101.7h.9v.9h-.9zM344.9 90.4h.9v.9h-.9zM343.3 95.8h.9v.9h-.9zM349.0 87.3h.9v.9h-.9zM345.8 90.5h.9v.9h-.9zM355.6 106.3h.9v.9h-.9zM342.6 94.9h.9v.9h-.9zM349.2 90.4h.9v.9h-.9zM350.7 111.3h.9v.9h-.9zM347.6 103.7h.9v.9h-.9zM336.5 92.1h.9v.9h-.9zM338.6 91.9h.9v.9h-.9zM355.0 110.1h.9v.9h-.9zM353.2 98.1h.9v.9h-.9zM354.1 100.3h.9v.9h-.9zM344.0 93.7h.9v.9h-.9zM354.4 98.8h.9v.9h-.9zM346.3 101.9h.9v.9h-.9zM356.8 99.2h.9v.9h-.9zM344.1 96.2h.9v.9h-.9zM341.2 105.3h.9v.9h-.9zM349.0 94.4h.9v.9h-.9zM348.0 82.6h.9v.9h-.9zM348.9 101.8h.9v.9h-.9zM350.0 104.8h.9v.9h-.9zM347.0 105.9h.9v.9h-.9zM346.4 105.2h.9v.9h-.9zM344.1 94.8h.9v.9h-.9zM351.2 100.0h.9v.9h-.9zM317.4 93.5h.9v.9h-.9zM325.0 87.3h.9v.9h-.9zM323.1 94.2h.9v.9h-.9zM324.6 92.0h.9v.9h-.9zM323.7 94.3h.9v.9h-.9zM320.7 95.1h.9v.9h-.9zM319.8 109.6h.9v.9h-.9zM318.3 85.9h.9v.9h-.9zM324.9 95.4h.9v.9h-.9zM314.6 84.3h.9v.9h-.9zM317.0 94.7h.9v.9h-.9zM327.7 95.4h.9v.9h-.9zM325.6 95.5h.9v.9h-.9zM320.3 100.7h.9v.9h-.9zM323.5 95.0h.9v.9h-.9zM320.1 94.5h.9v.9h-.9zM321.6 107.3h.9v.9h-.9zM323.2 93.6h.9v.9h-.9zM328.5 94.2h.9v.9h-.9zM319.1 105.4h.9v.9h-.9zM321.8 120.9h.9v.9h-.9zM319.6 102.8h.9v.9h-.9zM320.8 101.5h.9v.9h-.9zM316.8 85.3h.9v.9h-.9zM317.0 93.5h.9v.9h-.9zM317.6 102.8h.9v.9h-.9zM317.8 94.5h.9v.9h-.9zM321.5 101.5h.9v.9h-.9zM318.2 110.9h.9v.9h-.9zM322.6 87.2h.9v.9h-.9zM320.4 99.6h.9v.9h-.9zM322.9 103.3h.9v.9h-.9zM324.1 92.8h.9v.9h-.9zM321.6 92.0h.9v.9h-.9zM318.7 104.7h.9v.9h-.9zM322.9 98.2h.9v.9h-.9zM315.5 95.8h.9v.9h-.9zM327.9 90.3h.9v.9h-.9zM313.7 100.4h.9v.9h-.9zM321.0 98.4h.9v.9h-.9zM324.8 92.1h.9v.9h-.9zM316.7 95.0h.9v.9h-.9zM330.5 99.2h.9v.9h-.9zM313.1 97.8h.9v.9h-.9zM317.6 88.7h.9v.9h-.9zM319.4 101.3h.9v.9h-.9zM317.3 101.3h.9v.9h-.9zM322.0 91.1h.9v.9h-.9zM320.6 101.8h.9v.9h-.9zM320.1 90.4h.9v.9h-.9zM320.5 100.8h.9v.9h-.9zM327.5 110.6h.9v.9h-.9zM323.5 104.8h.9v.9h-.9zM315.5 102.3h.9v.9h-.9zM319.5 94.6h.9v.9h-.9zM322.8 98.5h.9v.9h-.9zM318.9 93.3h.9v.9h-.9zM310.4 93.1h.9v.9h-.9zM317.2 98.4h.9v.9h-.9zM318.5 106.7h.9v.9h-.9zM321.3 104.8h.9v.9h-.9zM323.0 106.6h.9v.9h-.9zM308.1 44.1h.9v.9h-.9zM341.0 118.9h.9v.9h-.9z"/>
<path fill="#000" fill-opacity="0.35" d="M316.4 68.3h.9v.9h-.9zM320.4 67.4h.9v.9h-.9zM323.7 63.0h.9v.9h-.9zM334.4 72.8h.9v.9h-.9zM322.6 65.3h.9v.9h-.9zM325.1 73.5h.9v.9h-.9zM308.5 72.5h.9v.9h-.9zM322.5 70.9h.9v.9h-.9zM325.7 71.0h.9v.9h-.9zM321.6 69.3h.9v.9h-.9zM326.3 67.8h.9v.9h-.9zM315.1 71.9h.9v.9h-.9zM316.2 68.7h.9v.9h-.9zM324.5 70.9h.9v.9h-.9zM317.4 68.4h.9v.9h-.9zM319.1 70.6h.9v.9h-.9zM314.7 73.5h.9v.9h-.9zM328.9 71.3h.9v.9h-.9zM317.4 74.4h.9v.9h-.9zM334.5 70.1h.9v.9h-.9zM314.5 76.8h.9v.9h-.9zM312.7 67.0h.9v.9h-.9zM317.1 64.9h.9v.9h-.9zM312.3 72.3h.9v.9h-.9zM326.5 71.1h.9v.9h-.9zM328.7 64.2h.9v.9h-.9zM312.0 69.0h.9v.9h-.9zM327.5 67.7h.9v.9h-.9zM322.5 74.1h.9v.9h-.9zM317.1 74.9h.9v.9h-.9zM320.4 74.3h.9v.9h-.9zM328.6 70.7h.9v.9h-.9zM323.1 73.2h.9v.9h-.9zM320.3 67.6h.9v.9h-.9zM329.9 73.7h.9v.9h-.9zM311.3 68.0h.9v.9h-.9zM321.1 74.6h.9v.9h-.9zM314.5 66.2h.9v.9h-.9zM316.9 74.7h.9v.9h-.9zM317.8 68.8h.9v.9h-.9zM321.5 70.8h.9v.9h-.9zM320.0 66.7h.9v.9h-.9zM323.9 67.4h.9v.9h-.9zM328.2 70.1h.9v.9h-.9zM310.8 74.3h.9v.9h-.9zM316.3 71.8h.9v.9h-.9zM325.4 72.2h.9v.9h-.9zM331.1 67.5h.9v.9h-.9zM319.1 69.0h.9v.9h-.9zM314.8 66.5h.9v.9h-.9zM321.7 72.2h.9v.9h-.9zM324.6 70.6h.9v.9h-.9zM310.1 74.7h.9v.9h-.9zM323.4 68.7h.9v.9h-.9zM315.4 71.5h.9v.9h-.9zM330.7 73.3h.9v.9h-.9zM321.1 70.1h.9v.9h-.9zM326.5 72.6h.9v.9h-.9zM321.8 71.5h.9v.9h-.9zM330.3 64.4h.9v.9h-.9zM317.1 68.7h.9v.9h-.9zM326.2 70.3h.9v.9h-.9zM315.9 71.6h.9v.9h-.9zM323.7 73.4h.9v.9h-.9zM314.5 71.3h.9v.9h-.9zM314.3 68.3h.9v.9h-.9zM324.2 70.3h.9v.9h-.9zM317.1 67.8h.9v.9h-.9zM321.4 72.8h.9v.9h-.9zM325.5 73.3h.9v.9h-.9zM320.2 67.0h.9v.9h-.9zM319.1 76.4h.9v.9h-.9zM324.7 71.0h.9v.9h-.9zM318.6 69.7h.9v.9h-.9zM324.6 69.1h.9v.9h-.9zM317.3 72.8h.9v.9h-.9zM312.0 67.1h.9v.9h-.9zM315.1 67.2h.9v.9h-.9zM325.7 68.4h.9v.9h-.9zM320.5 66.1h.9v.9h-.9zM312.6 69.4h.9v.9h-.9zM320.1 71.2h.9v.9h-.9zM327.2 70.0h.9v.9h-.9zM321.8 72.3h.9v.9h-.9zM319.2 71.5h.9v.9h-.9zM317.8 74.0h.9v.9h-.9zM312.6 67.0h.9v.9h-.9zM321.4 75.2h.9v.9h-.9zM322.5 69.4h.9v.9h-.9zM314.8 71.2h.9v.9h-.9zM335.5 74.0h.9v.9h-.9zM323.8 69.7h.9v.9h-.9zM321.0 69.4h.9v.9h-.9zM323.3 73.7h.9v.9h-.9zM331.4 71.7h.9v.9h-.9zM324.4 69.5h.9v.9h-.9zM325.9 69.4h.9v.9h-.9zM323.2 68.7h.9v.9h-.9zM317.4 70.5h.9v.9h-.9zM311.1 69.2h.9v.9h-.9zM327.6 70.0h.9v.9h-.9zM318.8 73.9h.9v.9h-.9zM314.2 72.1h.9v.9h-.9zM319.4 72.6h.9v.9h-.9zM321.7 71.0h.9v.9h-.9zM326.0 72.0h.9v.9h-.9zM319.0 74.1h.9v.9h-.9zM313.7 72.0h.9v.9h-.9zM325.0 68.6h.9v.9h-.9zM311.3 71.2h.9v.9h-.9zM319.3 71.6h.9v.9h-.9zM322.7 73.5h.9v.9h-.9zM319.2 72.4h.9v.9h-.9zM324.8 72.2h.9v.9h-.9zM322.2 67.6h.9v.9h-.9zM320.7 72.0h.9v.9h-.9zM324.9 73.1h.9v.9h-.9zM329.0 75.3h.9v.9h-.9zM326.0 70.6h.9v.9h-.9zM320.5 70.1h.9v.9h-.9zM316.2 73.7h.9v.9h-.9zM319.1 73.5h.9v.9h-.9zM311.7 75.3h.9v.9h-.9zM323.3 74.3h.9v.9h-.9zM325.1 73.2h.9v.9h-.9zM323.0 68.8h.9v.9h-.9zM318.3 70.1h.9v.9h-.9zM322.2 71.0h.9v.9h-.9zM321.2 67.9h.9v.9h-.9zM318.1 70.4h.9v.9h-.9zM319.4 73.6h.9v.9h-.9zM320.2 70.6h.9v.9h-.9zM316.6 73.5h.9v.9h-.9zM306.3 77.0h.9v.9h-.9zM319.2 66.3h.9v.9h-.9zM316.2 76.3h.9v.9h-.9zM312.2 67.9h.9v.9h-.9zM321.5 72.5h.9v.9h-.9zM327.9 70.4h.9v.9h-.9zM328.7 71.9h.9v.9h-.9zM331.8 70.3h.9v.9h-.9zM321.9 71.2h.9v.9h-.9zM323.1 73.0h.9v.9h-.9zM316.3 69.1h.9v.9h-.9zM323.9 68.2h.9v.9h-.9zM330.2 71.2h.9v.9h-.9zM319.7 72.6h.9v.9h-.9zM316.6 66.0h.9v.9h-.9zM319.9 67.8h.9v.9h-.9zM338.1 69.2h.9v.9h-.9zM314.3 68.4h.9v.9h-.9zM321.3 71.7h.9v.9h-.9zM325.5 69.4h.9v.9h-.9zM319.8 67.0h.9v.9h-.9zM322.8 74.0h.9v.9h-.9zM316.2 73.8h.9v.9h-.9zM318.1 69.4h.9v.9h-.9zM316.2 68.9h.9v.9h-.9zM324.5 68.6h.9v.9h-.9zM315.6 69.6h.9v.9h-.9zM322.1 72.4h.9v.9h-.9zM319.8 70.4h.9v.9h-.9zM321.3 72.6h.9v.9h-.9zM318.5 66.6h.9v.9h-.9zM323.3 70.3h.9v.9h-.9zM321.5 74.3h.9v.9h-.9zM327.4 73.2h.9v.9h-.9zM318.6 76.0h.9v.9h-.9zM317.4 68.5h.9v.9h-.9zM329.9 68.7h.9v.9h-.9zM314.4 70.0h.9v.9h-.9zM320.0 67.6h.9v.9h-.9zM317.6 67.1h.9v.9h-.9zM311.3 72.0h.9v.9h-.9zM325.4 68.7h.9v.9h-.9zM325.6 67.9h.9v.9h-.9zM330.4 69.2h.9v.9h-.9zM329.4 69.9h.9v.9h-.9zM317.1 71.5h.9v.9h-.9zM310.2 70.2h.9v.9h-.9zM312.2 67.7h.9v.9h-.9zM323.5 74.0h.9v.9h-.9zM328.2 76.6h.9v.9h-.9zM326.9 71.7h.9v.9h-.9zM309.3 71.6h.9v.9h-.9zM322.9 68.2h.9v.9h-.9zM323.0 71.7h.9v.9h-.9zM332.7 76.2h.9v.9h-.9zM314.8 67.1h.9v.9h-.9zM326.6 70.9h.9v.9h-.9zM313.6 69.6h.9v.9h-.9zM314.2 73.9h.9v.9h-.9zM309.7 74.9h.9v.9h-.9zM322.2 72.6h.9v.9h-.9zM322.2 72.6h.9v.9h-.9zM323.0 71.9h.9v.9h-.9zM317.9 72.0h.9v.9h-.9zM314.4 70.8h.9v.9h-.9zM324.6 70.8h.9v.9h-.9zM324.4 80.2h.9v.9h-.9zM328.3 65.9h.9v.9h-.9zM321.7 74.5h.9v.9h-.9zM326.9 74.0h.9v.9h-.9zM318.3 67.0h.9v.9h-.9zM325.0 74.8h.9v.9h-.9zM314.7 73.5h.9v.9h-.9zM324.6 67.7h.9v.9h-.9zM311.8 67.5h.9v.9h-.9zM326.5 73.9h.9v.9h-.9zM315.8 66.7h.9v.9h-.9zM315.5 74.4h.9v.9h-.9zM317.3 72.7h.9v.9h-.9zM320.6 67.4h.9v.9h-.9zM324.1 70.4h.9v.9h-.9zM325.6 67.8h.9v.9h-.9zM319.1 71.2h.9v.9h-.9zM319.9 65.5h.9v.9h-.9zM330.4 69.3h.9v.9h-.9zM314.0 72.9h.9v.9h-.9zM315.3 70.9h.9v.9h-.9zM318.4 73.0h.9v.9h-.9zM315.8 78.1h.9v.9h-.9zM328.6 73.9h.9v.9h-.9zM321.0 73.3h.9v.9h-.9zM320.3 76.0h.9v.9h-.9zM318.0 70.8h.9v.9h-.9zM329.8 73.7h.9v.9h-.9zM314.9 71.5h.9v.9h-.9zM316.6 68.5h.9v.9h-.9zM318.9 71.6h.9v.9h-.9zM329.5 67.3h.9v.9h-.9zM332.1 75.6h.9v.9h-.9zM311.9 72.8h.9v.9h-.9zM310.7 72.3h.9v.9h-.9zM319.1 71.4h.9v.9h-.9zM324.6 70.4h.9v.9h-.9zM317.6 69.4h.9v.9h-.9zM323.1 73.0h.9v.9h-.9zM324.1 69.2h.9v.9h-.9zM331.8 73.1h.9v.9h-.9zM321.4 75.6h.9v.9h-.9zM326.5 67.3h.9v.9h-.9zM317.6 72.4h.9v.9h-.9zM322.9 72.3h.9v.9h-.9zM327.5 72.0h.9v.9h-.9zM312.3 67.0h.9v.9h-.9zM317.9 67.0h.9v.9h-.9zM321.7 67.8h.9v.9h-.9zM318.0 73.0h.9v.9h-.9zM323.5 71.4h.9v.9h-.9zM315.7 69.6h.9v.9h-.9zM314.2 70.9h.9v.9h-.9zM320.6 70.2h.9v.9h-.9zM332.5 75.9h.9v.9h-.9zM325.6 72.6h.9v.9h-.9zM320.3 69.9h.9v.9h-.9zM314.1 69.2h.9v.9h-.9zM337.3 73.7h.9v.9h-.9zM321.1 72.1h.9v.9h-.9zM326.3 73.4h.9v.9h-.9zM314.0 67.7h.9v.9h-.9zM314.1 69.4h.9v.9h-.9zM319.9 69.8h.9v.9h-.9zM324.8 72.1h.9v.9h-.9zM321.8 67.7h.9v.9h-.9zM316.6 70.4h.9v.9h-.9zM316.9 68.8h.9v.9h-.9zM322.9 69.9h.9v.9h-.9zM321.6 70.7h.9v.9h-.9zM324.9 75.3h.9v.9h-.9zM325.9 71.5h.9v.9h-.9zM324.9 67.1h.9v.9h-.9zM327.7 72.5h.9v.9h-.9zM319.1 75.7h.9v.9h-.9zM322.2 68.7h.9v.9h-.9zM322.8 74.5h.9v.9h-.9zM332.3 74.6h.9v.9h-.9zM318.1 69.7h.9v.9h-.9zM310.1 70.9h.9v.9h-.9zM319.6 76.9h.9v.9h-.9zM319.4 72.7h.9v.9h-.9zM318.3 72.0h.9v.9h-.9zM316.2 73.8h.9v.9h-.9zM312.0 67.8h.9v.9h-.9zM324.1 70.2h.9v.9h-.9zM313.8 70.2h.9v.9h-.9zM326.1 74.5h.9v.9h-.9zM319.4 68.2h.9v.9h-.9zM322.9 69.8h.9v.9h-.9zM328.2 70.9h.9v.9h-.9zM325.6 69.2h.9v.9h-.9zM325.9 76.2h.9v.9h-.9zM309.9 62.5h.9v.9h-.9zM318.7 73.6h.9v.9h-.9zM306.2 70.5h.9v.9h-.9zM328.0 68.4h.9v.9h-.9zM320.8 74.6h.9v.9h-.9zM324.6 71.7h.9v.9h-.9zM317.3 73.7h.9v.9h-.9zM322.6 66.2h.9v.9h-.9zM327.7 72.9h.9v.9h-.9zM321.1 70.6h.9v.9h-.9zM315.7 69.4h.9v.9h-.9zM311.6 72.0h.9v.9h-.9zM317.0 69.5h.9v.9h-.9zM325.0 72.4h.9v.9h-.9zM321.9 68.4h.9v.9h-.9zM319.5 69.3h.9v.9h-.9zM322.9 73.7h.9v.9h-.9zM327.7 68.5h.9v.9h-.9zM326.5 69.4h.9v.9h-.9zM319.8 71.3h.9v.9h-.9zM321.5 70.6h.9v.9h-.9zM324.6 74.5h.9v.9h-.9zM322.3 67.9h.9v.9h-.9zM330.4 70.2h.9v.9h-.9zM327.4 71.3h.9v.9h-.9zM317.6 71.1h.9v.9h-.9zM329.3 73.8h.9v.9h-.9zM321.7 71.9h.9v.9h-.9zM324.2 71.3h.9v.9h-.9zM325.3 68.5h.9v.9h-.9zM319.9 69.5h.9v.9h-.9zM326.0 70.3h.9v.9h-.9zM318.6 65.8h.9v.9h-.9zM316.3 76.2h.9v.9h-.9zM320.6 68.7h.9v.9h-.9zM322.4 73.3h.9v.9h-.9zM321.7 71.7h.9v.9h-.9zM322.8 72.5h.9v.9h-.9zM320.3 72.4h.9v.9h-.9zM322.4 69.6h.9v.9h-.9zM326.9 71.5h.9v.9h-.9zM322.2 73.7h.9v.9h-.9zM314.9 70.6h.9v.9h-.9zM322.2 67.9h.9v.9h-.9zM326.3 68.2h.9v.9h-.9zM327.7 69.9h.9v.9h-.9zM327.1 66.6h.9v.9h-.9zM325.5 71.8h.9v.9h-.9zM324.0 73.9h.9v.9h-.9zM310.8 67.2h.9v.9h-.9zM319.2 74.7h.9v.9h-.9zM315.9 67.0h.9v.9h-.9zM321.7 69.3h.9v.9h-.9zM318.4 65.3h.9v.9h-.9zM313.1 68.9h.9v.9h-.9zM326.0 70.0h.9v.9h-.9zM327.0 67.7h.9v.9h-.9zM314.0 71.3h.9v.9h-.9zM328.2 71.0h.9v.9h-.9zM332.3 74.3h.9v.9h-.9zM315.7 69.8h.9v.9h-.9zM324.3 75.5h.9v.9h-.9zM325.1 66.8h.9v.9h-.9zM319.9 76.5h.9v.9h-.9zM321.3 72.4h.9v.9h-.9zM318.3 69.8h.9v.9h-.9zM325.3 71.9h.9v.9h-.9zM317.7 67.7h.9v.9h-.9zM322.5 71.3h.9v.9h-.9zM315.6 72.5h.9v.9h-.9zM315.7 73.7h.9v.9h-.9zM324.1 70.2h.9v.9h-.9zM329.9 69.4h.9v.9h-.9zM318.7 70.5h.9v.9h-.9zM333.4 70.1h.9v.9h-.9zM309.7 72.6h.9v.9h-.9zM322.4 68.6h.9v.9h-.9zM319.9 68.0h.9v.9h-.9zM312.0 73.0h.9v.9h-.9zM322.3 68.7h.9v.9h-.9zM319.1 78.1h.9v.9h-.9zM328.1 68.2h.9v.9h-.9zM319.2 76.1h.9v.9h-.9zM328.4 73.2h.9v.9h-.9zM315.8 69.3h.9v.9h-.9zM316.7 75.0h.9v.9h-.9zM334.6 68.5h.9v.9h-.9zM323.1 73.2h.9v.9h-.9zM322.4 73.6h.9v.9h-.9zM323.0 69.3h.9v.9h-.9zM317.9 70.8h.9v.9h-.9zM320.2 66.4h.9v.9h-.9zM320.6 69.8h.9v.9h-.9zM319.3 68.9h.9v.9h-.9zM329.3 69.7h.9v.9h-.9zM321.4 75.7h.9v.9h-.9zM317.6 72.6h.9v.9h-.9zM312.2 71.4h.9v.9h-.9zM312.4 67.2h.9v.9h-.9zM310.5 76.3h.9v.9h-.9zM318.3 65.3h.9v.9h-.9zM314.6 70.9h.9v.9h-.9zM314.3 68.5h.9v.9h-.9zM323.4 70.1h.9v.9h-.9zM328.2 66.9h.9v.9h-.9zM325.4 67.0h.9v.9h-.9zM310.3 72.7h.9v.9h-.9zM319.5 66.1h.9v.9h-.9zM320.7 79.3h.9v.9h-.9zM322.9 71.3h.9v.9h-.9zM321.5 74.5h.9v.9h-.9zM320.5 74.7h.9v.9h-.9zM317.7 75.8h.9v.9h-.9zM329.5 69.2h.9v.9h-.9zM329.0 72.4h.9v.9h-.9zM321.4 74.4h.9v.9h-.9zM332.1 76.1h.9v.9h-.9zM317.0 73.8h.9v.9h-.9zM315.6 71.0h.9v.9h-.9zM320.9 68.0h.9v.9h-.9zM318.8 72.3h.9v.9h-.9zM319.8 72.2h.9v.9h-.9zM328.8 74.1h.9v.9h-.9zM322.7 73.4h.9v.9h-.9zM329.8 75.4h.9v.9h-.9zM317.1 71.8h.9v.9h-.9zM318.4 68.3h.9v.9h-.9zM324.9 66.3h.9v.9h-.9zM320.3 65.6h.9v.9h-.9zM321.6 71.0h.9v.9h-.9zM317.6 67.6h.9v.9h-.9zM318.7 67.5h.9v.9h-.9zM325.8 68.9h.9v.9h-.9zM315.7 70.6h.9v.9h-.9zM325.2 67.0h.9v.9h-.9zM327.5 70.0h.9v.9h-.9zM323.9 73.1h.9v.9h-.9zM321.4 73.8h.9v.9h-.9zM328.5 69.6h.9v.9h-.9zM324.6 72.1h.9v.9h-.9zM319.5 68.9h.9v.9h-.9zM320.5 69.1h.9v.9h-.9zM330.1 70.4h.9v.9h-.9zM314.8 70.6h.9v.9h-.9zM324.5 69.8h.9v.9h-.9zM322.6 74.9h.9v.9h-.9zM323.0 71.5h.9v.9h-.9zM322.9 69.4h.9v.9h-.9zM318.3 71.2h.9v.9h-.9zM323.2 70.4h.9v.9h-.9zM319.5 64.3h.9v.9h-.9zM331.7 71.0h.9v.9h-.9zM313.1 71.0h.9v.9h-.9zM325.0 73.3h.9v.9h-.9zM327.7 68.8h.9v.9h-.9zM315.7 70.2h.9v.9h-.9zM310.4 70.8h.9v.9h-.9zM328.0 71.0h.9v.9h-.9zM320.4 68.7h.9v.9h-.9zM330.1 65.4h.9v.9h-.9zM316.1 70.8h.9v.9h-.9zM317.2 64.8h.9v.9h-.9zM327.2 75.0h.9v.9h-.9zM322.4 70.9h.9v.9h-.9zM318.9 79.1h.9v.9h-.9zM327.5 72.9h.9v.9h-.9zM322.8 74.2h.9v.9h-.9zM310.7 73.6h.9v.9h-.9zM317.9 64.2h.9v.9h-.9zM323.4 68.8h.9v.9h-.9zM353.2 102.1h.9v.9h-.9zM348.2 99.0h.9v.9h-.9zM347.7 98.8h.9v.9h-.9zM336.1 95.4h.9v.9h-.9zM351.1 88.7h.9v.9h-.9zM350.8 95.7h.9v.9h-.9zM343.9 94.9h.9v.9h-.9zM353.2 104.2h.9v.9h-.9zM347.8 98.8h.9v.9h-.9zM348.1 97.8h.9v.9h-.9zM347.7 91.3h.9v.9h-.9zM330.6 97.4h.9v.9h-.9zM339.2 97.1h.9v.9h-.9zM356.1 98.4h.9v.9h-.9zM356.5 98.3h.9v.9h-.9zM353.2 90.1h.9v.9h-.9zM341.8 90.8h.9v.9h-.9zM351.6 96.2h.9v.9h-.9zM346.4 101.5h.9v.9h-.9zM346.5 94.5h.9v.9h-.9zM347.1 95.2h.9v.9h-.9zM346.4 98.7h.9v.9h-.9zM348.3 104.7h.9v.9h-.9zM344.6 94.4h.9v.9h-.9zM349.2 92.0h.9v.9h-.9zM344.1 93.0h.9v.9h-.9zM344.5 99.0h.9v.9h-.9zM342.3 88.7h.9v.9h-.9zM344.0 96.1h.9v.9h-.9zM351.1 94.5h.9v.9h-.9zM351.3 97.0h.9v.9h-.9zM347.1 90.5h.9v.9h-.9zM354.1 102.4h.9v.9h-.9zM343.6 88.0h.9v.9h-.9zM346.3 88.1h.9v.9h-.9zM348.0 97.9h.9v.9h-.9zM347.3 99.4h.9v.9h-.9zM348.4 99.2h.9v.9h-.9zM346.2 104.3h.9v.9h-.9zM340.2 97.8h.9v.9h-.9zM347.7 89.8h.9v.9h-.9zM341.9 97.0h.9v.9h-.9zM347.2 94.9h.9v.9h-.9zM340.3 98.0h.9v.9h-.9zM345.5 92.1h.9v.9h-.9zM349.1 101.6h.9v.9h-.9zM346.9 91.3h.9v.9h-.9zM339.9 99.2h.9v.9h-.9zM354.1 98.9h.9v.9h-.9zM345.6 89.1h.9v.9h-.9zM347.6 88.2h.9v.9h-.9zM346.1 101.9h.9v.9h-.9zM346.9 90.2h.9v.9h-.9zM352.1 88.3h.9v.9h-.9zM349.7 97.5h.9v.9h-.9zM341.5 101.6h.9v.9h-.9zM348.4 97.0h.9v.9h-.9zM344.3 98.4h.9v.9h-.9zM345.8 95.4h.9v.9h-.9zM348.2 96.8h.9v.9h-.9zM341.8 90.1h.9v.9h-.9zM355.2 96.2h.9v.9h-.9zM345.2 93.5h.9v.9h-.9zM343.9 94.6h.9v.9h-.9zM337.8 98.3h.9v.9h-.9zM345.2 96.2h.9v.9h-.9zM350.1 101.3h.9v.9h-.9zM342.2 97.1h.9v.9h-.9zM349.0 93.1h.9v.9h-.9zM351.3 98.6h.9v.9h-.9zM345.7 95.5h.9v.9h-.9zM344.3 97.4h.9v.9h-.9zM350.1 98.7h.9v.9h-.9zM348.1 81.6h.9v.9h-.9zM348.3 98.6h.9v.9h-.9zM350.2 98.0h.9v.9h-.9zM352.3 93.6h.9v.9h-.9zM347.9 98.3h.9v.9h-.9zM344.5 83.6h.9v.9h-.9zM349.5 92.1h.9v.9h-.9zM346.7 85.0h.9v.9h-.9zM351.8 95.5h.9v.9h-.9zM356.7 100.0h.9v.9h-.9zM347.8 91.5h.9v.9h-.9zM348.6 89.7h.9v.9h-.9zM351.8 94.5h.9v.9h-.9zM349.7 92.2h.9v.9h-.9zM342.7 92.7h.9v.9h-.9zM345.2 102.0h.9v.9h-.9zM350.6 94.7h.9v.9h-.9zM347.4 100.6h.9v.9h-.9zM346.6 99.3h.9v.9h-.9zM353.1 92.4h.9v.9h-.9zM343.0 97.4h.9v.9h-.9zM346.9 89.3h.9v.9h-.9zM348.8 89.9h.9v.9h-.9zM345.0 92.8h.9v.9h-.9zM347.8 102.2h.9v.9h-.9zM351.9 86.3h.9v.9h-.9zM350.1 98.4h.9v.9h-.9zM339.3 99.9h.9v.9h-.9zM347.5 96.4h.9v.9h-.9zM341.5 98.1h.9v.9h-.9zM347.3 91.0h.9v.9h-.9zM353.8 100.5h.9v.9h-.9zM347.9 99.6h.9v.9h-.9zM348.3 108.1h.9v.9h-.9zM349.5 93.6h.9v.9h-.9z"/>
<path fill="#000" fill-opacity="0.45" d="M324.2 60.0h.9v.9h-.9zM304.4 68.1h.9v.9h-.9zM326.7 66.5h.9v.9h-.9zM336.4 68.8h.9v.9h-.9zM309.3 74.0h.9v.9h-.9zM323.6 71.6h.9v.9h-.9zM328.9 67.0h.9v.9h-.9zM323.8 73.1h.9v.9h-.9zM315.7 74.4h.9v.9h-.9zM320.6 72.4h.9v.9h-.9zM340.4 77.4h.9v.9h-.9zM309.7 74.5h.9v.9h-.9zM322.6 71.4h.9v.9h-.9zM335.2 82.2h.9v.9h-.9zM320.7 76.9h.9v.9h-.9zM325.2 78.6h.9v.9h-.9zM329.3 78.1h.9v.9h-.9zM320.0 70.4h.9v.9h-.9zM334.0 66.0h.9v.9h-.9zM325.7 71.4h.9v.9h-.9zM317.5 70.5h.9v.9h-.9zM328.3 75.3h.9v.9h-.9zM329.2 71.2h.9v.9h-.9zM328.6 68.1h.9v.9h-.9zM308.6 66.1h.9v.9h-.9zM335.8 64.2h.9v.9h-.9zM337.6 66.6h.9v.9h-.9zM318.3 61.4h.9v.9h-.9zM330.4 66.9h.9v.9h-.9zM324.2 65.3h.9v.9h-.9zM315.7 67.2h.9v.9h-.9zM317.5 72.9h.9v.9h-.9zM320.9 66.2h.9v.9h-.9zM328.3 64.0h.9v.9h-.9zM330.7 67.5h.9v.9h-.9zM344.9 67.4h.9v.9h-.9zM333.0 78.4h.9v.9h-.9zM347.4 72.0h.9v.9h-.9zM318.7 65.8h.9v.9h-.9zM326.6 69.7h.9v.9h-.9zM325.0 72.2h.9v.9h-.9zM318.5 72.2h.9v.9h-.9zM331.9 65.1h.9v.9h-.9zM336.2 75.6h.9v.9h-.9zM344.5 76.4h.9v.9h-.9zM309.2 66.5h.9v.9h-.9zM331.8 80.0h.9v.9h-.9zM322.6 70.9h.9v.9h-.9zM320.5 64.9h.9v.9h-.9zM328.6 69.8h.9v.9h-.9zM322.3 70.5h.9v.9h-.9zM336.3 75.6h.9v.9h-.9zM324.6 65.7h.9v.9h-.9zM328.4 67.2h.9v.9h-.9zM345.0 86.0h.9v.9h-.9zM324.2 69.1h.9v.9h-.9zM316.3 74.1h.9v.9h-.9zM310.3 78.4h.9v.9h-.9zM330.5 75.1h.9v.9h-.9zM335.4 74.3h.9v.9h-.9zM325.3 77.9h.9v.9h-.9zM337.7 75.6h.9v.9h-.9zM318.3 74.5h.9v.9h-.9zM348.9 73.0h.9v.9h-.9zM317.9 72.5h.9v.9h-.9zM316.1 68.8h.9v.9h-.9zM325.6 68.2h.9v.9h-.9zM336.0 67.0h.9v.9h-.9zM329.6 70.1h.9v.9h-.9zM331.4 74.7h.9v.9h-.9zM337.1 80.4h.9v.9h-.9zM307.7 66.0h.9v.9h-.9zM328.1 72.4h.9v.9h-.9zM321.6 79.6h.9v.9h-.9zM340.6 76.4h.9v.9h-.9zM324.7 69.7h.9v.9h-.9zM311.5 68.6h.9v.9h-.9zM321.4 78.8h.9v.9h-.9zM308.3 67.2h.9v.9h-.9zM312.9 69.9h.9v.9h-.9zM315.7 68.5h.9v.9h-.9zM329.7 67.4h.9v.9h-.9zM320.9 81.1h.9v.9h-.9zM321.9 64.2h.9v.9h-.9zM323.9 71.5h.9v.9h-.9zM324.3 75.9h.9v.9h-.9zM337.9 68.8h.9v.9h-.9zM320.2 63.6h.9v.9h-.9zM305.2 73.3h.9v.9h-.9zM342.4 74.8h.9v.9h-.9zM328.2 71.0h.9v.9h-.9zM318.4 57.3h.9v.9h-.9zM337.6 75.5h.9v.9h-.9zM309.6 64.8h.9v.9h-.9zM310.6 72.1h.9v.9h-.9zM309.8 75.4h.9v.9h-.9zM338.2 76.8h.9v.9h-.9zM321.4 74.3h.9v.9h-.9zM320.7 71.1h.9v.9h-.9zM300.7 76.9h.9v.9h-.9zM329.3 61.6h.9v.9h-.9zM332.2 83.4h.9v.9h-.9zM339.9 72.5h.9v.9h-.9zM328.3 66.8h.9v.9h-.9zM335.4 74.2h.9v.9h-.9zM309.2 64.5h.9v.9h-.9zM318.2 82.9h.9v.9h-.9zM329.6 67.8h.9v.9h-.9zM324.8 58.6h.9v.9h-.9zM334.4 79.4h.9v.9h-.9zM328.7 65.9h.9v.9h-.9zM328.0 76.0h.9v.9h-.9zM325.9 69.4h.9v.9h-.9zM335.9 65.2h.9v.9h-.9zM336.6 72.2h.9v.9h-.9zM311.4 81.3h.9v.9h-.9zM335.5 86.5h.9v.9h-.9zM321.0 69.4h.9v.9h-.9zM336.8 78.5h.9v.9h-.9zM327.1 72.1h.9v.9h-.9zM322.6 76.7h.9v.9h-.9zM315.7 69.3h.9v.9h-.9zM321.9 65.7h.9v.9h-.9zM328.1 59.7h.9v.9h-.9zM333.1 72.0h.9v.9h-.9zM337.9 83.2h.9v.9h-.9zM317.8 70.7h.9v.9h-.9zM334.1 74.6h.9v.9h-.9zM327.0 65.6h.9v.9h-.9zM320.2 68.6h.9v.9h-.9zM315.4 75.9h.9v.9h-.9zM319.9 71.9h.9v.9h-.9zM322.1 66.3h.9v.9h-.9zM344.3 64.1h.9v.9h-.9zM331.8 72.2h.9v.9h-.9zM319.8 68.8h.9v.9h-.9zM325.7 68.0h.9v.9h-.9zM317.0 60.4h.9v.9h-.9zM334.9 77.1h.9v.9h-.9zM321.4 58.2h.9v.9h-.9zM330.7 71.2h.9v.9h-.9zM324.6 60.2h.9v.9h-.9zM331.6 71.8h.9v.9h-.9zM308.0 75.2h.9v.9h-.9zM319.0 58.0h.9v.9h-.9zM336.5 76.1h.9v.9h-.9zM326.6 74.5h.9v.9h-.9zM329.2 67.6h.9v.9h-.9zM316.4 87.6h.9v.9h-.9zM304.6 67.6h.9v.9h-.9zM322.6 62.7h.9v.9h-.9zM333.5 77.1h.9v.9h-.9zM322.5 75.3h.9v.9h-.9zM320.8 74.7h.9v.9h-.9zM320.5 76.0h.9v.9h-.9zM346.1 73.8h.9v.9h-.9zM339.2 71.9h.9v.9h-.9zM347.2 77.1h.9v.9h-.9zM345.9 71.9h.9v.9h-.9zM350.2 80.6h.9v.9h-.9zM360.9 75.5h.9v.9h-.9zM347.1 78.4h.9v.9h-.9zM344.6 68.3h.9v.9h-.9zM332.9 75.0h.9v.9h-.9zM334.2 75.0h.9v.9h-.9zM335.7 87.4h.9v.9h-.9zM349.4 77.7h.9v.9h-.9zM333.5 72.2h.9v.9h-.9zM346.4 70.7h.9v.9h-.9zM325.2 77.1h.9v.9h-.9zM338.8 78.1h.9v.9h-.9zM338.9 80.9h.9v.9h-.9zM343.7 71.2h.9v.9h-.9zM345.8 83.4h.9v.9h-.9zM339.2 71.5h.9v.9h-.9zM345.3 76.3h.9v.9h-.9zM339.7 82.5h.9v.9h-.9zM337.4 72.2h.9v.9h-.9zM341.6 75.3h.9v.9h-.9zM342.2 74.2h.9v.9h-.9zM344.9 82.9h.9v.9h-.9zM340.4 77.9h.9v.9h-.9zM356.7 76.4h.9v.9h-.9zM334.4 80.6h.9v.9h-.9zM344.0 79.1h.9v.9h-.9zM334.3 76.8h.9v.9h-.9zM341.6 74.9h.9v.9h-.9zM341.9 74.5h.9v.9h-.9zM348.8 84.3h.9v.9h-.9zM344.5 89.3h.9v.9h-.9zM353.5 107.9h.9v.9h-.9zM347.6 83.6h.9v.9h-.9zM342.7 93.7h.9v.9h-.9zM349.9 97.9h.9v.9h-.9zM340.6 92.0h.9v.9h-.9zM345.7 106.7h.9v.9h-.9zM349.2 103.0h.9v.9h-.9zM352.3 91.6h.9v.9h-.9zM354.0 93.6h.9v.9h-.9zM344.7 96.3h.9v.9h-.9zM341.3 81.0h.9v.9h-.9zM345.2 94.8h.9v.9h-.9zM352.7 91.5h.9v.9h-.9zM341.2 97.8h.9v.9h-.9zM348.6 97.5h.9v.9h-.9zM349.4 106.1h.9v.9h-.9zM346.5 93.9h.9v.9h-.9zM343.4 98.9h.9v.9h-.9zM339.6 90.6h.9v.9h-.9zM357.7 101.3h.9v.9h-.9zM336.2 105.4h.9v.9h-.9zM352.9 120.1h.9v.9h-.9zM346.1 87.9h.9v.9h-.9zM353.2 101.0h.9v.9h-.9zM341.6 105.6h.9v.9h-.9zM350.9 110.0h.9v.9h-.9zM345.9 89.4h.9v.9h-.9zM352.5 84.9h.9v.9h-.9zM349.2 108.4h.9v.9h-.9zM353.7 91.9h.9v.9h-.9zM349.8 100.3h.9v.9h-.9zM345.8 100.1h.9v.9h-.9zM355.5 102.0h.9v.9h-.9zM352.6 91.7h.9v.9h-.9zM337.1 94.7h.9v.9h-.9zM329.5 93.3h.9v.9h-.9zM351.7 96.7h.9v.9h-.9zM345.8 92.8h.9v.9h-.9zM350.5 89.2h.9v.9h-.9zM346.9 98.3h.9v.9h-.9zM336.5 100.6h.9v.9h-.9zM343.5 89.7h.9v.9h-.9zM339.6 97.0h.9v.9h-.9zM347.6 95.5h.9v.9h-.9zM348.3 86.5h.9v.9h-.9zM349.1 102.9h.9v.9h-.9zM342.5 110.5h.9v.9h-.9zM341.2 93.4h.9v.9h-.9zM361.2 90.5h.9v.9h-.9zM356.0 79.7h.9v.9h-.9zM347.0 100.7h.9v.9h-.9zM352.3 91.8h.9v.9h-.9zM349.4 110.7h.9v.9h-.9zM347.6 90.2h.9v.9h-.9zM351.0 89.5h.9v.9h-.9zM345.1 106.2h.9v.9h-.9zM353.5 100.4h.9v.9h-.9zM363.0 106.0h.9v.9h-.9zM348.3 97.8h.9v.9h-.9zM347.4 92.9h.9v.9h-.9zM349.2 103.0h.9v.9h-.9zM348.8 94.1h.9v.9h-.9zM346.8 94.6h.9v.9h-.9zM344.1 94.1h.9v.9h-.9zM343.3 91.9h.9v.9h-.9zM349.6 87.3h.9v.9h-.9zM356.6 107.5h.9v.9h-.9zM351.4 108.0h.9v.9h-.9zM349.8 103.5h.9v.9h-.9zM342.9 96.3h.9v.9h-.9zM340.9 107.7h.9v.9h-.9zM353.0 103.8h.9v.9h-.9zM355.0 94.5h.9v.9h-.9zM353.9 87.4h.9v.9h-.9zM349.4 101.8h.9v.9h-.9zM347.3 88.7h.9v.9h-.9zM354.0 102.4h.9v.9h-.9zM341.3 79.3h.9v.9h-.9zM346.4 105.0h.9v.9h-.9zM338.3 102.0h.9v.9h-.9zM349.8 90.8h.9v.9h-.9zM351.0 97.1h.9v.9h-.9zM352.7 110.0h.9v.9h-.9zM347.2 101.3h.9v.9h-.9zM348.5 94.4h.9v.9h-.9zM350.9 90.4h.9v.9h-.9zM346.6 101.6h.9v.9h-.9zM348.1 97.6h.9v.9h-.9zM357.5 92.3h.9v.9h-.9zM347.2 92.7h.9v.9h-.9zM350.2 86.6h.9v.9h-.9zM341.7 97.4h.9v.9h-.9zM345.8 92.5h.9v.9h-.9zM349.9 92.6h.9v.9h-.9zM345.4 100.3h.9v.9h-.9zM353.5 86.9h.9v.9h-.9zM343.4 98.1h.9v.9h-.9zM347.2 102.0h.9v.9h-.9zM345.6 99.5h.9v.9h-.9zM353.7 95.1h.9v.9h-.9zM353.6 98.7h.9v.9h-.9zM348.8 102.3h.9v.9h-.9zM348.4 100.1h.9v.9h-.9zM354.0 101.2h.9v.9h-.9zM352.6 89.8h.9v.9h-.9zM342.0 98.1h.9v.9h-.9zM341.6 97.7h.9v.9h-.9zM349.4 93.8h.9v.9h-.9zM347.5 101.8h.9v.9h-.9zM352.2 101.0h.9v.9h-.9zM349.3 107.6h.9v.9h-.9zM349.9 99.0h.9v.9h-.9zM336.1 99.3h.9v.9h-.9zM347.3 93.4h.9v.9h-.9zM343.4 90.1h.9v.9h-.9zM347.3 95.5h.9v.9h-.9zM344.2 91.6h.9v.9h-.9zM346.3 96.9h.9v.9h-.9zM357.4 109.8h.9v.9h-.9zM341.3 98.0h.9v.9h-.9zM349.1 98.2h.9v.9h-.9zM340.0 83.8h.9v.9h-.9zM346.5 97.5h.9v.9h-.9zM355.7 90.4h.9v.9h-.9zM349.9 92.6h.9v.9h-.9zM351.3 98.7h.9v.9h-.9zM338.1 93.3h.9v.9h-.9zM344.0 92.0h.9v.9h-.9zM341.4 103.5h.9v.9h-.9zM351.9 99.4h.9v.9h-.9zM341.8 89.6h.9v.9h-.9zM343.6 107.7h.9v.9h-.9zM345.0 100.5h.9v.9h-.9zM350.7 99.6h.9v.9h-.9zM343.6 100.4h.9v.9h-.9zM349.0 102.2h.9v.9h-.9zM354.2 90.1h.9v.9h-.9zM351.3 94.1h.9v.9h-.9zM344.6 90.3h.9v.9h-.9zM347.1 86.7h.9v.9h-.9zM352.7 95.9h.9v.9h-.9zM343.9 97.7h.9v.9h-.9zM339.2 80.5h.9v.9h-.9zM336.9 99.8h.9v.9h-.9zM347.6 103.2h.9v.9h-.9zM351.4 93.1h.9v.9h-.9zM349.1 98.6h.9v.9h-.9zM345.8 111.3h.9v.9h-.9zM346.6 101.6h.9v.9h-.9zM347.6 100.3h.9v.9h-.9zM347.6 91.7h.9v.9h-.9zM344.9 95.6h.9v.9h-.9zM346.1 97.4h.9v.9h-.9zM345.5 101.6h.9v.9h-.9zM344.2 90.0h.9v.9h-.9zM344.4 95.0h.9v.9h-.9zM341.2 108.2h.9v.9h-.9zM346.9 104.0h.9v.9h-.9zM347.7 90.1h.9v.9h-.9zM346.9 95.4h.9v.9h-.9zM353.0 104.4h.9v.9h-.9zM353.6 90.2h.9v.9h-.9zM349.9 91.0h.9v.9h-.9zM331.6 98.1h.9v.9h-.9zM339.5 100.7h.9v.9h-.9zM352.2 102.3h.9v.9h-.9zM351.8 97.8h.9v.9h-.9zM353.3 98.0h.9v.9h-.9zM337.8 99.7h.9v.9h-.9zM341.5 96.9h.9v.9h-.9zM353.0 100.1h.9v.9h-.9zM352.7 96.4h.9v.9h-.9zM353.1 103.8h.9v.9h-.9zM349.4 109.5h.9v.9h-.9zM344.2 101.3h.9v.9h-.9zM344.8 101.1h.9v.9h-.9zM348.0 101.9h.9v.9h-.9zM346.1 84.2h.9v.9h-.9zM345.1 95.6h.9v.9h-.9zM348.9 93.0h.9v.9h-.9zM337.7 100.9h.9v.9h-.9zM342.8 96.8h.9v.9h-.9zM349.8 92.4h.9v.9h-.9zM347.2 96.3h.9v.9h-.9zM344.0 102.1h.9v.9h-.9zM343.9 92.8h.9v.9h-.9zM347.9 98.5h.9v.9h-.9zM342.1 102.4h.9v.9h-.9zM346.0 104.7h.9v.9h-.9zM353.2 88.4h.9v.9h-.9zM357.9 93.7h.9v.9h-.9zM349.2 95.9h.9v.9h-.9zM346.3 98.8h.9v.9h-.9zM347.9 97.2h.9v.9h-.9zM350.9 92.8h.9v.9h-.9zM349.2 90.7h.9v.9h-.9zM342.0 102.0h.9v.9h-.9zM342.6 98.8h.9v.9h-.9zM345.7 89.3h.9v.9h-.9zM350.2 88.7h.9v.9h-.9zM342.7 91.2h.9v.9h-.9zM353.7 94.1h.9v.9h-.9zM356.9 92.9h.9v.9h-.9zM348.5 91.9h.9v.9h-.9zM342.7 100.5h.9v.9h-.9zM339.2 96.1h.9v.9h-.9zM342.1 96.6h.9v.9h-.9zM346.7 92.9h.9v.9h-.9zM344.2 90.7h.9v.9h-.9zM349.1 85.4h.9v.9h-.9zM345.1 104.5h.9v.9h-.9zM339.3 97.6h.9v.9h-.9zM354.1 98.5h.9v.9h-.9zM344.5 86.5h.9v.9h-.9zM348.0 95.9h.9v.9h-.9zM352.6 108.6h.9v.9h-.9zM344.8 107.6h.9v.9h-.9zM357.1 103.5h.9v.9h-.9zM357.5 88.0h.9v.9h-.9zM343.5 110.7h.9v.9h-.9zM343.3 102.9h.9v.9h-.9zM356.9 89.4h.9v.9h-.9zM350.1 89.5h.9v.9h-.9zM343.4 104.5h.9v.9h-.9zM338.7 96.5h.9v.9h-.9zM348.6 88.8h.9v.9h-.9zM358.4 86.8h.9v.9h-.9zM354.0 100.3h.9v.9h-.9zM344.1 97.3h.9v.9h-.9zM351.2 88.4h.9v.9h-.9zM357.4 101.9h.9v.9h-.9zM343.5 104.0h.9v.9h-.9zM349.1 92.9h.9v.9h-.9zM351.7 93.3h.9v.9h-.9zM347.8 90.2h.9v.9h-.9zM339.4 104.4h.9v.9h-.9zM343.9 100.0h.9v.9h-.9zM349.8 98.2h.9v.9h-.9zM356.2 104.3h.9v.9h-.9zM349.6 96.8h.9v.9h-.9zM342.7 97.9h.9v.9h-.9zM343.1 102.3h.9v.9h-.9zM349.4 104.4h.9v.9h-.9zM337.0 96.4h.9v.9h-.9zM345.8 104.7h.9v.9h-.9zM336.6 100.0h.9v.9h-.9zM338.3 88.5h.9v.9h-.9zM355.5 97.3h.9v.9h-.9zM351.2 93.3h.9v.9h-.9zM356.3 89.7h.9v.9h-.9zM354.8 93.9h.9v.9h-.9zM344.4 89.3h.9v.9h-.9zM346.2 94.5h.9v.9h-.9zM353.8 87.3h.9v.9h-.9zM346.6 100.2h.9v.9h-.9zM349.4 100.9h.9v.9h-.9zM344.7 109.8h.9v.9h-.9zM345.6 99.1h.9v.9h-.9zM337.9 94.2h.9v.9h-.9zM348.5 96.5h.9v.9h-.9zM340.6 100.9h.9v.9h-.9zM351.4 88.4h.9v.9h-.9zM343.2 106.8h.9v.9h-.9zM344.4 101.6h.9v.9h-.9zM355.8 91.3h.9v.9h-.9zM345.8 90.0h.9v.9h-.9zM343.7 108.1h.9v.9h-.9zM348.0 106.0h.9v.9h-.9zM346.2 95.7h.9v.9h-.9zM361.6 88.4h.9v.9h-.9zM346.6 97.9h.9v.9h-.9zM351.7 96.1h.9v.9h-.9zM343.6 88.2h.9v.9h-.9zM347.1 100.4h.9v.9h-.9zM346.6 95.6h.9v.9h-.9zM344.4 98.2h.9v.9h-.9zM361.9 92.9h.9v.9h-.9zM354.8 97.7h.9v.9h-.9zM359.3 95.4h.9v.9h-.9zM337.4 99.4h.9v.9h-.9zM348.3 93.9h.9v.9h-.9zM355.9 95.4h.9v.9h-.9zM343.5 97.6h.9v.9h-.9zM347.0 96.2h.9v.9h-.9zM351.3 97.5h.9v.9h-.9zM339.3 102.4h.9v.9h-.9zM344.0 99.3h.9v.9h-.9zM343.7 96.7h.9v.9h-.9zM347.7 97.7h.9v.9h-.9zM353.1 96.9h.9v.9h-.9zM348.1 82.0h.9v.9h-.9zM354.0 89.6h.9v.9h-.9zM351.7 92.8h.9v.9h-.9zM349.4 86.5h.9v.9h-.9zM343.4 90.4h.9v.9h-.9zM350.9 93.0h.9v.9h-.9zM343.8 101.9h.9v.9h-.9zM347.5 93.2h.9v.9h-.9zM350.2 96.6h.9v.9h-.9zM354.3 86.5h.9v.9h-.9zM344.0 98.7h.9v.9h-.9zM344.7 94.2h.9v.9h-.9zM347.0 107.3h.9v.9h-.9zM354.8 110.1h.9v.9h-.9zM346.2 92.4h.9v.9h-.9zM350.3 92.9h.9v.9h-.9zM341.7 97.2h.9v.9h-.9zM352.8 94.0h.9v.9h-.9zM348.9 100.4h.9v.9h-.9zM345.9 94.7h.9v.9h-.9zM341.6 89.9h.9v.9h-.9zM348.6 93.8h.9v.9h-.9zM353.9 111.1h.9v.9h-.9zM346.3 99.2h.9v.9h-.9zM346.0 92.4h.9v.9h-.9zM339.4 110.2h.9v.9h-.9zM353.5 100.5h.9v.9h-.9zM337.7 93.8h.9v.9h-.9zM319.4 92.1h.9v.9h-.9zM322.0 90.4h.9v.9h-.9zM320.9 99.3h.9v.9h-.9zM318.9 93.5h.9v.9h-.9zM321.1 90.2h.9v.9h-.9zM318.6 110.5h.9v.9h-.9zM311.4 89.5h.9v.9h-.9zM325.3 85.9h.9v.9h-.9zM314.1 98.4h.9v.9h-.9zM317.8 96.9h.9v.9h-.9zM323.7 99.0h.9v.9h-.9zM319.0 91.4h.9v.9h-.9zM316.3 95.0h.9v.9h-.9zM317.1 106.6h.9v.9h-.9zM314.5 92.0h.9v.9h-.9zM324.2 98.1h.9v.9h-.9zM323.2 99.4h.9v.9h-.9zM321.0 95.9h.9v.9h-.9zM322.5 91.1h.9v.9h-.9zM313.5 103.4h.9v.9h-.9zM317.5 93.2h.9v.9h-.9zM319.0 96.8h.9v.9h-.9zM320.4 86.9h.9v.9h-.9zM320.9 115.0h.9v.9h-.9zM319.4 92.4h.9v.9h-.9zM314.4 94.9h.9v.9h-.9zM325.7 106.4h.9v.9h-.9zM309.4 92.8h.9v.9h-.9zM320.6 104.5h.9v.9h-.9zM321.5 109.2h.9v.9h-.9zM323.5 100.7h.9v.9h-.9zM315.4 107.1h.9v.9h-.9zM324.7 98.1h.9v.9h-.9zM314.8 97.1h.9v.9h-.9zM316.5 97.8h.9v.9h-.9zM315.4 103.1h.9v.9h-.9zM317.3 93.4h.9v.9h-.9zM320.5 88.9h.9v.9h-.9zM312.6 98.9h.9v.9h-.9zM312.9 99.4h.9v.9h-.9zM324.8 104.9h.9v.9h-.9zM319.3 103.6h.9v.9h-.9zM319.4 115.5h.9v.9h-.9zM313.0 98.0h.9v.9h-.9zM313.7 103.1h.9v.9h-.9zM315.4 102.4h.9v.9h-.9zM324.8 85.2h.9v.9h-.9zM318.3 95.6h.9v.9h-.9zM325.6 92.9h.9v.9h-.9zM330.0 88.0h.9v.9h-.9zM310.1 93.8h.9v.9h-.9zM321.7 91.3h.9v.9h-.9zM319.1 96.3h.9v.9h-.9zM320.8 98.3h.9v.9h-.9zM320.7 89.5h.9v.9h-.9zM316.2 96.6h.9v.9h-.9zM323.4 94.9h.9v.9h-.9zM316.8 100.7h.9v.9h-.9zM309.6 94.9h.9v.9h-.9zM322.3 100.8h.9v.9h-.9zM324.2 95.5h.9v.9h-.9zM325.6 105.3h.9v.9h-.9zM322.7 95.2h.9v.9h-.9zM325.0 95.9h.9v.9h-.9zM320.7 89.2h.9v.9h-.9zM337.7 33.4h.9v.9h-.9zM332.9 85.7h.9v.9h-.9zM344.9 33.7h.9v.9h-.9zM375.7 92.0h.9v.9h-.9zM317.3 42.3h.9v.9h-.9z"/>
<path fill="#000" fill-opacity="0.5" d="M329.0 67.8h.9v.9h-.9zM333.4 69.1h.9v.9h-.9zM319.5 73.7h.9v.9h-.9zM319.8 70.3h.9v.9h-.9zM323.1 73.0h.9v.9h-.9zM329.2 68.0h.9v.9h-.9zM322.0 69.1h.9v.9h-.9zM323.6 67.7h.9v.9h-.9zM313.0 67.5h.9v.9h-.9zM317.5 71.0h.9v.9h-.9zM326.7 71.2h.9v.9h-.9zM314.1 71.7h.9v.9h-.9zM317.4 74.1h.9v.9h-.9zM317.4 76.2h.9v.9h-.9zM319.5 69.9h.9v.9h-.9zM321.4 73.0h.9v.9h-.9zM323.1 70.5h.9v.9h-.9zM323.1 71.2h.9v.9h-.9zM331.0 69.9h.9v.9h-.9zM319.3 69.7h.9v.9h-.9zM314.7 67.7h.9v.9h-.9zM326.0 73.2h.9v.9h-.9zM312.3 73.0h.9v.9h-.9zM317.0 72.8h.9v.9h-.9zM328.4 71.8h.9v.9h-.9zM320.3 70.4h.9v.9h-.9zM326.3 72.6h.9v.9h-.9zM326.0 71.7h.9v.9h-.9zM327.1 73.9h.9v.9h-.9zM316.8 73.7h.9v.9h-.9zM325.2 65.7h.9v.9h-.9zM325.6 71.3h.9v.9h-.9zM323.6 70.7h.9v.9h-.9zM322.2 73.3h.9v.9h-.9zM326.8 68.6h.9v.9h-.9zM321.0 68.7h.9v.9h-.9zM318.8 71.4h.9v.9h-.9zM318.9 69.3h.9v.9h-.9zM319.8 71.5h.9v.9h-.9zM323.2 73.6h.9v.9h-.9zM316.8 74.7h.9v.9h-.9zM330.0 70.5h.9v.9h-.9zM327.5 66.3h.9v.9h-.9zM326.5 75.0h.9v.9h-.9zM325.2 69.1h.9v.9h-.9zM317.9 71.7h.9v.9h-.9zM317.7 75.4h.9v.9h-.9zM327.2 67.5h.9v.9h-.9zM316.6 68.7h.9v.9h-.9zM319.2 73.2h.9v.9h-.9zM325.9 69.7h.9v.9h-.9zM325.9 68.8h.9v.9h-.9zM318.8 68.2h.9v.9h-.9zM327.9 70.5h.9v.9h-.9zM331.0 74.7h.9v.9h-.9zM327.2 71.4h.9v.9h-.9zM319.4 72.9h.9v.9h-.9zM320.0 74.6h.9v.9h-.9zM318.3 68.6h.9v.9h-.9zM319.8 70.6h.9v.9h-.9zM326.0 70.8h.9v.9h-.9zM318.6 70.7h.9v.9h-.9zM329.5 75.0h.9v.9h-.9zM319.3 72.7h.9v.9h-.9zM320.7 73.5h.9v.9h-.9zM325.0 72.5h.9v.9h-.9zM318.7 68.1h.9v.9h-.9zM323.8 71.0h.9v.9h-.9zM324.3 73.1h.9v.9h-.9zM315.5 71.6h.9v.9h-.9zM317.9 72.7h.9v.9h-.9zM317.4 69.2h.9v.9h-.9zM327.3 68.7h.9v.9h-.9zM319.3 73.7h.9v.9h-.9zM329.7 68.5h.9v.9h-.9zM318.2 71.8h.9v.9h-.9zM317.9 75.8h.9v.9h-.9zM311.8 71.7h.9v.9h-.9zM316.1 71.4h.9v.9h-.9zM319.7 79.2h.9v.9h-.9zM319.2 66.8h.9v.9h-.9zM303.1 70.3h.9v.9h-.9zM325.3 71.0h.9v.9h-.9zM318.5 72.7h.9v.9h-.9zM320.2 73.5h.9v.9h-.9zM326.3 71.9h.9v.9h-.9zM315.8 68.8h.9v.9h-.9zM324.8 64.9h.9v.9h-.9zM319.7 73.2h.9v.9h-.9zM319.9 68.5h.9v.9h-.9zM317.8 74.1h.9v.9h-.9zM323.0 63.3h.9v.9h-.9zM325.7 71.9h.9v.9h-.9zM317.3 63.9h.9v.9h-.9zM327.4 76.4h.9v.9h-.9zM312.8 73.0h.9v.9h-.9zM329.7 71.8h.9v.9h-.9zM321.5 76.1h.9v.9h-.9zM326.5 72.4h.9v.9h-.9zM318.3 72.0h.9v.9h-.9zM313.0 73.5h.9v.9h-.9zM316.6 75.5h.9v.9h-.9zM323.8 76.2h.9v.9h-.9zM321.7 74.6h.9v.9h-.9zM317.8 70.1h.9v.9h-.9zM315.7 75.5h.9v.9h-.9zM319.4 73.5h.9v.9h-.9zM314.0 73.6h.9v.9h-.9zM323.9 68.7h.9v.9h-.9zM322.1 66.0h.9v.9h-.9zM328.2 75.9h.9v.9h-.9zM327.9 69.3h.9v.9h-.9zM315.5 68.4h.9v.9h-.9zM332.0 72.2h.9v.9h-.9zM322.7 72.2h.9v.9h-.9zM324.2 70.4h.9v.9h-.9zM316.5 71.9h.9v.9h-.9zM326.5 72.9h.9v.9h-.9zM318.9 74.6h.9v.9h-.9zM320.3 76.8h.9v.9h-.9zM329.6 68.3h.9v.9h-.9zM325.1 70.9h.9v.9h-.9zM319.0 71.9h.9v.9h-.9zM322.7 71.9h.9v.9h-.9zM314.6 71.4h.9v.9h-.9zM323.9 66.6h.9v.9h-.9zM329.4 75.3h.9v.9h-.9zM321.9 77.2h.9v.9h-.9zM316.6 68.2h.9v.9h-.9zM319.0 71.8h.9v.9h-.9zM325.5 72.8h.9v.9h-.9zM315.6 70.0h.9v.9h-.9zM319.9 69.9h.9v.9h-.9zM327.6 75.1h.9v.9h-.9zM323.2 67.3h.9v.9h-.9zM323.9 70.6h.9v.9h-.9zM315.9 68.0h.9v.9h-.9zM314.1 68.6h.9v.9h-.9zM312.4 72.7h.9v.9h-.9zM319.1 71.1h.9v.9h-.9zM324.5 70.4h.9v.9h-.9zM331.2 69.0h.9v.9h-.9zM312.8 71.4h.9v.9h-.9zM322.4 75.7h.9v.9h-.9zM313.5 66.7h.9v.9h-.9zM323.3 68.2h.9v.9h-.9zM319.9 71.1h.9v.9h-.9zM314.9 66.4h.9v.9h-.9zM315.0 67.1h.9v.9h-.9zM320.0 71.3h.9v.9h-.9zM320.3 71.9h.9v.9h-.9zM320.2 72.2h.9v.9h-.9zM308.7 69.1h.9v.9h-.9zM328.7 72.9h.9v.9h-.9zM320.7 74.5h.9v.9h-.9zM330.3 69.9h.9v.9h-.9zM321.3 71.8h.9v.9h-.9zM321.6 72.7h.9v.9h-.9zM313.3 70.6h.9v.9h-.9zM311.7 77.9h.9v.9h-.9zM313.7 70.2h.9v.9h-.9zM321.8 65.1h.9v.9h-.9zM327.2 73.7h.9v.9h-.9zM323.8 70.6h.9v.9h-.9zM318.7 76.5h.9v.9h-.9zM318.6 70.9h.9v.9h-.9zM319.6 71.9h.9v.9h-.9zM316.0 71.7h.9v.9h-.9zM316.2 73.6h.9v.9h-.9zM325.5 79.8h.9v.9h-.9zM317.1 69.8h.9v.9h-.9zM311.2 72.5h.9v.9h-.9zM321.3 71.8h.9v.9h-.9zM313.7 68.8h.9v.9h-.9zM328.4 71.7h.9v.9h-.9zM318.1 68.2h.9v.9h-.9zM310.5 69.8h.9v.9h-.9zM321.7 71.5h.9v.9h-.9zM320.6 74.4h.9v.9h-.9zM311.0 67.3h.9v.9h-.9zM325.2 67.2h.9v.9h-.9zM323.7 70.8h.9v.9h-.9zM319.4 67.8h.9v.9h-.9zM315.5 72.8h.9v.9h-.9zM323.0 73.4h.9v.9h-.9zM315.9 65.8h.9v.9h-.9zM326.4 69.4h.9v.9h-.9zM315.4 68.3h.9v.9h-.9zM323.7 70.9h.9v.9h-.9zM313.1 73.4h.9v.9h-.9zM315.1 68.7h.9v.9h-.9zM319.0 67.2h.9v.9h-.9zM319.6 70.4h.9v.9h-.9zM322.4 69.8h.9v.9h-.9zM329.9 71.6h.9v.9h-.9zM310.6 69.0h.9v.9h-.9zM319.6 71.3h.9v.9h-.9zM325.8 72.4h.9v.9h-.9zM327.1 69.1h.9v.9h-.9zM320.1 63.3h.9v.9h-.9zM320.0 67.5h.9v.9h-.9zM322.6 70.3h.9v.9h-.9zM325.5 68.4h.9v.9h-.9zM314.6 67.0h.9v.9h-.9zM323.0 76.1h.9v.9h-.9zM321.9 72.3h.9v.9h-.9zM314.3 73.4h.9v.9h-.9zM324.5 71.9h.9v.9h-.9zM319.7 71.2h.9v.9h-.9zM325.2 69.1h.9v.9h-.9zM315.0 72.6h.9v.9h-.9zM317.3 77.3h.9v.9h-.9zM318.3 75.0h.9v.9h-.9zM321.6 74.2h.9v.9h-.9zM329.9 68.0h.9v.9h-.9zM326.5 77.9h.9v.9h-.9zM323.2 71.7h.9v.9h-.9zM328.9 71.9h.9v.9h-.9zM314.9 69.6h.9v.9h-.9zM327.9 66.4h.9v.9h-.9zM310.7 69.6h.9v.9h-.9zM315.4 73.7h.9v.9h-.9zM323.8 66.6h.9v.9h-.9zM316.2 72.0h.9v.9h-.9zM323.0 70.7h.9v.9h-.9zM325.1 72.3h.9v.9h-.9zM309.7 75.8h.9v.9h-.9zM323.8 70.3h.9v.9h-.9zM322.5 74.4h.9v.9h-.9zM325.1 75.4h.9v.9h-.9zM319.3 72.4h.9v.9h-.9zM323.4 73.7h.9v.9h-.9zM317.7 73.4h.9v.9h-.9zM312.3 71.3h.9v.9h-.9zM317.0 72.5h.9v.9h-.9zM311.8 69.1h.9v.9h-.9zM328.9 74.2h.9v.9h-.9zM327.6 74.7h.9v.9h-.9zM323.7 70.4h.9v.9h-.9zM319.1 70.9h.9v.9h-.9zM317.4 71.5h.9v.9h-.9zM330.7 72.2h.9v.9h-.9zM324.8 67.6h.9v.9h-.9zM323.1 71.3h.9v.9h-.9zM330.2 70.7h.9v.9h-.9zM329.2 69.5h.9v.9h-.9zM328.0 76.3h.9v.9h-.9zM310.1 64.1h.9v.9h-.9zM332.5 72.8h.9v.9h-.9zM317.3 67.2h.9v.9h-.9zM321.6 68.8h.9v.9h-.9zM322.7 71.1h.9v.9h-.9zM306.8 71.8h.9v.9h-.9zM321.7 69.3h.9v.9h-.9zM313.3 69.0h.9v.9h-.9zM324.9 72.2h.9v.9h-.9zM317.4 71.5h.9v.9h-.9zM315.1 68.7h.9v.9h-.9zM313.0 72.4h.9v.9h-.9zM325.2 73.6h.9v.9h-.9zM322.4 69.7h.9v.9h-.9zM313.3 66.4h.9v.9h-.9zM313.4 67.5h.9v.9h-.9zM314.5 67.7h.9v.9h-.9zM316.4 70.8h.9v.9h-.9zM326.0 70.9h.9v.9h-.9zM316.9 69.2h.9v.9h-.9zM322.8 70.2h.9v.9h-.9zM310.1 69.1h.9v.9h-.9zM324.6 68.1h.9v.9h-.9zM323.3 66.9h.9v.9h-.9zM306.8 70.9h.9v.9h-.9zM321.5 70.8h.9v.9h-.9zM317.6 69.6h.9v.9h-.9zM326.6 68.0h.9v.9h-.9zM326.4 67.1h.9v.9h-.9zM323.9 72.2h.9v.9h-.9zM334.9 72.3h.9v.9h-.9zM312.1 71.6h.9v.9h-.9zM330.0 75.3h.9v.9h-.9zM319.5 71.3h.9v.9h-.9zM330.0 70.2h.9v.9h-.9zM318.6 68.5h.9v.9h-.9zM329.3 71.5h.9v.9h-.9zM321.0 69.8h.9v.9h-.9zM316.9 69.5h.9v.9h-.9zM312.9 69.2h.9v.9h-.9zM323.3 71.0h.9v.9h-.9zM319.4 68.9h.9v.9h-.9zM312.3 66.8h.9v.9h-.9zM320.2 78.1h.9v.9h-.9zM322.8 71.1h.9v.9h-.9zM309.2 67.5h.9v.9h-.9zM328.4 73.6h.9v.9h-.9zM316.3 73.2h.9v.9h-.9zM315.7 74.8h.9v.9h-.9zM319.1 68.3h.9v.9h-.9zM320.2 65.7h.9v.9h-.9zM318.3 71.2h.9v.9h-.9zM327.3 66.0h.9v.9h-.9zM319.7 69.5h.9v.9h-.9zM320.8 70.2h.9v.9h-.9zM315.9 78.2h.9v.9h-.9zM319.7 73.4h.9v.9h-.9zM326.7 66.6h.9v.9h-.9zM320.9 72.8h.9v.9h-.9zM318.8 73.0h.9v.9h-.9zM322.9 73.5h.9v.9h-.9zM312.5 69.2h.9v.9h-.9zM320.5 75.0h.9v.9h-.9zM317.7 73.6h.9v.9h-.9zM321.7 76.6h.9v.9h-.9zM328.1 73.7h.9v.9h-.9zM313.4 64.1h.9v.9h-.9zM327.3 73.1h.9v.9h-.9zM321.8 70.4h.9v.9h-.9zM334.3 71.6h.9v.9h-.9zM324.8 76.6h.9v.9h-.9zM324.2 72.5h.9v.9h-.9zM322.4 69.7h.9v.9h-.9zM325.6 69.6h.9v.9h-.9zM311.0 71.3h.9v.9h-.9zM324.1 69.0h.9v.9h-.9zM316.5 69.1h.9v.9h-.9zM333.1 69.9h.9v.9h-.9zM316.9 72.3h.9v.9h-.9zM318.8 70.2h.9v.9h-.9zM322.2 76.2h.9v.9h-.9zM317.6 72.0h.9v.9h-.9zM326.8 73.9h.9v.9h-.9zM320.8 72.6h.9v.9h-.9zM314.0 64.5h.9v.9h-.9zM330.8 67.3h.9v.9h-.9zM333.2 68.6h.9v.9h-.9zM318.2 69.8h.9v.9h-.9zM318.8 68.2h.9v.9h-.9zM315.8 69.1h.9v.9h-.9zM319.4 67.5h.9v.9h-.9zM322.8 73.0h.9v.9h-.9zM320.8 75.2h.9v.9h-.9zM320.4 69.3h.9v.9h-.9zM328.5 75.4h.9v.9h-.9zM325.7 72.4h.9v.9h-.9zM324.5 73.0h.9v.9h-.9zM319.0 68.4h.9v.9h-.9zM320.6 72.4h.9v.9h-.9zM319.3 74.0h.9v.9h-.9zM323.0 72.6h.9v.9h-.9zM324.3 72.7h.9v.9h-.9zM319.4 70.8h.9v.9h-.9zM312.3 69.4h.9v.9h-.9zM317.3 71.5h.9v.9h-.9zM317.6 68.9h.9v.9h-.9zM316.5 70.0h.9v.9h-.9zM321.6 69.5h.9v.9h-.9zM315.6 70.1h.9v.9h-.9zM322.5 76.7h.9v.9h-.9zM325.5 70.4h.9v.9h-.9zM328.4 65.3h.9v.9h-.9zM318.3 71.5h.9v.9h-.9zM323.2 64.6h.9v.9h-.9zM321.7 67.3h.9v.9h-.9zM317.7 66.3h.9v.9h-.9zM324.8 79.7h.9v.9h-.9zM311.5 73.3h.9v.9h-.9zM325.7 65.7h.9v.9h-.9zM313.4 73.0h.9v.9h-.9zM323.5 74.6h.9v.9h-.9zM328.3 67.9h.9v.9h-.9zM321.7 73.3h.9v.9h-.9zM322.5 71.6h.9v.9h-.9zM319.2 74.1h.9v.9h-.9zM325.9 69.8h.9v.9h-.9zM323.4 73.9h.9v.9h-.9zM319.7 72.4h.9v.9h-.9zM323.9 74.0h.9v.9h-.9zM324.6 70.9h.9v.9h-.9zM324.1 69.9h.9v.9h-.9zM323.4 69.7h.9v.9h-.9zM318.4 72.7h.9v.9h-.9zM330.8 72.3h.9v.9h-.9zM316.2 74.4h.9v.9h-.9zM319.1 68.7h.9v.9h-.9zM320.7 72.6h.9v.9h-.9zM318.4 70.8h.9v.9h-.9zM327.0 68.5h.9v.9h-.9zM322.6 69.9h.9v.9h-.9zM308.2 70.8h.9v.9h-.9zM323.1 73.5h.9v.9h-.9zM324.7 70.0h.9v.9h-.9zM317.3 65.2h.9v.9h-.9zM326.6 71.0h.9v.9h-.9zM320.9 69.5h.9v.9h-.9zM318.8 70.2h.9v.9h-.9zM316.8 72.3h.9v.9h-.9zM320.2 72.9h.9v.9h-.9zM316.3 73.0h.9v.9h-.9zM324.5 68.3h.9v.9h-.9zM315.0 66.7h.9v.9h-.9zM312.7 68.4h.9v.9h-.9zM313.9 69.9h.9v.9h-.9zM324.0 74.0h.9v.9h-.9zM319.8 73.5h.9v.9h-.9zM324.8 66.9h.9v.9h-.9zM316.6 64.7h.9v.9h-.9zM317.0 67.0h.9v.9h-.9zM324.2 70.7h.9v.9h-.9zM327.2 67.1h.9v.9h-.9zM308.0 66.9h.9v.9h-.9zM317.3 74.7h.9v.9h-.9zM321.2 71.6h.9v.9h-.9zM324.9 68.3h.9v.9h-.9zM319.8 76.2h.9v.9h-.9zM313.0 71.4h.9v.9h-.9zM327.1 75.1h.9v.9h-.9zM328.3 68.8h.9v.9h-.9zM323.8 68.3h.9v.9h-.9zM327.6 68.7h.9v.9h-.9zM320.2 67.4h.9v.9h-.9zM317.6 76.3h.9v.9h-.9zM329.5 71.9h.9v.9h-.9zM324.4 69.3h.9v.9h-.9zM324.9 67.1h.9v.9h-.9zM322.7 72.2h.9v.9h-.9zM317.4 71.2h.9v.9h-.9zM322.8 71.1h.9v.9h-.9zM326.6 74.9h.9v.9h-.9zM323.4 70.8h.9v.9h-.9zM326.1 72.8h.9v.9h-.9zM324.4 66.0h.9v.9h-.9zM320.9 68.5h.9v.9h-.9zM324.4 66.8h.9v.9h-.9zM315.2 71.7h.9v.9h-.9zM324.1 71.3h.9v.9h-.9zM323.2 68.2h.9v.9h-.9zM325.9 72.6h.9v.9h-.9zM311.1 72.2h.9v.9h-.9zM312.2 70.8h.9v.9h-.9zM310.8 72.5h.9v.9h-.9zM317.5 76.0h.9v.9h-.9zM320.0 67.6h.9v.9h-.9zM328.2 76.5h.9v.9h-.9zM327.6 73.0h.9v.9h-.9zM320.7 76.1h.9v.9h-.9zM305.5 71.6h.9v.9h-.9zM320.9 78.0h.9v.9h-.9zM321.4 66.7h.9v.9h-.9zM314.0 72.8h.9v.9h-.9zM319.9 71.9h.9v.9h-.9zM315.8 72.3h.9v.9h-.9zM315.7 69.8h.9v.9h-.9zM311.5 70.9h.9v.9h-.9zM315.9 68.7h.9v.9h-.9zM319.1 68.8h.9v.9h-.9zM313.1 68.7h.9v.9h-.9zM319.3 66.0h.9v.9h-.9zM320.6 71.6h.9v.9h-.9zM327.1 71.7h.9v.9h-.9zM325.2 68.6h.9v.9h-.9zM304.2 74.7h.9v.9h-.9zM316.2 73.3h.9v.9h-.9zM316.1 71.1h.9v.9h-.9zM323.2 73.5h.9v.9h-.9zM314.9 75.1h.9v.9h-.9zM316.5 69.8h.9v.9h-.9zM331.3 71.0h.9v.9h-.9zM317.8 71.9h.9v.9h-.9zM314.5 69.1h.9v.9h-.9zM318.2 73.1h.9v.9h-.9zM327.7 75.9h.9v.9h-.9zM312.0 71.0h.9v.9h-.9zM320.2 71.3h.9v.9h-.9zM319.1 69.0h.9v.9h-.9zM321.9 71.4h.9v.9h-.9zM321.7 70.5h.9v.9h-.9zM320.1 69.2h.9v.9h-.9zM318.3 69.9h.9v.9h-.9zM323.6 67.8h.9v.9h-.9zM317.3 72.6h.9v.9h-.9zM329.0 71.2h.9v.9h-.9zM328.3 69.0h.9v.9h-.9zM326.7 71.2h.9v.9h-.9zM315.3 71.6h.9v.9h-.9zM322.4 68.2h.9v.9h-.9zM315.8 71.5h.9v.9h-.9zM317.8 70.6h.9v.9h-.9zM322.6 70.0h.9v.9h-.9zM327.9 68.2h.9v.9h-.9zM321.7 72.0h.9v.9h-.9zM322.4 74.8h.9v.9h-.9zM329.5 73.0h.9v.9h-.9zM325.3 68.0h.9v.9h-.9zM328.9 70.6h.9v.9h-.9zM321.0 69.8h.9v.9h-.9zM328.7 69.8h.9v.9h-.9zM325.8 74.4h.9v.9h-.9zM323.2 72.0h.9v.9h-.9zM325.4 72.5h.9v.9h-.9zM321.9 70.3h.9v.9h-.9zM324.4 70.0h.9v.9h-.9zM314.9 74.3h.9v.9h-.9zM328.4 68.3h.9v.9h-.9zM324.1 71.7h.9v.9h-.9zM326.5 68.8h.9v.9h-.9zM321.7 66.5h.9v.9h-.9zM321.2 71.1h.9v.9h-.9zM326.0 72.4h.9v.9h-.9zM318.8 64.2h.9v.9h-.9zM318.4 70.9h.9v.9h-.9zM315.8 70.4h.9v.9h-.9zM316.7 68.7h.9v.9h-.9zM326.6 62.2h.9v.9h-.9zM317.4 72.0h.9v.9h-.9zM323.1 70.3h.9v.9h-.9zM320.1 68.4h.9v.9h-.9zM327.3 70.4h.9v.9h-.9zM325.1 74.8h.9v.9h-.9zM312.9 71.8h.9v.9h-.9zM311.8 72.9h.9v.9h-.9zM318.9 75.8h.9v.9h-.9zM322.8 72.2h.9v.9h-.9zM346.2 92.6h.9v.9h-.9zM340.7 95.8h.9v.9h-.9zM354.5 94.3h.9v.9h-.9zM352.5 107.3h.9v.9h-.9zM352.9 98.2h.9v.9h-.9zM345.1 103.6h.9v.9h-.9zM348.4 90.8h.9v.9h-.9zM346.4 94.1h.9v.9h-.9zM348.6 104.1h.9v.9h-.9zM350.2 87.4h.9v.9h-.9zM353.1 98.2h.9v.9h-.9zM345.3 88.6h.9v.9h-.9zM349.3 99.8h.9v.9h-.9zM345.2 94.6h.9v.9h-.9zM352.1 100.9h.9v.9h-.9zM347.6 101.2h.9v.9h-.9zM347.0 94.6h.9v.9h-.9zM344.4 104.6h.9v.9h-.9zM348.0 105.2h.9v.9h-.9zM349.0 105.0h.9v.9h-.9zM347.2 102.8h.9v.9h-.9zM353.5 95.9h.9v.9h-.9zM349.8 101.8h.9v.9h-.9zM350.1 93.1h.9v.9h-.9zM342.4 88.5h.9v.9h-.9zM347.5 102.1h.9v.9h-.9zM339.0 89.7h.9v.9h-.9zM342.3 90.6h.9v.9h-.9zM350.3 98.8h.9v.9h-.9zM345.8 100.1h.9v.9h-.9zM345.6 96.2h.9v.9h-.9zM345.1 97.0h.9v.9h-.9zM347.2 92.0h.9v.9h-.9zM345.4 93.9h.9v.9h-.9zM346.2 104.9h.9v.9h-.9zM345.7 95.6h.9v.9h-.9zM345.5 94.5h.9v.9h-.9zM349.7 101.5h.9v.9h-.9zM347.0 93.7h.9v.9h-.9zM345.7 97.6h.9v.9h-.9zM351.7 97.6h.9v.9h-.9zM346.7 90.2h.9v.9h-.9zM355.5 92.5h.9v.9h-.9zM347.9 100.1h.9v.9h-.9zM349.2 96.0h.9v.9h-.9zM344.3 91.0h.9v.9h-.9zM346.9 89.2h.9v.9h-.9zM340.2 83.4h.9v.9h-.9zM344.2 92.4h.9v.9h-.9zM347.6 89.6h.9v.9h-.9zM349.2 105.3h.9v.9h-.9zM345.7 104.1h.9v.9h-.9zM353.5 96.6h.9v.9h-.9zM348.6 94.0h.9v.9h-.9zM348.6 102.4h.9v.9h-.9zM346.2 99.3h.9v.9h-.9zM343.8 93.5h.9v.9h-.9zM350.3 100.5h.9v.9h-.9zM352.1 92.0h.9v.9h-.9zM354.5 99.6h.9v.9h-.9zM346.6 98.7h.9v.9h-.9zM348.8 99.5h.9v.9h-.9zM349.0 93.0h.9v.9h-.9zM347.3 86.5h.9v.9h-.9zM347.8 99.2h.9v.9h-.9zM349.2 85.8h.9v.9h-.9zM344.4 93.3h.9v.9h-.9zM350.3 98.4h.9v.9h-.9zM351.2 98.7h.9v.9h-.9zM353.0 103.9h.9v.9h-.9zM345.7 95.3h.9v.9h-.9zM344.5 103.1h.9v.9h-.9zM350.3 99.6h.9v.9h-.9zM341.1 100.1h.9v.9h-.9zM347.9 97.2h.9v.9h-.9zM346.1 89.7h.9v.9h-.9zM352.4 90.8h.9v.9h-.9zM358.3 96.5h.9v.9h-.9zM353.1 94.1h.9v.9h-.9zM342.9 98.0h.9v.9h-.9zM347.4 97.3h.9v.9h-.9zM347.9 93.3h.9v.9h-.9zM346.1 96.1h.9v.9h-.9zM348.7 87.8h.9v.9h-.9zM348.6 88.3h.9v.9h-.9zM350.6 96.3h.9v.9h-.9zM348.7 104.4h.9v.9h-.9zM351.1 89.8h.9v.9h-.9zM350.4 98.2h.9v.9h-.9zM342.9 90.9h.9v.9h-.9zM350.9 88.0h.9v.9h-.9zM342.8 99.6h.9v.9h-.9zM350.1 96.9h.9v.9h-.9zM343.8 94.4h.9v.9h-.9zM353.5 97.9h.9v.9h-.9zM343.5 90.8h.9v.9h-.9zM346.9 92.0h.9v.9h-.9zM354.4 94.4h.9v.9h-.9zM340.7 103.6h.9v.9h-.9zM346.6 93.0h.9v.9h-.9zM355.8 85.6h.9v.9h-.9zM349.9 88.0h.9v.9h-.9zM348.5 95.7h.9v.9h-.9zM350.0 97.2h.9v.9h-.9zM347.4 92.6h.9v.9h-.9zM344.4 98.6h.9v.9h-.9zM342.5 90.3h.9v.9h-.9z"/>
<path fill="#000" fill-opacity="0.7" d="M318.6 75.6h.9v.9h-.9zM320.4 66.3h.9v.9h-.9zM326.0 70.8h.9v.9h-.9zM319.5 67.2h.9v.9h-.9zM321.1 77.5h.9v.9h-.9zM321.5 72.5h.9v.9h-.9zM314.1 69.2h.9v.9h-.9zM319.5 75.3h.9v.9h-.9zM318.2 71.4h.9v.9h-.9zM323.3 66.2h.9v.9h-.9zM326.1 77.0h.9v.9h-.9zM315.3 74.3h.9v.9h-.9zM321.1 68.4h.9v.9h-.9zM314.5 75.9h.9v.9h-.9zM331.2 69.3h.9v.9h-.9zM318.7 68.4h.9v.9h-.9zM306.9 72.2h.9v.9h-.9zM321.2 71.0h.9v.9h-.9zM318.7 72.2h.9v.9h-.9zM314.8 69.5h.9v.9h-.9zM313.2 72.1h.9v.9h-.9zM314.8 71.6h.9v.9h-.9zM319.0 70.2h.9v.9h-.9zM322.4 69.3h.9v.9h-.9zM315.1 74.5h.9v.9h-.9zM327.2 72.1h.9v.9h-.9zM320.4 70.6h.9v.9h-.9zM316.2 72.1h.9v.9h-.9zM307.9 72.5h.9v.9h-.9zM309.9 73.6h.9v.9h-.9zM318.5 67.6h.9v.9h-.9zM327.8 62.4h.9v.9h-.9zM325.4 74.0h.9v.9h-.9zM320.6 69.7h.9v.9h-.9zM309.3 68.1h.9v.9h-.9zM318.0 71.9h.9v.9h-.9zM319.3 69.0h.9v.9h-.9zM321.8 71.6h.9v.9h-.9zM322.9 76.0h.9v.9h-.9zM322.7 72.3h.9v.9h-.9zM329.8 71.2h.9v.9h-.9zM312.9 70.3h.9v.9h-.9zM317.4 66.6h.9v.9h-.9zM318.1 70.2h.9v.9h-.9zM316.6 72.7h.9v.9h-.9zM318.6 74.7h.9v.9h-.9zM314.8 68.8h.9v.9h-.9zM321.4 74.7h.9v.9h-.9zM324.3 68.5h.9v.9h-.9zM314.6 73.9h.9v.9h-.9zM314.7 65.8h.9v.9h-.9zM321.0 71.6h.9v.9h-.9zM313.8 71.7h.9v.9h-.9zM320.2 73.5h.9v.9h-.9zM320.6 73.0h.9v.9h-.9zM325.4 75.4h.9v.9h-.9zM318.2 65.2h.9v.9h-.9zM323.1 70.4h.9v.9h-.9zM318.9 70.2h.9v.9h-.9zM324.0 65.7h.9v.9h-.9zM319.9 72.7h.9v.9h-.9zM323.1 64.6h.9v.9h-.9zM318.6 68.4h.9v.9h-.9zM314.4 71.8h.9v.9h-.9zM323.2 75.8h.9v.9h-.9zM322.4 69.7h.9v.9h-.9zM328.5 71.3h.9v.9h-.9zM323.7 67.8h.9v.9h-.9zM317.7 64.6h.9v.9h-.9zM313.5 72.1h.9v.9h-.9zM327.8 70.2h.9v.9h-.9zM327.2 70.5h.9v.9h-.9zM319.6 77.8h.9v.9h-.9zM322.6 71.6h.9v.9h-.9zM319.6 73.2h.9v.9h-.9zM330.8 69.6h.9v.9h-.9zM314.1 72.7h.9v.9h-.9zM323.8 70.0h.9v.9h-.9zM318.2 73.7h.9v.9h-.9zM314.3 69.5h.9v.9h-.9zM317.8 73.4h.9v.9h-.9zM321.0 72.7h.9v.9h-.9zM320.8 69.5h.9v.9h-.9zM309.4 73.1h.9v.9h-.9zM319.0 75.0h.9v.9h-.9zM317.2 70.4h.9v.9h-.9zM323.4 69.5h.9v.9h-.9zM336.2 71.6h.9v.9h-.9zM327.2 72.3h.9v.9h-.9zM319.2 69.0h.9v.9h-.9zM316.7 67.5h.9v.9h-.9zM323.0 69.7h.9v.9h-.9zM320.8 75.3h.9v.9h-.9zM317.4 70.2h.9v.9h-.9zM323.7 73.2h.9v.9h-.9zM324.8 66.0h.9v.9h-.9zM329.2 73.5h.9v.9h-.9zM317.9 73.4h.9v.9h-.9zM318.3 69.7h.9v.9h-.9zM312.9 70.8h.9v.9h-.9zM316.4 66.2h.9v.9h-.9zM318.1 71.4h.9v.9h-.9zM321.5 71.5h.9v.9h-.9zM327.6 65.1h.9v.9h-.9zM321.7 72.7h.9v.9h-.9zM330.5 71.8h.9v.9h-.9zM330.0 69.9h.9v.9h-.9zM329.6 72.3h.9v.9h-.9zM323.2 71.5h.9v.9h-.9zM312.4 73.9h.9v.9h-.9zM320.0 67.4h.9v.9h-.9zM329.6 68.9h.9v.9h-.9zM321.9 71.4h.9v.9h-.9zM318.8 71.3h.9v.9h-.9zM316.5 68.1h.9v.9h-.9zM316.2 71.8h.9v.9h-.9zM319.4 73.8h.9v.9h-.9zM315.6 67.9h.9v.9h-.9zM324.4 69.5h.9v.9h-.9zM326.9 69.0h.9v.9h-.9zM320.0 74.0h.9v.9h-.9zM323.3 70.8h.9v.9h-.9zM321.5 67.6h.9v.9h-.9zM324.6 69.4h.9v.9h-.9zM319.6 63.8h.9v.9h-.9zM322.7 68.5h.9v.9h-.9zM321.6 66.7h.9v.9h-.9zM320.5 65.5h.9v.9h-.9zM320.0 68.4h.9v.9h-.9zM317.8 70.1h.9v.9h-.9zM325.7 74.7h.9v.9h-.9zM329.2 66.9h.9v.9h-.9zM317.1 75.0h.9v.9h-.9zM323.3 74.2h.9v.9h-.9zM312.9 70.1h.9v.9h-.9zM306.4 70.2h.9v.9h-.9zM323.3 72.5h.9v.9h-.9zM323.3 77.5h.9v.9h-.9zM321.8 69.0h.9v.9h-.9zM322.6 74.7h.9v.9h-.9zM316.4 72.3h.9v.9h-.9zM312.3 71.8h.9v.9h-.9zM314.3 72.5h.9v.9h-.9zM317.6 68.9h.9v.9h-.9zM331.1 71.2h.9v.9h-.9zM320.7 72.1h.9v.9h-.9zM329.7 71.5h.9v.9h-.9zM320.1 72.5h.9v.9h-.9zM328.5 72.7h.9v.9h-.9zM319.7 73.6h.9v.9h-.9zM315.5 71.7h.9v.9h-.9zM315.3 69.9h.9v.9h-.9zM321.2 68.9h.9v.9h-.9zM316.8 71.1h.9v.9h-.9zM320.3 74.2h.9v.9h-.9zM329.1 68.3h.9v.9h-.9zM311.9 68.4h.9v.9h-.9zM319.3 75.8h.9v.9h-.9zM321.9 71.9h.9v.9h-.9zM316.0 69.0h.9v.9h-.9zM327.8 71.0h.9v.9h-.9zM316.0 69.0h.9v.9h-.9zM327.1 73.5h.9v.9h-.9zM329.5 68.8h.9v.9h-.9zM319.0 71.3h.9v.9h-.9zM312.4 71.1h.9v.9h-.9zM321.8 67.0h.9v.9h-.9zM306.7 65.2h.9v.9h-.9zM319.9 73.6h.9v.9h-.9zM320.6 66.6h.9v.9h-.9zM323.8 70.6h.9v.9h-.9zM315.6 70.6h.9v.9h-.9zM314.2 70.5h.9v.9h-.9zM316.1 71.7h.9v.9h-.9zM317.8 61.8h.9v.9h-.9zM325.9 68.9h.9v.9h-.9zM316.3 72.6h.9v.9h-.9zM324.1 69.8h.9v.9h-.9zM329.7 66.4h.9v.9h-.9zM323.3 73.6h.9v.9h-.9zM324.4 70.8h.9v.9h-.9zM326.0 73.0h.9v.9h-.9zM318.4 71.4h.9v.9h-.9zM326.5 69.0h.9v.9h-.9zM325.4 69.8h.9v.9h-.9zM319.3 74.4h.9v.9h-.9zM320.7 70.8h.9v.9h-.9zM323.8 73.4h.9v.9h-.9zM316.3 64.4h.9v.9h-.9zM325.4 75.3h.9v.9h-.9zM319.5 66.4h.9v.9h-.9zM318.2 68.0h.9v.9h-.9zM323.9 62.7h.9v.9h-.9zM322.6 76.0h.9v.9h-.9zM314.0 74.8h.9v.9h-.9zM319.3 72.7h.9v.9h-.9zM328.6 71.8h.9v.9h-.9zM317.4 72.2h.9v.9h-.9zM320.9 67.7h.9v.9h-.9zM324.0 73.0h.9v.9h-.9zM321.4 75.3h.9v.9h-.9zM317.2 73.4h.9v.9h-.9zM319.5 70.9h.9v.9h-.9zM326.4 73.4h.9v.9h-.9zM331.3 73.3h.9v.9h-.9zM324.7 63.8h.9v.9h-.9zM327.6 72.5h.9v.9h-.9zM326.6 69.4h.9v.9h-.9zM323.1 69.8h.9v.9h-.9zM320.1 71.1h.9v.9h-.9zM307.6 67.7h.9v.9h-.9zM326.9 68.4h.9v.9h-.9zM315.1 73.8h.9v.9h-.9zM320.4 69.1h.9v.9h-.9zM317.3 71.8h.9v.9h-.9zM321.2 73.8h.9v.9h-.9zM315.8 66.2h.9v.9h-.9zM325.6 70.0h.9v.9h-.9zM325.6 75.8h.9v.9h-.9zM328.0 70.6h.9v.9h-.9zM312.0 68.1h.9v.9h-.9zM325.6 70.7h.9v.9h-.9zM318.7 72.4h.9v.9h-.9zM321.3 70.9h.9v.9h-.9zM310.5 71.3h.9v.9h-.9zM323.2 68.9h.9v.9h-.9zM319.9 74.1h.9v.9h-.9zM324.3 72.6h.9v.9h-.9zM319.2 79.3h.9v.9h-.9zM308.9 71.1h.9v.9h-.9zM334.2 69.0h.9v.9h-.9zM324.5 73.7h.9v.9h-.9zM318.7 71.5h.9v.9h-.9zM315.6 70.4h.9v.9h-.9zM318.3 68.5h.9v.9h-.9zM321.3 76.9h.9v.9h-.9zM319.9 67.8h.9v.9h-.9zM315.0 69.1h.9v.9h-.9zM324.3 72.1h.9v.9h-.9zM317.5 69.3h.9v.9h-.9zM316.5 65.9h.9v.9h-.9zM324.9 70.1h.9v.9h-.9zM324.8 71.2h.9v.9h-.9zM314.8 69.5h.9v.9h-.9zM324.0 71.2h.9v.9h-.9zM325.9 69.5h.9v.9h-.9zM314.6 73.2h.9v.9h-.9zM312.9 75.2h.9v.9h-.9zM323.2 72.3h.9v.9h-.9zM328.1 70.5h.9v.9h-.9zM326.2 74.3h.9v.9h-.9zM322.9 70.4h.9v.9h-.9zM324.4 68.4h.9v.9h-.9zM323.6 75.8h.9v.9h-.9zM319.5 71.4h.9v.9h-.9zM319.7 73.7h.9v.9h-.9zM327.6 71.5h.9v.9h-.9zM325.3 77.1h.9v.9h-.9zM318.8 71.0h.9v.9h-.9zM321.3 70.2h.9v.9h-.9zM322.8 66.9h.9v.9h-.9zM316.5 76.2h.9v.9h-.9zM320.8 73.6h.9v.9h-.9zM319.8 66.3h.9v.9h-.9zM317.2 77.2h.9v.9h-.9zM310.6 65.2h.9v.9h-.9zM320.6 70.9h.9v.9h-.9zM322.5 74.1h.9v.9h-.9zM325.7 68.0h.9v.9h-.9zM325.7 72.0h.9v.9h-.9zM319.6 73.5h.9v.9h-.9zM320.6 71.5h.9v.9h-.9zM311.9 76.1h.9v.9h-.9zM313.3 72.2h.9v.9h-.9zM314.4 71.4h.9v.9h-.9zM316.5 69.1h.9v.9h-.9zM326.2 70.9h.9v.9h-.9zM321.8 73.8h.9v.9h-.9zM307.5 71.8h.9v.9h-.9zM324.8 68.9h.9v.9h-.9zM326.4 76.6h.9v.9h-.9zM317.7 68.9h.9v.9h-.9zM323.5 69.5h.9v.9h-.9zM322.1 75.1h.9v.9h-.9zM315.9 74.0h.9v.9h-.9zM322.6 73.1h.9v.9h-.9zM319.1 69.6h.9v.9h-.9zM321.2 70.2h.9v.9h-.9zM322.0 69.0h.9v.9h-.9zM321.7 68.5h.9v.9h-.9zM322.7 71.0h.9v.9h-.9zM318.4 67.6h.9v.9h-.9zM319.4 70.1h.9v.9h-.9zM312.4 74.7h.9v.9h-.9zM325.4 67.8h.9v.9h-.9zM326.8 72.0h.9v.9h-.9zM323.4 73.6h.9v.9h-.9zM319.0 75.2h.9v.9h-.9zM316.3 72.7h.9v.9h-.9zM326.8 65.8h.9v.9h-.9zM325.9 72.2h.9v.9h-.9zM327.1 69.8h.9v.9h-.9zM318.2 73.1h.9v.9h-.9zM327.4 74.4h.9v.9h-.9zM326.5 68.9h.9v.9h-.9zM318.7 69.0h.9v.9h-.9zM317.7 73.6h.9v.9h-.9zM315.1 69.7h.9v.9h-.9zM322.4 72.3h.9v.9h-.9zM322.5 71.3h.9v.9h-.9zM321.5 75.6h.9v.9h-.9zM326.5 73.7h.9v.9h-.9zM327.3 72.8h.9v.9h-.9zM331.2 74.5h.9v.9h-.9zM313.2 72.9h.9v.9h-.9zM316.3 69.5h.9v.9h-.9zM318.0 68.9h.9v.9h-.9zM318.2 69.6h.9v.9h-.9zM320.2 63.4h.9v.9h-.9zM321.2 71.0h.9v.9h-.9zM324.4 67.0h.9v.9h-.9zM317.8 72.1h.9v.9h-.9zM321.1 67.9h.9v.9h-.9zM321.0 66.1h.9v.9h-.9zM321.0 75.6h.9v.9h-.9zM326.7 67.4h.9v.9h-.9zM321.9 70.3h.9v.9h-.9zM320.0 72.1h.9v.9h-.9zM321.1 70.5h.9v.9h-.9zM314.5 69.6h.9v.9h-.9zM320.4 70.6h.9v.9h-.9zM317.1 68.6h.9v.9h-.9zM324.4 74.6h.9v.9h-.9zM313.9 71.9h.9v.9h-.9zM327.0 73.7h.9v.9h-.9zM314.0 72.2h.9v.9h-.9zM319.4 71.7h.9v.9h-.9zM319.4 67.2h.9v.9h-.9zM318.7 71.7h.9v.9h-.9zM324.0 72.7h.9v.9h-.9zM321.3 67.4h.9v.9h-.9zM322.6 70.1h.9v.9h-.9zM327.8 68.0h.9v.9h-.9zM319.2 67.8h.9v.9h-.9zM328.2 69.5h.9v.9h-.9zM305.7 73.0h.9v.9h-.9zM324.3 67.4h.9v.9h-.9zM327.8 68.7h.9v.9h-.9zM319.3 68.9h.9v.9h-.9zM316.2 71.6h.9v.9h-.9zM316.7 63.1h.9v.9h-.9zM321.7 65.9h.9v.9h-.9zM329.2 71.6h.9v.9h-.9zM323.7 67.9h.9v.9h-.9zM312.8 68.0h.9v.9h-.9zM321.6 70.7h.9v.9h-.9zM324.3 67.4h.9v.9h-.9zM315.4 70.3h.9v.9h-.9zM318.8 70.3h.9v.9h-.9zM316.7 72.7h.9v.9h-.9zM327.2 67.1h.9v.9h-.9zM313.3 67.0h.9v.9h-.9zM311.6 73.3h.9v.9h-.9zM318.2 75.1h.9v.9h-.9zM323.3 73.7h.9v.9h-.9zM317.2 69.9h.9v.9h-.9zM327.5 70.8h.9v.9h-.9zM330.8 66.5h.9v.9h-.9zM318.2 71.3h.9v.9h-.9zM331.1 71.2h.9v.9h-.9zM320.6 69.8h.9v.9h-.9zM325.6 72.3h.9v.9h-.9zM322.5 70.5h.9v.9h-.9zM317.0 70.0h.9v.9h-.9zM314.1 71.9h.9v.9h-.9zM323.1 69.6h.9v.9h-.9zM325.0 71.8h.9v.9h-.9zM329.3 68.3h.9v.9h-.9zM310.5 65.6h.9v.9h-.9zM318.1 69.0h.9v.9h-.9zM323.3 75.4h.9v.9h-.9zM323.4 72.1h.9v.9h-.9zM320.3 74.6h.9v.9h-.9zM308.1 68.4h.9v.9h-.9zM319.8 67.7h.9v.9h-.9zM321.7 71.6h.9v.9h-.9zM318.0 70.3h.9v.9h-.9zM315.3 70.0h.9v.9h-.9zM324.4 67.0h.9v.9h-.9zM324.9 69.5h.9v.9h-.9zM327.3 65.9h.9v.9h-.9zM328.2 67.8h.9v.9h-.9zM326.5 75.1h.9v.9h-.9zM319.8 70.5h.9v.9h-.9zM321.0 73.1h.9v.9h-.9zM330.7 69.5h.9v.9h-.9zM317.5 69.8h.9v.9h-.9zM321.4 65.6h.9v.9h-.9zM317.7 69.2h.9v.9h-.9zM318.8 71.4h.9v.9h-.9zM322.0 75.2h.9v.9h-.9zM320.5 73.5h.9v.9h-.9zM315.5 73.5h.9v.9h-.9zM324.6 78.2h.9v.9h-.9zM310.2 71.9h.9v.9h-.9zM310.0 69.3h.9v.9h-.9zM325.3 62.7h.9v.9h-.9zM322.5 68.8h.9v.9h-.9zM328.1 72.3h.9v.9h-.9zM311.4 69.9h.9v.9h-.9zM326.9 71.6h.9v.9h-.9zM319.7 72.8h.9v.9h-.9zM328.6 70.1h.9v.9h-.9zM338.1 76.3h.9v.9h-.9zM322.0 69.9h.9v.9h-.9zM324.6 71.9h.9v.9h-.9zM316.7 69.5h.9v.9h-.9zM314.2 73.4h.9v.9h-.9zM313.2 72.9h.9v.9h-.9zM320.1 73.2h.9v.9h-.9zM313.2 79.2h.9v.9h-.9zM326.9 70.0h.9v.9h-.9zM325.7 72.9h.9v.9h-.9zM330.3 73.9h.9v.9h-.9zM320.9 67.9h.9v.9h-.9zM308.5 72.1h.9v.9h-.9zM325.4 68.3h.9v.9h-.9zM322.3 70.5h.9v.9h-.9zM317.3 73.4h.9v.9h-.9zM318.2 71.3h.9v.9h-.9zM328.7 68.2h.9v.9h-.9zM327.8 69.0h.9v.9h-.9zM313.5 72.9h.9v.9h-.9zM324.8 69.0h.9v.9h-.9zM310.4 67.1h.9v.9h-.9zM317.9 70.4h.9v.9h-.9zM316.8 68.9h.9v.9h-.9zM318.0 67.8h.9v.9h-.9zM324.7 74.2h.9v.9h-.9zM330.9 69.4h.9v.9h-.9zM320.4 71.3h.9v.9h-.9zM325.4 64.9h.9v.9h-.9zM318.8 76.9h.9v.9h-.9zM326.2 72.0h.9v.9h-.9zM322.4 70.3h.9v.9h-.9zM318.3 74.3h.9v.9h-.9zM322.0 76.3h.9v.9h-.9zM324.0 68.7h.9v.9h-.9zM323.9 68.5h.9v.9h-.9zM324.1 72.0h.9v.9h-.9zM320.9 77.9h.9v.9h-.9zM320.8 73.9h.9v.9h-.9zM322.9 71.4h.9v.9h-.9zM326.7 67.2h.9v.9h-.9zM330.2 72.5h.9v.9h-.9zM305.4 68.4h.9v.9h-.9zM319.4 70.9h.9v.9h-.9zM327.1 72.6h.9v.9h-.9zM326.9 70.2h.9v.9h-.9zM330.9 67.0h.9v.9h-.9zM321.8 70.9h.9v.9h-.9zM328.9 68.8h.9v.9h-.9zM310.8 71.5h.9v.9h-.9zM332.2 70.3h.9v.9h-.9zM336.9 70.3h.9v.9h-.9zM316.0 70.4h.9v.9h-.9zM326.2 70.9h.9v.9h-.9zM324.6 75.2h.9v.9h-.9zM324.3 70.9h.9v.9h-.9zM331.4 69.2h.9v.9h-.9zM318.0 75.3h.9v.9h-.9zM312.3 67.3h.9v.9h-.9zM310.9 74.3h.9v.9h-.9zM331.8 71.4h.9v.9h-.9zM318.7 72.6h.9v.9h-.9zM315.0 73.1h.9v.9h-.9zM322.7 71.1h.9v.9h-.9zM312.0 74.1h.9v.9h-.9zM323.1 73.5h.9v.9h-.9zM331.6 70.6h.9v.9h-.9zM317.8 74.6h.9v.9h-.9zM316.2 73.5h.9v.9h-.9zM313.3 69.3h.9v.9h-.9zM316.4 75.6h.9v.9h-.9zM325.8 70.7h.9v.9h-.9zM331.6 67.4h.9v.9h-.9zM323.0 73.2h.9v.9h-.9zM312.5 71.0h.9v.9h-.9zM322.9 65.0h.9v.9h-.9zM315.6 72.2h.9v.9h-.9zM324.5 71.3h.9v.9h-.9zM317.0 75.0h.9v.9h-.9zM313.4 70.8h.9v.9h-.9zM324.8 70.4h.9v.9h-.9zM318.6 72.5h.9v.9h-.9zM328.2 66.7h.9v.9h-.9zM324.5 74.2h.9v.9h-.9zM324.0 70.2h.9v.9h-.9zM311.6 72.3h.9v.9h-.9zM321.3 75.6h.9v.9h-.9zM313.8 69.4h.9v.9h-.9zM320.0 65.5h.9v.9h-.9zM324.1 70.8h.9v.9h-.9zM318.0 74.4h.9v.9h-.9zM320.6 65.8h.9v.9h-.9zM310.0 71.1h.9v.9h-.9zM320.3 73.4h.9v.9h-.9zM325.5 74.0h.9v.9h-.9zM323.9 72.2h.9v.9h-.9zM323.6 74.7h.9v.9h-.9zM319.8 70.8h.9v.9h-.9zM328.8 71.5h.9v.9h-.9zM326.6 69.0h.9v.9h-.9zM328.8 63.6h.9v.9h-.9zM327.0 68.8h.9v.9h-.9zM312.5 73.7h.9v.9h-.9zM317.5 72.4h.9v.9h-.9zM346.1 88.7h.9v.9h-.9zM349.7 97.4h.9v.9h-.9zM341.7 99.1h.9v.9h-.9zM349.8 91.9h.9v.9h-.9zM352.0 96.3h.9v.9h-.9zM348.7 106.4h.9v.9h-.9zM349.4 96.8h.9v.9h-.9zM347.4 89.1h.9v.9h-.9zM350.6 92.2h.9v.9h-.9zM346.8 92.8h.9v.9h-.9zM348.8 96.9h.9v.9h-.9zM354.4 97.1h.9v.9h-.9zM347.6 94.9h.9v.9h-.9zM348.8 93.0h.9v.9h-.9zM346.9 98.9h.9v.9h-.9zM353.6 90.4h.9v.9h-.9zM348.2 105.3h.9v.9h-.9zM348.4 105.6h.9v.9h-.9zM350.9 105.7h.9v.9h-.9zM348.1 97.3h.9v.9h-.9zM354.5 103.7h.9v.9h-.9zM348.8 96.0h.9v.9h-.9zM347.0 93.7h.9v.9h-.9zM354.2 105.0h.9v.9h-.9zM344.0 93.5h.9v.9h-.9zM352.0 98.4h.9v.9h-.9zM350.0 101.7h.9v.9h-.9zM349.6 93.1h.9v.9h-.9zM345.3 97.0h.9v.9h-.9zM342.5 91.2h.9v.9h-.9zM343.7 97.6h.9v.9h-.9zM351.7 104.3h.9v.9h-.9zM349.4 101.0h.9v.9h-.9zM344.1 98.1h.9v.9h-.9zM351.6 95.8h.9v.9h-.9zM346.7 93.2h.9v.9h-.9zM348.2 91.2h.9v.9h-.9zM350.4 97.3h.9v.9h-.9zM346.6 98.0h.9v.9h-.9zM346.9 91.7h.9v.9h-.9zM353.2 97.5h.9v.9h-.9zM350.2 105.0h.9v.9h-.9zM353.0 106.5h.9v.9h-.9zM344.1 104.4h.9v.9h-.9zM347.4 97.9h.9v.9h-.9zM353.4 85.8h.9v.9h-.9zM348.6 97.0h.9v.9h-.9zM349.0 105.7h.9v.9h-.9zM348.1 98.1h.9v.9h-.9zM349.8 95.8h.9v.9h-.9zM343.0 90.5h.9v.9h-.9zM346.4 93.0h.9v.9h-.9zM346.6 103.2h.9v.9h-.9zM345.7 95.8h.9v.9h-.9zM343.9 106.6h.9v.9h-.9zM346.3 92.1h.9v.9h-.9zM350.0 90.3h.9v.9h-.9zM346.4 101.4h.9v.9h-.9zM347.8 95.9h.9v.9h-.9zM343.0 94.8h.9v.9h-.9zM340.9 98.3h.9v.9h-.9zM346.0 91.8h.9v.9h-.9zM343.2 91.4h.9v.9h-.9zM348.1 89.1h.9v.9h-.9zM350.6 94.7h.9v.9h-.9zM348.1 96.5h.9v.9h-.9zM346.1 93.6h.9v.9h-.9zM345.5 92.3h.9v.9h-.9zM345.0 94.5h.9v.9h-.9zM348.1 93.0h.9v.9h-.9zM338.4 88.7h.9v.9h-.9zM351.4 99.1h.9v.9h-.9zM349.8 93.0h.9v.9h-.9zM348.9 95.2h.9v.9h-.9zM352.2 101.3h.9v.9h-.9zM353.8 94.1h.9v.9h-.9zM346.6 101.1h.9v.9h-.9zM339.0 94.4h.9v.9h-.9zM343.7 97.5h.9v.9h-.9zM347.8 90.8h.9v.9h-.9zM354.7 104.9h.9v.9h-.9zM348.5 92.4h.9v.9h-.9zM348.8 100.1h.9v.9h-.9zM346.7 98.2h.9v.9h-.9zM347.9 96.5h.9v.9h-.9zM341.5 90.0h.9v.9h-.9zM349.5 107.4h.9v.9h-.9zM348.4 97.8h.9v.9h-.9zM351.8 93.3h.9v.9h-.9zM347.6 92.4h.9v.9h-.9zM345.2 98.4h.9v.9h-.9zM347.3 96.8h.9v.9h-.9zM352.5 100.7h.9v.9h-.9zM343.7 95.5h.9v.9h-.9zM347.2 90.4h.9v.9h-.9zM355.9 98.7h.9v.9h-.9zM350.8 100.9h.9v.9h-.9zM350.5 97.4h.9v.9h-.9zM351.2 96.3h.9v.9h-.9zM354.0 101.8h.9v.9h-.9zM343.1 100.3h.9v.9h-.9zM346.9 101.5h.9v.9h-.9zM351.8 91.1h.9v.9h-.9zM349.0 94.8h.9v.9h-.9zM347.2 93.6h.9v.9h-.9z"/>
<rect x="41.5" y="32.3" width="94" height="93.5" fill="none" stroke="#000" stroke-width="1.35"/>
<rect x="167.3" y="32.3" width="94" height="93.5" fill="none" stroke="#000" stroke-width="1.35"/>
<rect x="293.4" y="32.3" width="93.7" height="93.3" fill="none" stroke="#000" stroke-width="1.35"/>
<rect x="419.3" y="32.4" width="93.5" height="93.4" fill="none" stroke="#000" stroke-width="1.35"/>

<path stroke="#000" stroke-width="1.05" fill="none" d="M38.2 126.0h2.6M38.2 108.0h2.6M38.2 90.1h2.6M38.2 72.2h2.6M38.2 54.2h2.6M38.2 36.2h2.6M39.2 122.4h1.6M39.2 118.8h1.6M39.2 115.2h1.6M39.2 111.6h1.6M39.2 104.5h1.6M39.2 100.9h1.6M39.2 97.3h1.6M39.2 93.7h1.6M39.2 86.5h1.6M39.2 82.9h1.6M39.2 79.3h1.6M39.2 75.7h1.6M39.2 68.6h1.6M39.2 65.0h1.6M39.2 61.4h1.6M39.2 57.8h1.6M39.2 50.6h1.6M39.2 47.0h1.6M39.2 43.4h1.6M39.2 39.8h1.6"/>
<path stroke="#000" stroke-width="1.05" fill="none" d="M55.9 126.3v2.6M69.6 126.3v2.6M88.4 126.3v2.6M108.2 126.3v2.6M127.6 126.3v2.6M75.3 126.3v1.6M78.6 126.3v1.6M80.9 126.3v1.6M82.7 126.3v1.6M84.2 126.3v1.6M85.5 126.3v1.6M86.6 126.3v1.6M87.5 126.3v1.6M94.4 126.3v1.6M97.8 126.3v1.6M100.3 126.3v1.6M102.2 126.3v1.6M103.8 126.3v1.6M105.1 126.3v1.6M106.3 126.3v1.6M107.3 126.3v1.6M114.0 126.3v1.6M117.5 126.3v1.6M119.9 126.3v1.6M121.8 126.3v1.6M123.3 126.3v1.6M124.6 126.3v1.6M125.7 126.3v1.6M126.7 126.3v1.6M47.5 126.3v1.6M51.5 126.3v1.6M60.0 126.3v1.6M64.0 126.3v1.6"/>
<path stroke="#000" stroke-width="1.05" fill="none" d="M164.0 39.6h2.6M164.0 60.5h2.6M164.0 81.4h2.6M164.0 97.5h2.6M164.0 100.8h2.6M165.0 40.6h1.6M165.0 41.6h1.6M165.0 42.8h1.6M165.0 44.2h1.6M165.0 45.9h1.6M165.0 47.9h1.6M165.0 50.5h1.6M165.0 54.2h1.6M165.0 61.5h1.6M165.0 62.5h1.6M165.0 63.7h1.6M165.0 65.1h1.6M165.0 66.8h1.6M165.0 68.8h1.6M165.0 71.4h1.6M165.0 75.1h1.6M165.0 82.1h1.6M165.0 83.0h1.6M165.0 83.9h1.6M165.0 85.0h1.6M165.0 86.2h1.6M165.0 87.8h1.6M165.0 89.8h1.6M165.0 92.7h1.6"/>
<path stroke="#000" stroke-width="1.05" fill="none" d="M187.3 126.3v2.6M194.0 126.3v2.6M214.5 126.3v2.6M234.5 126.3v2.6M253.8 126.3v2.6M200.2 126.3v1.6M203.8 126.3v1.6M206.3 126.3v1.6M208.3 126.3v1.6M210.0 126.3v1.6M211.3 126.3v1.6M212.5 126.3v1.6M213.6 126.3v1.6M220.5 126.3v1.6M224.0 126.3v1.6M226.5 126.3v1.6M228.5 126.3v1.6M230.1 126.3v1.6M231.4 126.3v1.6M232.6 126.3v1.6M233.6 126.3v1.6M240.3 126.3v1.6M243.7 126.3v1.6M246.1 126.3v1.6M248.0 126.3v1.6M249.5 126.3v1.6M250.8 126.3v1.6M251.9 126.3v1.6M252.9 126.3v1.6M172.0 126.3v1.6M176.0 126.3v1.6M180.0 126.3v1.6M184.0 126.3v1.6"/>
<path stroke="#000" stroke-width="1.05" fill="none" d="M290.1 39.6h2.6M290.1 59.6h2.6M290.1 79.4h2.6M290.1 99.3h2.6M290.1 108.9h2.6M291.1 40.5h1.6M291.1 41.5h1.6M291.1 42.7h1.6M291.1 44.0h1.6M291.1 45.6h1.6M291.1 47.6h1.6M291.1 50.1h1.6M291.1 53.6h1.6M291.1 60.5h1.6M291.1 61.5h1.6M291.1 62.7h1.6M291.1 64.0h1.6M291.1 65.6h1.6M291.1 67.5h1.6M291.1 70.0h1.6M291.1 73.4h1.6M291.1 80.3h1.6M291.1 81.3h1.6M291.1 82.5h1.6M291.1 83.8h1.6M291.1 85.4h1.6M291.1 87.3h1.6M291.1 89.8h1.6M291.1 93.3h1.6M291.1 103.0h1.6M291.1 113.0h1.6M291.1 117.0h1.6M291.1 121.0h1.6"/>
<path stroke="#000" stroke-width="1.05" fill="none" d="M319.2 126.0v2.6M338.0 126.0v2.6M360.0 126.0v2.6M379.2 126.0v2.6M324.0 126.0v1.6M327.5 126.0v1.6M330.0 126.0v1.6M332.0 126.0v1.6M333.6 126.0v1.6M334.9 126.0v1.6M336.1 126.0v1.6M337.1 126.0v1.6M344.6 126.0v1.6M348.5 126.0v1.6M351.2 126.0v1.6M353.4 126.0v1.6M355.1 126.0v1.6M356.6 126.0v1.6M357.9 126.0v1.6M359.0 126.0v1.6M365.8 126.0v1.6M369.2 126.0v1.6M371.6 126.0v1.6M373.4 126.0v1.6M374.9 126.0v1.6M376.2 126.0v1.6M377.3 126.0v1.6M378.3 126.0v1.6M300.0 126.0v1.6M304.0 126.0v1.6M308.0 126.0v1.6M312.0 126.0v1.6"/>
<path stroke="#000" stroke-width="1.05" fill="none" d="M416.0 39.7h2.6M416.0 60.3h2.6M416.0 79.5h2.6M416.0 100.2h2.6M416.0 110.5h2.6M417.0 40.6h1.6M417.0 41.7h1.6M417.0 42.9h1.6M417.0 44.3h1.6M417.0 45.9h1.6M417.0 47.9h1.6M417.0 50.5h1.6M417.0 54.1h1.6M417.0 61.2h1.6M417.0 62.2h1.6M417.0 63.3h1.6M417.0 64.6h1.6M417.0 66.1h1.6M417.0 67.9h1.6M417.0 70.3h1.6M417.0 73.7h1.6M417.0 80.4h1.6M417.0 81.5h1.6M417.0 82.7h1.6M417.0 84.1h1.6M417.0 85.7h1.6M417.0 87.7h1.6M417.0 90.3h1.6M417.0 94.0h1.6M417.0 104.0h1.6M417.0 114.0h1.6M417.0 118.0h1.6M417.0 122.0h1.6"/>
<path stroke="#000" stroke-width="1.05" fill="none" d="M438.2 126.1v2.6M445.0 126.1v2.6M466.0 126.1v2.6M486.0 126.1v2.6M505.5 126.1v2.6M451.3 126.1v1.6M455.0 126.1v1.6M457.6 126.1v1.6M459.7 126.1v1.6M461.3 126.1v1.6M462.7 126.1v1.6M464.0 126.1v1.6M465.0 126.1v1.6M472.0 126.1v1.6M475.5 126.1v1.6M478.0 126.1v1.6M480.0 126.1v1.6M481.6 126.1v1.6M482.9 126.1v1.6M484.1 126.1v1.6M485.1 126.1v1.6M491.9 126.1v1.6M495.3 126.1v1.6M497.7 126.1v1.6M499.6 126.1v1.6M501.2 126.1v1.6M502.5 126.1v1.6M503.6 126.1v1.6M504.6 126.1v1.6M423.0 126.1v1.6M427.0 126.1v1.6M431.0 126.1v1.6M435.0 126.1v1.6"/>
<text x="35.80" y="127.50" font-size="6.0" stroke="#333" stroke-width="0.15" text-anchor="end" textLength="3.4" lengthAdjust="spacingAndGlyphs" fill="#333">0</text>
<text x="35.80" y="110.30" font-size="6.0" stroke="#333" stroke-width="0.15" text-anchor="end" textLength="12.0" lengthAdjust="spacingAndGlyphs" fill="#333">50K</text>
<text x="35.80" y="92.30" font-size="6.0" stroke="#333" stroke-width="0.15" text-anchor="end" textLength="15.0" lengthAdjust="spacingAndGlyphs" fill="#333">100K</text>
<text x="35.80" y="74.00" font-size="6.0" stroke="#333" stroke-width="0.15" text-anchor="end" textLength="15.0" lengthAdjust="spacingAndGlyphs" fill="#333">150K</text>
<text x="35.80" y="56.40" font-size="6.0" stroke="#333" stroke-width="0.15" text-anchor="end" textLength="16.0" lengthAdjust="spacingAndGlyphs" fill="#333">200K</text>
<text x="35.80" y="39.00" font-size="6.0" stroke="#333" stroke-width="0.15" text-anchor="end" textLength="16.0" lengthAdjust="spacingAndGlyphs" fill="#333">250K</text>
<text x="55.90" y="137.40" font-size="6.0" stroke="#333" stroke-width="0.15" text-anchor="middle" textLength="3.2" lengthAdjust="spacingAndGlyphs" fill="#333">0</text>
<text x="65.10" y="137.60" font-size="6.0" stroke="#333" stroke-width="0.15" textLength="6.1" lengthAdjust="spacingAndGlyphs" fill="#333">10</text>
<text x="72.00" y="134.80" font-size="3.9" stroke="#333" stroke-width="0.1" textLength="2.2" lengthAdjust="spacingAndGlyphs" fill="#333">2</text>
<text x="83.80" y="137.60" font-size="6.0" stroke="#333" stroke-width="0.15" textLength="6.1" lengthAdjust="spacingAndGlyphs" fill="#333">10</text>
<text x="90.70" y="134.80" font-size="3.9" stroke="#333" stroke-width="0.1" textLength="2.2" lengthAdjust="spacingAndGlyphs" fill="#333">3</text>
<text x="103.60" y="137.60" font-size="6.0" stroke="#333" stroke-width="0.15" textLength="6.1" lengthAdjust="spacingAndGlyphs" fill="#333">10</text>
<text x="110.50" y="134.80" font-size="3.9" stroke="#333" stroke-width="0.1" textLength="2.2" lengthAdjust="spacingAndGlyphs" fill="#333">4</text>
<text x="123.00" y="137.60" font-size="6.0" stroke="#333" stroke-width="0.15" textLength="6.1" lengthAdjust="spacingAndGlyphs" fill="#333">10</text>
<text x="129.90" y="134.80" font-size="3.9" stroke="#333" stroke-width="0.1" textLength="2.2" lengthAdjust="spacingAndGlyphs" fill="#333">5</text>
<text x="151.50" y="42.00" font-size="6.0" stroke="#333" stroke-width="0.15" textLength="6.1" lengthAdjust="spacingAndGlyphs" fill="#333">10</text>
<text x="158.40" y="39.20" font-size="3.9" stroke="#333" stroke-width="0.1" textLength="2.2" lengthAdjust="spacingAndGlyphs" fill="#333">5</text>
<text x="151.50" y="62.90" font-size="6.0" stroke="#333" stroke-width="0.15" textLength="6.1" lengthAdjust="spacingAndGlyphs" fill="#333">10</text>
<text x="158.40" y="60.10" font-size="3.9" stroke="#333" stroke-width="0.1" textLength="2.2" lengthAdjust="spacingAndGlyphs" fill="#333">4</text>
<text x="151.50" y="83.70" font-size="6.0" stroke="#333" stroke-width="0.15" textLength="6.1" lengthAdjust="spacingAndGlyphs" fill="#333">10</text>
<text x="158.40" y="80.90" font-size="3.9" stroke="#333" stroke-width="0.1" textLength="2.2" lengthAdjust="spacingAndGlyphs" fill="#333">3</text>
<text x="160.00" y="102.70" font-size="6.0" stroke="#333" stroke-width="0.15" text-anchor="end" textLength="3.0" lengthAdjust="spacingAndGlyphs" fill="#333">0</text>
<text x="187.30" y="137.40" font-size="6.0" stroke="#333" stroke-width="0.15" text-anchor="middle" textLength="3.0" lengthAdjust="spacingAndGlyphs" fill="#333">0</text>
<text x="189.60" y="137.60" font-size="6.0" stroke="#333" stroke-width="0.15" textLength="6.1" lengthAdjust="spacingAndGlyphs" fill="#333">10</text>
<text x="196.50" y="134.80" font-size="3.9" stroke="#333" stroke-width="0.1" textLength="2.2" lengthAdjust="spacingAndGlyphs" fill="#333">2</text>
<text x="210.50" y="137.60" font-size="6.0" stroke="#333" stroke-width="0.15" textLength="6.1" lengthAdjust="spacingAndGlyphs" fill="#333">10</text>
<text x="217.40" y="134.80" font-size="3.9" stroke="#333" stroke-width="0.1" textLength="2.2" lengthAdjust="spacingAndGlyphs" fill="#333">3</text>
<text x="230.00" y="137.60" font-size="6.0" stroke="#333" stroke-width="0.15" textLength="6.1" lengthAdjust="spacingAndGlyphs" fill="#333">10</text>
<text x="236.90" y="134.80" font-size="3.9" stroke="#333" stroke-width="0.1" textLength="2.2" lengthAdjust="spacingAndGlyphs" fill="#333">4</text>
<text x="248.80" y="137.60" font-size="6.0" stroke="#333" stroke-width="0.15" textLength="6.1" lengthAdjust="spacingAndGlyphs" fill="#333">10</text>
<text x="255.70" y="134.80" font-size="3.9" stroke="#333" stroke-width="0.1" textLength="2.2" lengthAdjust="spacingAndGlyphs" fill="#333">5</text>
<text x="278.00" y="42.10" font-size="6.0" stroke="#333" stroke-width="0.15" textLength="6.1" lengthAdjust="spacingAndGlyphs" fill="#333">10</text>
<text x="284.90" y="39.30" font-size="3.9" stroke="#333" stroke-width="0.1" textLength="2.2" lengthAdjust="spacingAndGlyphs" fill="#333">5</text>
<text x="278.00" y="61.70" font-size="6.0" stroke="#333" stroke-width="0.15" textLength="6.1" lengthAdjust="spacingAndGlyphs" fill="#333">10</text>
<text x="284.90" y="58.90" font-size="3.9" stroke="#333" stroke-width="0.1" textLength="2.2" lengthAdjust="spacingAndGlyphs" fill="#333">4</text>
<text x="278.00" y="81.70" font-size="6.0" stroke="#333" stroke-width="0.15" textLength="6.1" lengthAdjust="spacingAndGlyphs" fill="#333">10</text>
<text x="284.90" y="78.90" font-size="3.9" stroke="#333" stroke-width="0.1" textLength="2.2" lengthAdjust="spacingAndGlyphs" fill="#333">3</text>
<text x="278.00" y="101.50" font-size="6.0" stroke="#333" stroke-width="0.15" textLength="6.1" lengthAdjust="spacingAndGlyphs" fill="#333">10</text>
<text x="284.90" y="98.70" font-size="3.9" stroke="#333" stroke-width="0.1" textLength="2.2" lengthAdjust="spacingAndGlyphs" fill="#333">2</text>
<text x="286.50" y="110.80" font-size="6.0" stroke="#333" stroke-width="0.15" text-anchor="end" textLength="3.0" lengthAdjust="spacingAndGlyphs" fill="#333">0</text>
<text x="319.20" y="137.70" font-size="6.0" stroke="#333" stroke-width="0.15" text-anchor="middle" textLength="3.0" lengthAdjust="spacingAndGlyphs" fill="#333">0</text>
<text x="333.40" y="137.90" font-size="6.0" stroke="#333" stroke-width="0.15" textLength="6.1" lengthAdjust="spacingAndGlyphs" fill="#333">10</text>
<text x="340.30" y="135.10" font-size="3.9" stroke="#333" stroke-width="0.1" textLength="2.2" lengthAdjust="spacingAndGlyphs" fill="#333">3</text>
<text x="355.50" y="137.90" font-size="6.0" stroke="#333" stroke-width="0.15" textLength="6.1" lengthAdjust="spacingAndGlyphs" fill="#333">10</text>
<text x="362.40" y="135.10" font-size="3.9" stroke="#333" stroke-width="0.1" textLength="2.2" lengthAdjust="spacingAndGlyphs" fill="#333">4</text>
<text x="374.50" y="137.90" font-size="6.0" stroke="#333" stroke-width="0.15" textLength="6.1" lengthAdjust="spacingAndGlyphs" fill="#333">10</text>
<text x="381.40" y="135.10" font-size="3.9" stroke="#333" stroke-width="0.1" textLength="2.2" lengthAdjust="spacingAndGlyphs" fill="#333">5</text>
<text x="403.30" y="42.90" font-size="6.0" stroke="#333" stroke-width="0.15" textLength="6.1" lengthAdjust="spacingAndGlyphs" fill="#333">10</text>
<text x="410.20" y="40.10" font-size="3.9" stroke="#333" stroke-width="0.1" textLength="2.2" lengthAdjust="spacingAndGlyphs" fill="#333">5</text>
<text x="403.30" y="63.10" font-size="6.0" stroke="#333" stroke-width="0.15" textLength="6.1" lengthAdjust="spacingAndGlyphs" fill="#333">10</text>
<text x="410.20" y="60.30" font-size="3.9" stroke="#333" stroke-width="0.1" textLength="2.2" lengthAdjust="spacingAndGlyphs" fill="#333">4</text>
<text x="403.30" y="81.80" font-size="6.0" stroke="#333" stroke-width="0.15" textLength="6.1" lengthAdjust="spacingAndGlyphs" fill="#333">10</text>
<text x="410.20" y="79.00" font-size="3.9" stroke="#333" stroke-width="0.1" textLength="2.2" lengthAdjust="spacingAndGlyphs" fill="#333">3</text>
<text x="403.30" y="102.70" font-size="6.0" stroke="#333" stroke-width="0.15" textLength="6.1" lengthAdjust="spacingAndGlyphs" fill="#333">10</text>
<text x="410.20" y="99.90" font-size="3.9" stroke="#333" stroke-width="0.1" textLength="2.2" lengthAdjust="spacingAndGlyphs" fill="#333">2</text>
<text x="411.80" y="113.00" font-size="6.0" stroke="#333" stroke-width="0.15" text-anchor="end" textLength="3.0" lengthAdjust="spacingAndGlyphs" fill="#333">0</text>
<text x="438.20" y="137.60" font-size="6.0" stroke="#333" stroke-width="0.15" text-anchor="middle" textLength="3.0" lengthAdjust="spacingAndGlyphs" fill="#333">0</text>
<text x="441.10" y="137.80" font-size="6.0" stroke="#333" stroke-width="0.15" textLength="6.1" lengthAdjust="spacingAndGlyphs" fill="#333">10</text>
<text x="448.00" y="135.00" font-size="3.9" stroke="#333" stroke-width="0.1" textLength="2.2" lengthAdjust="spacingAndGlyphs" fill="#333">2</text>
<text x="461.30" y="137.80" font-size="6.0" stroke="#333" stroke-width="0.15" textLength="6.1" lengthAdjust="spacingAndGlyphs" fill="#333">10</text>
<text x="468.20" y="135.00" font-size="3.9" stroke="#333" stroke-width="0.1" textLength="2.2" lengthAdjust="spacingAndGlyphs" fill="#333">3</text>
<text x="481.50" y="137.80" font-size="6.0" stroke="#333" stroke-width="0.15" textLength="6.1" lengthAdjust="spacingAndGlyphs" fill="#333">10</text>
<text x="488.40" y="135.00" font-size="3.9" stroke="#333" stroke-width="0.1" textLength="2.2" lengthAdjust="spacingAndGlyphs" fill="#333">4</text>
<text x="500.70" y="137.80" font-size="6.0" stroke="#333" stroke-width="0.15" textLength="6.1" lengthAdjust="spacingAndGlyphs" fill="#333">10</text>
<text x="507.60" y="135.00" font-size="3.9" stroke="#333" stroke-width="0.1" textLength="2.2" lengthAdjust="spacingAndGlyphs" fill="#333">5</text>
<text x="76.00" y="150.20" font-size="8.8" textLength="25.2" lengthAdjust="spacingAndGlyphs" font-weight="bold" fill="#111">Live/dead</text>
<text x="208.90" y="149.60" font-size="8.8" textLength="11.3" lengthAdjust="spacingAndGlyphs" font-weight="bold" fill="#111">CD3</text>
<text x="334.50" y="149.80" font-size="8.8" textLength="11.0" lengthAdjust="spacingAndGlyphs" font-weight="bold" fill="#111">CD8</text>
<text x="456.80" y="149.60" font-size="8.8" textLength="18.4" lengthAdjust="spacingAndGlyphs" font-weight="bold" fill="#111">CXCR5</text>
<text x="14.40" y="79.10" font-size="9.5" text-anchor="middle" textLength="16.8" lengthAdjust="spacingAndGlyphs" font-weight="bold" fill="#111" transform="rotate(-90 14.40 79.10)">SSC-A</text>
<text x="144.80" y="79.00" font-size="6.2" text-anchor="middle" textLength="29.1" lengthAdjust="spacingAndGlyphs" font-weight="bold" fill="#111" transform="rotate(-90 144.80 79.00)">CD14 CD19</text>
<text x="272.20" y="79.30" font-size="9.5" text-anchor="middle" textLength="11.1" lengthAdjust="spacingAndGlyphs" font-weight="bold" fill="#111" transform="rotate(-90 272.20 79.30)">CD4</text>
<text x="398.00" y="79.00" font-size="9.2" text-anchor="middle" textLength="13.5" lengthAdjust="spacingAndGlyphs" font-weight="bold" fill="#111" transform="rotate(-90 398.00 79.00)">ICOS</text>
<text x="67.60" y="26.90" font-size="8.4" stroke="#1a1a1a" stroke-width="0.15" textLength="41.6" lengthAdjust="spacingAndGlyphs">Viable cells</text>
<text x="202.30" y="27.00" font-size="8.4" stroke="#1a1a1a" stroke-width="0.15" textLength="24.6" lengthAdjust="spacingAndGlyphs">T cells</text>
<text x="318.10" y="27.00" font-size="8.4" stroke="#1a1a1a" stroke-width="0.15" textLength="44.0" lengthAdjust="spacingAndGlyphs">CD8 T cells</text>
<text x="423.10" y="25.30" font-size="8.4" stroke="#1a1a1a" stroke-width="0.15" textLength="17.2" lengthAdjust="spacingAndGlyphs">CD8</text>
<text x="441.00" y="25.80" font-size="5.4" stroke="#1a1a1a" stroke-width="0.12" textLength="48.0" lengthAdjust="spacingAndGlyphs">CXCR5+ ICOS+</text>
<text x="491.60" y="24.30" font-size="6.3" stroke="#1a1a1a" stroke-width="0.12" textLength="17.2" lengthAdjust="spacingAndGlyphs">cells</text>
<g fill="none" stroke="#000" stroke-width="1.3">
<path d="M46.9 126V62.3H91.8L82.1 109.5L72.6 125.8"/>
<rect x="219.5" y="74.4" width="33.8" height="50.8"/>
<rect x="334.6" y="83.9" width="31.7" height="33.4"/>
<rect x="462.5" y="52.1" width="32.2" height="34.2"/>
</g>
<text x="473.00" y="47.20" font-size="4.8" stroke="#222" stroke-width="0.22" textLength="9.6" lengthAdjust="spacingAndGlyphs" fill="#222">11.4</text>
<line x1="103.5" y1="110.6" x2="140.8" y2="110.6" stroke="#000" stroke-width="1.3"/>
<path d="M135.8 106.0L146.8 110.6L135.8 115.19999999999999L137.8 110.6Z" fill="#000"/>
<line x1="236.8" y1="111.6" x2="273.8" y2="111.6" stroke="#000" stroke-width="1.3"/>
<path d="M268.8 107.0L279.8 111.6L268.8 116.19999999999999L270.8 111.6Z" fill="#000"/>
<line x1="357.5" y1="110.4" x2="395.0" y2="110.4" stroke="#000" stroke-width="1.3"/>
<path d="M390.0 105.80000000000001L401.0 110.4L390.0 115.0L392.0 110.4Z" fill="#000"/>
<path fill="none" stroke="#161616" stroke-width="0.62" d="M446.0 114.5L443.2 114.6L441.2 114.0L439.2 113.1L437.5 112.2L435.8 111.0L434.2 109.8L433.0 108.5L431.8 106.9L430.8 105.0L430.1 103.0L429.9 100.5L430.3 98.2L431.0 96.1L432.0 94.2L433.0 92.5L433.8 90.8L434.0 88.2L434.5 85.8L435.2 83.8L436.2 82.0L437.2 80.3L438.4 78.8L439.8 77.3L441.0 76.0L442.5 74.6L444.0 73.3L445.5 72.2L447.2 71.0L448.8 70.0L450.5 69.0L452.5 68.0L454.2 67.2L456.2 66.4L458.2 65.6L460.2 65.0L462.2 64.2L464.2 63.3L466.0 62.3L467.5 61.2L469.2 60.0L471.0 59.0L473.2 58.6L475.5 59.2L477.0 60.4L478.2 62.0L479.2 63.7L480.1 65.5L480.8 67.7L481.2 70.0L481.5 72.2L481.6 75.0L481.5 77.5L481.2 80.0L480.7 82.2L480.1 84.5L479.4 86.5L478.5 88.3L477.3 90.0L476.0 91.3L475.0 92.8L476.2 94.5L477.2 96.1L477.9 98.2L477.5 100.6L476.5 102.2L475.0 103.7L473.5 104.9L471.8 105.9L470.0 106.8L468.0 107.6L466.0 108.3L463.8 108.9L461.8 109.7L460.0 110.5L458.0 111.3L456.0 112.1L454.0 112.8L451.8 113.4L449.5 114.0L447.2 114.4ZM445.0 114.3L442.8 114.2L441.0 113.5L439.2 112.7L437.5 111.8L436.1 110.8L434.8 109.7L433.5 108.4L432.4 107.0L431.5 105.5L430.8 103.5L430.5 101.5L430.7 99.2L431.2 97.3L432.0 95.7L433.0 94.1L434.1 92.8L435.2 91.4L436.5 90.1L437.5 88.5L437.8 86.5L438.2 84.4L439.0 82.6L439.9 81.0L441.0 79.5L442.0 78.2L443.2 77.0L444.5 75.8L446.0 74.5L447.3 73.5L448.8 72.5L450.4 71.5L452.0 70.6L453.8 69.8L455.5 69.0L457.2 68.3L459.0 67.8L461.0 67.1L462.8 66.3L464.2 65.4L465.8 64.4L467.2 63.2L468.5 62.2L470.0 61.1L471.5 60.2L473.8 60.0L475.5 60.7L476.8 61.9L477.8 63.3L478.6 65.0L479.3 66.8L479.9 68.8L480.3 70.8L480.5 73.0L480.6 75.5L480.5 77.9L480.2 80.0L479.8 82.2L479.2 84.1L478.5 86.0L477.7 87.5L476.6 89.0L475.2 90.2L473.8 91.0L473.2 92.4L474.5 93.6L475.8 94.9L476.8 96.3L477.4 98.2L477.0 100.5L476.1 102.0L475.0 103.3L473.5 104.5L472.0 105.5L470.5 106.3L468.8 107.0L466.8 107.8L465.0 108.3L463.0 108.9L461.2 109.7L459.5 110.5L457.8 111.2L456.0 111.8L454.0 112.5L452.2 113.0L450.2 113.5L448.0 113.9L445.8 114.2ZM467.1 90.8L467.2 90.7L467.5 90.7L467.8 90.7L468.0 90.6L468.2 90.5L468.3 90.5L468.3 90.2L468.2 90.1L468.2 90.0L468.0 89.9L467.9 89.8L467.8 89.6L467.6 89.5L467.5 89.4L467.2 89.3L467.2 89.2L467.0 89.1L466.9 89.0L466.8 88.9L466.5 88.8L466.5 88.7L466.2 88.6L466.1 88.5L466.0 88.4L465.8 88.3L465.7 88.2L465.5 88.1L465.2 88.0L465.2 88.0L465.0 87.9L464.8 87.8L464.6 87.8L464.5 87.7L464.2 87.6L464.0 87.6L463.8 87.5L463.5 87.5L463.5 87.5L463.2 87.5L463.0 87.5L462.8 87.5L462.8 87.5L462.5 87.5L462.2 87.6L462.0 87.6L461.8 87.7L461.6 87.8L461.5 87.8L461.2 87.9L461.0 88.0L461.0 88.0L460.8 88.1L460.5 88.2L460.5 88.3L460.3 88.5L460.2 88.5L460.2 88.8L460.2 88.8L460.3 89.0L460.5 89.2L460.6 89.2L460.8 89.3L461.0 89.5L461.0 89.5L461.2 89.6L461.4 89.8L461.5 89.8L461.8 89.9L462.0 90.0L462.0 90.0L462.2 90.1L462.5 90.2L462.5 90.2L462.8 90.3L463.0 90.4L463.2 90.5L463.5 90.5L463.5 90.5L463.8 90.5L464.0 90.5L464.2 90.6L464.5 90.6L464.8 90.6L465.0 90.6L465.2 90.7L465.5 90.7L465.8 90.7L466.0 90.7L466.2 90.7L466.5 90.7L466.6 90.8L466.8 90.8L467.0 90.8L467.1 90.8ZM446.8 113.8L443.8 113.9L441.4 113.2L439.2 112.3L437.5 111.2L435.8 109.9L434.2 108.5L432.8 106.8L431.8 104.8L431.2 102.5L431.2 99.6L432.0 97.2L433.0 95.3L434.2 93.7L435.8 92.2L437.5 90.8L439.2 89.5L441.0 88.3L442.8 87.1L443.7 85.0L444.2 82.5L445.2 80.5L446.5 78.9L448.0 77.4L449.6 76.0L451.5 74.8L453.3 73.8L455.5 72.8L457.6 72.0L459.9 71.2L461.9 70.2L463.5 69.0L465.1 67.5L466.6 66.0L468.1 64.5L469.8 63.0L471.5 61.9L474.2 61.7L476.0 63.0L477.2 64.8L478.1 66.8L478.8 69.0L479.3 71.5L479.5 74.2L479.5 77.2L479.2 79.8L478.7 82.2L477.9 84.5L476.8 86.5L475.5 88.1L473.5 89.2L470.8 89.3L468.8 88.3L467.0 87.0L465.5 85.8L463.6 84.5L461.1 84.2L459.0 85.1L457.0 86.1L455.2 87.2L456.8 88.5L459.0 89.4L461.2 90.2L463.5 90.9L466.0 91.2L468.8 91.6L471.2 92.2L473.0 93.2L474.8 94.6L476.1 96.2L476.8 98.5L476.2 101.0L475.0 102.7L473.5 104.1L471.7 105.2L469.8 106.3L467.5 107.2L465.2 108.0L463.0 108.6L461.0 109.6L458.8 110.5L456.8 111.3L454.5 112.0L452.1 112.8L449.8 113.3L447.0 113.7ZM473.0 87.6L472.2 87.6L471.5 87.6L471.0 87.5L470.3 87.2L469.8 87.0L469.4 86.8L469.0 86.5L468.5 86.1L468.1 85.8L467.8 85.4L467.4 85.0L467.0 84.6L466.7 84.2L466.3 83.8L466.0 83.3L465.8 83.0L465.4 82.5L465.1 82.0L464.8 81.5L464.6 81.0L464.3 80.5L464.1 80.0L463.9 79.5L463.8 78.9L463.6 78.2L463.5 77.5L463.5 76.8L463.5 76.0L463.6 75.2L463.8 74.8L463.9 74.0L464.1 73.5L464.3 73.0L464.5 72.5L464.8 71.9L465.0 71.4L465.2 71.0L465.5 70.5L465.8 70.0L466.1 69.5L466.5 69.0L466.8 68.6L467.0 68.2L467.4 67.8L467.8 67.3L468.0 67.0L468.4 66.5L468.8 66.1L469.1 65.8L469.5 65.3L469.8 65.0L470.2 64.6L470.6 64.2L471.0 64.0L471.5 63.7L472.0 63.5L472.8 63.3L473.5 63.3L474.1 63.5L474.6 63.8L475.0 64.1L475.4 64.5L475.8 64.9L476.0 65.3L476.3 65.8L476.6 66.2L476.8 66.8L477.0 67.3L477.2 67.9L477.4 68.5L477.6 69.0L477.8 69.7L477.9 70.2L478.0 70.8L478.1 71.5L478.2 72.2L478.3 72.8L478.4 73.5L478.5 74.2L478.5 75.0L478.5 75.5L478.5 76.2L478.5 76.8L478.5 77.5L478.4 78.2L478.3 79.0L478.2 79.5L478.1 80.2L478.0 80.8L477.8 81.5L477.6 82.0L477.5 82.5L477.2 83.0L477.0 83.6L476.8 84.1L476.5 84.6L476.2 85.0L475.9 85.5L475.5 86.0L475.2 86.2L474.8 86.7L474.3 87.0L473.8 87.2L473.2 87.5ZM445.2 113.5L443.8 113.5L442.2 113.2L441.0 112.7L439.8 112.1L438.7 111.5L437.6 110.8L436.5 110.0L435.6 109.2L434.8 108.4L434.0 107.5L433.2 106.4L432.6 105.2L432.1 104.0L431.8 102.5L431.7 101.0L431.9 99.5L432.2 98.2L432.8 97.0L433.5 95.8L434.2 94.8L435.0 93.8L435.8 93.0L436.8 92.2L437.8 91.4L438.8 90.7L440.0 90.0L441.0 89.5L442.2 88.9L443.5 88.4L445.0 88.1L446.5 88.0L448.2 87.9L450.0 88.0L451.5 88.1L453.0 88.4L454.5 88.7L455.8 89.0L457.2 89.4L458.5 89.8L460.0 90.2L461.2 90.7L462.5 91.1L464.0 91.4L465.5 91.5L467.0 91.8L468.5 92.0L470.0 92.4L471.2 92.9L472.5 93.5L473.5 94.2L474.4 95.0L475.2 95.9L475.9 97.0L476.3 98.2L476.2 99.8L475.7 101.0L475.0 102.1L474.2 103.0L473.2 103.8L472.2 104.6L471.1 105.2L470.0 105.8L468.8 106.4L467.5 106.9L466.2 107.4L465.0 107.8L463.5 108.2L462.2 108.7L461.1 109.2L459.9 109.8L458.7 110.2L457.4 110.8L456.0 111.2L454.8 111.7L453.5 112.1L452.0 112.5L450.8 112.8L449.2 113.1L447.8 113.3L446.0 113.5ZM473.2 85.5L472.5 85.7L471.8 85.7L471.0 85.6L470.5 85.3L470.0 85.1L469.6 84.8L469.2 84.5L468.8 84.0L468.5 83.7L468.1 83.2L467.8 82.8L467.5 82.3L467.2 81.9L467.0 81.4L466.8 80.8L466.6 80.2L466.4 79.8L466.2 79.2L466.1 78.5L466.0 77.8L466.0 77.2L466.0 76.5L466.0 75.9L466.1 75.2L466.2 74.5L466.3 74.0L466.5 73.2L466.6 72.8L466.8 72.2L467.0 71.8L467.2 71.2L467.5 70.7L467.8 70.2L468.0 69.8L468.3 69.2L468.7 68.8L469.0 68.3L469.2 67.9L469.6 67.5L470.0 67.0L470.3 66.8L470.8 66.3L471.1 66.0L471.5 65.7L472.0 65.4L472.6 65.2L473.2 65.2L473.8 65.4L474.2 65.6L474.7 66.0L475.0 66.4L475.3 66.8L475.6 67.2L475.8 67.8L476.0 68.2L476.2 68.8L476.5 69.5L476.6 70.0L476.8 70.5L476.9 71.2L477.0 71.8L477.2 72.5L477.2 73.2L477.3 73.8L477.4 74.5L477.4 75.2L477.4 76.0L477.4 76.8L477.4 77.5L477.3 78.2L477.2 78.8L477.1 79.5L477.0 80.0L476.8 80.8L476.6 81.2L476.4 81.8L476.2 82.2L476.0 82.8L475.7 83.2L475.4 83.8L475.0 84.2L474.8 84.5L474.2 85.0L473.8 85.2L473.3 85.5ZM447.5 113.0L446.0 113.1L444.5 113.1L443.0 113.1L442.0 112.7L441.0 112.2L440.0 111.7L439.0 111.2L438.0 110.5L437.2 110.0L436.3 109.2L435.5 108.5L434.8 107.8L434.2 107.0L433.6 106.0L433.1 105.0L432.7 104.0L432.4 102.8L432.3 101.2L432.4 99.8L432.7 98.5L433.1 97.5L433.6 96.5L434.2 95.6L434.9 94.8L435.6 94.0L436.4 93.2L437.2 92.5L438.0 91.9L439.0 91.3L439.9 90.8L440.8 90.2L441.8 89.8L443.0 89.3L444.2 89.0L445.5 88.8L446.8 88.7L448.2 88.6L449.8 88.6L451.2 88.7L452.5 88.9L453.8 89.1L455.0 89.3L456.2 89.6L457.5 89.9L458.8 90.2L459.8 90.5L461.0 90.9L462.1 91.2L463.2 91.6L464.6 91.8L466.0 91.9L467.2 92.2L468.5 92.4L469.8 92.7L470.8 93.1L471.8 93.6L472.8 94.2L473.5 94.8L474.3 95.5L475.0 96.4L475.5 97.4L475.7 98.8L475.5 100.2L475.0 101.2L474.5 102.0L473.8 102.9L473.0 103.6L472.1 104.2L471.2 104.8L470.2 105.4L469.2 105.9L468.2 106.3L467.2 106.8L466.0 107.2L465.0 107.5L463.8 107.9L462.7 108.2L461.6 108.8L460.5 109.2L459.5 109.7L458.5 110.1L457.4 110.5L456.2 110.9L455.2 111.2L454.0 111.6L452.8 112.0L451.7 112.2L450.5 112.5L449.2 112.8L447.8 113.0ZM472.8 82.8L472.2 82.9L471.8 82.9L471.3 82.8L471.0 82.6L470.8 82.5L470.5 82.2L470.2 82.0L469.9 81.8L469.7 81.5L469.5 81.2L469.2 80.8L469.1 80.5L469.0 80.2L468.8 79.8L468.7 79.5L468.6 79.0L468.5 78.8L468.4 78.2L468.3 77.8L468.3 77.2L468.3 76.8L468.3 76.2L468.3 75.8L468.4 75.2L468.4 74.8L468.5 74.5L468.6 74.0L468.7 73.5L468.8 73.2L469.0 72.8L469.1 72.5L469.2 72.2L469.4 71.8L469.6 71.5L469.8 71.2L470.0 70.8L470.2 70.5L470.3 70.2L470.5 70.0L470.8 69.7L471.0 69.4L471.2 69.2L471.5 69.0L471.8 68.8L472.2 68.6L472.5 68.5L473.0 68.5L473.2 68.5L473.6 68.8L473.9 69.0L474.1 69.2L474.3 69.5L474.5 69.8L474.7 70.2L474.8 70.5L475.0 70.9L475.1 71.2L475.2 71.7L475.3 72.0L475.5 72.5L475.5 72.8L475.6 73.2L475.7 73.8L475.7 74.2L475.8 74.5L475.8 75.0L475.8 75.5L475.8 76.0L475.8 76.5L475.8 77.0L475.8 77.3L475.7 77.8L475.6 78.2L475.5 78.8L475.5 79.0L475.3 79.5L475.2 79.8L475.1 80.2L475.0 80.5L474.8 80.9L474.6 81.2L474.4 81.5L474.2 81.8L474.0 82.0L473.7 82.2L473.4 82.5L473.0 82.7L472.8 82.8ZM448.0 112.5L446.5 112.7L445.0 112.7L443.5 112.6L442.3 112.2L441.2 111.8L440.2 111.3L439.3 110.8L438.5 110.2L437.5 109.5L436.8 108.9L436.0 108.1L435.2 107.3L434.7 106.5L434.1 105.5L433.6 104.5L433.2 103.4L433.0 102.0L433.0 101.0L433.2 99.5L433.5 98.5L434.0 97.3L434.5 96.4L435.1 95.5L435.8 94.8L436.5 94.0L437.3 93.2L438.2 92.5L439.0 92.0L440.0 91.4L441.0 90.9L442.0 90.4L443.0 90.0L444.2 89.7L445.5 89.4L447.0 89.3L448.2 89.2L449.8 89.2L451.0 89.3L452.5 89.4L453.8 89.6L455.0 89.8L456.2 90.1L457.5 90.3L458.8 90.6L460.0 91.0L461.0 91.3L462.2 91.7L463.5 92.0L464.8 92.1L466.0 92.3L467.2 92.6L468.5 92.8L469.8 93.2L470.8 93.6L471.8 94.1L472.7 94.8L473.5 95.5L474.2 96.2L474.7 97.2L475.0 98.2L475.0 99.7L474.7 100.8L474.1 101.8L473.5 102.5L472.7 103.2L471.8 104.0L471.0 104.5L470.0 105.1L469.0 105.6L468.0 106.0L466.9 106.5L465.8 106.9L464.8 107.3L463.5 107.7L462.5 108.0L461.5 108.5L460.3 109.0L459.2 109.4L458.2 109.8L457.1 110.2L456.0 110.6L454.9 111.0L453.8 111.3L452.5 111.7L451.2 112.0L450.0 112.2L448.8 112.4ZM472.2 77.1L472.0 77.1L471.9 77.0L471.8 76.8L471.8 76.5L471.7 76.5L471.7 76.2L471.8 76.0L471.8 76.0L471.8 75.8L471.9 75.5L472.0 75.4L472.2 75.2L472.2 75.2L472.4 75.2L472.5 75.3L472.6 75.5L472.7 75.8L472.7 76.0L472.7 76.2L472.7 76.5L472.6 76.8L472.5 77.0L472.5 77.0L472.2 77.1ZM448.8 112.0L447.2 112.2L445.8 112.2L444.2 112.2L442.9 112.0L441.8 111.5L440.8 111.0L439.9 110.5L439.0 109.9L438.1 109.2L437.2 108.5L436.5 107.8L435.8 107.0L435.2 106.2L434.7 105.2L434.2 104.2L433.9 103.0L433.7 101.8L433.8 100.5L434.0 99.2L434.4 98.0L434.9 97.0L435.5 96.1L436.2 95.2L436.9 94.5L437.7 93.8L438.5 93.1L439.3 92.5L440.2 91.9L441.2 91.4L442.2 90.9L443.3 90.5L444.5 90.2L445.8 90.0L447.2 89.8L448.5 89.7L450.0 89.7L451.2 89.8L452.8 89.9L454.0 90.1L455.2 90.3L456.5 90.5L457.8 90.8L459.0 91.1L460.2 91.4L461.4 91.8L462.5 92.1L463.8 92.4L465.0 92.5L466.2 92.8L467.5 93.0L468.8 93.3L470.0 93.8L471.0 94.2L471.9 94.8L472.8 95.5L473.5 96.2L474.0 97.1L474.4 98.2L474.4 99.8L474.0 100.8L473.4 101.8L472.8 102.6L472.0 103.3L471.0 104.0L470.2 104.5L469.2 105.1L468.2 105.5L467.2 106.0L466.0 106.5L465.0 106.8L463.8 107.2L462.8 107.6L461.8 108.0L460.7 108.5L459.5 109.0L458.5 109.4L457.5 109.8L456.2 110.2L455.2 110.5L454.0 110.9L452.8 111.2L451.7 111.5L450.4 111.8L449.0 112.0ZM448.8 111.5L447.2 111.6L445.8 111.7L444.2 111.6L443.0 111.4L442.0 110.9L441.0 110.4L440.0 109.8L439.1 109.2L438.2 108.5L437.5 107.9L436.8 107.0L436.1 106.2L435.5 105.2L435.1 104.2L434.8 103.2L434.5 101.8L434.6 100.2L434.9 99.0L435.3 98.0L435.8 97.0L436.5 96.0L437.1 95.2L437.8 94.5L438.7 93.8L439.5 93.1L440.5 92.5L441.4 92.0L442.5 91.5L443.5 91.1L444.8 90.8L446.0 90.6L447.2 90.4L448.8 90.3L450.2 90.3L451.8 90.3L453.2 90.5L454.5 90.6L455.8 90.8L457.0 91.1L458.2 91.3L459.5 91.6L460.8 92.0L461.8 92.3L463.0 92.7L464.2 92.8L465.5 93.1L466.8 93.3L468.0 93.6L469.2 94.0L470.2 94.4L471.2 95.0L472.0 95.6L472.8 96.3L473.3 97.2L473.7 98.5L473.6 100.0L473.2 101.0L472.5 102.0L471.8 102.8L471.0 103.4L470.2 104.0L469.2 104.5L468.2 105.1L467.2 105.5L466.1 106.0L465.0 106.4L464.0 106.8L462.8 107.2L461.8 107.6L460.8 108.1L459.7 108.5L458.5 109.0L457.5 109.4L456.4 109.8L455.2 110.1L454.0 110.5L453.0 110.8L451.8 111.0L450.5 111.3L449.0 111.5ZM447.2 111.0L446.0 111.0L445.0 110.9L443.8 110.8L442.8 110.5L442.0 110.2L441.2 109.7L440.4 109.2L439.7 108.8L439.0 108.2L438.2 107.5L437.8 107.0L437.1 106.2L436.6 105.5L436.2 104.8L435.8 103.8L435.6 102.8L435.4 101.8L435.5 100.5L435.6 99.5L436.0 98.5L436.3 97.8L436.8 96.9L437.2 96.2L437.8 95.5L438.5 94.8L439.2 94.2L439.8 93.8L440.6 93.2L441.5 92.8L442.2 92.4L443.1 92.0L444.0 91.7L445.0 91.5L446.0 91.2L447.2 91.1L448.2 91.0L449.5 90.9L450.8 90.9L452.0 91.0L453.0 91.0L454.2 91.2L455.2 91.3L456.4 91.5L457.5 91.7L458.5 91.9L459.5 92.1L460.5 92.4L461.5 92.7L462.5 93.0L463.5 93.2L464.5 93.4L465.5 93.6L466.5 93.8L467.5 94.0L468.5 94.3L469.5 94.7L470.2 95.1L471.0 95.6L471.8 96.2L472.2 96.9L472.7 97.8L472.9 98.8L472.8 100.0L472.5 100.8L472.0 101.6L471.4 102.2L470.8 102.9L470.0 103.4L469.2 103.9L468.5 104.3L467.6 104.8L466.8 105.2L465.9 105.5L465.0 105.9L464.0 106.2L463.2 106.5L462.2 106.9L461.5 107.3L460.5 107.7L459.8 108.0L458.8 108.4L457.8 108.8L457.0 109.0L456.0 109.4L455.0 109.7L454.0 109.9L453.0 110.2L452.0 110.4L451.0 110.6L450.0 110.8L448.8 110.9L447.5 111.0ZM449.5 110.0L448.2 110.1L447.0 110.1L445.8 110.1L444.8 110.0L443.5 109.8L442.7 109.5L441.8 109.0L441.0 108.6L440.2 108.1L439.6 107.5L439.0 107.0L438.3 106.2L437.8 105.5L437.3 104.8L437.0 104.0L436.6 103.0L436.5 102.0L436.4 100.8L436.6 99.8L436.9 98.8L437.2 97.9L437.8 97.0L438.2 96.3L438.8 95.7L439.5 95.0L440.2 94.5L440.9 94.0L441.7 93.5L442.5 93.1L443.4 92.8L444.3 92.5L445.3 92.2L446.5 92.0L447.5 91.9L448.8 91.8L450.0 91.8L451.0 91.7L452.0 91.8L453.2 91.8L454.5 92.0L455.5 92.1L456.6 92.2L457.8 92.4L458.8 92.7L459.8 92.9L460.8 93.2L461.8 93.5L462.7 93.8L463.8 94.0L464.8 94.2L465.8 94.4L466.8 94.6L467.8 94.8L468.8 95.2L469.5 95.5L470.2 96.0L471.0 96.7L471.5 97.4L471.8 98.2L471.9 99.5L471.6 100.5L471.2 101.2L470.5 102.0L470.0 102.5L469.2 103.0L468.4 103.5L467.5 104.0L466.8 104.3L465.8 104.8L465.0 105.1L464.0 105.5L463.2 105.8L462.2 106.2L461.5 106.6L460.5 107.0L459.8 107.3L458.8 107.7L457.9 108.0L457.0 108.3L456.0 108.6L455.0 108.9L454.0 109.2L453.0 109.4L452.0 109.6L451.0 109.8L449.8 110.0ZM448.5 109.0L447.5 109.1L446.5 109.1L445.5 109.0L444.8 108.9L443.8 108.8L443.0 108.5L442.4 108.2L441.8 107.9L441.2 107.5L440.5 107.0L440.0 106.6L439.5 106.1L439.0 105.5L438.7 105.0L438.2 104.3L438.0 103.7L437.8 103.0L437.6 102.0L437.5 101.0L437.6 100.0L437.8 99.2L438.1 98.5L438.4 97.8L438.8 97.2L439.2 96.6L439.8 96.1L440.2 95.6L440.8 95.2L441.4 94.8L442.0 94.4L442.7 94.0L443.3 93.8L444.1 93.5L445.0 93.3L445.8 93.1L446.8 93.0L447.5 93.0L448.5 92.9L449.5 92.9L450.5 92.9L451.5 92.9L452.5 92.9L453.5 92.9L454.5 93.0L455.2 93.1L456.2 93.2L457.0 93.3L458.0 93.4L458.8 93.6L459.5 93.8L460.5 94.0L461.2 94.2L462.0 94.5L462.8 94.7L463.5 95.0L464.2 95.1L465.0 95.3L466.0 95.4L466.8 95.6L467.5 95.8L468.3 96.0L469.0 96.4L469.6 96.8L470.1 97.2L470.5 97.9L470.7 98.8L470.6 99.8L470.3 100.5L470.0 101.0L469.5 101.5L468.9 102.0L468.2 102.4L467.7 102.8L467.0 103.1L466.2 103.4L465.5 103.8L464.9 104.0L464.2 104.3L463.5 104.6L462.8 105.0L462.1 105.2L461.5 105.6L460.8 105.9L460.0 106.2L459.3 106.5L458.6 106.8L457.9 107.0L457.2 107.2L456.4 107.5L455.5 107.8L454.8 108.0L454.0 108.1L453.2 108.3L452.2 108.5L451.5 108.6L450.7 108.8L449.8 108.9L448.8 109.0ZM448.2 108.3L447.2 108.3L446.2 108.4L445.2 108.3L444.5 108.2L443.8 108.0L443.0 107.7L442.2 107.3L441.7 107.0L441.0 106.5L440.5 106.1L440.0 105.5L439.6 105.0L439.2 104.5L438.8 103.8L438.6 103.0L438.4 102.2L438.3 101.2L438.4 100.2L438.5 99.5L438.8 98.8L439.1 98.0L439.5 97.4L440.0 96.8L440.5 96.3L441.0 95.8L441.5 95.4L442.2 95.0L442.8 94.7L443.5 94.4L444.2 94.1L445.0 93.9L446.0 93.8L446.8 93.7L447.8 93.7L448.8 93.7L449.5 93.8L450.5 93.8L451.5 93.9L452.5 93.9L453.5 94.0L454.5 94.0L455.2 94.0L456.2 94.1L457.2 94.1L458.2 94.2L459.0 94.4L459.8 94.6L460.5 94.8L461.2 95.1L462.0 95.4L462.8 95.7L463.5 95.9L464.2 96.1L465.2 96.2L466.0 96.3L467.0 96.4L467.8 96.6L468.5 97.0L469.0 97.3L469.5 97.9L469.8 98.5L469.8 99.5L469.5 100.2L469.1 100.8L468.6 101.2L468.0 101.6L467.2 102.0L466.5 102.2L465.8 102.5L465.2 102.8L464.5 103.0L463.8 103.4L463.0 103.7L462.5 104.0L461.8 104.4L461.1 104.8L460.5 105.0L459.8 105.3L459.0 105.6L458.2 105.9L457.5 106.1L456.8 106.3L456.0 106.6L455.2 106.8L454.2 107.0L453.5 107.2L452.8 107.3L452.0 107.5L451.0 107.7L450.2 107.9L449.5 108.1L448.5 108.2ZM447.8 107.5L446.8 107.6L445.8 107.6L445.0 107.5L444.0 107.3L443.2 107.0L442.7 106.8L442.0 106.3L441.5 105.9L441.0 105.5L440.5 104.9L440.0 104.2L439.7 103.8L439.4 103.0L439.2 102.2L439.1 101.2L439.2 100.2L439.4 99.5L439.6 98.8L440.0 98.0L440.4 97.5L440.8 97.0L441.3 96.5L441.9 96.0L442.5 95.6L443.2 95.2L443.8 95.0L444.5 94.8L445.5 94.5L446.2 94.4L447.2 94.4L448.2 94.5L449.0 94.6L449.8 94.8L450.7 95.0L451.4 95.2L452.1 95.5L453.0 95.8L453.8 95.8L454.5 95.6L455.2 95.4L456.2 95.2L457.0 95.2L458.0 95.2L458.8 95.3L459.6 95.5L460.3 95.8L461.0 96.1L461.8 96.5L462.2 96.8L462.9 97.2L463.5 97.6L464.5 97.7L465.5 97.6L466.2 97.5L467.0 97.5L467.8 97.8L468.4 98.2L468.7 99.0L468.5 99.8L468.0 100.3L467.2 100.7L466.5 100.9L465.5 101.0L464.8 101.0L463.8 101.2L463.2 101.5L462.6 102.0L462.0 102.5L461.5 102.8L460.8 103.2L460.2 103.5L459.5 103.8L458.8 104.0L457.8 104.2L457.0 104.3L456.0 104.4L455.0 104.4L454.2 104.6L453.6 105.0L453.0 105.4L452.5 105.8L451.8 106.2L451.1 106.5L450.5 106.8L449.8 107.1L449.0 107.3L448.0 107.5ZM448.0 107.0L447.2 107.1L446.5 107.2L445.8 107.1L445.0 107.0L444.5 106.9L443.8 106.8L443.2 106.5L442.8 106.3L442.4 106.0L442.0 105.7L441.5 105.3L441.2 105.0L440.8 104.5L440.5 104.1L440.2 103.7L440.0 103.1L439.8 102.5L439.7 102.0L439.6 101.2L439.6 100.5L439.8 99.9L439.9 99.2L440.1 98.8L440.4 98.2L440.7 97.8L441.0 97.4L441.4 97.0L441.8 96.7L442.2 96.3L442.6 96.0L443.1 95.8L443.6 95.5L444.2 95.2L444.8 95.1L445.2 95.0L446.0 94.9L446.8 94.8L447.5 94.8L448.2 94.9L448.8 95.0L449.5 95.2L450.0 95.4L450.5 95.6L451.0 95.9L451.5 96.2L451.9 96.5L452.2 96.8L452.7 97.2L453.0 97.5L453.5 98.0L454.0 98.0L454.3 97.8L454.7 97.2L455.0 97.0L455.5 96.5L456.0 96.2L456.5 96.0L457.0 95.9L457.8 95.8L458.5 95.9L459.2 96.0L459.8 96.2L460.2 96.4L460.8 96.7L461.2 97.0L461.5 97.3L461.9 97.8L462.2 98.2L462.4 98.8L462.5 99.5L462.3 100.2L462.0 100.7L461.8 101.1L461.4 101.5L461.0 101.8L460.5 102.2L460.0 102.5L459.5 102.7L459.0 102.8L458.2 102.9L457.5 102.8L457.0 102.7L456.5 102.5L456.0 102.2L455.5 101.9L455.0 101.5L454.6 101.2L454.2 101.2L453.8 101.8L453.6 102.2L453.4 102.8L453.1 103.2L452.9 103.8L452.6 104.2L452.2 104.7L452.0 105.0L451.5 105.4L451.1 105.8L450.7 106.0L450.2 106.2L449.7 106.5L449.0 106.8L448.5 106.9L448.0 107.0ZM467.0 99.6L466.8 99.6L466.5 99.6L466.4 99.5L466.2 99.4L466.2 99.2L466.2 99.0L466.2 98.9L466.4 98.8L466.5 98.7L466.8 98.6L467.0 98.6L467.2 98.7L467.3 98.8L467.4 99.0L467.4 99.2L467.2 99.4L467.1 99.5L467.0 99.6ZM447.8 106.5L447.2 106.6L446.8 106.6L446.2 106.7L445.8 106.6L445.2 106.6L444.8 106.5L444.5 106.4L444.0 106.3L443.8 106.2L443.4 106.0L443.0 105.8L442.8 105.7L442.5 105.5L442.2 105.2L441.9 105.0L441.7 104.8L441.5 104.5L441.2 104.2L441.0 103.9L440.8 103.5L440.7 103.2L440.5 102.9L440.4 102.5L440.2 102.1L440.2 101.8L440.2 101.2L440.2 100.8L440.2 100.2L440.3 100.0L440.4 99.5L440.5 99.2L440.7 98.8L440.8 98.5L441.0 98.2L441.2 97.9L441.5 97.5L441.8 97.3L442.0 97.0L442.2 96.8L442.5 96.6L442.8 96.4L443.1 96.2L443.5 96.0L443.8 95.9L444.1 95.8L444.5 95.6L444.8 95.5L445.2 95.4L445.8 95.3L446.2 95.3L446.8 95.3L447.2 95.3L447.8 95.3L448.2 95.4L448.6 95.5L449.0 95.6L449.4 95.8L449.8 95.9L450.0 96.1L450.3 96.2L450.6 96.5L450.9 96.8L451.2 97.0L451.4 97.2L451.6 97.5L451.8 97.8L452.0 98.1L452.2 98.5L452.3 98.8L452.5 99.2L452.5 99.5L452.6 100.0L452.7 100.5L452.6 101.0L452.6 101.5L452.5 101.9L452.4 102.2L452.3 102.8L452.2 103.0L452.0 103.4L451.8 103.8L451.7 104.0L451.5 104.3L451.2 104.6L451.0 104.9L450.8 105.1L450.5 105.3L450.2 105.5L449.9 105.8L449.5 105.9L449.2 106.1L448.8 106.2L448.5 106.3L448.0 106.5L447.8 106.5ZM458.8 101.8L458.5 101.8L458.2 101.8L458.0 101.8L458.0 101.7L457.8 101.7L457.5 101.6L457.2 101.5L457.2 101.5L457.0 101.4L456.8 101.2L456.8 101.2L456.5 101.0L456.5 101.0L456.3 100.8L456.2 100.7L456.1 100.5L456.0 100.4L455.9 100.2L455.8 100.0L455.8 99.8L455.7 99.8L455.7 99.5L455.6 99.2L455.6 99.0L455.6 98.8L455.7 98.5L455.7 98.2L455.8 98.2L455.8 98.0L456.0 97.8L456.0 97.7L456.1 97.5L456.2 97.4L456.4 97.2L456.5 97.1L456.7 97.0L456.8 96.9L457.0 96.8L457.1 96.8L457.2 96.7L457.5 96.6L457.8 96.6L458.0 96.6L458.2 96.6L458.5 96.6L458.8 96.6L459.0 96.7L459.2 96.7L459.3 96.8L459.5 96.8L459.8 96.9L459.9 97.0L460.0 97.1L460.2 97.2L460.2 97.3L460.5 97.5L460.5 97.5L460.7 97.8L460.8 97.8L460.9 98.0L461.0 98.2L461.0 98.2L461.1 98.5L461.2 98.8L461.2 99.0L461.2 99.2L461.2 99.5L461.1 99.8L461.1 100.0L461.0 100.1L460.9 100.2L460.8 100.5L460.8 100.6L460.6 100.8L460.5 100.9L460.4 101.0L460.2 101.1L460.1 101.2L460.0 101.3L459.8 101.4L459.6 101.5L459.5 101.6L459.2 101.6L459.0 101.7L458.8 101.8L458.8 101.8ZM447.2 106.0L446.8 106.1L446.2 106.1L445.8 106.1L445.3 106.0L445.0 105.9L444.5 105.8L444.2 105.7L443.8 105.5L443.5 105.4L443.2 105.2L442.8 105.0L442.5 104.8L442.3 104.5L442.0 104.2L441.8 104.0L441.6 103.8L441.5 103.5L441.2 103.1L441.1 102.8L441.0 102.5L440.9 102.0L440.8 101.5L440.8 101.1L440.8 100.9L440.8 100.5L440.9 100.0L441.0 99.5L441.1 99.2L441.2 98.9L441.5 98.5L441.6 98.2L441.8 98.0L442.0 97.8L442.2 97.5L442.5 97.2L442.8 97.0L443.2 96.8L443.5 96.6L443.8 96.4L444.1 96.2L444.5 96.1L444.8 96.0L445.2 95.9L445.8 95.8L446.2 95.8L446.8 95.8L447.2 95.8L447.8 95.9L448.2 96.0L448.5 96.1L449.0 96.2L449.2 96.4L449.5 96.5L449.8 96.8L450.1 97.0L450.4 97.2L450.6 97.5L450.8 97.8L451.0 98.1L451.2 98.5L451.3 98.8L451.5 99.2L451.6 99.5L451.7 100.0L451.7 100.5L451.7 101.0L451.7 101.5L451.6 102.0L451.5 102.3L451.4 102.8L451.2 103.0L451.0 103.5L450.9 103.8L450.7 104.0L450.5 104.3L450.2 104.5L450.0 104.8L449.7 105.0L449.4 105.2L449.0 105.5L448.8 105.6L448.3 105.8L448.0 105.8L447.5 106.0L447.2 106.0ZM459.0 100.6L458.8 100.6L458.5 100.7L458.2 100.7L458.0 100.6L457.8 100.5L457.7 100.5L457.5 100.4L457.4 100.2L457.2 100.1L457.1 100.0L457.0 99.8L457.0 99.8L456.9 99.5L456.8 99.2L456.8 99.0L456.8 98.8L456.9 98.5L457.0 98.2L457.0 98.2L457.2 98.0L457.2 97.9L457.4 97.8L457.5 97.7L457.8 97.6L458.0 97.5L458.0 97.5L458.2 97.5L458.5 97.5L458.8 97.5L458.8 97.5L459.0 97.6L459.2 97.7L459.4 97.8L459.5 97.9L459.7 98.0L459.8 98.1L459.9 98.2L460.0 98.5L460.0 98.5L460.1 98.8L460.1 99.0L460.1 99.2L460.1 99.5L460.0 99.7L460.0 99.8L459.8 100.0L459.8 100.1L459.6 100.2L459.5 100.3L459.2 100.5L459.2 100.5L459.0 100.6ZM447.2 105.3L447.0 105.3L446.8 105.3L446.5 105.3L446.2 105.4L446.0 105.3L445.8 105.3L445.5 105.3L445.2 105.3L445.2 105.2L445.0 105.2L444.8 105.1L444.5 105.1L444.3 105.0L444.2 105.0L444.0 104.9L443.8 104.8L443.8 104.7L443.5 104.6L443.4 104.5L443.2 104.4L443.0 104.2L443.0 104.2L442.8 104.0L442.8 104.0L442.5 103.8L442.5 103.7L442.3 103.5L442.2 103.4L442.1 103.2L442.0 103.0L442.0 103.0L441.9 102.8L441.8 102.5L441.7 102.5L441.6 102.2L441.6 102.0L441.5 101.8L441.5 101.7L441.5 101.5L441.4 101.2L441.4 101.0L441.4 100.8L441.4 100.5L441.5 100.2L441.5 100.1L441.5 100.0L441.6 99.8L441.7 99.5L441.8 99.3L441.8 99.2L441.9 99.0L442.0 98.8L442.0 98.8L442.2 98.5L442.2 98.4L442.4 98.2L442.5 98.1L442.6 98.0L442.8 97.8L442.8 97.8L443.0 97.6L443.1 97.5L443.2 97.4L443.4 97.2L443.5 97.2L443.8 97.1L443.8 97.0L444.0 96.9L444.2 96.8L444.4 96.8L444.5 96.7L444.8 96.6L445.0 96.5L445.1 96.5L445.2 96.5L445.5 96.4L445.8 96.4L446.0 96.4L446.2 96.3L446.5 96.3L446.8 96.4L447.0 96.4L447.2 96.4L447.5 96.5L447.7 96.5L447.8 96.5L448.0 96.6L448.2 96.7L448.4 96.8L448.5 96.8L448.8 96.9L448.8 97.0L449.0 97.1L449.2 97.2L449.2 97.3L449.5 97.5L449.5 97.5L449.7 97.8L449.8 97.8L449.9 98.0L450.0 98.1L450.1 98.2L450.2 98.5L450.2 98.5L450.4 98.8L450.5 99.0L450.5 99.1L450.5 99.2L450.6 99.5L450.7 99.8L450.7 100.0L450.8 100.2L450.8 100.2L450.8 100.5L450.8 100.8L450.8 101.0L450.8 101.2L450.8 101.3L450.7 101.5L450.7 101.8L450.6 102.0L450.5 102.2L450.5 102.4L450.5 102.5L450.4 102.8L450.2 103.0L450.2 103.0L450.1 103.2L450.0 103.4L450.0 103.5L449.8 103.8L449.8 103.8L449.6 104.0L449.5 104.1L449.3 104.2L449.2 104.3L449.0 104.5L449.0 104.5L448.8 104.7L448.6 104.8L448.5 104.8L448.2 104.9L448.1 105.0L448.0 105.0L447.8 105.1L447.5 105.2L447.3 105.2L447.2 105.3ZM447.0 104.0L446.8 104.1L446.5 104.1L446.2 104.2L446.0 104.2L445.8 104.2L445.5 104.1L445.2 104.1L445.0 104.1L444.8 104.0L444.8 104.0L444.5 103.9L444.2 103.8L444.2 103.8L444.0 103.6L443.8 103.5L443.8 103.5L443.5 103.3L443.5 103.2L443.2 103.0L443.2 103.0L443.0 102.8L443.0 102.7L442.9 102.5L442.8 102.3L442.7 102.2L442.6 102.0L442.5 101.8L442.5 101.7L442.5 101.5L442.4 101.2L442.4 101.0L442.4 100.8L442.4 100.5L442.4 100.2L442.5 100.0L442.5 99.9L442.5 99.8L442.6 99.5L442.8 99.3L442.8 99.2L442.9 99.0L443.0 98.9L443.1 98.8L443.2 98.5L443.3 98.5L443.5 98.3L443.5 98.2L443.8 98.1L443.9 98.0L444.0 97.9L444.2 97.8L444.2 97.7L444.5 97.6L444.8 97.5L444.8 97.5L445.0 97.4L445.2 97.4L445.5 97.3L445.8 97.3L446.0 97.3L446.2 97.3L446.5 97.3L446.8 97.3L447.0 97.4L447.2 97.5L447.4 97.5L447.5 97.6L447.8 97.7L447.9 97.8L448.0 97.8L448.2 98.0L448.2 98.0L448.5 98.2L448.5 98.3L448.7 98.5L448.8 98.6L448.9 98.8L449.0 99.0L449.0 99.0L449.1 99.2L449.2 99.5L449.2 99.7L449.3 99.8L449.3 100.0L449.3 100.2L449.4 100.5L449.4 100.8L449.3 101.0L449.3 101.2L449.3 101.5L449.2 101.5L449.2 101.8L449.1 102.0L449.0 102.2L449.0 102.3L448.9 102.5L448.8 102.7L448.7 102.8L448.5 103.0L448.5 103.0L448.3 103.2L448.2 103.3L448.0 103.5L448.0 103.5L447.8 103.7L447.6 103.8L447.5 103.8L447.2 103.9L447.0 104.0L447.0 104.0ZM446.0 101.9L445.8 101.9L445.5 101.9L445.2 101.9L445.0 101.8L444.8 101.8L444.8 101.7L444.5 101.5L444.5 101.5L444.3 101.2L444.2 101.0L444.2 101.0L444.2 100.8L444.2 100.5L444.2 100.2L444.2 100.2L444.3 100.0L444.5 99.8L444.5 99.7L444.7 99.5L444.8 99.5L445.0 99.3L445.2 99.2L445.2 99.2L445.5 99.2L445.8 99.2L446.0 99.2L446.0 99.2L446.2 99.4L446.5 99.5L446.5 99.5L446.7 99.8L446.8 99.9L446.8 100.0L446.9 100.2L446.9 100.5L446.9 100.8L446.8 101.0L446.8 101.2L446.7 101.2L446.5 101.5L446.5 101.5L446.2 101.7L446.2 101.8L446.0 101.9Z"/>
<g stroke="#000" stroke-width="1.25" fill="none">
<path d="M37.5 179.3V336M33.3 335.5H160.8M33.8 284.5H37.5M33.8 233.5H37.5M33.8 182.0H37.5"/>
</g>
<text x="30.70" y="337.90" font-size="6.8" text-anchor="end" textLength="3.4" lengthAdjust="spacingAndGlyphs" fill="#6a6a6a">0</text>
<text x="30.70" y="286.60" font-size="6.8" text-anchor="end" textLength="7.1" lengthAdjust="spacingAndGlyphs" fill="#6a6a6a">10</text>
<text x="30.70" y="235.40" font-size="6.8" text-anchor="end" textLength="7.1" lengthAdjust="spacingAndGlyphs" fill="#6a6a6a">20</text>
<text x="30.70" y="184.20" font-size="6.8" text-anchor="end" textLength="7.1" lengthAdjust="spacingAndGlyphs" fill="#6a6a6a">30</text>
<g fill="#b0103a" stroke="#8a0c32" stroke-width="0.3"><circle cx="45.8" cy="334.6" r="2.45"/><circle cx="49.2" cy="334.4" r="2.45"/><circle cx="52.6" cy="334.7" r="2.45"/><circle cx="56.0" cy="334.3" r="2.45"/><circle cx="59.4" cy="334.6" r="2.45"/><circle cx="62.6" cy="334.4" r="2.45"/><circle cx="64.5" cy="329.2" r="2.45"/><circle cx="68.4" cy="334.3" r="2.45"/></g>
<path stroke="#1a1a1a" stroke-width="1.15" d="M84.1 324.5H113.4M90.7 321.5H106.8M98.5 321.5V324.5"/>
<g fill="#b0103a" stroke="#8a0c32" stroke-width="0.3"><circle cx="98.4" cy="241.6" r="2.45"/><circle cx="95.1" cy="264.7" r="2.45"/><circle cx="102.0" cy="266.1" r="2.45"/><circle cx="98.4" cy="277.4" r="2.45"/><circle cx="98.4" cy="285.6" r="2.45"/><circle cx="98.5" cy="317.0" r="2.45"/><circle cx="94.6" cy="323.3" r="2.45"/><circle cx="91.0" cy="327.6" r="2.45"/><circle cx="94.5" cy="327.6" r="2.45"/><circle cx="98.5" cy="327.6" r="2.45"/><circle cx="102.5" cy="327.6" r="2.45"/><circle cx="106.0" cy="327.6" r="2.45"/><circle cx="88.5" cy="330.6" r="2.45"/><circle cx="91.8" cy="330.6" r="2.45"/><circle cx="98.5" cy="330.6" r="2.45"/><circle cx="105.2" cy="330.6" r="2.45"/><circle cx="108.6" cy="330.6" r="2.45"/><circle cx="87.2" cy="333.6" r="2.45"/><circle cx="90.5" cy="333.6" r="2.45"/><circle cx="94.0" cy="333.6" r="2.45"/><circle cx="97.5" cy="333.6" r="2.45"/><circle cx="101.0" cy="333.6" r="2.45"/><circle cx="104.5" cy="333.6" r="2.45"/><circle cx="108.0" cy="333.6" r="2.45"/><circle cx="111.2" cy="333.6" r="2.45"/><circle cx="88.8" cy="335.6" r="2.45"/><circle cx="92.2" cy="335.6" r="2.45"/><circle cx="95.6" cy="335.6" r="2.45"/><circle cx="99.0" cy="335.6" r="2.45"/><circle cx="102.4" cy="335.6" r="2.45"/><circle cx="105.8" cy="335.6" r="2.45"/><circle cx="109.2" cy="335.6" r="2.45"/></g>
<path stroke="#1a1a1a" stroke-width="1.15" d="M125.0 328.5H153.8"/>
<g fill="#b0103a" stroke="#8a0c32" stroke-width="0.3"><circle cx="139.1" cy="207.0" r="2.45"/><circle cx="128.9" cy="325.6" r="2.45"/><circle cx="135.9" cy="325.4" r="2.45"/><circle cx="142.8" cy="325.4" r="2.45"/><circle cx="149.7" cy="325.8" r="2.45"/><circle cx="132.4" cy="327.0" r="2.45"/><circle cx="139.4" cy="326.8" r="2.45"/><circle cx="146.3" cy="327.0" r="2.45"/><circle cx="128.5" cy="330.5" r="2.45"/><circle cx="132.0" cy="330.0" r="2.45"/><circle cx="139.5" cy="330.2" r="2.45"/><circle cx="146.5" cy="330.3" r="2.45"/><circle cx="150.5" cy="330.8" r="2.45"/><circle cx="130.5" cy="333.2" r="2.45"/><circle cx="134.5" cy="333.5" r="2.45"/><circle cx="138.6" cy="333.4" r="2.45"/><circle cx="141.5" cy="333.8" r="2.45"/><circle cx="145.2" cy="333.4" r="2.45"/><circle cx="149.0" cy="333.2" r="2.45"/><circle cx="128.9" cy="335.0" r="2.45"/><circle cx="132.5" cy="335.2" r="2.45"/><circle cx="136.0" cy="335.3" r="2.45"/><circle cx="139.5" cy="335.2" r="2.45"/><circle cx="143.0" cy="335.3" r="2.45"/><circle cx="146.5" cy="335.2" r="2.45"/><circle cx="150.0" cy="335.0" r="2.45"/></g>
<text x="57.60" y="347.50" font-size="5.8" stroke="#333" stroke-width="0.12" text-anchor="middle" textLength="9.4" lengthAdjust="spacingAndGlyphs" fill="#333">rLN</text>
<text x="98.80" y="347.50" font-size="5.8" stroke="#333" stroke-width="0.12" text-anchor="middle" textLength="12.2" lengthAdjust="spacingAndGlyphs" fill="#333">cHL</text>
<text x="139.60" y="347.50" font-size="5.8" stroke="#333" stroke-width="0.12" text-anchor="middle" textLength="23.0" lengthAdjust="spacingAndGlyphs" fill="#333">B - NHL</text>
<text x="57.45" y="355.0" font-size="5.9" text-anchor="middle" fill="#333" stroke="#333" stroke-width="0.12" textLength="18.6" lengthAdjust="spacingAndGlyphs">(<tspan font-style="italic">n</tspan> = 8)</text>
<text x="98.65" y="355.0" font-size="5.9" text-anchor="middle" fill="#333" stroke="#333" stroke-width="0.12" textLength="23.2" lengthAdjust="spacingAndGlyphs">(<tspan font-style="italic">n</tspan> = 43)</text>
<text x="139.25" y="355.0" font-size="5.9" text-anchor="middle" fill="#333" stroke="#333" stroke-width="0.12" textLength="22.4" lengthAdjust="spacingAndGlyphs">(<tspan font-style="italic">n</tspan> = 35)</text>
<text transform="translate(18.3 256.8) rotate(-90)" font-size="8.2" text-anchor="middle" fill="#222" stroke="#222" stroke-width="0.28" textLength="78.5" lengthAdjust="spacingAndGlyphs">% CXCR5<tspan font-size="4.8" dy="-2.8">+</tspan><tspan dy="2.8"> ICOS</tspan><tspan font-size="4.8" dy="-2.8">+</tspan><tspan dy="2.8"> CD8 T cells</tspan></text>
<g stroke="#000" stroke-width="1.25" fill="none">
<path d="M205.5 180.2V336M202.6 335.5H296.5M202.2 297.5H205.5M202.2 259.5H205.5M202.2 221.0H205.5M202.2 182.5H205.5"/>
</g>
<text x="199.80" y="337.60" font-size="6.8" text-anchor="end" textLength="3.4" lengthAdjust="spacingAndGlyphs" fill="#6a6a6a">0</text>
<text x="199.80" y="299.80" font-size="6.8" text-anchor="end" textLength="3.4" lengthAdjust="spacingAndGlyphs" fill="#6a6a6a">5</text>
<text x="199.80" y="261.60" font-size="6.8" text-anchor="end" textLength="7.1" lengthAdjust="spacingAndGlyphs" fill="#6a6a6a">10</text>
<text x="199.80" y="223.40" font-size="6.8" text-anchor="end" textLength="7.1" lengthAdjust="spacingAndGlyphs" fill="#6a6a6a">15</text>
<text x="199.80" y="185.10" font-size="6.8" text-anchor="end" textLength="7.1" lengthAdjust="spacingAndGlyphs" fill="#6a6a6a">20</text>
<path stroke="#1a1a1a" stroke-width="1.15" d="M212.7 279.5H244.6M220.0 264.5H237.4M220.0 294.5H237.4M228.5 264.5V294.5"/>
<g fill="#b0103a" stroke="#8a0c32" stroke-width="0.3"><circle cx="228.6" cy="211.0" r="2.45"/><circle cx="228.5" cy="248.7" r="2.45"/><circle cx="228.5" cy="271.6" r="2.45"/><circle cx="228.5" cy="282.8" r="2.45"/><circle cx="225.2" cy="308.3" r="2.45"/><circle cx="231.9" cy="311.7" r="2.45"/><circle cx="228.5" cy="321.7" r="2.45"/></g>
<path stroke="#1a1a1a" stroke-width="1.15" d="M257.7 327.5H289.6"/>
<g fill="#b0103a" stroke="#8a0c32" stroke-width="0.3"><circle cx="273.6" cy="254.9" r="2.45"/><circle cx="273.6" cy="281.9" r="2.45"/><circle cx="273.5" cy="298.5" r="2.45"/><circle cx="270.1" cy="303.4" r="2.45"/><circle cx="277.2" cy="307.7" r="2.45"/><circle cx="276.8" cy="313.3" r="2.45"/><circle cx="270.2" cy="315.5" r="2.45"/><circle cx="263.3" cy="317.4" r="2.45"/><circle cx="283.7" cy="317.0" r="2.45"/><circle cx="276.8" cy="318.5" r="2.45"/><circle cx="265.2" cy="322.6" r="2.45"/><circle cx="268.8" cy="321.8" r="2.45"/><circle cx="272.2" cy="321.2" r="2.45"/><circle cx="275.6" cy="323.2" r="2.45"/><circle cx="281.4" cy="323.5" r="2.45"/><circle cx="262.9" cy="326.6" r="2.45"/><circle cx="266.8" cy="326.8" r="2.45"/><circle cx="272.5" cy="326.2" r="2.45"/><circle cx="278.3" cy="326.6" r="2.45"/><circle cx="284.5" cy="326.2" r="2.45"/><circle cx="263.3" cy="331.0" r="2.45"/><circle cx="266.3" cy="330.0" r="2.45"/><circle cx="273.3" cy="331.2" r="2.45"/><circle cx="280.3" cy="331.2" r="2.45"/><circle cx="284.3" cy="330.8" r="2.45"/><circle cx="262.9" cy="335.0" r="2.45"/><circle cx="267.5" cy="335.2" r="2.45"/><circle cx="272.2" cy="335.0" r="2.45"/><circle cx="277.5" cy="335.2" r="2.45"/><circle cx="282.5" cy="335.0" r="2.45"/><circle cx="285.6" cy="334.4" r="2.45"/></g>
<path stroke="#1a1a1a" stroke-width="1.1" fill="none" d="M233.5 204.8V199.5H272.5V204.8"/>
<text x="253.60" y="199.40" font-size="5.6" stroke="#222" stroke-width="0.2" text-anchor="middle" textLength="7.2" lengthAdjust="spacingAndGlyphs" fill="#222">***</text>
<text x="228.60" y="347.20" font-size="6.3" text-anchor="middle" fill="#222">Positive</text>
<text x="273.90" y="347.20" font-size="6.3" text-anchor="middle" fill="#222">Negative</text>
<text transform="translate(186.8 247.0) rotate(-90)" font-size="6.6" text-anchor="middle" fill="#222" stroke="#222" stroke-width="0.22" textLength="57" lengthAdjust="spacingAndGlyphs">% CXCR5<tspan font-size="3.9" dy="-2.2">+</tspan><tspan dy="2.2"> ICOS</tspan><tspan font-size="3.9" dy="-2.2">+</tspan><tspan dy="2.2"> CD8 T cells</tspan></text>
</svg>
</body></html>
